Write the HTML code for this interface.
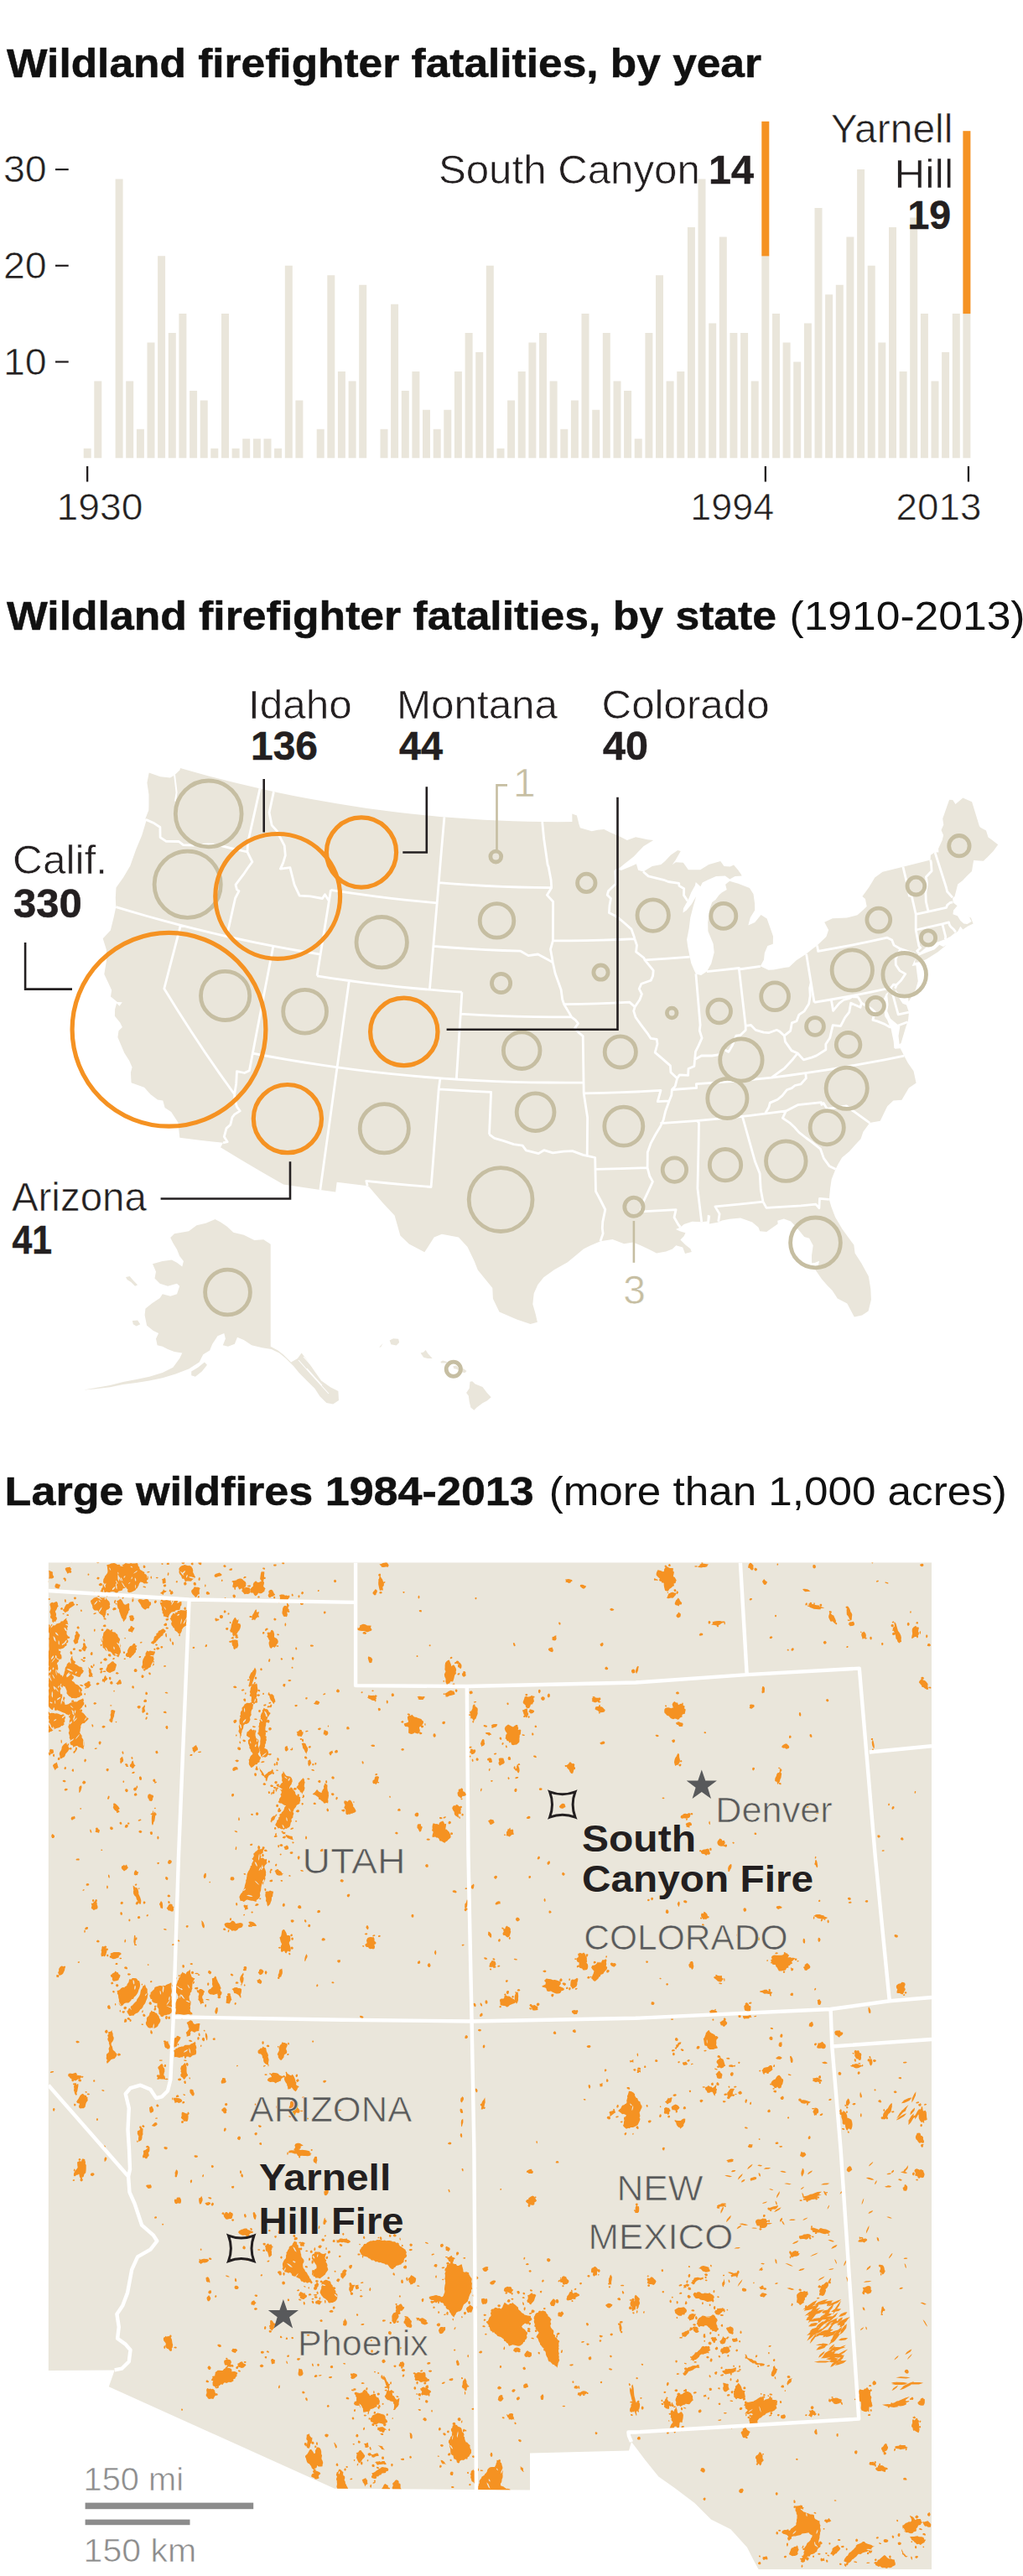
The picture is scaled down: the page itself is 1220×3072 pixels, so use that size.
<!DOCTYPE html>
<html><head><meta charset="utf-8"><title>Wildland firefighter fatalities</title>
<style>html,body{margin:0;padding:0;background:#fff}svg{display:block}text{font-family:"Liberation Sans",sans-serif}</style>
</head><body>
<svg width="1220" height="3072" viewBox="0 0 1220 3072">
<text x="8" y="91.5" font-size="48" font-weight="bold" stroke="#111" stroke-width="0.5" fill="#111" textLength="900" lengthAdjust="spacingAndGlyphs">Wildland firefighter fatalities, by year</text>
<path d="M99.7,546.2v-11.5h9v11.5zM112.3,546.2v-91.8h9v91.8zM137.6,546.2v-332.6h9v332.6zM150.2,546.2v-91.8h9v91.8zM162.9,546.2v-34.4h9v34.4zM175.5,546.2v-137.6h9v137.6zM188.1,546.2v-240.9h9v240.9zM200.8,546.2v-149.1h9v149.1zM213.4,546.2v-172.1h9v172.1zM226.1,546.2v-80.3h9v80.3zM238.7,546.2v-68.8h9v68.8zM251.3,546.2v-11.5h9v11.5zM264.0,546.2v-172.1h9v172.1zM276.6,546.2v-11.5h9v11.5zM289.2,546.2v-22.9h9v22.9zM301.9,546.2v-22.9h9v22.9zM314.5,546.2v-22.9h9v22.9zM327.1,546.2v-11.5h9v11.5zM339.8,546.2v-229.4h9v229.4zM352.4,546.2v-68.8h9v68.8zM377.7,546.2v-34.4h9v34.4zM390.3,546.2v-217.9h9v217.9zM402.9,546.2v-103.2h9v103.2zM415.6,546.2v-91.8h9v91.8zM428.2,546.2v-206.5h9v206.5zM453.5,546.2v-34.4h9v34.4zM466.1,546.2v-183.5h9v183.5zM478.8,546.2v-80.3h9v80.3zM491.4,546.2v-103.2h9v103.2zM504.0,546.2v-57.4h9v57.4zM516.7,546.2v-34.4h9v34.4zM529.3,546.2v-57.4h9v57.4zM541.9,546.2v-103.2h9v103.2zM554.6,546.2v-149.1h9v149.1zM567.2,546.2v-126.2h9v126.2zM579.8,546.2v-229.4h9v229.4zM592.5,546.2v-11.5h9v11.5zM605.1,546.2v-68.8h9v68.8zM617.7,546.2v-103.2h9v103.2zM630.4,546.2v-137.6h9v137.6zM643.0,546.2v-149.1h9v149.1zM655.6,546.2v-91.8h9v91.8zM668.3,546.2v-34.4h9v34.4zM680.9,546.2v-68.8h9v68.8zM693.5,546.2v-172.1h9v172.1zM706.2,546.2v-57.4h9v57.4zM718.8,546.2v-149.1h9v149.1zM731.5,546.2v-91.8h9v91.8zM744.1,546.2v-80.3h9v80.3zM756.7,546.2v-22.9h9v22.9zM769.4,546.2v-149.1h9v149.1zM782.0,546.2v-217.9h9v217.9zM794.6,546.2v-91.8h9v91.8zM807.3,546.2v-103.2h9v103.2zM819.9,546.2v-275.3h9v275.3zM832.5,546.2v-332.6h9v332.6zM845.2,546.2v-160.6h9v160.6zM857.8,546.2v-263.8h9v263.8zM870.4,546.2v-149.1h9v149.1zM883.1,546.2v-149.1h9v149.1zM895.7,546.2v-91.8h9v91.8zM908.3,546.2v-240.9h9v240.9zM921.0,546.2v-172.1h9v172.1zM933.6,546.2v-137.6h9v137.6zM946.2,546.2v-114.7h9v114.7zM958.9,546.2v-160.6h9v160.6zM971.5,546.2v-298.2h9v298.2zM984.1,546.2v-195.0h9v195.0zM996.8,546.2v-206.5h9v206.5zM1009.4,546.2v-263.8h9v263.8zM1022.1,546.2v-344.1h9v344.1zM1034.7,546.2v-229.4h9v229.4zM1047.3,546.2v-137.6h9v137.6zM1060.0,546.2v-275.3h9v275.3zM1072.6,546.2v-103.2h9v103.2zM1085.2,546.2v-286.8h9v286.8zM1097.9,546.2v-172.1h9v172.1zM1110.5,546.2v-91.8h9v91.8zM1123.1,546.2v-126.2h9v126.2zM1135.8,546.2v-172.1h9v172.1zM1148.4,546.2v-172.1h9v172.1z" fill="#eae6db"/>
<rect x="908.3" y="144.8" width="9" height="160.6" fill="#f59222"/>
<rect x="1148.4" y="156.2" width="9" height="217.9" fill="#f59222"/>
<text x="3.9" y="446.70000000000005" font-size="44" stroke="#fff" stroke-width="0.6" fill="#231f20" textLength="51.8" lengthAdjust="spacingAndGlyphs">10</text>
<rect x="66" y="430.4" width="15.7" height="2.2" fill="#231f20"/>
<text x="3.9" y="332.00000000000006" font-size="44" stroke="#fff" stroke-width="0.6" fill="#231f20" textLength="51.8" lengthAdjust="spacingAndGlyphs">20</text>
<rect x="66" y="315.7" width="15.7" height="2.2" fill="#231f20"/>
<text x="3.9" y="217.3" font-size="44" stroke="#fff" stroke-width="0.6" fill="#231f20" textLength="51.8" lengthAdjust="spacingAndGlyphs">30</text>
<rect x="66" y="201.0" width="15.7" height="2.2" fill="#231f20"/>
<rect x="103.0" y="556" width="2.3" height="18.5" fill="#231f20"/>
<rect x="911.7" y="556" width="2.3" height="18.5" fill="#231f20"/>
<rect x="1153.8" y="556" width="2.3" height="18.5" fill="#231f20"/>
<text x="67.5" y="620" font-size="44" stroke="#fff" stroke-width="0.6" fill="#231f20" textLength="103" lengthAdjust="spacingAndGlyphs">1930</text>
<text x="823.3" y="620" font-size="44" stroke="#fff" stroke-width="0.6" fill="#231f20" textLength="99.8" lengthAdjust="spacingAndGlyphs">1994</text>
<text x="1068.6" y="620" font-size="44" stroke="#fff" stroke-width="0.6" fill="#231f20" textLength="101.8" lengthAdjust="spacingAndGlyphs">2013</text>
<text x="522.9" y="218.5" font-size="48" stroke="#fff" stroke-width="0.6" fill="#231f20" textLength="311.9" lengthAdjust="spacingAndGlyphs">South Canyon</text>
<text x="899" y="218.5" font-size="48" font-weight="bold" stroke="#231f20" stroke-width="0.5" fill="#231f20" text-anchor="end" textLength="54" lengthAdjust="spacingAndGlyphs">14</text>
<text x="1136.4" y="169.5" font-size="48" stroke="#fff" stroke-width="0.6" fill="#231f20" text-anchor="end" textLength="145.7" lengthAdjust="spacingAndGlyphs">Yarnell</text>
<text x="1137.2" y="223.5" font-size="48" stroke="#fff" stroke-width="0.6" fill="#231f20" text-anchor="end" textLength="70.6" lengthAdjust="spacingAndGlyphs">Hill</text>
<text x="1134" y="273" font-size="48" font-weight="bold" stroke="#231f20" stroke-width="0.5" fill="#231f20" text-anchor="end" textLength="51.6" lengthAdjust="spacingAndGlyphs">19</text>
<text x="8" y="751" font-size="48" font-weight="bold" stroke="#111" stroke-width="0.5" fill="#111" textLength="918" lengthAdjust="spacingAndGlyphs">Wildland firefighter fatalities, by state</text>
<text x="941.5" y="751" font-size="48" fill="#111" textLength="281" lengthAdjust="spacingAndGlyphs">(1910-2013)</text>
<path d="M177.7,921.4 191.3,926.3 202.9,927.4 208.0,924.6 214.5,918.3 215.0,916.0 231.8,920.8 248.8,925.4 265.7,929.8 282.8,934.1 299.8,938.1 316.9,942.0 334.1,945.7 351.2,949.2 368.5,952.5 385.7,955.6 403.0,958.5 420.3,961.3 437.7,963.9 455.0,966.3 472.4,968.4 489.9,970.5 507.3,972.3 524.8,973.9 542.2,975.3 559.7,976.6 577.2,977.7 594.7,978.6 612.3,979.2 629.8,979.7 647.3,980.1 664.8,980.2 682.4,980.1 682.3,970.4 687.9,972.4 690.5,983.1 691.9,987.2 705.8,991.2 712.7,989.8 720.4,989.0 728.3,993.1 737.1,996.6 747.8,1002.0 758.1,998.2 772.2,1001.2 779.2,1002.0 767.4,1009.2 755.8,1021.4 745.6,1029.6 737.0,1036.4 740.7,1038.1 752.9,1033.1 758.9,1030.2 761.1,1037.8 767.1,1039.5 777.8,1033.0 788.3,1031.0 793.3,1026.7 799.8,1019.8 808.2,1013.9 811.8,1014.9 805.6,1025.7 801.6,1031.2 805.9,1028.3 814.8,1028.8 820.9,1037.3 835.2,1037.3 845.3,1031.1 859.2,1026.9 863.5,1032.9 870.7,1033.4 875.0,1031.6 880.2,1037.4 883.5,1042.2 884.7,1044.6 876.6,1044.9 870.3,1048.5 864.8,1044.4 854.0,1044.9 843.7,1049.4 837.7,1052.6 835.4,1057.2 829.8,1052.0 828.9,1056.0 824.3,1064.2 820.5,1073.6 815.0,1083.2 814.5,1088.4 818.8,1085.5 824.6,1078.5 830.2,1068.9 826.7,1080.9 823.3,1094.2 821.7,1107.3 819.1,1120.6 820.1,1128.3 822.7,1141.4 824.3,1148.8 828.0,1157.6 829.9,1161.4 836.1,1162.9 843.0,1158.6 848.2,1149.2 851.7,1135.8 850.6,1125.4 844.4,1110.4 844.2,1100.0 846.3,1084.2 849.2,1076.1 853.4,1073.0 857.4,1067.4 860.7,1064.4 866.7,1061.1 865.1,1054.8 870.1,1050.8 880.4,1053.7 893.9,1059.0 898.5,1066.2 900.1,1077.8 900.2,1085.6 894.8,1094.2 892.3,1103.6 900.2,1100.0 907.5,1091.1 914.6,1095.4 919.4,1109.1 922.0,1116.6 921.8,1125.8 915.4,1128.0 911.8,1136.4 911.0,1144.4 906.8,1152.3 916.5,1156.8 922.3,1156.5 935.5,1154.0 941.2,1153.2 949.7,1145.3 961.6,1137.6 968.7,1131.7 974.5,1127.5 985.4,1116.9 988.1,1109.0 983.2,1099.8 992.8,1095.2 1009.9,1094.6 1022.5,1091.2 1029.0,1085.4 1033.7,1081.0 1031.9,1072.1 1028.4,1068.9 1036.4,1057.9 1043.3,1046.6 1052.6,1039.7 1076.9,1033.7 1109.6,1025.5 1109.9,1019.7 1115.0,1016.3 1119.4,1016.4 1119.1,1011.9 1123.8,1001.8 1125.1,996.1 1122.5,990.1 1125.3,983.5 1124.2,976.3 1132.1,953.7 1136.2,954.1 1139.5,959.1 1148.3,951.6 1159.1,956.2 1167.9,985.0 1169.2,986.7 1176.0,990.6 1178.5,998.5 1182.1,1000.9 1190.2,1007.3 1184.6,1015.0 1177.3,1022.6 1172.8,1026.7 1161.1,1026.1 1159.0,1038.9 1153.0,1044.7 1147.8,1050.2 1142.2,1054.4 1140.4,1061.7 1138.5,1068.9 1136.1,1070.9 1136.6,1076.2 1141.6,1080.2 1137.1,1085.5 1136.4,1090.2 1141.9,1092.2 1145.4,1098.0 1149.4,1101.5 1153.5,1102.0 1158.6,1099.0 1156.1,1093.7 1152.9,1092.7 1157.9,1094.5 1160.6,1101.4 1154.2,1104.5 1148.3,1108.6 1145.3,1104.8 1142.0,1111.1 1138.5,1112.8 1133.6,1116.8 1127.3,1120.1 1117.5,1123.7 1108.3,1126.5 1100.1,1133.4 1095.9,1136.8 1093.1,1141.7 1090.6,1145.5 1087.6,1152.1 1092.4,1151.3 1093.6,1160.9 1094.8,1170.0 1092.0,1180.0 1087.0,1189.1 1083.6,1194.5 1082.8,1188.2 1076.3,1186.7 1069.3,1182.4 1067.5,1178.8 1068.6,1183.9 1073.5,1192.2 1076.5,1196.8 1081.0,1198.5 1084.0,1207.2 1083.0,1216.8 1080.5,1224.0 1077.5,1234.0 1074.5,1244.0 1072.6,1245.2 1071.5,1235.3 1073.3,1224.2 1069.5,1221.1 1062.0,1214.7 1058.2,1206.1 1059.5,1197.9 1058.3,1187.5 1059.4,1183.2 1056.8,1185.1 1053.3,1192.5 1051.6,1194.2 1053.9,1200.4 1055.3,1212.1 1058.3,1216.8 1060.7,1222.9 1048.5,1218.8 1055.5,1222.7 1062.5,1226.6 1064.1,1234.2 1065.7,1241.9 1066.3,1249.7 1067.6,1250.8 1073.7,1250.3 1078.3,1259.2 1082.7,1267.6 1089.5,1277.3 1092.6,1291.5 1083.8,1297.4 1075.4,1311.7 1065.4,1312.4 1058.2,1319.2 1049.7,1336.8 1037.2,1339.1 1029.4,1349.8 1026.5,1358.2 1019.2,1366.1 1012.8,1373.3 1004.1,1380.6 999.8,1387.8 996.5,1394.2 991.7,1406.2 990.1,1417.0 988.8,1430.3 991.3,1439.1 996.1,1451.4 1004.5,1465.7 1016.3,1482.1 1018.3,1484.4 1019.6,1494.6 1027.3,1506.4 1035.8,1521.9 1038.3,1537.1 1038.9,1549.9 1035.6,1563.4 1028.1,1568.6 1018.8,1570.6 1010.3,1554.6 998.8,1548.6 992.6,1539.1 987.1,1533.5 980.1,1525.4 972.7,1514.8 975.6,1510.5 977.0,1503.8 971.5,1505.9 968.1,1506.3 968.0,1497.3 969.7,1485.3 965.1,1476.8 959.2,1475.1 949.6,1463.3 943.1,1456.4 934.8,1453.5 927.2,1455.8 927.7,1459.6 914.2,1469.1 906.2,1468.2 904.5,1463.7 897.1,1457.5 883.1,1452.4 869.9,1453.7 861.1,1455.6 855.7,1457.7 845.8,1459.6 847.2,1449.8 843.8,1448.8 843.3,1456.6 836.7,1457.2 825.5,1456.8 815.7,1460.1 811.5,1463.5 806.0,1465.9 810.7,1468.2 817.5,1470.3 815.6,1474.3 811.4,1478.5 817.4,1484.5 823.4,1489.3 824.8,1493.1 817.0,1494.9 814.2,1487.4 806.2,1485.3 801.9,1489.5 794.2,1492.5 783.0,1494.4 773.7,1489.7 761.0,1483.9 755.3,1481.5 744.2,1483.3 730.5,1478.0 716.0,1480.2 703.8,1485.6 695.9,1489.6 688.1,1496.1 676.9,1505.2 661.0,1514.3 648.4,1523.2 641.4,1532.1 636.7,1542.4 635.3,1555.2 638.6,1566.7 640.9,1576.8 632.6,1578.9 616.3,1573.5 595.5,1564.5 587.9,1548.8 587.3,1536.0 569.8,1514.6 565.7,1504.1 557.5,1486.9 546.9,1475.5 526.9,1471.7 517.7,1475.5 506.3,1493.3 487.8,1483.5 477.4,1473.5 470.6,1449.5 456.5,1434.4 439.8,1415.1 438.2,1414.2 401.7,1409.8 400.2,1421.4 381.9,1418.9 359.9,1415.8 338.0,1412.4 312.7,1398.0 287.7,1383.3 263.0,1368.3 266.1,1362.8 240.2,1360.0 214.3,1356.8 213.4,1348.1 212.3,1338.5 204.2,1326.0 196.6,1321.0 194.3,1312.4 188.0,1311.4 179.7,1305.3 172.0,1296.7 156.6,1291.3 155.9,1279.0 157.6,1272.8 154.2,1265.1 148.2,1255.4 140.4,1237.0 141.5,1229.2 145.9,1225.0 143.2,1219.6 136.9,1211.7 137.1,1203.6 139.1,1196.6 142.5,1199.7 145.8,1195.2 140.0,1194.9 132.0,1188.5 133.2,1180.7 124.3,1161.8 126.9,1146.2 126.9,1132.6 122.7,1119.3 131.8,1109.6 135.5,1094.4 138.3,1081.7 137.8,1070.6 138.5,1058.6 147.2,1046.3 155.3,1032.5 162.2,1013.0 169.2,996.2 174.4,978.9 173.5,975.9 177.3,966.3 177.5,959.7 177.5,947.6 175.4,933.5ZM1091.0,1148.1 1096.5,1147.3 1104.7,1144.0 1118.5,1135.2 1128.9,1126.7 1124.9,1129.0 1120.3,1126.7 1114.7,1132.2 1104.7,1136.0 1095.6,1139.8 1091.9,1143.1Z" fill="#eae6db"/>
<path d="M203.2,1476.0 207.9,1471.3 225.1,1468.2 234.5,1461.3 245.4,1458.8 256.4,1454.1 262.7,1457.2 270.5,1462.5 278.3,1469.7 290.8,1472.8 303.3,1479.1 314.3,1478.2 322.7,1483.8 322.7,1605.8 331.5,1610.5 337.7,1615.2 347.1,1624.5 354.9,1619.9 359.6,1613.6 365.9,1621.4 375.3,1635.5 383.1,1646.4 394.0,1654.3 403.4,1659.0 404.0,1669.9 397.2,1674.6 389.3,1673.0 381.5,1665.2 375.3,1655.8 365.9,1646.4 356.5,1637.1 350.2,1629.2 340.9,1619.9 333.0,1613.6 323.6,1608.9 312.7,1607.3 300.2,1604.2 290.8,1598.0 283.0,1594.8 279.9,1602.7 272.0,1605.8 265.8,1604.2 268.9,1596.4 267.3,1590.1 259.5,1593.3 253.3,1602.7 250.1,1610.5 242.3,1615.2 237.6,1624.5 225.1,1632.4 209.5,1638.6 193.8,1643.3 178.2,1646.4 162.6,1648.9 146.9,1651.1 131.3,1654.3 112.5,1656.5 100.0,1657.4 131.3,1652.1 146.9,1648.0 162.6,1644.9 178.2,1641.8 193.8,1637.1 206.3,1630.8 214.2,1619.9 217.3,1613.6 207.9,1612.0 200.1,1608.9 193.8,1605.8 187.6,1604.2 186.0,1596.4 189.1,1590.1 182.9,1587.0 175.1,1580.8 172.6,1568.2 173.5,1560.4 181.3,1554.2 190.7,1547.9 193.8,1543.2 203.2,1545.7 211.0,1543.2 214.2,1533.8 211.0,1530.7 200.1,1533.8 190.7,1530.7 184.5,1524.5 186.0,1516.6 182.0,1507.3 193.8,1504.1 204.8,1502.6 211.0,1505.7 217.3,1510.4 218.9,1504.1 214.2,1497.9 211.0,1490.0 206.3,1482.2ZM150.0,1522.9 154.7,1522.0 159.4,1527.6 164.1,1532.3 161.0,1533.8 156.3,1529.1 151.6,1526.0ZM157.9,1575.1 164.1,1574.5 167.3,1579.2 162.6,1581.4 158.8,1579.2ZM228.2,1635.5 236.1,1630.8 243.9,1624.5 247.0,1627.7 240.8,1635.5 232.9,1641.8 228.2,1640.2ZM452.3,1606.4 456.7,1602.0 454.1,1606.4ZM464.6,1598.5 469.0,1596.2 475.2,1596.7 476.1,1601.1 472.6,1604.6 466.4,1603.2ZM501.6,1613.4 505.1,1612.6 507.7,1609.9 510.4,1614.3 515.7,1620.1 510.4,1620.1 505.1,1618.7ZM525.3,1624.0 528.0,1622.6 533.3,1624.0 532.4,1625.4 526.2,1625.4ZM540.3,1629.3 543.8,1628.4 546.5,1631.0 552.6,1631.9 556.5,1634.9 554.4,1637.2 549.1,1636.0 544.7,1632.8 541.2,1631.9ZM560.5,1647.7 563.2,1647.2 566.7,1650.4 575.5,1653.9 580.8,1660.9 585.7,1666.2 580.8,1670.6 575.5,1673.3 568.5,1678.5 565.3,1681.7 561.4,1678.5 559.7,1671.5 558.8,1664.5 556.1,1660.9 559.7,1655.7Z" fill="#eae6db"/>
<path d="M356,1622L372,1640L392,1662M362,1618L380,1638L398,1655M366,1632L384,1652" fill="none" stroke="#fff" stroke-width="1.1"/>
<path d="M173.9,977.4 183.9,981.8 190.9,986.5 191.1,998.6 198.2,1003.4 213.2,1003.5 218.6,1007.7 230.6,1008.2 247.7,1006.8 258.7,1007.4 276.8,1011.8 295.0,1016.0M310.0,940.4 302.8,972.6 295.5,1005.0 295.0,1016.0 300.9,1027.8 295.1,1035.8 290.4,1042.7 281.0,1055.2 282.5,1060.8 285.0,1062.7 280.6,1071.0 270.4,1116.6M138.3,1081.7 156.8,1087.2 175.3,1092.5 193.9,1097.7 212.5,1102.6 231.2,1107.4 249.9,1111.9 268.7,1116.3 287.5,1120.4 306.4,1124.4 325.3,1128.1 344.2,1131.6 363.2,1135.0 382.2,1138.1M215.4,1103.4 208.9,1128.6 202.3,1153.8 195.8,1179.0 211.6,1204.5 227.8,1229.8 244.5,1255.1 261.8,1280.1 279.6,1305.0 279.8,1310.4 282.6,1320.2 286.2,1324.9 279.8,1328.9 277.0,1332.4 274.8,1341.2 270.0,1345.6 267.3,1355.6 271.2,1361.7 266.1,1362.8M279.6,1305.0 281.7,1292.2 282.5,1277.7 291.6,1279.5 297.4,1276.7 303.1,1247.0 308.8,1217.3 314.5,1187.6 320.2,1157.9 325.9,1128.2M326.4,944.1 321.1,969.0 324.1,984.1 330.0,990.6 334.5,999.4 339.3,1008.7 340.3,1020.2 337.7,1028.9 334.4,1036.1 345.9,1034.7 351.1,1055.1 357.2,1068.1 370.1,1068.8 384.5,1071.5 387.5,1066.7 392.4,1074.6M394.5,1061.3 390.4,1086.9 386.3,1112.5 382.2,1138.1 378.1,1163.8M394.5,1061.3 412.5,1064.1 430.6,1066.7 448.7,1069.1 466.8,1071.3 484.9,1073.3 503.0,1075.1 521.2,1076.8M529.9,974.3 527.7,999.8 525.5,1025.4 523.4,1051.0 521.2,1076.8 519.0,1102.6 516.8,1128.4 514.6,1154.3 512.4,1180.2M378.1,1163.8 397.2,1166.8 416.4,1169.5 435.5,1172.1 454.7,1174.4 473.9,1176.6 493.2,1178.5 512.4,1180.2 531.7,1181.8 550.9,1183.1M416.4,1169.5 412.5,1197.2 408.7,1225.0 404.9,1252.7 401.0,1280.5 397.2,1308.2 393.4,1336.0 389.5,1363.6 385.7,1391.3 381.9,1418.9M301.4,1256.2 321.9,1260.0 342.5,1263.6 363.1,1267.0 383.7,1270.2 404.4,1273.1 425.1,1275.8 445.8,1278.3 466.6,1280.6 487.4,1282.7 508.2,1284.5 529.0,1286.1 549.9,1287.5 570.7,1288.6 591.6,1289.6 612.4,1290.3 633.3,1290.8 654.2,1291.0 675.1,1291.1 696.0,1290.9M550.9,1183.1 549.3,1209.1 547.6,1235.1 546.0,1261.1 544.3,1287.1M549.3,1209.1 571.3,1210.4 593.3,1211.4 615.4,1212.1 637.4,1212.6 659.5,1212.8 681.5,1212.8M516.8,1128.4 537.6,1130.0 558.4,1131.4 579.2,1132.6 600.0,1133.5 620.9,1134.2 630.1,1139.6 641.5,1138.0 654.6,1145.1 659.3,1147.8M523.2,1052.6 542.4,1054.1 561.6,1055.4 580.8,1056.5 600.0,1057.4 619.3,1058.0 638.5,1058.4 657.7,1058.7M646.7,980.1 648.7,1000.5 649.8,1008.2 653.1,1031.3 654.2,1033.9 657.1,1049.4 657.7,1058.7 652.4,1067.4 659.6,1075.2 659.4,1121.8 656.5,1132.2 658.4,1142.6 659.3,1147.8 662.1,1160.8 665.9,1171.2 669.1,1180.3 670.7,1192.0 672.7,1197.7 678.6,1207.6 681.5,1212.8 686.5,1216.7 689.5,1220.6 685.6,1225.8 689.6,1231.0 695.2,1235.6 695.7,1269.8 696.2,1303.9 700.6,1332.5 700.2,1378.3M659.4,1121.8 678.9,1121.8 698.4,1121.6 717.9,1121.1 737.4,1120.5 756.9,1119.6M672.7,1197.7 692.2,1197.4 711.7,1196.8 731.2,1196.1 750.8,1195.1 757.1,1200.8M696.2,1303.9 719.1,1303.4 742.1,1302.7 765.1,1301.7 788.0,1300.4 784.3,1313.7 798.1,1312.8M583.5,1352.9 589.6,1357.3 600.1,1360.3 612.7,1364.6 623.2,1366.1 627.4,1371.9 642.2,1375.6 648.7,1371.7 659.3,1374.9 672.1,1373.1 682.7,1372.6 695.5,1377.4 700.2,1378.3 709.7,1380.5 710.5,1420.8 712.6,1424.6 716.0,1431.0 721.8,1442.5 718.8,1456.9 718.3,1464.6 719.1,1471.1 716.0,1480.2M525.0,1285.8 523.2,1298.8 544.0,1300.2 564.8,1301.4 585.6,1302.4 583.5,1352.9M523.2,1298.8 520.9,1328.0 518.6,1357.2 516.4,1386.4 514.1,1415.5 488.3,1413.4 462.6,1411.0 436.8,1408.3 438.2,1414.2M710.0,1394.3 740.8,1393.7 771.7,1392.6M737.0,1036.4 733.8,1038.9 734.4,1054.0 725.5,1062.6 724.2,1067.3 728.5,1071.6 727.0,1079.4 726.4,1088.5 735.7,1093.3 743.3,1099.5 753.0,1108.1 756.2,1117.0 756.9,1119.6 759.5,1127.2 758.6,1135.1 767.9,1142.4 769.0,1144.9 774.1,1151.2 779.2,1157.4 778.6,1163.9 776.1,1169.3 764.8,1173.3 762.2,1179.2 765.4,1185.5 762.9,1192.2 757.1,1200.8 755.7,1205.6 758.1,1213.3 764.4,1222.1 772.9,1233.4 776.2,1238.4 783.2,1239.3 784.0,1245.0 781.2,1255.1 789.7,1262.4 799.4,1270.9 799.9,1278.7 807.6,1286.0 805.2,1295.4 801.3,1299.5 800.8,1306.1 798.1,1312.8 793.7,1324.9 791.2,1335.5 787.5,1343.5 781.7,1353.0 776.0,1363.7 772.3,1374.3 772.1,1392.6 774.8,1402.8 778.4,1409.1 773.5,1419.8 766.6,1434.4 764.2,1444.9 806.1,1442.6 804.0,1451.8 809.0,1460.5 811.5,1463.5M769.0,1144.9 795.9,1143.2 822.7,1141.1M767.1,1039.5 773.2,1044.9 791.4,1049.3 797.0,1051.5 809.7,1053.3 810.0,1056.4 815.7,1059.8 815.5,1067.6 819.6,1073.7 820.5,1073.6M829.9,1161.4 832.5,1191.8 835.1,1222.3 834.3,1229.0 837.1,1237.9 832.9,1247.4 829.5,1254.2 828.6,1263.5M967.2,1171.8 965.7,1178.3 966.2,1187.5 964.7,1197.0 959.2,1205.8 952.8,1210.2 950.0,1217.7 944.3,1219.9 942.6,1229.4 935.4,1235.2 929.6,1229.9 926.3,1228.3 916.7,1231.7 910.6,1231.1 901.2,1228.4 895.5,1222.5 889.2,1223.3 889.2,1228.5 882.9,1234.5 877.9,1235.1 873.2,1246.9 868.9,1254.4 862.5,1251.1 858.1,1257.6 849.1,1259.0 837.0,1258.8 828.6,1263.5 827.9,1271.4 821.0,1274.6 820.6,1282.4 810.4,1281.9 807.6,1286.0M881.4,1156.0 885.3,1189.6 889.2,1223.3M843.0,1158.6 862.2,1156.6 881.3,1154.5 881.4,1156.0 906.8,1152.3M801.3,1299.5 830.7,1297.3 830.3,1292.6 852.7,1291.1 875.2,1289.4 897.6,1287.4 920.1,1285.1 940.4,1282.5 960.8,1279.7 984.4,1276.1 1007.9,1272.3 1031.5,1268.2 1054.9,1263.8 1078.3,1259.2M960.8,1279.7 961.3,1285.9 955.1,1292.9 948.0,1294.5 944.2,1297.6 938.3,1299.8 932.9,1306.6 927.3,1311.3 918.3,1315.1 916.9,1320.5 912.2,1328.4M787.3,1339.6 808.8,1338.2 830.2,1336.6 851.7,1334.7 873.1,1332.6 894.6,1330.3 916.0,1327.7 937.3,1324.9M831.2,1336.5 833.5,1338.9 833.1,1365.1 832.5,1391.2 831.9,1417.3 836.7,1457.2M885.5,1331.8 893.0,1358.6 900.5,1385.3 906.1,1399.6 907.3,1419.1 910.0,1433.1 914.0,1440.4 955.2,1437.8 972.9,1436.1 976.9,1440.7 977.5,1429.4 983.1,1429.8 988.8,1430.3M856.7,1456.8 858.1,1447.6 852.9,1438.9 881.5,1436.2 910.0,1433.1M937.3,1324.9 933.4,1333.3 941.6,1338.8 947.7,1344.5 952.8,1350.3 961.3,1357.0 967.3,1361.4 978.4,1370.2 982.4,1381.4 989.3,1390.8 996.5,1394.2M937.3,1324.9 951.3,1317.7 979.4,1314.7 979.8,1317.3 982.1,1315.6 986.4,1322.3 1009.5,1319.0 1037.2,1339.1M920.1,1285.1 931.0,1277.1 935.7,1273.8 945.5,1263.2 951.2,1256.0 944.0,1252.9 936.4,1242.1 935.4,1235.2M951.2,1256.0 958.4,1263.9 967.9,1261.1 973.7,1258.9 984.9,1251.8 984.8,1245.2 989.7,1237.8 993.2,1222.6 1002.5,1223.6 1007.8,1213.4 1012.7,1207.2 1014.7,1196.2 1026.1,1201.2 1027.3,1195.9M991.3,1192.0 993.6,1205.3 1000.7,1196.6 1006.0,1192.5 1012.6,1190.7 1016.2,1188.5 1023.4,1189.2 1027.3,1195.9 1032.4,1199.4 1038.1,1202.3 1043.2,1206.6 1040.9,1216.3 1046.3,1217.9 1055.2,1221.4 1061.8,1225.4M971.1,1195.4 994.0,1191.5 1016.9,1187.3 1039.7,1182.8 1062.5,1178.0 1071.2,1209.8 1084.0,1207.2M961.6,1137.6 966.3,1166.5 971.1,1195.4M974.5,1127.5 975.7,1134.4 996.4,1130.7 1017.0,1126.8 1037.6,1122.6 1058.2,1118.2 1063.7,1121.0 1066.0,1127.1 1074.0,1131.7 1068.1,1143.5 1068.3,1150.6 1072.9,1157.6 1079.7,1161.4 1074.5,1169.3 1069.2,1174.4 1067.5,1178.8M1074.0,1131.7 1091.1,1137.4M1069.2,1174.4 1065.5,1174.2 1062.5,1178.0M1069.1,1223.8 1082.4,1218.8M1095.9,1136.8 1093.7,1134.1 1097.7,1130.2 1095.9,1128.2 1092.2,1109.0 1092.2,1090.3 1087.3,1068.8 1084.3,1068.2 1083.0,1059.1 1076.9,1033.7M1092.2,1109.0 1123.8,1101.9 1131.5,1099.9 1132.3,1102.9 1133.9,1105.2 1137.3,1108.3 1139.8,1111.7M1123.8,1101.9 1127.7,1117.0 1127.3,1120.1M1092.2,1090.3 1107.1,1087.1 1128.5,1082.4 1129.6,1079.4 1132.8,1076.7 1136.1,1075.8M1107.1,1087.1 1104.3,1075.3 1103.9,1064.6 1105.5,1053.5 1104.4,1045.8 1111.1,1038.7 1110.3,1028.2 1109.6,1025.5M1136.0,1070.4 1129.6,1063.3 1128.4,1058.2 1121.3,1036.0 1115.0,1016.3" fill="none" stroke="#fff" stroke-width="2.8" stroke-linejoin="round"/>
<path d="M208.1,924.2 209.2,933.0 210.6,945.1 209.0,955.6" fill="none" stroke="#fff" stroke-width="2"/>
<circle cx="248.7" cy="970.4" r="39.4" fill="none" stroke="#c6bea2" stroke-width="4.8"/>
<circle cx="223.7" cy="1054.8" r="39.6" fill="none" stroke="#c6bea2" stroke-width="4.8"/>
<circle cx="268.6" cy="1187.4" r="29.1" fill="none" stroke="#c6bea2" stroke-width="4.8"/>
<circle cx="363.6" cy="1206.2" r="25.9" fill="none" stroke="#c6bea2" stroke-width="4.8"/>
<circle cx="455.2" cy="1123.7" r="30.2" fill="none" stroke="#c6bea2" stroke-width="4.8"/>
<circle cx="591.3" cy="1021.6" r="6.4" fill="none" stroke="#c6bea2" stroke-width="4.8"/>
<circle cx="592.5" cy="1097.9" r="20.3" fill="none" stroke="#c6bea2" stroke-width="4.8"/>
<circle cx="597.6" cy="1172.5" r="11.1" fill="none" stroke="#c6bea2" stroke-width="4.8"/>
<circle cx="622.2" cy="1252.7" r="21.8" fill="none" stroke="#c6bea2" stroke-width="4.8"/>
<circle cx="699.3" cy="1052.9" r="10.7" fill="none" stroke="#c6bea2" stroke-width="4.8"/>
<circle cx="716.5" cy="1159.6" r="8.6" fill="none" stroke="#c6bea2" stroke-width="4.8"/>
<circle cx="739.8" cy="1254.4" r="18.6" fill="none" stroke="#c6bea2" stroke-width="4.8"/>
<circle cx="778.7" cy="1091.6" r="18.7" fill="none" stroke="#c6bea2" stroke-width="4.8"/>
<circle cx="862.8" cy="1092.4" r="15.0" fill="none" stroke="#c6bea2" stroke-width="4.8"/>
<circle cx="801.2" cy="1208" r="5.8" fill="none" stroke="#c6bea2" stroke-width="4.8"/>
<circle cx="857.7" cy="1206" r="13.8" fill="none" stroke="#c6bea2" stroke-width="4.8"/>
<circle cx="924.1" cy="1188.3" r="16.4" fill="none" stroke="#c6bea2" stroke-width="4.8"/>
<circle cx="972" cy="1224" r="10.4" fill="none" stroke="#c6bea2" stroke-width="4.8"/>
<circle cx="883.9" cy="1264" r="25.2" fill="none" stroke="#c6bea2" stroke-width="4.8"/>
<circle cx="1143.9" cy="1008.7" r="12.2" fill="none" stroke="#c6bea2" stroke-width="4.8"/>
<circle cx="1092.4" cy="1056.6" r="10.4" fill="none" stroke="#c6bea2" stroke-width="4.8"/>
<circle cx="1047.8" cy="1097.1" r="13.9" fill="none" stroke="#c6bea2" stroke-width="4.8"/>
<circle cx="1107" cy="1118.4" r="8.6" fill="none" stroke="#c6bea2" stroke-width="4.8"/>
<circle cx="1016.3" cy="1157" r="24.2" fill="none" stroke="#c6bea2" stroke-width="4.8"/>
<circle cx="1078.7" cy="1162.3" r="25.8" fill="none" stroke="#c6bea2" stroke-width="4.8"/>
<circle cx="1044.2" cy="1199.5" r="10.2" fill="none" stroke="#c6bea2" stroke-width="4.8"/>
<circle cx="1011.6" cy="1245.8" r="14.3" fill="none" stroke="#c6bea2" stroke-width="4.8"/>
<circle cx="867.4" cy="1309.9" r="23.6" fill="none" stroke="#c6bea2" stroke-width="4.8"/>
<circle cx="1009.7" cy="1297.8" r="24.6" fill="none" stroke="#c6bea2" stroke-width="4.8"/>
<circle cx="986.2" cy="1344.7" r="20.1" fill="none" stroke="#c6bea2" stroke-width="4.8"/>
<circle cx="937.3" cy="1384.6" r="23.8" fill="none" stroke="#c6bea2" stroke-width="4.8"/>
<circle cx="865" cy="1389.2" r="18.7" fill="none" stroke="#c6bea2" stroke-width="4.8"/>
<circle cx="804.4" cy="1395.1" r="14.2" fill="none" stroke="#c6bea2" stroke-width="4.8"/>
<circle cx="743.8" cy="1343.1" r="23.0" fill="none" stroke="#c6bea2" stroke-width="4.8"/>
<circle cx="755.9" cy="1439.3" r="11.1" fill="none" stroke="#c6bea2" stroke-width="4.8"/>
<circle cx="972.5" cy="1481.9" r="29.9" fill="none" stroke="#c6bea2" stroke-width="4.8"/>
<circle cx="458.3" cy="1345.8" r="29.1" fill="none" stroke="#c6bea2" stroke-width="4.8"/>
<circle cx="638.6" cy="1326.2" r="22.4" fill="none" stroke="#c6bea2" stroke-width="4.8"/>
<circle cx="597.1" cy="1430.6" r="37.9" fill="none" stroke="#c6bea2" stroke-width="4.8"/>
<circle cx="271.5" cy="1541" r="26.9" fill="none" stroke="#c6bea2" stroke-width="4.8"/>
<circle cx="540.8" cy="1632.8" r="8.6" fill="none" stroke="#c6bea2" stroke-width="4.8"/>
<circle cx="331.2" cy="1068.9" r="74.4" fill="none" stroke="#f59222" stroke-width="5.2"/>
<circle cx="201.5" cy="1227.8" r="115.4" fill="none" stroke="#f59222" stroke-width="5.2"/>
<circle cx="431" cy="1016.5" r="41.6" fill="none" stroke="#f59222" stroke-width="5.2"/>
<circle cx="481.8" cy="1230.4" r="40.2" fill="none" stroke="#f59222" stroke-width="5.2"/>
<circle cx="342.9" cy="1334.1" r="40.6" fill="none" stroke="#f59222" stroke-width="5.2"/>
<path d="M30.1,1124V1179.6H86" fill="none" stroke="#231f20" stroke-width="2.6"/>
<path d="M314.7,929V992.5" fill="none" stroke="#231f20" stroke-width="2.6"/>
<path d="M508.8,938.3V1016.5H480.3" fill="none" stroke="#231f20" stroke-width="2.6"/>
<path d="M736.5,950.8V1227.7H532.6" fill="none" stroke="#231f20" stroke-width="2.6"/>
<path d="M346,1385.3V1429.5H191.6" fill="none" stroke="#231f20" stroke-width="2.6"/>
<path d="M605,936.4H592.5V1013.4" fill="none" stroke="#c6bea2" stroke-width="2.6"/>
<path d="M755.9,1456V1505.8" fill="none" stroke="#c6bea2" stroke-width="2.6"/>
<text x="15.1" y="1041.5" font-size="48" stroke="#fff" stroke-width="0.6" fill="#231f20" textLength="112.9" lengthAdjust="spacingAndGlyphs">Calif.</text>
<text x="16" y="1093.5" font-size="48" font-weight="bold" stroke="#231f20" stroke-width="0.5" fill="#231f20" textLength="81.8" lengthAdjust="spacingAndGlyphs">330</text>
<text x="296" y="857" font-size="48" stroke="#fff" stroke-width="0.6" fill="#231f20" textLength="123.9" lengthAdjust="spacingAndGlyphs">Idaho</text>
<text x="299" y="906" font-size="48" font-weight="bold" stroke="#231f20" stroke-width="0.5" fill="#231f20" textLength="80" lengthAdjust="spacingAndGlyphs">136</text>
<text x="473" y="857" font-size="48" stroke="#fff" stroke-width="0.6" fill="#231f20" textLength="192" lengthAdjust="spacingAndGlyphs">Montana</text>
<text x="476" y="906" font-size="48" font-weight="bold" stroke="#231f20" stroke-width="0.5" fill="#231f20" textLength="52" lengthAdjust="spacingAndGlyphs">44</text>
<text x="717.6" y="857" font-size="48" stroke="#fff" stroke-width="0.6" fill="#231f20" textLength="200" lengthAdjust="spacingAndGlyphs">Colorado</text>
<text x="719" y="906" font-size="48" font-weight="bold" stroke="#231f20" stroke-width="0.5" fill="#231f20" textLength="54" lengthAdjust="spacingAndGlyphs">40</text>
<text x="13.9" y="1443.5" font-size="48" stroke="#fff" stroke-width="0.6" fill="#231f20" textLength="161" lengthAdjust="spacingAndGlyphs">Arizona</text>
<text x="14.5" y="1494.5" font-size="48" font-weight="bold" stroke="#231f20" stroke-width="0.5" fill="#231f20" textLength="47.5" lengthAdjust="spacingAndGlyphs">41</text>
<text x="612" y="949.5" font-size="48" stroke="#fff" stroke-width="0.6" fill="#c6bea2">1</text>
<text x="756.5" y="1555" font-size="48" stroke="#fff" stroke-width="0.6" fill="#c6bea2" text-anchor="middle">3</text>
<text x="5.6" y="1794.6" font-size="48" font-weight="bold" stroke="#111" stroke-width="0.5" fill="#111" textLength="631.2" lengthAdjust="spacingAndGlyphs">Large wildfires 1984-2013</text>
<text x="654.7" y="1794.6" font-size="48" fill="#111" textLength="546.1" lengthAdjust="spacingAndGlyphs">(more than 1,000 acres)</text>
<clipPath id="landclip"><path d="M57.8,1863.4 1111.0,1863.4 1111.0,3064.0 904.6,3064.0 898.8,3053.3 890.9,3037.7 871.4,3016.2 847.9,3004.4 828.4,2984.9 804.9,2967.3 785.4,2953.6 769.7,2934.0 758.0,2918.4 753.0,2912.0 750.0,2922.5 632.0,2925.5 632.0,2969.4 399.0,2967.8 129.8,2846.3 136.7,2826.4 57.8,2827.0Z"/></clipPath>
<path d="M57.8,1863.4 1111.0,1863.4 1111.0,3064.0 904.6,3064.0 898.8,3053.3 890.9,3037.7 871.4,3016.2 847.9,3004.4 828.4,2984.9 804.9,2967.3 785.4,2953.6 769.7,2934.0 758.0,2918.4 753.0,2912.0 750.0,2922.5 632.0,2925.5 632.0,2969.4 399.0,2967.8 129.8,2846.3 136.7,2826.4 57.8,2827.0Z" fill="#eae6db"/>
<g clip-path="url(#landclip)"><path d="M85.4,1871.1l-1.1,1.3-.9,1-1.6,1.1-1.9-.7-.6-1.3-.6-1.3 .8-1.3 1.8-.4 2-.9 .9,1.5zM63.9,2088.2l0,1.8-.9,1.2-1.2,.1-1.6,1-.8-2-.4-1.8 .3-1.7 1-1.1 1.3,.6 1.7-.1zM68.9,2106.3l-.4,1.9-1.4,.8-1.6,.6-.5-2-.9-1.1 0-2 1.1-1.6 1.5-.4 1,1.2 1.1,.8zM160.4,1930l-.9,1.4-.7,1.8-2,.1-1.7-.7-.3-1.8-.1-1.3-.8-2.2 1.8-.9 1.9-.2 1.7,.7 0,1.9zM286.5,1941.7l-1.2,2.5-1.5,1.8-1.1,2.1-1.2,1.6-1.2-.6-1.2,2.5-1-.5-.7-1.3-.1-1.9-.3-1.4-1.3,.4-.8-.9-.8-1.3 1.1-2.8 .5-2.1 .3-2.2 .8-2.2 .7-2.4 1.1-2 1.2-1.7 1.2-.2 .8,2 .7,.6 .5,.7 1.5-1.6-.2,2.6-.8,2.5 1,.2 1.9,.4 .8,2.3zM284.4,1952.5l-.9,.9-1.2,.4-1.3-.4-.7-.9 .6-.9 1.3-.3 1.3,.3zM275.7,1935.2l-.3,.7-1,.1-.6-.5-.3-.8 .6-.5 .8-.4 .6,.7zM278.4,1953.3l-.4,1.1-.7,.1-.6-.6-.1-1.1 .7-.8 .8-.3 .6,.5zM283.6,1949.7l-.2,1.4-1.2,.9-1.3-.6-.8-.8-.1-1.3 1.3-.6 1.1,.4zM284,1960.3l.3,1.9-.7,1.7-.8,1.7-1.5,0-1.4,1.6-1.5-1.1-.2-2.7-1.1-1-.4-1.7-.2-1.9-.4-2.8 2-.2 1.4-.3 1.2-.1 1.4,.3 1.5,.5 .1,2.4zM276.6,1957.9l-.6,.7-1.2,.5-1.3-.5-.5-1 .9-.7 1.1-.3 1.3,.3zM278.9,1953.8l-.4,.7-1.5-.2-1.2-.3-.5-.7 .9-.5 1.1-.2 1.1,.5zM329.8,1953.7l1.4,1.8 .6,2.1-.4,1.8-.9,1.2-.8,1-.1,1.9-1.3,.1-.8,1.3-1.3-.8-1.2,.2-1.7,1.6-1.6-1.5-.9-2.8-.3-2.7 1-2.4-1-1.2-.5-1.5-1.8-2.6 1.2-.9-.9-3.1 1.2-.7 1.6,.3 1.1-.2 .8-2.3 1.5-.5 1.6,1.6 .9,3.4-.2,3.3 .9,.8zM332.3,1962.9l-.4,.8-.6,.4-.7-.2-.4-.7 .1-.9 .7-.2 .7,.2zM318.5,1943.7l-.8,.9-.7,.4-.9-.2 0-1.4 .6-1.1 .8-.5 .7,.7zM332.9,1949.7l-.7,.5-.9,0-.9-.5-.1-.9 .6-.4 1,0 .9,.5zM319.6,1943.1l-.5,.7-.9-.1-.8-.5 0-.9 .7-.5 .8-.2 .7,.6zM314,1891.7l1.2,1.2 1.4,1.6-1,1.6-.2,1.7-1.6,1-1.1,1-1.5,.5-1.6,0-1.4-.7-1.5,2.3-2.2,1.4-1.5-1.5-.8-1.9-1.2-1.2-2-.9-.9-1.8 1.3-2 1.4-1.5 1.2-1-.2-1.7 .4-1.6 .9-1.5 1.9,.2 1.4-.5 1.5,.8 1.5-.4 2.1-1 2.5-.4 1.1,1.8-.5,2.6zM309.8,1904.2l-.1,1-.9,.3-.9,0-.9-.6 .5-1 .7-.6 .9,.1zM314.5,1884l-.3,1.1-.6,.8-.8-.6-.2-1.3 .2-1.3 .7-.5 .7,.5zM299,1891.1l-.2,.7-.6,.7-1-.1-.6-.6 .2-.8 .6-.7 1,.2zM293.3,1890.1l-.1,1.7-1.6,1.1-2.1,.2-1.3,.7-1.2,1.2-1.8,.5-1.1-2.4-.9-1-3,1.4-2.7-.6-.1-2.1 .7-1.8-.3-1.7 .6-1.6 1.5-1 1.9-.2 1-.9 1.4-.6 1.6-.5 1.7-.1 1.6,.8 1.1,1.2 1.4,1 1.4,1.3 .4,1.6zM281.1,1893.8l-.1,1.2-.3,1-1-.3-.4-1.4-.1-1.2 .3-1.2 1,.6zM293.7,1880.7l-.3,.8-1.4,.5-1.4,.4-.4-.8 .4-.7 .9-.8 1.5,0zM294.8,1893.6l-.1,.9-1,.4-1.1,0-.5-.8 .1-1 1.1-.3 1,.1zM298,1896.4l.4,1.3 0,1.6-1.3,1.3-1.8,.4-1.7-.3-2,.5-.9-1.3-1.1-1.1-1.4-1.4 .7-1.7 2.4-.5 1.1-.9 1.4-.9 1.8-.5 1.8,.6 1,1.3zM301.7,1898.3l-.4,1.4-1.5-.2-1.2-.5 0-1.2 .2-1.6 1.6,.1 1,.7zM297.4,1891.4l-.5,.5-.8,.3-.9-.2-.3-.6 .3-.5 .9-.3 .9,.2zM264.5,1877.6l-.3,1.5-2.5,.7-1.5,.3-2.2,1-1.9-.6-.6-1.4 .6-1.3 1.5-1.1 1.9-.5 2.3-.6 1.3,1zM326.9,1900.2l.2,2.4-1.6,1.1-1.2,.2-1,.4-1.3,1.1-1.7-.8-.7-2.4 1.2-2-.6-2.1 .8-1.4 1.3-.7 1.3-.3 1.4,.8 .9,1.8zM328.4,1905l-.4,1-.7,.4-.8-.2-.3-1 .1-1.1 .7-.3 .8,.2zM328,1901.9l-.5,.6-.7,.1-.2-.6-.3-.6 .5-.6 .7-.1 .4,.6zM344.1,1905.1l-.2,1.9-1.2,1.5-1.2,1.2-1.8-.2-1.4,.9-1.3-.9-1.8-.1-2.1-.9 .9-2.2-.1-1.6-.7-2.4 2.2-.7 1.9-.1 1.5,.2 1.1,1 1.6-.1 2.3,.5zM334,1909.7l-.4,1.2-.8,.7-.9-.6-.5-1.2 .5-1.2 .8-.5 .8,.4zM345.5,1904l-.3,1.1-.4,.8-.6-.5-.3-1.3 .2-1.1 .4-.8 .6,.5zM343.9,1921.8l-1.6,.9 .6,3-.9,2.5-1.6-.5-1.4,.3-1.1-.8-.7-1.6-.7-1.4 0-1.9 .4-1.7 .1-1.9 .6-2 1.2-1.4 1.3-.5 1.2,.5 1.2,.1 1.2,.8-.1,2.2 1.5,1.3zM343.5,1912.9l-.1,1.1-.6,0-.6,0-.3-.9 .2-1 .5-.4 .6,.3zM344.7,1914.4l-.2,1.3-.8,.5-1,0-.7-1.2 .4-1.2 .6-1.1 1,.5zM308.1,1927.6l-1.8,1.6-1.2,1.1-1.1,2.1-1-1.2-1.2,.6-1.6,.2 .3-2.5 0-2.1 1-2.1 1.1-1.6 .9-1.9 1.2-2.1 1.4-.3-.1,3.2 1.1-.1 2.1-.2-.9,2.8zM309,1927.6l-.3,.7-.3,.7-.7-.3-.4-.7 .1-.9 .5-.5 .7,.2zM300.5,1928.4l-.8,.5-1.1,0-1.2-.5 0-.9 .7-.5 1,.1 1.2,.4zM315.2,1880.6l-.5,2.3-.6,3.2-1.3,1.7-.9-1.6-.5-1.5-.5-.8-.8-.8 .3-2.3 .3-2.4 .5-2.9 1.2-1.8 1,1 .9-.6 .9,.3 .1,2.1-.4,2.2zM316.1,1870.9l-.4,.8-1.3-.2-1-.5-.3-.9 .7-.6 1.1,0 1.1,.6zM316.7,1881.5l.2,.9-1.3,.6-1.3,0-.7-.7 .2-.9 1.3-.5 1.3-.2zM303.3,2000.4l-.6,1.7-.5,1.7-.7,1.7-.9,2.8-1.2,2.8-.9-.4-1.3,1-.8-1.1 1.3-4.9 .5-2.4-.6-1-.7-2 1.1-2.4 .9-2.1 1-1.5 .9-.4 .8-2 .8-.2 1.6-3.2 .6,1.2 .7,1.2 .3,1.8-.3,2.8-.9,2.8zM306.5,2000.9l-.6,1.1-.6,.8-1-.2-.7-1.1 .3-1.1 .7-.8 1,.2zM303.8,2008l0,.7-.5,.3-.6-.1-.3-.7 .2-.6 .4-.6 .6,.2zM303.5,2008.9l-.6,.8-1.1,.6-1.3,0-.5-.6 .2-.8 1.2-.7 1.2,.2zM297.8,2003.2l-.2,.7-1.1,.4-1,0-.7-.5 .4-.7 1-.5 1,.1zM306.1,2019.3l.1,1.9-.1,2.4-.9,1.7-1.2,.7-.9,3.7-1.4,1.4-1.5,0-.6-2.7 .3-3.8-.2-1.4-1.2-.2-.9-1.1 1-2.3-.8-1.9 .7-2 .3-2.5 .8-2.2 1.3-1.3 1.3,.1 1.2-.9 1.2-.6 1.5-.8 .7,2 .1,2.5 .4,1.6 .1,2-.5,2zM310.3,2016.3l-.5,.9-1.3,.1-.9-.6-.2-.9 .4-.8 1.2-.2 .8,.7zM307.2,2029.5l-.5,1.1-1.3,.2-1.2-.1-.4-1.1 .2-1.2 1.4-.1 1,.3zM304.7,2006.9l-.3,.7-.6,.4-.8-.2 0-.8 .1-.8 .7-.3 .8,.2zM301.8,2032.8l-.5,.6-.9-.1-.6-.5-.4-.7 .7-.5 .8,.3 .8,.1zM327,2024.8l1.1,2.5 .3,2.5-1.1,.2-.3,1.4-.8,.5-1.2-1.8-.9-1.4-1.3-1.2-1-2.5-.6-2.7-.1-2.5 1.9,1.5 .4-1.1 .8-.3 1,1 1.3,1.2zM322.9,2020.7l-.5,.8-1.3,.4-1.3-.4-.2-.8 .1-.9 1.4-.2 1.1,.3zM321.2,2019.7l-.4,1.2-.7,.1-.4-.5 .1-1.2 .5-.9 .7-.4 .3,.7zM390.5,2065.9l.4,1.9-.8,1.5-1.4,.5-1.2-1.2-1.7-.2 0-2.1 .5-1.3 .4-2 1.6,.5 1.2,1zM381.3,2030.5l-.9,1.2-.9,1.3-1.9-.3-1.6-.3-2.1-.7 1.7-1.5 .4-1.1 1.3-1 1.8,.3 1.5,.8zM344.1,2202.9l0,1.6-1.2,1.1-1.7,.3-1.3-1.2-.3-1.6 .9-1.2 1.3-1.3 1.6,.9zM182.2,2144.3l-.1,1.9-1.2,1.9-1.7-.4-1.4-.5-.3-1.8-1-1-.4-1.7 .4-2.1 1.6-1.3 1.6,.5 1.1,.8 1.6,.2 .8,1.6zM184.9,2167.6l-.4,2.6-.5,2.3-.7,0-.5,2.7-.8,1.6-.6-.9-.5-1.8 0-2.8-.1-2.6 .2-2.7 .5-2.3 .4-2.7 .7-2.3 .6,2.5 .3,1.2 1.1-2.2 .6,1.2 .2,3zM186.6,2163.6l-.2,1.1-1.1,.3-.8-.5-.9-.9 .7-1 1-.6 1,.5zM182.4,2162.8l-.6,.7-.6,.6-1,.1-.8-.5 .6-.7 .6-.6 1-.1zM185.9,2156.2l-.2,.6-.6,.5-.7-.3-.6-.3 .2-.6 .7-.3 .8,0zM141.5,2154.8l1.3,2.3-1.7,1.2-.4,2-1.5,0-1.3-.7-1.2-1.1-1.1-1.3-.8-1.9 .6-1.8-.3-2.7 1.7-.2 1.5,1 1.1,.8 1,1zM142.3,2159.7l.2,1.2-.6,.4-.6-.2-.8-.7 0-1.2 .5-.5 .7,.2zM142.2,2160.2l-.7,1.1-.9,.4-1.2,.2-.5-.9 0-1.1 1.1-.4 1.1-.1zM118.9,2182.3l-.3,1.9-.6,1.8-1.6-.7-1.1-.1-1.8-.6 .8-2-.4-2 1.1-1.2 1.5,.3 .8,1.7zM65.1,2189.2l-.2,1.8-1.2,1-1.5-.1-.9-1.7 .1-1.8 1.1-1.3 1.4,1zM97,2133.6l-.6,1.9-.9,1.7-1.2,.7-.1-2.2 .1-1.8-.1-2.2 1-1.8 1.1-.5 1,0 .2,2zM283.7,2108.9l-.2,1.5-2.1,.2-1.1,.8-2.3,.6-.7-1.6 .2-1.3 .8-1.2 1.4-.6 1.7-.3 1.6,.6zM463.7,1866.7l-.4,.9-.4,1.1-2.8-.1-2.3,.4-2.8-.2-.4-1.3-1.2-.9-1-1.1 2.5-.5 1.2-.7 2-.7 3-.1 1.5,1.3 .6,1zM460.8,1863.5l0,.8-.8,.4-.6-.5-.5-.7 .4-.7 .6-.4 .8,.2zM462,1863.4l-1.1,.9-1.1,.3-.7-.9-.3-1.2 .7-1.1 1.2-.1 .6,.9zM457.8,1888.1l.1,2.5-.9,1.3-.7,.7 .6,3.6-.9,.6-1-.7-1,.9-1.2-.4-.7-2.8-.5-2.5-.4-2.1 0-2.1 .2-1.6-.1-2.1 .7-.7 .4-2.1 .8-1.8 1.1,2.2 1,1.4 .9,1.4 .7,2.1zM459.5,1886.8l-.3,.7-.9,.6-1.4,.3-.3-.7 .1-.7 1-.6 1.3-.3zM454.1,1878.6l-.5,1.1-1.3,0-1.1-.8 0-1.2 .8-.8 1.2-.4 .8,1zM455.8,1899.3l-.7,.9-1.2,.4-1.1-.3-.6-.9 .5-.9 1.1-.6 1.3,.4zM449.6,1899l-.9,1.2-.4,1.9-1.4,.4-1.3-1.1-1.3-1.4 .9-2 1.1-.8 .8-1.7 1.5,0 1.3,1.4zM442.4,1941.8l1.2,1.6-.9,1.4-2.4,.6-1.5,.8-2.1,.1-1.8-1.2-1.3-.2-1.9,.1-2.1-.3-3-.7-.5-1.7 2.5-1.4 .6-1.1 0-1.6 2-.6 1.7-.8 2.1,.2 1.7,.8 1.2,.8 2.2-.1 2.8,.3-.9,1.8zM426.6,1941.6l-.4,.9-.6,.5-.9-.2 0-1.2 .2-1.1 .7-.4 .7,.5zM436,1947.1l-.3,1-1.2,.4-1.4-.1-.7-1 .7-1 1.1-.6 1.5,.2zM437.3,1947.7l-.6,.6-.9,.6-1.2-.1-.5-.7 .4-.7 1-.4 1.1,.1zM444.3,1978.9l-.6,2-.3,1.9-1.3,.3-1.3,.2-.9-1.8-.5-1.8-.7-2.4 .7-2 1.6,.8 1.1,.1 1.1,1zM544,1995.8l-1.6,1.7-.5,1.8-.4,1.9-.6,2.1-.8,2.2-1.5-.2-1.3,0-1.2,2.3-1.4,.2-1.8,2-.8-2.5-.8-1.9 .3-3.2-.6-1.3-.6-1.2-.4-1.5-.1-1.7 .9-1.8 .7-1.4-1.1-2.3 .2-2 0-2.9 .5-3.2 1.4-1.6 1.6-1.2 1.6-.7 1.4,3.7 .8,2 .5,2.1 1.5-1.5 1.4-.2 .9,1.2 .7,1.3 .8,1.6 .5,1.9-.6,2.2zM544.6,1982.7l-.2,.7-.9,.6-1.2,.1-.3-.7 .2-.7 .8-.7 1,.2zM548.4,1995.8l-.3,.9-.9,.7-1.3,.1-.5-.7 .2-.8 .9-.6 1.3-.3zM539.5,1976.7l-.2,.9-.9,.4-1.1,.3-.7-.7 .4-1 .7-.6 1.2-.2zM542.5,2008.2l-.4,.7-.8,.6-1.3,0-.4-.7 .2-.8 1.1-.4 1.1,0zM530.1,2004.8l-.3,.7-.4,.5-.6-.2-.4-.7 .1-.7 .5-.4 .6,0zM550.4,1985.4l.1,1.6-.2,1.7-1.1,1.5-1.5-1.4-1.6-.7-.1-2 .5-1.3 0-2.2 1.7-.1 1.3,1.6zM555.2,1996.2l.6,1.8-1.2,.9-1.1,.8-1.4-.5-1-1.5-.1-1.9 1.1-.9 .5-1.9 1.5,0 1.3,1.2zM541.8,2017.9l.5,1.2 .1,1.6-2.9,.9-2,.3-1.6,.4-2.1,1.1-2.4,.1 .2-1.7-1-.9 0-1.3 2.3-1 1.2-1.1 1.7-1.1 2.1-.6 1.4,.8 1.9,.1zM545.5,2015.8l-.2,1.2-.7,1-1.2-.2-.5-1.1-.1-1.2 .8-.9 1.2,.1zM530.4,2020.5l-.5,.6-.6-.1-.6-.3 0-.7 .3-.6 .7-.1 .5,.5zM449,2025.6l-1,1.1-.6,1.6-2.4-.2-1.9-.7-1.2-.8-1.5-.7-2.1-1.1 .6-1.5 .3-1.7 3,.4 1.7,.1 2.1-.3 1.6,1.1 .9,1.3zM449.6,2022.9l-.4,.7-1.2,.3-1-.7-.2-.8 .3-.8 1.3,0 1.1,.5zM448.5,2027.6l-.1,1.2-.4,.6-.7-.2-.5-1.2 0-1.2 .5-.5 .7,0zM506.4,2024.5l-1.1,1.2-.8,1.3-2.2,0-2-.1-1.7-.6 .3-1.2-1.4-1.5 2.3-.8 2.1,.2 1.5,.2 3.1-.3zM504.8,2052.6l.2,1.7-.7,1.8-1.4,1.5-1.2,1.1-1.4,.9-.3,1.2 .9,2.7-.5,2.3-1.5,1.6-2.3-.1-2.1-1-1.8,1.3-2.1,.5-1.9-.5-1.6-1.1 .1-3.1 .1-1.9 0-1.4-1.1-.8-3-.4-1-1.5-.5-1.8 3.4-1.1 1.7-.8 .2-1.2-.8-2.3-.3-2.8 1.5-1.4 2.2-.1 1.8-1.1 2,2.1 1.5,.8 1.5,.1 1.3,.7 1.4,.4 1.5,.6 1.8,.5 .9,1.4zM489.4,2045.3l-.9,.4-1.2,0-1.1-.7-.6-.9 .9-.6 1.4,.1 1,.7zM503.4,2066.5l-.2,1.3-1.2,.5-1.4,0-.5-1-.1-1.3 1.3-.5 1.1,.4zM507.6,2056.5l-.1,.9-.4,.7-.6-.5-.2-1-.1-1 .6-.4 .6,.1zM481.5,2053.3l-.5,1-.9,.5-.9-.3-1.2-.8 .9-1 .9-.6 1.1,.3zM569.7,2043.4l-.7,2.2-.8,2-.8,2.2-1.2,.8-1.2,2.2-.9-1.7-.7-1.3-.7-.6-1.4,.2-.1-2.1-.1-2.1-.5-2.1 1.3-2.2 .7-1.7 .8-1.4 .4-3.9 1.3-1.4 1.2,.2 .6,2.7 .9-.1 .7,.9 1,.8 .3,1.9-.3,2.3zM565.4,2053.1l-.5,.7-.4,.9-.8-.4-.4-.8 .1-.9 .6-.7 .8,.5zM561.2,2045.6l-.6,.5-1.3,0-1.1-.6-.1-.8 .5-.6 1.3,.1 1.1,.6zM568.3,2029.3l-.6,.6-1.1,.6-1.2-.1-.7-.4 .4-.6 1.2-.5 1.4,0zM636.5,2027.2l.6,1.6-1.1,1.5-.8,1.2-1,.9-1.3,.4-.5,1.9-1.3,2.3-2.1,.3-1.8-1.3-.6-2.4-1.1-1-1.3-1.1-.6-1.6 .6-1.6 .6-1.5 .5-1.4 .4-2 1.8-.3 1.7,.4 1.4,.1 1.6-.7 2.6-1.2 .5,2.4 1.1,1.4zM637.6,2023.4l-.1,.9-1.1,.5-.9-.3-.8-.6 .3-.9 1-.5 1,.2zM629.4,2021.1l-.5,.8-1.1,.6-1.1-.6-.4-.8 .5-.8 1.1-.4 1,.4zM629.4,2042.2l.9,1.9-.7,1.5-.7,1.7-1.3,1.1-1.4-1.7-1.1-1.1-.6-1.7-.5-1.7-1.1-2.6 1.8-.6 1.1-.8 1.3-.4 1.8-.3 .1,3.1zM631.9,2047.3l-.4,1-.7,.4-.9,0-.4-1 .2-.9 .6-.5 .9,.1zM626.4,2047.2l-.5,.7-.9,.2-.8-.5-.3-.8 .7-.6 .8-.3 .9,.3zM636.9,2041.5l-.9,1-1.3,.8-1.9,.1-1.2-1.2-1.4-1.2 1.1-1.1 .4-1.6 2.1,.4 1.5,.5 1.8,.8zM619.5,2075l-.2,2.5-1.5,1.6-1.7,1.5-2.2,.2-1.9,.5-1.9-.8-1-3-1.9,1-.4-2.1-1.4-.2-1.2-.7-.4-1.4-1.3-.8 .6-1.8 0-1.3 .3-1.4 1.2-1.2-.3-1.2-1.7-2.2-.8-2.8 .8-2.1 1.7-1.5 1.8-1.3 2.7,1.6 1.8,.8 1.4,.7 1.5-1.4 2-1.3 1.7,.2 .4,2.4 .7,1.2-.6,2.3 2.8-.5 .9,1.2-.4,1.7 .1,1.5-.6,1.5-1,1.3 .3,1.5-.4,1.6zM600.6,2079.6l-.6,.9-.8,.5-.7-.6 0-1.3 .6-.9 .8-.3 .7,.5zM604.7,2082.7l.2,1.4-.7,.2-.7-.1-.6-1.2 .1-1.3 .5-.5 .7,.3zM626,2069.6l-.9,.3-1.1,.2-1.2-.5-.4-.8 .8-.5 1.2,.1 1.1,.4zM598.2,2072.9l0,1.3-.7,.9-1-.6-.9-.9 .1-1.4 .8-.6 1,.1zM716.5,2026.2l-1.1,1.5-.7,1.4-2.4,.2-1.5,.9-1.9,.1-1.4-.7-1.8-.7 .8-1.5-.8-1.6 1.9-1.2 2.2-.3 1.7,.4 1.7,0 2.7-.1zM716.7,2029.6l-.9,.6-1.2,.2-1.2-.2-.6-.6 .4-.7 1.4-.1 1.1,.2zM709.7,2023.8l-.7,.6-.8,.6-1.2-.2-.5-.5 .2-.7 1.1-.5 1.2,.2zM721.7,2039.8l-.5,.8-.5,1-1.9,.3-2.3,.4-2.5-.9-1-1.5-2.1-.7-1.7-1.1 .9-.9-.3-1.1 1.2-.8 2.1-.2 2.3,0 2.5,.5 1.5,1.2 1,1.1 1,.9zM715.9,2034.8l-.3,1.5-.7-.1-.6-.3-.3-1.4 .6-1.3 .7-.3 .6,.5zM715.8,2042.6l-.2,.7-.7,.5-.6-.5-.5-.6 .5-.6 .6-.4 .7,.2zM682.8,1885.2l-1.7,1-.7,1.2-2.1,.6-1.7-1-2.3-.3 .8-1.4-1.2-1.5 2.4-.6 2-.3 1.6,.7 2,.4zM698.4,1893.1l-1,.9-1.4,.7-1.7-.7-1.1-1-1.5-1.3 .4-1.6 1.9-.3 1.7,.2 1.2,.8 2.2,.8zM663.7,1954.3l-.9,1.7-1.4,.6-1.2-.3-1.5-.4-.2-1.9 .2-2.1 1.8-.2 1.1-.9 1.8-.5-.1,2.3zM659.6,1967.3l.3,1.3-1,1.6-2.2-.4-1.3-.9-1.2-.8-.4-1.4 1-1.2 1.7-.6 2.1-.4 .7,1.7zM719.5,1961.6l-.9,1.5-1.5,.4-1.1-1-.5-1.8 1.4-1 1.3-.9 1.3,.9zM732.5,1919.2l-1,1.3-1.8,.6-1.6-.5-.9-1 .5-1.2 1.8-.7 1.4,.7zM757.3,1992.7l.2,1.7-1.5,.9-1.7,.1-1.1-1.3-.3-1.6 .8-1.6 1.7-.4 1.5,.8zM684.8,2106.5l1.2,1.4 0,1.8-1.7,.7-.3,1.8-.8,2.5-2,.2-1.6-2-.8-1.8-.7-1.2-1.4-.9-.7-1.7-.5-2 1.6-1.1 1.1-.9 .9-1.8 1.7-.1 1.3,1.9 1.9-.4 1.4,1.3zM675.8,2106.2l-.2,.8-1.1,.2-.7-.8-.3-.7 .5-.7 1-.1 1,.6zM683.1,2114.4l-.3,.6-.7,.2-.6-.5-.2-.5 .3-.6 .7-.1 .8,.2zM721.2,2078.3l.1,1-1.9,.7-2.4,.4-1.2-1-.4-1.1 1.8-.7 1.9-1 2.1,.5zM601.8,2101.8l-.9,1.4-1.4,.6-1.4,.8-2.1,1.1-1.2-1.8-.4-1.8 1-1.4-.5-1.4-.1-2.3 1.9-.5 1.8,.1 1.9,.2 .5,2 .6,1.4zM586.6,2099.5l.5,1.7-1.8,.8-2.1-.3-.3-1.9-1.7-.6-.2-1.4 1.2-1.1 2-.5 1.8,.9 .5,1.3zM421.1,2154.2l1.2,1.3 1.3,1.9 1.1,2.7-1.6,1.3-1.7,.6-1.3,.7-1.5,.1-1.3,.9-1.5-.2-1.9,.7-1.5-1.2-.1-3-.1-1.8-1-1.2-.9-1.5 .7-1.5 .6-1.2-1.4-3 .4-2.3 2,0 2,1.2 1.1-1.7 1.7-.5 1.5,1.3 1,1.8 .7,1.7 .6,1.3zM409.2,2159.2l-.4,.7-.8-.1-.6-.3-.1-.8 .5-.6 .8-.1 .4,.6zM411.3,2158.7l0,1-1.1,.7-1.3,.2-.8-.9 0-1.2 1.3-.7 1.4,0zM422.9,2149.2l-.5,.4-.6,.2-.6-.4-.1-.5 .2-.5 .8-.2 .4,.5zM554.4,2137l.6,2.2-.2,2.2-1.9,.5-1.4-.2-.6,1.8-1.4,.9-1.4-1.4-1.7-1-.7-2.2-.2-2.1 1.3-1.3-.1-1.8 1-1.1 1.4,.1 1.4-1.4 1.5,1.3 .2,2.7zM556.2,2140l-.3,1-1.1,.5-1-.6-.6-1 .6-1 1.1-.2 1.3,.1zM551.6,2145.3l-.2,.6-.8,.3-.8-.2-.3-.6 .3-.6 .7-.4 .8,.3zM549.9,2157.5l-.7,2.5 .7,2.4-1,1.2-1.7-.6-.5,.6 .3,4.1-1.3-.6-1.3-1-1.4-.8-1.1-1.8-.2-2.7-1.4-1.8-1.1-2.7 .7-1.9 1-1 1-.5 1.2,.5 .6-1 1-.3 1.2,.4 1.2,1.3 1.8,1.1zM551.1,2155.2l-.8,.9-1,.3-1-.3-.3-1.1 .6-1 .9-.3 1.1,.3zM552.8,2163.7l-.2,1.3-.6,.6-.8-.2-1-.8 .4-1.2 .5-.7 .8,.1zM548.9,2167.2l-.1,1.3-.4,.4-.5-.1-.6-1.1 .1-1.1 .2-.8 .6,.4zM535.5,2184.4l1,2 1,2.4 .1,2.5-1.6,1.5-1.5,1.2-1.2,1.4-1.6,.8-1.2,1.6-1.9-.8-1.7-1.3-1.3-.3-1.3-.1-.7-2.4-.9-.8-1-.5-1.5,0-.9-1-3.6,.5-.2-2.2 .6-2.2 .6-1.9-1.7-2.1 .7-1.8-.2-2.3 .4-2.3 .8-2.1 3.1,1 1.6-.2 1.8,1.2 .7-2.3 1.2-1.2 1.4-.5 1.7-.8 1.2,1.8 .8,2 1.9-.5-.2,2.8-.4,2.3-.3,1.6 1.7,.4 .9,1.2zM540.1,2186.5l-.2,1-1,.6-1.3-.1-.3-1 .2-.9 .9-.7 1.2,.2zM527.6,2168.4l-.8,.7-1.3,.2-1.2-.5-.4-.9 .5-.8 1.3,0 1.4,.3zM539.3,2186.2l-.1,1.2-.4,.7-.7-.3-.8-.9 0-1.2 .5-.4 .7-.1zM538,2173.2l-.5,1.3-1.1,.8-1.5,0-.4-1.5 .5-1.2 .8-.9 1.4,.2zM531.9,2166.8l-.3,.8-1,.7-1.5,.1-.8-.5 .8-.8 .9-.7 1.4-.1zM503.9,2178.7l-.7,1.7-.5,1.4-.5,1.9-1.6,1-1.3-2.3-.6-1.3-1.2-1 0-1.6 .1-1.8 1-1.4 1.6-.1 1.7,.1 .3,2.4zM499.3,2163.8l-.4,1.6-1.2,1.2-1.7-.4-1.3-1-.1-1.7 1.1-1.2 1.4-.8 1.8,.6zM451,2123.7l-.5,1.7-1,1.4-1.3,1.5-1.1-1.4-1.7,.4-1.1-1.6 .3-2.4 2-1.3 .2-1.9 1-1.5 1.4-.4 1.5,.1 1.4,1-.8,2.7zM452.2,2125.8l-.3,.5-.7,.1-.6-.2-.4-.6 .6-.5 .6-.1 .6,.1zM450.4,2115.7l-.4,.7-.9,.7-1.3,.1-.5-.6 .2-.8 1-.7 1.2,.1zM612.1,2184.8l.4,1.3 .3,1.7-2.5,.1-1,1.2-1.7,1.4-1.8-.9-2-.4 .3-2.1-.1-1.3 .1-1.3 1-1.1 .5-2.1 2.1,0 1.7,.7 2.2-.4 .7,1.7zM608.8,2180.9l-.2,.8-.5,.5-.7-.3 0-1 .1-.9 .6-.3 .5,.4zM603.2,2188.3l-.6,.4-.7,.2-.8-.3-.1-.7 .4-.4 .7-.1 .9,.3zM589,2171.8l.7,1.8-1.7,1.2-1.3,.7-1.8,.7-1-1.6-.7-1.3-1.2-1.7 1.7-1.2 1.4-.9 1.5,.4 1.7,.4zM674,2153l.5,1.9-1.8,.9-1.2,1-1.6,0-1.7-.5-1.4-1.5 1-1.8 1.2-1 1-1 1.6-.2 1.7,.5zM632.5,2167.1l-.3,1.1-1.5,.9-1.8-.1-1.3-1 1.2-1.2 1.3-1 1.9,.1zM416.5,2060.6l.2,1.4-1.7,.4-1.6-.2-.1-1.3 0-1.2 1.4-.6 1.3,.5zM619.3,2109.1l.3,2.7-.5,1.8-.8,.9-.9-.8-.9-1.5-.1-2.7-.5-2.6 .6-1.3 .5-1.9 1,1.2 .7,2.1zM617.3,2109.9l0,1.1-1.3,.7-1.2-.3-.8-.8 .4-1.2 1-.7 1.5,.1zM620.4,2104.4l-.8,.7-.8,0-.8-.2-.4-.9 .6-.8 .9-.2 .7,.5zM616.4,2135.4l-.8,1.7-1.2,0-.9-.9-.2-1.7 1.1-1.6 1.3-.1 .8,.9zM593.3,2056.6l-.7,1.3-.8,1.3-2.4,.7-2.7,1.1-.5-1.4 .3-1-.8-1.2 2.3-1.2 2.2-.1 1.8-.1zM586.3,2068.4l-1.9,.6-1.2,1-1.5-1.4-1.7-.5-1.4-1.3 1.5-.9 1.9,0 1.8,.1 1.1,1.1zM578.3,2079.4l-1.2,2-1.4,.6-1.6,.9-.4-1.9-.7-1.2 .6-2 .7-1.9 1.3-1.8 1.5,.1 .6,1.7-.1,1.7zM566.7,2089.7l-.9,1.3-1.4,.7-1.8,.5-1-1.4-1.6-1.1 1.1-1.7 0-1.9 1.8-.5 1.4,1.2 2.1-.6 1,1.7zM649.8,2025.5l-.4,1.6-1.5,.9-1.6-.5-1.1-1.2 0-1.6 1-1.3 1.7-.2 1.4,.8zM656,2022.3l-.7,1.7-1.3,.4-1-.8-.3-1.7 .7-1.6 1.3-.9 1,1.1zM804.7,1881.1l1,1.6 1,1.9-.7,1.7-.5,1.7-2,.5 .5,2.7-1.7,.6-1.1,1.3-1.4,.8-1.5,1-1.4,2.7-2,0-1.8-.8-.9-3.6-.5-2.8 0-2.3-.8-.7-1.8,.2-.2-1.5-2.1-.5-.9-1.4 1-1.7-1.9-1.6-2.3-2.3 0-2.3 .7-2.1 1.1-1.9 3.3,.7 2.8,1.3 1.2-.2 .3-2.7 1-1.7 1.4-1.7 1.7,.4 1.5,1.2 1.6,.3 1.8,0 1.8,.4-.3,3.4 1.3,.9-.3,2.2-.5,1.8-.2,1.4zM799.9,1866.9l-.5,.9-1.2,.2-1-.5-.2-1.1 .6-.9 1.1-.5 .8,1zM784.5,1884.4l-.4,.5-1.4-.2-1.1-.7-.5-.7 .6-.5 1.4,.4 1.3,.5zM781.7,1883.5l.1,1.2-.7,.4-.7-.3-.5-1 .2-1 .5-.9 .8,.6zM795.3,1867.5l-.2,1-1.1,.3-1.1,0-.3-.8 0-.8 1-.6 .9,.4zM806.3,1896.5l0,1.4-1.1,.2-.8-.2-.8-.9 .1-1.4 1.1-.3 1,0zM806.2,1901l-.5,1.2-1,1.1-1,1.1-1.5,1.4-2.2-.2-2.5,.7-2.3-.3 .7-1.9 .5-1.2 .4-1 .3-1.2 1.6-.8 1.8-1 2.2-.2 1.3,.8 2.7,0zM809,1899.3l-.7,1-.8,.9-.7-.7-.1-1.4 .3-1.4 .9-.5 .7,.8zM797.1,1899.1l-.1,.6-.6,.1-.5,0-.3-.6 .3-.5 .5-.3 .5,.2zM813.3,1911.5l-.7,1.9-2.2,.1-.9,2-1.8-.9-1.7-.3-1.3-1.3 .2-1.8 .7-1.4 .5-1.4 1.1-.9 1.6-1.9 1.6,1.6 .5,1.8 1,1zM811.8,1926.4l-.5,1.8-1.3,.5-1.2,.7-1.2-.7-1.3-1.4 .8-2 1.1-.9 .9-1.8 1.3,.9 1.4,.9zM845,1865.6l-1.4,1.3-.3,1.3-2.7,.8-2.2,0-2.1,.5-1.8-.2-2.1-.3 .1-1.1 2.1-1.1 0-1.4 2.6-.6 2.3,0 1.5,.2 1.7,.2zM838.6,1864l-.5,.6-.9,.2-.9-.4-.2-.7 .4-.5 .9-.3 .8,.4zM832.1,1868l-.9,.5-1.2,.3-1.1-.3-.9-.5 .8-.6 1.2-.2 1.4,.2zM864.9,1934.4l-3.6,1.1-1.5,.7-.6,.9-1.9,.9-2.9,.6-2.3-.5-1.6-.4-2.3-.3 1.6-1.1 .5-.7-1-1 1.9-.9 2.6-.5 2.7-.3 2.4,.1 1.6,.4 3.6,0zM847.6,1934.8l-.8,1.2-1,.7-1-.6-.2-1.4 .3-1.4 1.1-.3 1,.5zM857.3,1939l-.4,.7-.7,.8-1-.4-.5-.8 .2-.9 1-.5 .8,.4zM864.9,1935.6l-.2,1.5-.6,.5-.5-.8-.2-1.2 .2-1.4 .5-.4 .5,.7zM838.4,1948.7l-.3,1.3-1.8,.5-1.8,.3-.8-1.1 .6-1.1 1.3-1.1 1.9,.2zM898.6,1867.1l-.3,1.6 .4,1.9-.8,1.6-1.6,.3-1.5-1.2-.8-1.3-2.1-.6 .6-1.9 .2-1.6 .9-1.1 1.2-1.2 1.6,.9 1.1,1.3zM915.1,1886.6l-.9,1.9-1,1.3-1.3,.1-1.1-.7-.8-1.2-1-1.9 1.1-1.5 1.1-1.5 1.3,1.7 .9,.7zM966.6,1897.6l-2.3,.3-1.6,.1-2.2,.2-1.7-1-.9-1-.8-1.2 2.2-.2 2.1,.3 2.2,.3 1.4,1zM981.9,1917.8l-2.5,.1-.8,.4 .2,1-2.5-.1-2.8-.2-2.9-.3-2.3-1-2.1-.7-.9-.8-2.2-.7-.7-.8 2.1-.2 .9-.3-1.6-1.3 1.3-.7 3.5,.5 3,1 2.4,.5 2.8,.4 .2,1 2.1,.6 4.1,1zM968.3,1911.7l-.5,.9-.7,.7-.9-.2-.5-.8 0-1 .9-.6 1,.3zM962.8,1913l-.3,1.3-.9,0-1.1,.1-.2-1.5 .7-1 .8-.6 .9,.4zM980.4,1913.9l-.5,1.2-.7,.8-1.1-.2-.7-1.2 .2-1.3 .9-.5 1,0zM971.8,1913l-.2,1.3-.6,.4-.5-.6-.2-1.2 .1-1.5 .7-.2 .6,.5zM995,1928.5l1,1.9 1,2.5-.2,1.9-.4,2-2.1-1.8-1.4-1.7-1,.5-1.6-.3-1-2.3-1.1-2.3 0-2 .6-1.3 .3-1.5 .8-1.2 1.7,2 1.1,1 1.5,.5zM991.9,1922.5l-.4,1.1-1.3,.1-1.1-.5-.3-.9 .1-1.2 1.4,.1 1.2,.3zM998.3,1936.2l-.3,.9-.7,.3-.6-.3-.4-.9 .5-.8 .6-.7 .6,.7zM1015.5,1923.6l.8,2-.2,1.6-.2,1.5-.1,2.2-.8,1.8-1.6-1.3-1.3-2.9-.9-1.4-1.3-1.4-.2-2 0-1.7-.1-1.9 .3-1.9 1.2-.4 1.3-.8 1.4,2.7 .6,2.6zM1012.1,1916.5l-.3,1-1.4,.4-1.4-.2-.4-.8 .1-.9 1.4-.4 1.2,.2zM1014,1932.5l-.5,.5-1.3,0-1.3-.3 0-.5-.2-.6 1.6-.1 1.2,.4zM1018.9,1936.1l.2,1.2-.9,1.3-2.2,.5-2.3,.1-.7-1.3-1.4-.8 .8-1.2 .5-1.5 2.4-.2 2.4-.5 .9,1.3zM1032.9,1950l-.2,2.5-.7,2-1.4-1.1-.8,.8-1.2,.6-.5-2.4-.8-2 .1-2.3 .9-1.3 1-.4 .9-.9 .9,1.1 1.1,1.2zM1034.3,1953.7l-.7,.5-.9,.4-1.2-.1-.5-.5 .6-.5 .9-.4 1.1,.2zM1027.6,1946.5l-.3,.5-.6,.1-.5-.3-.2-.6 .3-.5 .6-.2 .6,.4zM1073.1,1947.7l1.3,2.8 .5,2.8-.3,1.8 .5,3.1-1.1-.3-.6,.6-.4,1.3-.9-.8-.8-.2-.9-1.2-.9-2.6-1.1-.8-.3-3.1-.4-1.9-.9-2.1-1.8-3.4-.2-2.7 1-.5 .7-.4 .4-.9-.6-4.5 .9-.3 1.3,1.9 1.2,4.2 .8,2.7 .5,1.7 .9,1zM1067.8,1948.6l-.8,1.1-1.4,.3-1.5-.5 0-1.6 .9-1.1 1.3,.1 1.4,.2zM1066.5,1943.7l-.6,.6-.6,.4-.8,.1-.5-.5 .2-.7 .8-.3 .7,.1zM1066.2,1934.3l0,.7-1,.3-1,.1-.5-.7 .5-.8 .8-.5 1,.1zM1065.8,1938.6l-.2,1.4-1.5,.2-1.3-.5-.3-1.2 .5-1.2 1.3-.4 1.2,.6zM1096,1947.4l-.5,2.4-1.9,.7-1,1.6-1.2-.2-1,.4-1.5,1.2-1.8,.4 .4-3.1 .6-2.4-.1-1.5-.3-1.9 .2-2.4 1.2-1.8 1.4-1 1.3-.9 1.1,.5 .6,1.4 1.4-.5 1,1-.5,2.3-.4,1.8zM1095,1951.7l-.3,1.3-1,.6-.6-1-.3-1.2 .5-1.1 1-.5 .7,.7zM1098.1,1946.9l-.3,1.5-.6,.3-.5-.7-.1-1.2 .4-1.2 .6-.6 .4,.8zM1095,1935.5l-.3,.9-1.1,.2-1.1-.4-.1-1 .4-.7 1-.6 1.1,.6zM1105.3,2006.4l1.3,1.8-.2,1.8 .1,1.7 .8,2.8-1.6,.5-2-1.1-1.4-.9-1.2-.9-1.5-.1-.6-2-1.3-1.4-1.9-2.3 .8-1.7 1-1 .8-1.2 1.5,.3 1.5,1 1.3,.3 1.4,.9zM1101.8,2001l0,1.3-1.4,.4-1.4,.1-.6-1.2 .1-1.3 1.3-.6 1.4,.2zM1110.5,2012.9l-.4,.7-1.4,0-.9-.5-1-.7 1-.5 1.2-.3 1.1,.5zM1101.4,1866.1l-.1,1.1-1.5,1.1-1.7-.6-1-.9 .4-1.2 1.7-.8 1.6,.3zM816.8,2043.7l-2.8,.7-.6,1.2 .2,1.9-1.6,.5-1.3,.7-1,1.5-1.6,.5-1.8-.9-1.5-.3-1.8,.8-1.6-.6-1.6-.6-1.1-1.4-1-1.3-2.3-.7-1.3-1.5-1.7-1.7-.2-2 .2-2 1.3-1.7 3.3-.5 3.9,1 .7-.7 1.3,.1-1.3-4.2 1-2 1.7-1.6 2,1.6 1.8,.1 .9,2.7 2.6-1.5 2.2,.3 1,1.7 1.9,1-.7,2.4 1.7,1.3-.3,1.9-.4,1.7zM808.9,2055.5l-.6,.4-1.1-.1-1.1-.6-.2-.7 .7-.3 1.1,.1 1,.5zM795.2,2034.4l-.4,.8-.7,.2-.7-.3-.4-.7 .3-.8 .8-.2 .6,.3zM814.8,2031.9l-.3,1-.6,0-.6-.1-.1-1.1 .3-1 .6-.3 .5,.5zM809.5,2055.8l-.4,1-1.1,.1-1.1-.4-.6-1 .9-.8 1-.3 1.1,.4zM814.2,2057.4l0,1.4-2,.1-2.1,0-1.2-1.6-1.6-1 .5-1.1-.2-1.6 2.1-.3 2,1 2.4,.5 .6,1.5zM899.7,2034.4l-.4,1.4-1.3,.8-1.4,1.1-1.9-.1-1.1-1.2 .8-1.3-.5-1.5 1.5-1.2 2,.3 1.7,.4zM941.3,2083.2l-.5,1.6-1.7,.7-1.7,.2-1.3-1.2-1.8,.2-2.1-.9 .5-1.7 1.1-1.2 1.4-.6 1.3-.9 1.8,.1 1.1,1.3 1.2,1zM931.4,2120.2l-1,1.9-.5,2.6-1,1.2-.9,1.5-1,.3-.3-2.1-.4-1.1-1.1,.2-1.1-1.3 .3-3 1.4-2.5 .6-2.3 1-1.3 .9-.4 .7,.4 1.1-2.5 .8,.6 .4,1.5 .9,1-.4,2.7zM932.4,2110.6l-.2,1.3-.7,.9-1.3-.2-.5-1.3 .1-1.1 .7-1.1 1.1,.5zM931.6,2127.3l-.1,.9-1.3,0-1-.5-.4-.8 .5-.8 1.2-.2 1,.6zM930.7,2109l-.6,.3-1,0-1-.5 .1-.5 .3-.5 1,0 1,.6zM955.3,2044.3l-.1,2-1,.4-1-.6-.4-1.7 .2-1.8 .9-.6 .9,.6zM811,2099.2l-.3,2.4-1,1.4-.8,1.5-1.1,.3-1,.2-1.6,1.1-.7-2.4-.5-2.3 .4-2.5 .6-1.9 .8-1.4 .8-.8 .8-2.1 1.3-1.9 1.3,1.2 .1,3.4 .4,1.7zM812.3,2105.2l-.5,1-1.2,.2-1-.7-.3-1.1 .8-.7 1.1-.3 1.3,.4zM813.5,2100.4l-.6,.8-.9,.3-.7-.5-.4-.8 .6-.7 .7-.6 .8,.6zM804.9,2076.6l-.7,1.3-1.6,.4-1-1.3-.5-1.4 1.2-.8 1.3-.5 1.4,.7zM785.8,2070.3l-1,.7-1.3,.2-1.2-.6-.8-1 .8-.9 1.5,.1 1.3,.5zM823.4,2164.3l-.2,1.2-.5,1.4-1.4,1.2-2.2,.4-1.8-.1-1.4-.1-2.4,.5-1.6-.7-.3-1.3 .5-1.5 2.1-1 1.2-1.3 2.2-.2 1.5,.5 2.8-1.3 1.6,.9zM826.3,2163l-.2,.9-1,.5-1-.3-.5-.6 0-1 1.1-.5 1.2,.3zM819.8,2169.8l-.3,.8-.8,.4-.6-.8 0-.8 .3-.7 .8-.2 .8,.4zM824.9,2175.1l-.1,1.9-2.3,.2-.2,2.5-1.8-.7-1.8-.3-.3-1.9-.7-1.7 1.5-1.1 1.4-.5 1.5-.4 1.8,.3zM864.8,2197.6l-.6,1.4-.8,1.3-1.1,1.2-1.9,.2-1.8-.1-1.6-.8-1-1.2-.5-1.3-.1-1.4 .5-1.4 1.1-1.2 1.3-1.8 2.2,.7 .9,2 2.3-.4 .6,1.4zM864.7,2201.1l-.2,.6-.7,.4-.8-.3-.6-.5 .6-.6 .7-.4 .9,.1zM867,2201.4l-.7,1.2-1.3,.2-.8-1.1-.6-1.2 1.1-.8 1.2-.3 1.1,.7zM846.5,2208.7l.5,1.7-1.3,1.3-2.3-.2-1.3,1.5-1.4-1.5-1.2-.5-2.4-.2-1.1-1.6-.4-1.9 2.2-1 1.5-.8 1.6,.1 1.5-.6 2-.4 1.4,1.2 .1,1.6zM836,2207.4l-.6,.9-.7,0-.7-.3 .3-1.1 .4-.9 .7,0 .5,.4zM848.6,2205l-.1,1.2-.6,1-1.1-.4-.4-1.2-.3-1.4 .9-.4 1.1,0zM1042.4,2080.1l.4,2.7-.2,2.3-.8-.2-.7-1.6-.6-.9-.5-2-.3-2.8 .5-1.4 .5-1.7 .8,1.8 .5,2zM1041.2,2073.8l-.3,.9-.8,.4-1,0-.4-.9 .2-1 .9-.3 1,0zM1042,2086.3l-.2,.8-.6,.4-1,.1-.2-.9 0-.7 .7-.5 .9,0zM761.1,1991.7l-.8,2-1.2,2.4-.7-1.4-.4-1.1 0-1.7 .7-1.9 .9-2.2 1.2-1 1,.6-.6,2.6zM911.9,2015.6l-.2,2.8-1.4,.3-1.3,.8-.6-1.6 .4-2.1-.2-2.1 .8-2.7 1.4,.2 .8,1 .4,1.5zM973,1868l-.4,1.8-1.3,.7-1.5-.5-.6-1.8 .4-1.9 1.4-.3 1.3,.5zM985.8,1959.1l-.9,1.1-1.4,.5-1.2-.7-.6-1.5 1-1.2 1.4-.6 1.1,1zM1039.8,1953.5l-.3,1.4-.8,.6-1-.4-.4-1.3 .1-1.6 1-.4 1,.3zM1053.4,1960.9l-.7,1-1.1,.4-.3-1.2-.4-1.1 .9-.9 1-.1 .5,.8zM289.4,2297l-1.1,1.4-2.4,.8-1.6,.6-.7,1.1-1.2,1-1.7,.8-2.1-.4-2.1,.4-1.3-1.4-1.4-.7-1.4-.7-1.5-.8-1.9-1.1-.8-1.4-.8-1.6 1.1-1.5 2.5-.7 2.9,.1 1.4-.7 1.2-1.7 2.3,.6 1.5,1.5 .7,1.3 1.7-.2 3.9-.7 2.6,.8 .6,1.6zM273.3,2302.9l-.6,1.4-.6,0-.5-.4 .2-1.4 .6-1.3 .6-.1 .5,.5zM269.5,2301.4l-1.1,.7-1.3,0-.9-.8-.1-1.1 .8-.7 1.3-.3 .6,1.1zM276.1,2288.9l-.6,1.1-.8,.4-.7-.6-.1-1.3 .6-1 .7-.6 .7,.8zM305.5,2295.6l.4,1.5-2.7-.2-1.8,.1-2.3-.3-2-1.1 1-1.2-1.3-1-.3-1.3 1.7-.5 2.2,.1 2.1,.8 1.1,1.1 1.1,.9zM300.8,2297.2l-.3,.5-.6,.3-.7,0-.4-.5 .3-.6 .6-.3 .7,.1zM298.9,2296.8l-.3,1.1-1.3,0-1-.3-.5-1.1 .6-1.1 1.2-.2 .9,.5zM344.9,2316.3l-.1,1.5 .8,1.9 .9,2.7 .3,2.9-.6,2.2-1.7-.2-1.5-.8-.7,1.4-1,1.5-1.2-.7-.9-2.2-1.1,.2-1.8,1.3-1.4-1.1 .2-3.6-.3-2.2 1.3-2.7-.7-1.3-.8-1.8-.4-2.1-.8-2.8 1.4-.9 .6-1.6 .4-2.3 .5-3 1.2-1.4 1.5-.1 1.4,2.2 1.1,2 .7,2.4 1.1,.2 1.5,.2 1.4,1 .1,2.6 .1,2.4zM335.1,2322.9l-.6,.6-1.2,.2-1.1-.5-.4-.8 .7-.5 1.1-.1 1.1,.4zM346.6,2330.2l-.5,.9-.8,.3-.6-.5-.6-.8 .4-1 .9-.3 .7,.6zM350,2312l-.2,1.3-1,.5-1-.4-.6-1.1 .3-1.2 .9-.5 1.2,.1zM349.8,2323.5l-.6,1.1-1.3,.1-.9-.8-.3-1.1 .6-1.1 1.2-.1 1,.7zM348.9,2308.3l-.6,.8-1,.2-.9-.6-.1-1.1 .7-.8 1.1-.6 .7,1zM279.5,2240.2l-.5,1.7-1.5,.7-1.5-.2-1.4-.9 .1-1.8 .9-1.4 1.6-.1 1.5,.4zM245.9,2237.4l-.8,2.1-1.4,.8-.7-1.2-.3-1.6 .6-2.1 1.2-1.7 1.2,.2 .2,1.8zM243.4,2294.7l.6,2.1-.3,1.4-.5,1.2-1.2-.7-1-2-.5-2.1 .1-1.4-.4-2.9 1.4,1 1.1,1.4zM165.3,2258.7l.8,1.6 1.2,2.6 1,3.3-.1,2.3-.4,1.8-.8,1-1.6-2.4-1.1-2-.9-.9-.8-2.1-.5-2-1.4-.8-1.4-2.3-.4-2.7 .4-1.7-.4-2.6-.3-3.2 1.5,1 1.2,1.5 .7-.5 .9,.9 1,0 .9,2.7 .5,2.4zM163.4,2247.4l-.4,.7-.7,.7-1.2-.2-.5-.7 .5-.7 .8-.7 1.2,.1zM164.7,2269.7l-.1,1.1-1,.6-1.1-.1-.8-.7 .1-1.2 1.1-.4 1.1-.2zM166.5,2252.3l-.3,.5-.6,.1-.6-.3 0-.6 .3-.4 .5-.2 .7,.2zM165.7,2268.3l-.4,1.2-.8,1.1-1.3-.3-.9-.8 .1-1.2 1-.8 1.5-.2zM116.4,2272.9l.2,1.8-.6,1.7-1.6,.4-1.3,.7-1.5,.4-1.2-1.2-1.6-.9 .4-2.1 .3-1.5-.9-2.4 2.1-.1 1-1.1 1.5-1.5 1.7,.5 .8,2 0,1.9zM112.3,2266.5l-.3,1-.9,.5-.9-.4-.3-1.1 .3-1.1 .9-.5 1,.5zM115.9,2266.3l-.2,1.1-.8,.9-1.2-.4-.5-1.1 .4-1.1 .7-.8 1.1,.3zM206.9,2275.7l.2,1.8-.8,1.9-2.1,.1-1.6-.9-1.6-.1-1-1.3-1.3-1.5 1.2-1.6 .7-1.4 1-1.6 1.9-.5 1.9,.5 .4,2.1 1.6,.8zM194.1,2271.7l.1,2-.2,2.6-1.4-.8-1.1-.1-.5-2.4-1.1-2.3 1-1.6 .7-1.5 1.3-.2 .9,2.1zM204.7,2221.1l-1.1,1.1-1.4,.9-1.7-.6-.5-1.7 .6-1.4 1-1.3 1.8,.1 1.3,1.1zM152.9,2227.3l-1.5,1.6-.9,1.2-1.2,.3-1.3,1-1.1-1.2-1.2-.9-1-1.8 .5-2.1 1.7-.6 1-1.1 1.1,1.2 2-1.5 .7,2zM165.4,2232.7l-1.1,1.8-.2,1.7-1.4-.2-1.3,.5-1.6-1.1 .1-2.2 .6-1.4 .7-1.4 1.4,.1 .9,1.4zM76.2,2351.5l-1.1,2.2-1.6,1.4-1.5,.4-1.5,.5-.3-1.5-.7-.9-.3-1.4 1-2-.1-2.3 1.5-2.1 1.7-1.2 1.4,.1 .9,.5 1.5-.6 1.1,.7-.9,2.4-.2,1.8zM70.3,2356.5l-.1,1.3-.7,.4-.6-.7-.2-1 .1-1.1 .7-.5 .5,.7zM69.3,2356.3l-.3,1.2-.5,.6-.9,0-.3-1.4 0-1.1 .5-.7 .9,.2zM127.4,2327.3l-.7,2.1-.4,1.9-.8,1.1-.8,1.1-1.1-1.1-1,.6-1.7,.3-.5-2.9 .7-2.6-.5-2.1 .7-1.4 .2-2.5 1.1-1 1.2,.9 1,.4 1.3,.6 .8,2.2zM127.3,2321.4l-.4,1-1.1,.7-1.3-.2-.8-.8 .6-.9 1-.8 1.2,.4zM128.8,2325.2l-.6,.9-1.2,.1-1.1-.6-.4-1.2 .9-.9 1.3,0 1.3,.4zM142.6,2331.9l-1.1,.8 .6,1.4-1.4,.7-1.6,.5-1.9,.8-2.4,.2-1.9-1-2-.9-.2-1.6 1.8-1.3-1.2-1.2 1-1.1 1.8-.5 1.5-.7 1.9,.1 2,0 2.4,0 2.4,.8 .3,1.6zM129.5,2332l-.5,.9-.7,.7-.7-.7-.5-.9 .4-1.1 .8-.5 .8,.5zM145.2,2335.5l-.3,.6-1.2,.2-1-.3-.5-.6 .8-.4 .8-.5 1,.4zM161.7,2313.9l0,2.4-.3,2-.5,2.2-.6-1-.5-2.2-.4-1.9 .2-2.6 .2-1.8 .2-2.7 .7-.6 .7,.6 .3,3.2zM163.5,2312.4l-.8,.9-.7,.6-.5-.8 .1-1.2 .6-1.2 .8-.6 .4,.9zM163.1,2319.4l-.2,.6-1.2,.1-1.2-.4-.1-.5 .2-.5 1.2-.1 1.2,.3zM264.3,2378.1l-1.3,1.8-1.3,1.4-1.3-.2-.8-1.3-.2-1.5-.6-1.9 1-2.4 1.7-.3 1.3-.6 .5,1.7 1.3,.9zM313.8,2352.4l-.7,1.3-1.3,1-1.9,.6-1.1-1.6-1.1-1.4 1.3-1.5 0-1.6 1.5-1 1.7,.2 1.3,1.1 1.1,1.4zM312.2,2363.4l-.2,1.4-1.4,1.1-2.1-.8-1.6-.8 0-1.4-.6-1.5 1.7-.5 1.5-1.2 1.4,1.6 1.2,.9zM336.7,2353.7l-.8,1.8-.7,2.1-1.1,.1-1.3,.8-1-1.2-.1-2.3 1-2.1 .2-1.9 .7-2.5 1.3,0 1.4-.9 .4,2.2 .2,1.9zM333.1,2359l-.4,1.1-.9-.1-.6-.5-.2-1.1 .7-.9 .8-.2 .8,.5zM333.7,2359.1l-.5,.6-.7-.2-.5-.2-.2-.7 .4-.5 .7,0 .5,.4zM201.7,2438l.6,1.9 .4,2.4-1.4,1-1.3,.4-1.4-1.2-1.3-.3-1-1.6-.2-1.9-.5-2 .3-2 1-1.5 1.8,1.5 1.6-.8 .5,2.7zM205.6,2440.3l-.6,.8-1.1,.6-1.1-.7-.3-.9 .4-1 1.2-.5 1,.8zM197,2434.2l-.2,.8-.7,.3-.8-.1-.4-.7 .3-.8 .7-.3 .9,0zM342.3,2447.2l-.8,1.8-1.6,.7-1,.9-.5,2.8-1.4,1.8-1.6,1.7-1.6-.6-1.1-1.5-.9-1.4-.1-2.2-1.1-1.1 1-2.4 1-1.8 .4-1.3-.5-2 .6-1.9 .9-1.9 1.3-.9 1.3-2.6 1.5,.8 1.5-.1 1.2,.7 1.6,.3 .4,2.2-1.5,3.2-.1,1.5 .7,1.4zM332.9,2441.2l-.7,.4-.7,.1-.5-.4-.1-.7 .5-.5 .6,0 .5,.4zM345,2436.9l0,1.1-.4,.6-.7-.2-.8-.8 .2-1.1 .3-.9 .8,.3zM344.5,2449.9l-.2,.9-.9,.2-.9-.1-.3-.8 .3-.7 .7-.5 1,.2zM335.5,2479l-.4,1.2-.1,1.3-1.7,.6-1.3,.7-1.7,.4-1.6,1.4-1.8-1.7-1.9-.1-2.8,.3-2.3-1-1.2-1.6 1.3-1.9 1.7-1.2 2.4-.5-.6-1.2-.9-2.1 1.4-.9 1.7-.9 2.2,.1 2.1,.3 1.9,.7 1.1,1.5 1.4,.9 2.2,.8 .9,1.5zM340.5,2476.6l-.9,.6-1.1,.3-1.4-.4-.6-1 1.1-.6 1.1-.4 1.2,.6zM318.7,2474.2l-.5,.5-1.2,.3-1.1-.3-.6-.6 .6-.6 1.2-.2 1.1,.3zM323.1,2473.1l-.1,.8-.8,.1-.6-.2-.4-.5 .1-.8 .7-.3 .7,.3zM352.3,2482.1l1.3,1.7-.6,1.6 1.8,3 0,2.5-1,1.9-1.2,1.4-2.4-1.6-1.8-2.5-1-.8-1,1.6-1.3,.3-1.8,.3-.2-3-.8-1.4-.2-1.9-1.2-1.5-1.3-2.1-.7-2.5 .7-1.9 1.5-1 0-2.9 1.4-.9 2.1,1.5 1.4,.8 1.2,.6 1.5-1.6 1.2,1.6 1,1.7 .7,1.7 .6,1.6zM342.4,2471.7l0,.9-.5,.5-.7-.1-.4-.8-.2-.9 .5-.7 .7,.5zM356.6,2481.4l-.8,1-1.2,.2-1.4-.5 .1-1.4 .9-.8 1.1-.6 1,.8zM355.4,2481.3l-.1,1.1-.7,.8-.7-.7-.5-1 .1-1.2 .7-.5 .7,.5zM355,2475.8l-.8,1.1-1,.1-.6-.7-.1-1.4 .9-1.1 1-.3 .7,.9zM355.9,2514.4l1.6,2.2-.1,2.3-1.7,1-2.3-.6-.9,1-.9,3.2-1.7,.4-1.6-1.1-1.6-.4-1-1.8-.4-2 .2-1.9-.1-1.5-.7-1.5 .3-1.6 .9-1.3 0-2 .4-2.4 1.5-1 1.6-1.2 1.7,.6 1.6,.8 1.5,.5 1,1.7-.1,2.3 .3,1.5-.6,1.6zM347.4,2524.7l-.7,.4-1.1,0-1-.6-.6-.8 .9-.4 1.2,.1 1,.6zM361.6,2517.7l-.6,.4-1.2,.1-1.3-.3-.5-.6 .6-.6 1.4,.1 1.4,.2zM350.9,2503.9l-.1,1.3-1.1,.5-.9-.6-.5-1-.1-1.3 1.2-.3 1.1,.3zM97,2476.9l-.7,1.2-.9,1.2-2.6,.1-1.1,1-1.9,1.1-2.3-1-1.9-.7-1-1-1.5-.7 .1-1.1-1.9-1 0-1.3 .2-1.4 2-.7 2.7,.3 1.8-.3 2.3-.8 1.5,1.4-.1,1.6 2.4,.1 3,.7zM88.1,2481.7l-.8,.6-1,0-.7-.7-.5-.9 .8-.6 1.1,.1 .8,.6zM96.9,2480.5l.1,1.5-1.3,.5-1.3-.2-1.1-.9 .3-1.4 1.2-.7 1.3,.2zM99.3,2477.1l-.5,.5-.8,.3-.9-.3-.1-.9 .5-.6 .9-.3 1,.3zM102.6,2507.9l-.5,2-.6,2.9-1.8,1.5-2,0-1.8,.2-1.4-.7-.6-1.9 1.2-3.1-1-.3-1.9-.5-1.1-1.6 1.2-2 1.3-1.6 .9-1.8 1.1-2 1.6-1.6 1.8-.7 1.3,1.6 1.2,.5 1.4,.2 .3,1.6 1.4,.7-.2,1.8 .4,1.7-1.3,1.7zM103.7,2495.2l-.4,.5-.9,.1-.7-.5-.1-.7 .3-.5 1-.2 .7,.7zM90.5,2510.5l-.7,1-1-.1-.7-.7 0-1 .5-1.2 1.1,.4 .8,.5zM107,2497.7l-.9,.5-1,0-1.2-.2 0-.9 .6-.6 1-.1 1,.4zM92.8,2490.5l-.4,2.4-.7,2.6-1.1,.4-1.1,1.7-.6-1.9-.3-1.7-.7-.9 .5-2.3-.4-2.5 .9-2.4 1-1.9 1,.2 .4,2.3 1.1-1.5 1.1,.5-.2,2.6zM91.9,2497.2l-.3,1-.8,.5-.7-.5-.7-.8 .3-1.1 .8-.5 .9,.4zM90.3,2485.3l-.7,.9-1,.4-1-.3-.7-.8 .6-.9 .9-.4 1.1,.2zM217.2,2505.5l-.9,1.2-1.6,.7-1.6,.7-1.8-1-2.8,.9-.3-1.9-.6-1.2-.6-1.4 .2-1.7 2.7,0 2,.2 1.7,.3 1.7,.7 1.4,1zM220.3,2507l-.4,1-1.1,.4-1.3,0-.3-1.1 .4-.9 1-.5 1.2,.2zM206.5,2502.9l-.1,1.2-.5,.4-.5-.5-.3-1.1 .1-1.2 .6-.3 .5,.1zM224.6,2523.6l-.1,2-.2,1.9-.6,1.9-1.5,.5-1.4-.3-1.5,.4-.9-2.1-1.4-.9-1.2-1.8 .9-2-.2-2.2 .5-2.3 1.9,.4 1.4,.7 1.1,.5 1.4,.2 1.2,1.2zM225.8,2520.8l-.8,1-.8,.7-.7-.7-.2-1.4 .5-1.4 .9-.4 .6,.9zM218.8,2530.1l.1,1.1-.9,.9-1.3-.1-.6-1 .1-1.1 .8-.8 1.2,0zM170.5,2545.3l-.9,1.6-.1,2.5-.7,2.5-1.2,1.1-1.2,.5-1.4,.2 0-3.6 .4-2.6-.7-1.1-.9-2 .1-2.9 1.7-.9 1-.4 .8-2.9 1.2-.7 .8,1.6 1.2,.1-.2,2.9-.1,2.1zM172.5,2535.7l-.4,1-1.3,.2-1.1-.4-.4-.9 .4-.9 1.1-.6 1.1,.8zM168.5,2536.8l-.3,1.1-.8,.6-.8-.5-.4-1 .1-1.2 .9-.3 .9,.1zM164.7,2553.8l-.3,.9-.5,.4-.5-.6-.3-.7 .2-.9 .6-.5 .5,.5zM183.3,2515.9l-.5,2.4-1.4,.6-1.1,.9-1.3-.3-.6-1.9-.2-1.9-.1-2.4 1.5-.7 1.1-1.1 1.1,1 .6,1.6zM187.4,2532.6l.2,1.2-1.6,1.1-1.8,1-1.8-.3-1.6-.7 1.5-1.5 1-1 1.7-1.4 2,.4zM269.9,2517.5l.3,2-1.7,.9-1.8-.4-.6-1.7-1.5-.8-.4-1.8 1.4-1.3 1.4-1.1 1.8,.2 1,1.4 .9,1.3zM230.9,2494.6l.9,1.9-.3,1.9-1,1-1.4-.2-1.1-1.8-1.3-1.3-.4-2.1 .2-2 1.3-.4 1.3,.2 1.4,.6zM269.9,2482.1l-.7,1.5-1.5,.6-1.5,.4-2.1,.2-.5-2 .4-1.6 .8-1.1 .5-2 2-.2 1.6,.9 .1,1.9zM65.6,2515.8l-.7,1.1-.7,1.1-.9-1-.4-1.2 .3-1.4 1-.4 .9,.3zM259.7,2398.2l-.7,2.4-1.2,1.6-.7-1.2-.7-.8-.1-1.7 .6-2.3 1-1.9 1.1-.5 .7,.8 .1,1.7zM247.4,2428.3l0,2.2-.2,1.9-.7,1.2-.9-2.9-.6-2-.2-2.3 .3-1.8 .8,0 .9,1.4zM366.2,2334.8l-1,1.3-.9,2.3-1.1,.5 .1-2.5 .4-2.3 .8-2 1.1-2.1 .4,1.6 .7,.6zM387.8,2312.8l-.3,1.2-1.7,.6-2-.3-.2-1.3 .4-1.2 1.7-.7 1.6,.7zM361.9,2558.6l-3.6,1.1 .6,1.4-1.1,1.6-2.3,.3-2.4,0-1.5-1.2 .6-1.7-.9-1 .4-1.3 .9-1.4 2.1-.7 2.2,.1 1.7,.7 1.4,.9zM354.9,2564.2l-.4,.8-1.1-.1-.7-.7-.1-.8 .6-.5 1-.2 .9,.7zM353.7,2562.7l-.3,.9-1,.9-1.4-.2-.6-.7 .1-.9 1.2-.6 1.3,0zM131.5,2393.3l.4,2-1.6,.8-1.5-.5-.7-1.6 .1-1.7 1.2-1.1 1.5,.4zM151.4,2409.9l-.7,1.7-1.2,.2-1.5-.1 .2-2.1 .5-1.8 1.2-.4 1.1,.8zM448.6,2316.8l-.5,1.5-1.9,.8 .8,2-.2,2.3-1.6,1.1-2-.4-1.7,.2-1.5-.9-1-1.4-2-.1-1.4-1.3-.2-1.8 2.2-1.6-.1-1.3-.5-1.7 .5-1.7 1-1.6 1.7-.7 1.9-.1 1.8,.2 2,0 .7,2.2-.1,2 1,1zM434.3,2321.2l-.5,.5-.9,0-.6-.6-.1-.6 .3-.6 .9,.1 .7,.5zM447.3,2307.7l.2,.8-1.4,.6-1.4,.3-.3-.7 0-.6 1.1-.7 1.3-.2zM439.7,2298.4l-.3,1.8-1.1,1.1-1.1-1.2-.8-1.5 .5-1.7 1.1-1.1 1,1.2zM608.7,2302.3l.6,1.5-.5,1.4-.4,1.4-.4,1.7-1.1,1.5-1.7,.7-1.7-1.3-1.2-1.3-2.4-.1-.4-2.3 1.3-1.9-.6-1.7 .3-1.6 1.8,0 .5-2.1 1.4-1.8 1.8,1.4 1.7,.7 1.2,1.7zM608.8,2311.1l-.2,1.1-.6,.7-.8-.5-.5-1 .3-1 .5-.9 .8,.5zM600.9,2300.1l-.4,.6-1.2-.2-1-.6 .1-.6 .3-.7 1.2,.2 .8,.7zM699.8,2337.6l.4,1.6-.8,1.3 1.6,2.3 .3,2.3-.3,2.2-1,1.6-1.5,.4-1.5,.3-1.5-.1-1.4-2-1.3-.3-1.5-.5-1.1-1.5 .4-2.9 .1-1.7-2.2-1.1-.9-2-.3-2.1 1.7-1 .9-1-.8-3.4 1.4-.5 1.3-.7 1.5,.7 1.3-.1 1.6-.9 1.4,1.6 .8,2.4 1.2,1.2 .3,2zM687.3,2336.4l-.5,.5-.7,.1-.7-.3-.3-.7 .5-.6 .8-.2 .6,.5zM701.1,2331.8l-.4,1.2-.6,.8-.9-.6-.6-1 .2-1.3 .8-.5 .9,.2zM701.6,2331.2l-.6,.7-.9,.3-1-.3-.6-.6 .4-.8 1.1-.2 1.1,.2zM690.4,2345.3l-.8,.8-.9,.5-.8-.6-.1-1.2 .7-.8 .9-.5 .9,.5zM720.4,2352.1l-.9,1.7-1.6,.7-1.4,.2-.7,2.3-1.2,.4-1.3,2.4-1.5,1.3-1.9,1.7-1.5-.3-1.1-1.1-.9-1.2-1.3-.9 1.4-3.4 1.2-2.5 .5-1.6 .3-1.4-1.6-1.4-1.8-2.6 1.1-2.4 2.9-.6 1.5-1 1.2-1.2 1.2-1.6 1.4,1.2 1.2-1.3 .7,1.6 2.4-4 1.3,.4 2.4-1.2 1.1,1.2-.6,3 .4,1.8-.6,2.3 1.5,1.3-.4,2.3-2.1,2.2zM724.1,2333.6l-.5,.7-.7,.6-.5-.8-.1-.8 .3-.8 .8-.3 .5,.6zM703.6,2357.9l-.4,1.1-1.1,.7-1.2-.3-.8-.9 .5-1.1 1.1-.6 1.2,.2zM726.8,2350.6l-.7,1.2-1,.8-1.5-.1-.5-1.5 .5-1.4 1.2-.7 1.4,.3zM711,2340.4l-1.1,.8-.9,.6-1.1-.6-.2-1.2 .5-1.1 1.1-.1 1.1,.4zM705.6,2357.4l-.2,.6-.6,.3-.8,0-.2-.7 .1-.5 .6-.4 .6,.2zM688.4,2366.5l-.8,1.9-1.2,1.3-1.3,.8-1.3,1.1-1.4,.1-.6-1.7-1-.7-.6-1.4 .1-1.9 .2-2 .4-2.3 1.4-1.3 1.6,.3 1,0 1.1-.5 2-1.5 1.4,1-.3,2.6-.8,2.3zM680.6,2371.6l-.4,1.2-.8,.8-1.1-.5 0-1.5 .3-1.3 .8-.4 1,.4zM688.7,2371.4l-.5,.7-.9,.6-1.2,0-.3-.7 .2-.7 1-.4 1.2-.1zM672.4,2371.1l.5,1.6-1.2,1.1-2.2,.5-.6,1.4-1,1.4-2.4,.3-2.3,0-2.5-.8-2.1-1-1.6-1-2.4,.3-2.2-.5-.7-1.6-.2-1.4-1-.9-3.8-.9-.2-1.4 2.4-1 1.7-.7-.1-1 .7-.8-2.2-2.8 1.3-1.2 1.3-1.3 3,.6 2.4,.3 2.3,.9 2.2-.3 2.3,.5 2,.8 2.4,.7 .7,1.7-.3,1.6-1,1.4-.9,.9 2.3,1zM675,2365.8l-.3,1.2-1.1,.9-1.3-.5-.7-1.1 .2-1.3 1.3-.6 1.2,.5zM660.3,2379.8l-.6,1.2-1.3,.4-.9-.9-.4-1.4 .9-1 1.2-.3 1.2,.5zM670.5,2360.8l0,1.3-1,.9-1.2-.1-1.2-1 .5-1.4 .8-.9 1.4-.2zM677.4,2371l-.2,1.1-.9,0-1.1-.1-.2-1.1 .4-1 1-.3 .9,.4zM673.9,2365.9l-.6,1.1-1.3,.2-.9-.6-.6-1.1 .7-1.1 1.2,0 1.2,.1zM615.3,2387.5l-1.6,1.6-2.5,.7-1.6,.6-1.3,.5-1.1,.8-1.1,1.3-1.8,.5-1.6-1.2-1.7-.2-1.8-.4-2.5-.5-.2-1.9 0-1.6-.5-1.5 .2-1.6 1.6-1 2.5,0 .9-.8 .3-2.2 1.6-1.3 2,1.3 1.9-.1 1.6,.7 1.1,1.3 1.4,.8 1.9,.9 1.4,1.5zM597.9,2393.1l-.3,1-1,.1-1-.2-.1-1 .3-.8 .9-.3 .9,.3zM612.8,2380.9l-.1,.9-.7,.8-1.1-.2-.8-.8 .5-.9 .6-.9 1.1,.4zM603.6,2378.5l-.1,.8-.9,.3-.9,0-.7-.6 .5-.9 .7-.5 1.1,.1zM618,2382.8l0,2.7-.9,2.6-1.2,1.6-.8-1.8-.4-1.3-1.5,1.1 .6-3-.1-1.7 0-2.5 .8-2.3 1.1-2.1 1.1-.4 1-.3 .2,2.4 .2,1.5 .1,1.6zM616,2376.3l.2,1.4-.6,.3-.6-.2-.4-1.2-.2-1.3 .6-.4 .5,.3zM620.4,2373.4l-.5,.9-1.4,.1-1.5-.1-.3-1 .7-.8 1.2-.5 1.2,.5zM641.3,2395.6l.2,1.4-1.9,.3-1.7,.2-2.2-.1-1.3-1.5-.1-1.3-1.4-1-1-1.7 1.4-1 2.5,.6 1.9-.5 1.6,1.3 2.1,.8-.2,1.4zM634.1,2395.9l-.9,.6-1-.1-.7-.6-.6-.9 .9-.6 1,.1 1,.4zM634.3,2390.8l-.3,.9-.9,.7-1.2-.1-.5-.8 .3-.8 .8-.7 1.1,.1zM688.5,2400.4l-.4,1.5-1.7,.1-1.6,.3-1.2-1.1-1.5-1.2-.2-1.9 1.9-.8 1.5-.3 1.2,.4 2.4-.3 .5,1.9zM591.5,2342.2l-.8,2.1-.3,2.3-1.7,.3-1.2-1.3-1.2,.4-1.5-.4-1.1-1.9 .5-2.4 1.2-1.3 .7-1.4 1.1-.6 1.2,.5 1.3,.1 1.2,1.4zM585,2344.8l0,1-.7,.3-.5-.4-.4-.8 .1-1 .6-.3 .6,.3zM590.6,2336.7l-.8,.8-1.1-.1-.9-.5-.4-.9 .7-.7 1.1-.1 .7,.7zM734.6,2343.7l-1.1,1-1.2,1.1-1.9-.7-1.4-.8-.9-1.3-.3-1.6 1.6-.9 2,.7 1.9-.3 1.4,1.3zM513.6,2344l-.8,1.8-1.6,.3-1-1.1-.5-1.6 .9-1.6 1.5-.7 1,1.3zM501.2,2340.7l-.8,1.1-1.2,.2-1.3-.5 .1-1.7 1-1 1.3-.7 .8,1.2zM520.4,2328.6l-.5,2.1-.6,.9-.6-1.1-.8-1.8 .6-1.9 .6-1.1 .7,.4zM544.7,2256.6l-1.3,.8-1.7-.3-1.7-.7-.4-1.4 1.4-.7 1.6,0 1.6,.9zM557.6,2271.6l-.8,2.4-1.2,1.5-.9,.2-.5-.9 .1-2 .1-2.2 1.3-1.3 1.1-3.7 1.1,.1 .1,2-.2,2zM558,2276.4l-.7,1.1-1.1,.5-1.4,.1-.7-.9 .3-1.1 1.3-.5 1.3,0zM556.2,2277.4l.1,1-.7,.8-1.1-.2-.7-.8-.1-1.1 .8-.9 1.2,.2zM565.2,2250.2l-.6,2-1.1,.5-.9-.4-1-1.3 .6-2.6 1.2-.3 1.1-1.5 1,1.2zM596.5,2268.9l.5,1.3-2.4,.3-1.4,.8-2.2,.1-.4-1.3 .8-1.2 1.1-1 1.9-.6 2.1,.3zM619.9,2289.7l-1.3,1.1-1.5,.6-1.4-.8-.8-1.5 .5-1.6 1.4-1 1.6,.4 1,1.1zM586,2306.6l.2,1.9-.2,2.2-1.6-.4-1-1.5-1.3-1.1 0-2.1 .3-2.2 1.6,.7 1,1.2zM593.1,2238.6l-.9,1.1-1.1,1.3-1.4-.9-.7-1.4 .8-1.2 1.2-.7 1.4,.3zM655.9,2222l-1,1.2-1.2,.9-1.1-1 0-2 1.2-1.2 1.2-.8 .9,1.1zM643.9,2216.1l-.9,1-1.1,.5-1.2-.7 .3-1.5 .6-1.2 1.3-.7 .9,1.1zM510.8,2225l-.3,1.5-1.6,.5-1.1-.8-.8-1.2 .7-1.3 1.2-.8 1.4,.7zM558,2429.4l-.8,1.1-1.2,.7-1.6-.5 .1-1.6 .4-1.4 1.4-.6 1.3,.9zM578,2509.4l-.5,2.5-1,2.5-1,1-.9,.2-.9-.1 .6-3.3-.2-1.4 .1-2.4 1-2.4 1-1.3 .8-1 1.3-2.5 .2,2.3 0,1.8 .2,1.7zM574.9,2509.8l0,1.1-.7,.5-.8-.2-.6-.7 0-1 .6-.8 .9,.3zM578.8,2513.6l-.4,.8-.6,.5-.9,0-.4-1 .4-.8 .7-.4 .8,.1zM552.8,2504.2l-1.1,1.5-.8,1.9-.7-.7-.7-.5-.4-1.7 .4-2.6 1.2-.9 .9-1.1 .6,.8 .8,.8zM551.8,2517.2l.4,2.2-1,.6-1,.1-1.1-1.2-.6-2.2 .3-1.9 1.1,0 1.1,.4zM552.3,2531.4l-.7,1.8-.7,3-.9-.8-.1-2.4-.1-2 .4-2.5 .9-1.1 1-.6 .3,2.2zM551.2,2546.5l-.1,1.9-1,.9-.8-1.3-.6-1.4 .3-1.7 .8-.9 1.1,.7zM433.5,2405.8l-.6,.9-2,0-1.5-.9-.4-1 .6-1 1.9,.2 1.5,.8zM723.4,2469.3l-.8,.7-1,.7-.6-1-.2-1.1 .7-1 1-.2 .8,.6zM704.3,2488.2l-.4,1.6-.6,.9-1-.4-.6-1.7-.1-1.9 1-.6 1,.4zM704.6,2440.3l-.6,1.2-1.6,.7-1.7-.5-1.2-.9 1-1.2 1.6-.6 1.7,.3zM538.3,2556l-.3,.9-1.6,.7-1.7-.5-.8-.8 .7-.9 1.6-.8 1.8,.5zM569.6,2492.7l-.3,1.8-.8,1-1-1-.6-1.5-.1-1.9 1-.5 .9,.6zM575.6,2403.4l-1.2,1.2-1.1,.4-1.3-.6 .3-2 1.1-1.2 1.3-.7 .8,1.1zM567.5,2390.6l0,1.9-.9,.7-1-.4-.7-1.6-.3-1.9 .9-.6 1,.4zM596.8,2314.2l-.8,1.2-1,.4-.8-.7-.1-1.5 .9-1.1 .9-.5 .8,.8zM581.2,2336.2l-1.1,.6-1.5,0-.9-.9-.7-1.1 1.1-.6 1.3,.3 1.2,.6zM946.4,2337.2l-1.2,1.2-1.3,1.1 .9,1.1 0,1.1-2.1,.8-.6,1.2-1.8,.6 .1,2.1-2.3,.5-1.2,2.5-2.6,.6-2.7,.4-2.7,.1-1.3-2.3-.8-1.6-1-.9-.5-1-.3-.9-.3-.7-2-.1-1.6-.5-.4-.9-2.2-.7 1.4-1.2-.4-1.1-.3-1.3 1.7-1-1.1-2.1 1.1-1.6 2.2-1.1 3.3,.2 2.5,0 2.2,0 2.1-.1 2.6-2.2 2.6-.1 1.3,1.5 1.4,.9-1.6,2.9 3-.7 .8,.9 3,0 2.2,.7zM944.1,2347.3l-.3,.5-.6,0-.4-.3 0-.6 .4-.5 .5,0 .5,.3zM936.4,2351.7l-.6,.8-.9,.6-.8-.7-.3-1 .4-1 1-.2 .6,.7zM950.6,2336.3l-.5,1-.7,.8-1.1-.1-.5-.9 .1-1 .8-.7 1.1,.1zM937.1,2329.2l-.2,1.1-.6,.9-.9-.6-.5-.9-.1-1.3 .8-.5 .9,.4zM931,2349l-.5,.6-.9,.3-1-.2-.1-.6 .1-.6 1-.2 .9,.2zM952.6,2338.6l-.3,.6-.8,.2-.8-.1-.6-.6 .7-.5 .7-.3 .9,.1zM965.9,2347l-1.3,.9-1.2,.7-1.5,1.5-2.3-.5-.6-2.1-1.2-1.5 1.9-1.1-.1-1.6 1.2-1 1.9-1.2 1.7,1.4 1.3,1.4 .7,1.6zM863.1,2360.1l-1.4,.9-.5,1.1-1.2,1.5-2.6-.4-2-1-1.1-1.1-.9-.8-1.2-.9-1.3-1.4 1.5-1 1.6-.6 2-.3 2.1,.1 2.8-.1 0,1.9 .4,1zM864.5,2361l-.1,1.4-.6,.3-.5-.5-.1-1.3 .1-1.3 .6-.6 .4,.8zM855.6,2356.1l-.4,.6-1-.2-.9-.4-.2-.7 .6-.4 .9-.1 .9,.5zM826.8,2343l.5,1.3-.1,1.5-.5,1.6-1.4,1.5-1.4-2.2-1.6-.3-.7-1.7-.4-1.9 1.3-1 .3-1.8 1.4-1 1.8,0 .8,2.3zM843.8,2284.3l.6,2.2-1.2,1.6-1.2,.9-1.4-.6-1.2,.7-1.2-.7-.9-1.4-1.1-1.6-.2-2.2 .9-1.6 1.9,.5 .6-2.4 1.4,.5 1.2,1.1 1.2,1.2zM845.7,2286.3l-.3,.8-1,.4-1-.3-.2-1 .4-.8 1-.5 .9,.5zM837.3,2287.6l-.4,.8-.9,.1-.7-.3-.4-.8 .3-.9 1,.2 .8,.1zM987.1,2287l-1.3,.7-1.1,.8-2.3,.3-2.8-.5-2.5-.2-2.2-.7-1.1-.8-1.7-.8-1.7-1 1.6-.7 .8-.8 2.1-.4 2.7,.1 2.5,.9 2.4,.4 .1,1 2,.7zM981.1,2289.8l-.6,.9-.8,.7-.9-.5 .2-1.4 .4-1 .8-.6 .7,.7zM984.3,2289.2l-.5,.6-.7,0-.6-.3 .2-.9 .4-.6 .7-.1 .4,.5zM971.5,2287.1l-.5,1.3-.5,.3-.5-.4-.2-1.3 .4-1.3 .6-.5 .4,.7zM932.6,2274.3l-.4,1.3-2.1,.5-2,.8-1.4-1-1-1 .3-1.3 2-.6 1.9-.2 1.3,.6zM978.5,2313.5l-.7,1.7-1.4,.8-.8-1.4-.2-1.6 .5-2.2 1.5,.1 .8,1.1zM960.2,2314.7l-.3,2.8-1.2,0-.8-.7-.4-2.2 .4-2.7 1-.1 .8,.8zM921.3,2375.9l-.9,1-.7,1.1-3.1,0-2.6-.5-2.3,.3-1.3-.9-1-.6-3.3-.7 0-1.1 2.3-.5 1.8-.5 1.6-.7 2.7-.1 1.2,1.5 1.5,.3 1.4,.6zM919.1,2373.7l-.7,1-1.2,.1-.5-.9-.2-1.1 .6-1 1,.4 .8,.3zM919.6,2378.6l.3,1.3-.5,.7-.8-.1-.7-1.4 .1-1.1 .3-.9 .8,.2zM895.3,2395.2l-.1,2.1-1,2-2-.1-1.4-.8-1.2-.3-1.4-.6-.5-1.6-.2-1.6-.2-2 1.2-1.4 1.3-1.3 1.6-1.2 1.4,1.8 .5,1.6 1.7,.1 .5,1.6zM896.4,2388.4l-.2,.9-1.2,.5-1.4,0-.7-.7 .4-1 1.3-.4 1.4-.2zM891.2,2389.2l-.2,.7-.8,.8-1.2-.3-.5-.8 .5-.7 .8-.6 1.2,0zM854.1,2400.3l-.9,.5-.4,1.1-1.8,.4-2.3-.6-2.4-.8 .5-1.4-1.2-1.1 1.6-.5 .7-.9 1.9-.3 2.3,.5 2.1,.9 1.3,1.3zM850.3,2402.7l-.5,1-1.1,.4-1-.8 .1-1 .3-1 1.1-.2 1,.5zM853.7,2396.9l-.3,.6-.7,0-.3-.5-.2-.7 .6-.4 .6-.2 .4,.5zM979.4,2387l-.3,1.6-.5,1.6-1.2,.9-1.6-.4-.7-2 0-1.5-.4-1.9 1.3-.6 1.4-.7 .8,1.8zM1078.5,2374.4l-.7,1.9-1.3,2.2-2.1-.7-1.6-.7-1.8,0-1.6-.7 .3-2.3 .6-1.7-1-1.1-.5-1.6 .3-1.9 1.4-1.3 1.6-1 1.7-.1 1.7-1.6 1.9,.2 1.7,.8 .6,1.9-1,2.4-.2,1.2 1.1,1.2 0,1.7zM1079.3,2378.8l-.1,.7-.8,.5-1,0-.2-.6-.2-.7 1-.4 .9,0zM1081.4,2376.4l-.4,.9-1,.3-1-.4-.4-.9 .4-.9 1-.1 1.1,.2zM1070.8,2309.2l-.6,1.2-1.9,.1-1.4-1-.4-1.1 .5-1.3 2,.2 1.7,.7zM933.3,2485.3l-1.2,1.7-.5,2.5-1.8,.9-1.6-.1-1.2-1.7-1.3,1.3-1.3,.1-1.3-.4-.5-1.5-1.3-.9-1.7-1.4 .1-2.5 1.6-2.1 1.8-1.3 1.6-.5 .7-1.5 1.1-1.6 1.5-1.4 1.5-.2 1.1,1.2 .9,1.2 .6,1.3 1.5,.9 .6,1.8-.5,2.1zM920.1,2485.8l-.4,.7-.7,.1-.5-.4-.5-.7 .5-.7 .7,0 .6,.3zM926.1,2494.3l-.6,1.2-1.4,0-1.1-.5-.9-1.1 1.1-.9 1.2-.2 1.3,.3zM923.8,2490.7l-.1,.6-.9,.4-.9-.3-.5-.4 .2-.6 .9-.3 .8,.2zM921,2464.7l.3,.8-.4,1.2 .6,1.3-1.9,1.8-2.3,1.4-2.3,.5-1.7,.1-2.5,1.2-.5-1.1-.2-1-.8-.6-.9-.9 1.3-1.7 1.2-1.8 3-.7 1.8-.3 2.4-2 1.7,.1 .8,.7zM924.1,2464l-.6,1-.8,0-.8-.4 .4-1.2 .4-1 .9-.4 .4,.9zM917.1,2472.2l-.8,.6-1,.1-1-.5-.5-.9 1.1-.4 .9-.4 1.2,.5zM907.2,2469.5l-.1,.7-.7,.2-.7,0-.5-.7 .2-.8 .8-.1 .8-.1zM932.8,2454.1l-1.3,1.1-1.3,.9-1.9-.4-2-.2-1.2-1.2 1.7-1 1.2-1 2.1,0 1.3,.8zM945.4,2455.6l.2,2.2-.4,1.7-.8,.5-1.1-.3-.7-2.5-.1-1.9-.6-2.5 .8-1 1,.4 .9,1.6zM984.8,2440.2l-.3,1.6-1.2,1.3-2,.2-1.7-.7-1.5,.2-2.3,0-1.7-1.3 .6-1.9 .7-1.4 0-1.7 2.2,0 1.4-.7 1.9-1 1.2,1.6 1.3,1 1.1,1.2zM974.2,2437.7l-.8,1-.7,.7-1.2-.1-.6-1.3 .5-1 .9-.6 1.2,.2zM975.9,2441.8l-.5,.6-.6,.2-.3-.6-.3-.6 .5-.6 .6-.1 .5,.4zM970,2414.9l-1.1,1.5-1.3,1-1.2-.6-1.6-.3 0-2 .6-1.8 1.3-.7 1.2-1.1 1.2,.7 .4,1.5zM980.4,2482l-2,.8-2,.1-1.6-.3-1.7,.6-1.8-.7-2.3-1 .8-1.4-.8-1.5 2-.4 1.7-.2 1.7-.4 1.8,.7 1.3,1 2.4,1.1zM979.1,2476.9l-.2,1.4-1.1,.6-1-.6-1-1.1 .7-1.2 1-.9 1.2,.5zM979,2484l-.6,1-.8-.1-.7-.2-.3-1.1 .6-.9 .8-.1 .7,.3zM965.5,2507.5l-.1,.7-2,.1-1.9-.1-2,.6-3.1-.5-1.5-1.1-.5-.9-.6-.8 .7-.5 1-.6 2.2-.1 2.5,.3 2.4,.6 2,.7 2.5,.9zM955.8,2503.8l-.2,1.4-1.4,.2-1.4,.3-.5-1.2 0-1.3 1.3-.6 1.4,.2zM963.9,2509.4l-.6,1.2-.7,.1-.6-.5 .1-1.3 .6-1.3 .8-.3 .5,.7zM976.3,2517.9l-.6,2-1.4,.6-.4,1.9-1.3-.2-1.6,.7-.5-2.6-1.2-1.8 1-1.9 .8-1.2 .6-2 1.4,.4 1.4,.3 1.4,1.3zM971.4,2514.6l-.6,.6-1,.3-1.1-.2-.6-.6 .5-.7 1.2-.1 1,.1zM1005.2,2423.7l0,2.1-1.5,1.4-1.6,.7-1,1.8-1.8-.9-.9-1.3-1.9-.4-.8-1.6-.4-2.2 1.3-1.6 2.2-.1 1.5,0 1.6,0 .6,1.6zM1027.4,2450.3l-.5,1.9 .2,2.3-.7,2.3-1.8,.1-1.5-1.6-1.3,.2-1.1-1.2-.8-1.4-.8-1.7 .4-1.8-.9-2.9 1.3-1.7 2.1,1 1.3-.8 1.3,.9 .4,2.1 1.8,.4zM1018.8,2449.1l-.5,.5-.9,0-.7-.5-.3-.6 .6-.4 .8-.1 .7,.5zM1021,2456.9l-.2,1.3-.7,.7-.7-.7-.7-1 .1-1.5 .8-.7 .8,.6zM1028.8,2463.8l-2.5,.9-1.1,.9-1.8,.7-2.6,.2-2-.8-1.1-.8-1.4-.7-.2-.9-.1-1.2 2.6-.4 2.2-.7 2.3,.6 1.4,.8 2.4,.4zM1029.4,2463.2l-.2,.7-.4,.5-.6-.1-.2-1 .1-.9 .4-.6 .6,.4zM1026.4,2461l-.5,.6-1.1,0-1.3-.1-.1-.8 .4-.5 1.1-.1 1.2,.3zM1040.5,2459.2l-.4,2.3-.6,1.1-.6,.7-.8,.3-.8-1.6-.8-2.5 .5-2.4 .5-1.3 .7-.2 .8-.9 .9,1.8zM1038.3,2454l-.2,.7-.6,.4-.4-.5-.2-.7 .3-.7 .5-.1 .6,.2zM1038.3,2453.1l.3,1.4-.6,.6-.7-.4-.8-1 0-1.2 .5-.6 .7,.1zM1015.3,2527.8l.9,2.8 .4,2.8-.2,2.4-.5,1.9-.6,1.5-1,.5-1.6-1.3-.9,.1-.6,.8-.9,1.7-1.2-1.7-.9-2.9-.3-3-1.7,.3-1.5-1.5 0-2.5-.4-2.1-.9-2.6-.1-2.3-.4-2.8 .9-1.1 1.3,0 .5-1.9 1.4,1.2 1.1,.7 1.2,1.5 .9,2.6 .3,2.8 1.1,0 1.4,.7zM1012.8,2542.7l-.2,1-.9,0-.7-.4-.3-.8 .3-1 .9-.1 .6,.6zM1010.9,2518.9l-.4,.9-.9,.2-.6-.6 0-.9 .3-1 .9,0 .6,.5zM1007.3,2539.6l-.6,.5-1.3-.3-1.2-.5-.4-.9 .8-.4 1.3,.1 1.2,.7zM1003.7,2520.5l-.4,1.4-1.1,.2-.6-.9-.5-1.1 .7-1.2 1-.4 .8,.7zM1013.7,2507.7l-1.3,1.9-.9,1.3-.8,.1-1.1,.9-.5-1.7-.2-2.1 .4-2.6 1.1-1.5 .9-1.5 .9,.4 .6,1.1 .4,1.4zM1009,2510.6l0,.9-.4,.6-.7-.2-.5-.8 .1-.8 .3-.8 .7,.4zM1011.6,2513l-.4,.9-.7,.5-.9-.2-.5-.8 .2-.9 .8-.7 .8,.6zM1061,2520l-1.5,1.1-1,2.2-1.7,3-1.5,1-1.2,.1-.9-.4-.2-1.4 .1-1.7-.1-1.5 .6-2.1 1.5-2.3 1.5-1.7 1.2-1.2 1-.8 1.7-3.2 2.1-2.7 1.3-.1-.1,2.2 0,1.8-.5,1.9-.3,1.8-.4,2zM1058.9,2525.2l.1,1.2-.7,.9-1.1-.1-.5-1.3-.2-1.1 .6-1 1.1,.5zM1054.1,2525.1l-.1,1.3-1,.8-1.4,.1-.9-1.1 0-1.4 1.3-.5 1.4-.3zM1055.2,2516.5l-.2,1-.7,.4-.7-.4-.3-1 .4-.9 .6-.6 .7,.4zM1105,2521.8l.1,2.8 .6,3.1-1.5,.9-1.2,.1-.9,0 0,3-1-.1-.9-1.4-1.1,1.1-1.1-1.3-1.2-1.4-1-2.4-.2-2.8 0-2.5 .2-2.2-.2-2.6 1.2-.5 1-.1 .6-.8 .5-2.6 1.2,.5 .7,4.6 .8,.2 1.8-.7 1.3,2.1zM1098.6,2510.4l-.6,1.2-.9,.2-.4-.7-.3-1.2 .6-1.3 .9-.3 .6,.8zM1098.7,2510.5l-.9,1-1.2,.2-1.2-.6-.3-1.3 .9-.9 1.1-.1 1.2,.5zM1099.9,2534.9l-.6,1-1,.3-.8-.7-.1-1.1 .5-1.1 1.1-.3 .8,.8zM1096.8,2518.2l-.3,1.1-1,.4-1.4,.1-.4-1.2 .6-.9 .8-.8 1.4,.1zM1101,2548.8l-.1,2.1 1.2,2.7-.6,2.2-2.1-.4-1.3-.5-1,1.2-1.2-.9-1.1-1.1-.9-1.5-1.4-1.4-.7-2.3 .4-2 .9-1.3 .5-1.8 1.4-.1 1.3-.3 1.3,.9 .6,2.5 1.5,.4zM1101,2558.6l-.2,1.4-.9,1-1.1-.8-.8-1.1 .3-1.4 .9-.9 1.1,.7zM1101.6,2557.5l-.5,.5-1,.3-1.1-.1-.5-.5 .5-.5 1-.3 1.3,0zM890.8,2505.8l-.6,1.8-1.1,.3-.6-1 0-1.7 .7-1.6 1-.2 1,.5zM897.1,2559.1l.2,1-1.1,1.1-2.3,.1-1.6-.7-.5-1.1 1-1 .6-1.5 2.3,.3 2.2,.3zM775,2266l-.9,.7-.7,.5-1-.1-.4-1 .4-1 .9-.3 .9,.3zM797.3,2279.1l.1,1.7-.9,1.2-1.6-.1-1.1-1.5 .2-1.7 .8-1.4 1.6,.3zM810.8,2270.5l-.7,2.2-.9,1.6-.7-2-.8-1.9 .9-1.9 .8-1 1,.7zM872,2227.9l-1.1,1.5-1.1,2.6-1.4,.1-.2-2.4-.1-1.8 .7-2.1 1.1-1.6 1.3-1.1 1.3,.3 0,2.3zM974.8,2222.4l.5,3-.5,1.6-.7,.2-.7-1.1-.6-1.3-.8-2 0-2.6 .3-2 .7,0 .7,.1 .6,1.8zM972.9,2222.7l0,1-.4,.4-.6-.1-.5-.8 0-.9 .2-.9 .7,.6zM973.3,2215.4l-.4,1.1-.6-.1-.5-.2 0-1.2 .5-.9 .6-.3 .5,.5zM1014.7,2263.9l0,1.4-1.5,.6-1.4-.3-.7-.9-.1-1.4 1.6-.5 1.3,.3zM932.7,2438.8l-.9,2.1-1.4,.2-1.1-.5-.7-1.2 .1-2 1.1-1.8 1.3,0 1.3-.3 .1,1.8zM986.9,2460.2l-1,.8-2.2,.2-2-.5-1.7-1 1.7-.7 2.2-.6 2,1zM1038.3,2397.4l.1,2.4-.4,1.5-.8-.7-.9,.2-.7-2.8-.1-2.1 .1-1.8 .7-.6 1,1.7zM1027.7,2498.5l.2,2.6-1,.5-1-.4-.5-2.4 .1-2.1 .6-2.1 .9,2.4zM1003.9,2517.5l-.4,1.7-.9,.6-.8-.8-.8-1.6 .9-1.4 .8-.9 .8,.8zM102.6,2588.4l-.4,2.9-1.7,1.5-.9,3.1-1.6,.8-1.4,.2-1.2,0-.7-1.8-.2-1.9-.5-.6-1.3,1.2-.8-.2-2.9,2-1.1-1.2 .1-2.5 1.6-3.1 2-2.4 1.1-1.6-.4-2.4-.2-3.9 1.8-1.1 1.6-.3 1.2,.6 1.4-3.1 1.2-.2 1,.4 1,.4 .1,2 .7,.8-.4,2.1 .5,1 .6,1.2-.1,1.8 0,2zM98,2597.2l-.2,.7-.6,.7-1-.1-.4-.5 0-.7 .8-.5 .9-.1zM89.3,2600.1l-.6,.6-.9,.3-.9-.3-.3-.7 .5-.6 .9-.4 .9,.4zM96.3,2574.9l.1,1.1-1,.6-1.1,.1-.7-.8 .1-1 .7-1 1.2,.4zM98.9,2599.5l-.5,1.2-1.1,.7-1.4-.3-.4-1.3 .3-1.3 1.2-.5 1.3,.3zM89.5,2588.2l-.5,1.1-.7,.3-.5-.5 .1-1.2 .3-1.2 .7-.3 .6,.5zM112.7,2592.9l-1,1.3-1.5,1-1.8-.6-.6-1.3 .5-1.3 1.5-.7 2,.1zM177.5,2568.9l.2,2.2-1.4,1-1.1,2.1-1.6,0-1.2-1.1-2,.3-.4-2.2 1-2.3 .2-1.6-.4-2.3 1.6-.8 1.3-.4 1.3-1.3 2-1.2 1.5,1.3-.2,2.7-1.5,2.3zM178.4,2562.1l-.4,1.1-.9,.5-.8-.7 .1-1.3 .3-1.3 1-.4 .8,.7zM177.7,2560.4l-.8,.7-1.2,.4-1.4-.4-.3-1 .7-.8 1.3-.6 1.3,.6zM298.8,2663.6l-1.5,.9 .2,1.7-1.5,.9-2-.2-1.7-1.3-1.4,.1-1.9,.1-1.5-.9-2-1-1.4-1.7 .8-1.6 1.8-1 1.3-.8 1.6-.3 1.2-.8 1.7-.2 1.8,.1 1.1,1.4 1.8,.6 1.8,1 .8,1.6zM301.8,2662.2l-.8,.7-.9,.3-.9-.4-.2-1.1 .5-1.2 1.1,.3 1,.2zM300.8,2658.2l-.1,1.3-.9,.3-.8-.1-.5-1.2-.1-1.4 .9-.2 .8,.3zM277.2,2643l-.3,1.7-1.1,1.3-1.8,0-1.3,.2-1.6,.5-1.7-.3-1.2-1.3-1.1-1.5-.5-2 1.4-1.6 .7-1.8 2-.3 1.7,1.8 1.7-2.3 1.4,1.1 1.8,.8 .6,1.9zM267.5,2639.3l0,1.1-.9,.9-1-.6-1.2-.5 .3-1.2 1-.7 1.2,.1zM279.2,2647.3l-.5,1-.9,.8-1-.6-.6-.7 .1-1 1.1-.5 1.1,.1zM247.8,2694.6l1.4,.5-.5,1.2-1.7,1.4-2.9,.8-1.9-.2-2.9,1.7-.7-.9-.8-.5-.8-.5 .3-1 .3-1.3 2.2-1.3 2.7-.7 2-.1 1.2,.3 1.9-.2zM239,2694.9l.1,1.1-.5,.4-.6-.3-.5-.8 0-.9 .4-.6 .6,.3zM252.4,2693.9l-.5,1.1-1.4-.2-1.3-.2-.3-1.2 .6-.9 1.3-.1 1.1,.5zM205.3,2792.4l.2,1.9 .7,2-.3,1.5-.1,1.7-.9,.8 .1,2.7-1,1.1-1.6-.7-1.5-2.1-1.4-.2-1.4-1.3-.9-2.2 .7-2.5-.7-1.4-1.9-2.3-.5-2.4 .6-1.6 1.3-.5 .7-1.1 1.5,1 1-.8 1.2,.3 1.7-1.2 1.2,2.8 .9,2.2zM204.6,2785.7l-.1,1.1-.8,.5-.9-.4-.3-1-.1-1.1 .9-.2 .8,.1zM197.4,2799.3l-.5,1.2-.8,.7-.6-.9-.3-1.2 .4-1.1 .8-.9 .8,.8zM210.8,2799.8l-.6,.7-1.2,.1-1.3-.5-.5-.9 1-.4 1.1-.4 1.2,.6zM282.3,2832l.3,1.6-1.7,1.5-.3,1.5-2.5,1 .5,1.7-1.6,1-1.7,.8-2.8-.4-1.2,.7-1.4,.5-1.7-.6-1.2,.4-1.6,2.2-1.6-.6-2.8,2.3-2.6,.4-2.7,.1-1.9-1.1-.2-2-.1-1.8 .8-1.8-2.5-.8 .8-1.6 1.1-1.5-.7-1.4 3.4-.9-.2-1.3 .5-1.2 0-1.8 1.6-.9 1.3-1.2 2.2-.1 2.1,.2 1.7,.1 1.6-1.9 2.3-1.3 2.2-.1 2,.4 1.9,.6 .9,1.6-.2,2 3.4-.3 2.1,.8 1.6,1.2zM261,2846.6l-.4,1-.7,.5-.9-.2-.1-1.3 .2-1.1 .7-.4 .7,.5zM287.2,2828.1l-.9,.3-1.2,.1-1.1-.8 0-.7 .4-.5 1.3,.1 1.1,.8zM249.2,2840.4l-.9,.9-1.3,0-1.3-.5-.1-1.1 .4-1.1 1.5,0 1,.7zM259.8,2847.2l-.2,.7-1.1,.3-1,0-.4-.6 .2-.6 .9-.6 1.1,.3zM272.6,2822.2l-.6,.7-1,.6-1.4,.2-.9-.3 .9-.8 .9-.7 1.4-.1zM258,2856.2l-1.8,1.4-.9,1.6-1,1.7-2-.4-1.5,.2-1.6,.2-1.4-.8-.7-1.6-1.3-1.1-.1-1.7 .8-1.7 0-1.6-.4-2.4 1-2.1 2.5,1.1 1.4-.4 1.3,.7 1.6-.5 1.3,.9 1.1,1.2 0,1.8 1.1,1.5zM258.1,2846.7l-.5,.6-.5,.3-.6-.1-.3-.7 .4-.6 .5-.4 .7,.2zM259.8,2855.3l-.4,1.1-.9,.4-1-.3-.5-.9 .3-.9 .9-.6 .8,.5zM275.9,2817.5l-.8,1.6 .9,2.6-1.4,1.4-2.1-1.2-1.3,0-.7-1.5-1.9,.4-.9-1.6-.5-1.9 .1-2.2 1.8-.8 1.2-1 1.5,.3 1.3,.3 1.5,.3 1,1.5zM278.6,2821.2l-.3,1.3-1.3,.2-1.2-.1-.9-1.1 .7-1.3 1.2-.5 1.1,.5zM271.5,2812.5l-.3,.5-.9,.2-.9-.1-.5-.5 .5-.5 .9-.3 .9,.2zM292.7,2819.3l.8,1.5-1.6,1.3-1.4,1.5-2.4,.3-1.8-.7-1.6-.5-1.7-.7 .9-1.5-.9-1.5 2.1-.9 1.5-1.4 2.3-.4 1,1.8 1,.6zM284.4,2823.1l-.5,1.1-.7,.9-1.2-.2-.8-.9 .2-1.1 .9-1 1.2,.3zM293.6,2817l-.3,.7-1.3,.2-1-.4-.4-.6 .4-.6 1.1-.3 1.3,.3zM282.9,2803.6l-1.3,.9-.7,1.5-2-.6-1.8-.6-1-1.4 .6-1.4 1-1.2 1.9,.1 1.9,.1 1.4,1.2zM371.7,2568.3l-1.7,.7 1,1.1-1.7,.7-2.2,.4-3-.3-2,.2-2.3-.3-2.5,.8-2.3-.8-.6-1.4-.5-.8-2.5-.2-2.2-.6-2.6-.9-2.3-1.1 .5-1.1 2.8-.5 3.9,.2 .6-.8 1.6-.5 2.4,0 2.3,.8 2-.1 2,.3 2.4,.2 2.3,.4 2.4,.7 0,1 .2,.9zM372.9,2563.8l-.3,.6-.8,.5-.9-.2-.1-.7-.2-.7 1-.2 .8,.2zM347.2,2566.5l-.4,.6-1.1,.4-1.3-.2-.6-.4 .4-.6 1.3-.4 1.3,.2zM357.9,2571.8l.3,1.1-.6,.7-.9-.3-.6-.9 .1-.9 .4-.7 .9-.1zM343.9,2568.1l-.4,1.3-.7,.4-.5-.6 0-1.4 .4-1.3 .6-.2 .3,.7zM378.4,2576.2l-.6,1.7-.5,2.8-1.5-1.4-1-.3-.9-1.2-.4-2.1 1-1.6 .7-2.1 1.4-.3 1.4,.4 .1,2.4zM216,2625.6l-.4,1.9-2,.2-1.5-.4-1.4,.9-1.8-.5-.8-1.6-.3-1.7 .3-1.7 2.3,0 .5-2 1.6-.1 2,0 1.1,1.6 .5,1.7zM212,2592.2l-.6,1.5-.5,2.2-1.1,.6-1.2-.8 .2-2.8-.3-2 .8-1.5 .8-2.2 1.2,.8 .9,1.7zM180.8,2608.1l-.5,1.2-1.7,.4-1.8,.2-1.2-1.2-1.2-1.1-.1-1.6 1.8-.6 1.6,0 2.1-.2 .7,1.5zM241.6,2624.3l-.8,1.6-.8,2.1-1.5,.8-.9-1.8-.3-1.8-.2-1.7 .3-2.2 1.5-.2 1.3-2.3 .9,1.9 .5,1.6zM251.3,2628.3l-1.6,.7-.9,1.1-2.2-.1-1.1-1.2-1.2-1.1 1.4-.9 1.5-.4 2-.5 1.7,1.1zM249.8,2718l.5,2.3 0,2.3-1.7-1.3-.9,.4-1.6-.9-.5-2.6 0-2.1 1-.4 .9-.5 1.3,.7zM251.3,2740.2l-.2,1.7-.7,1.2-.9,1.2-1.6,0-1-1.9-.4-1.7 .4-1.5 1-.8 1.2-1.3 1.2,1.6zM284.7,2727.8l-.6,1.7-1.6,.5-1.6,0-1.2-1.2-.1-1.7 1.1-1.4 1.7,0 1.4,.7zM326.8,2773.9l.3,2.4-1.4,1.3-1.4,1.8-1.4-1.4-1.3-.5 0-2.2-.7-1.5 1.4-1.4-.2-2.4 1.1-2.4 1.7-.1 1,2 1,1 .1,1.8zM329.7,2772.1l-.2,1.4-.9,1.2-1.2-.8-.6-1.2 0-1.5 1-.8 1.1,.5zM324,2780.1l-.4,1.1-1.2,.5-1.1-.3-.6-.9 .1-1.2 1.3-.2 1.1,.2zM336.4,2786.9l-.1,1.1-1,.3-1-.2-.4-.8 .1-1.1 .9-.7 .9,.7zM343.1,2789.1l-.5,.8-1,.2-1-.5 .4-1.1 .3-.9 1-.2 .7,.8zM350,2788.2l-.2,.9-1,.1-1-.1-.4-1 .4-1 1-.2 .9,.3zM305.8,2642l-.4,2.1-.4,1.8-.9,1.4-1.2-1.8-.8-1.9-.2-2-.3-2.7 1.1-.9 1.2,.5 .8,1.9zM293.6,2642l.1,1.7-.7,.9-1.1,0-.7-1.9-.3-1.8 .9-.6 1,0zM327.7,2816.4l0,2.1-1.6,.2-1.4,.9-1-1.3-.1-1.6-.6-1.9 1-1.9 1.6,0 1,1.1 1.5,.5zM314.9,2805.1l-.5,1.2-1.4,.4-1.5-.1-.6-1.2 .4-1.3 1.5-.3 1.4,.2zM361.1,2828.6l.5,1.7-.5,1.6-1.2,1.1-1.4,.5-1.7-.1-1.2-1.7 0-1.9 .4-1.5 .1-1.5 .4-2.3 1.8,.8 1.6-.1 .9,1.7zM251.7,2823.7l-.7,1.7-1.4,.8-1.3-.9-.9-1.6 .8-1.8 1.4-.6 1.2,.9zM186.9,2644l.2,1-1.1,.6-1.2,.2-.7-.9 .1-1 1-.7 1.2,0zM195.2,2652.5l-.1,.8-.8,.1-.8,.1-.3-.7 .1-.8 .7-.3 .7,.2zM127.1,2575.4l-1.2,1.9-1.2,.8-.2-1.7-.2-1.9 1.3-2.2 .9,.4 .9,.3zM279.3,2607.8l-.3,1.2-1,.8-1.2-.3-.9-.9 .3-1.4 1.2-.2 1.2-.3zM263.9,2797.9l-.8,1.1-1.9,0-1.1-1.1-.9-1 .7-1.2 2,0 1.5,.9zM369.9,2907.6l-.8,1.9-1.3,1.8-1.3-.9-.9-.8-.3-1.6 .4-1.8 .1-2.7 1.7-.4 1.5-.8 .3,2.3 .7,1zM218.1,2873.8l-.4,.8-.7,.3-.6-.5-.3-.8 .3-1.1 .8-.1 .6,.5zM388.4,2649.5l-.2,2.8-1.2,.7-.8-.2-.8-.6 .1-2.2 .5-2 .7-2.6 1.1-.6 0,2.8 1.6-.8zM391.5,2615l-1,1.7-1.1,1.4-1.4,.1-1.1-.7-.4-1.8-.2-2.2 1.7-1.3 1-1.1 1,.5 1.9-1.1-.1,2.5zM397.6,2756.2l-.7,1.3-1.9,.3-1.7-.3-.9-1.1 1.1-1 1.5-.7 1.5,.6zM384.7,2768l-.6,.8-1.4,.1-1.1-.8-.4-.9 .8-.8 1.4-.3 1.1,.9zM380.9,2820.7l-.7,.9-1.1,.3-.6-.9-.4-1.2 .9-.9 1-.1 .6,.8zM536.5,2681.1l.2,2-1.2,1-.8,1.2-1.3-1.2-1.6-.2-.2-1.9-.3-1.9 1.1-1.3 1.5,.7 1.2,.5zM524.7,2742.6l-.9,.8-1.2,.5-.8,1.2-1.6,1.3-2.2-1.7-1-1.6-2.4-.2-2-1.2-1.1-1.6 1-1.3 1.9-.5 1.5-.3 1.3-.2 1.3-.6 1.9-.3 1.8,.9 3,.5 1.4,1.7-1.1,1.5zM516.9,2744.9l-.2,1.4-1.2,.6-1.3-.3-.7-1-.1-1.4 1.4-.5 1.3,.3zM524,2745.9l-.3,.9-.8,.6-.7-.8-.1-.9 .3-.8 .8-.5 .9,.5zM482.4,2751.5l-.9,2-1.4,1.2-.9,1.2-1.6-.4-.9,2.4-2,.6-1.8-.9-1.2-1.6 .8-2.2-.6-1.4 .1-1.7 1.1-1.3 1.8,0 1.3-1.1 1.9-1 1.3,1.5 .8,1.6zM473.6,2747.9l-.3,.8-.7,.3-.9-.2-.1-.8 .1-.9 .8-.1 .9,0zM477.7,2759l-.9,.8-1.1,.2-1.2-.5-.2-1.2 .9-.8 1.1-.6 1.1,.8zM475.1,2764.1l-1.2,1.4-.8,1.4-.7,2.5-1.5,1.7-1.6-.4-.9-1.6-1-1.1 .1-2.3-.1-1.7-.1-1.9 .8-1.8 1-1.7 1.3-.5 1.2-.5 1.5-1.5 1.6,.1 .6,2.1-.3,2.3 .7,1.5zM467,2770.3l-.4,.8-1.1,.1-.8-.5 0-.9 .4-.8 .9,0 .9,.4zM475.7,2768.7l-.6,1-.7,.4-.9-.2-.3-1.1 .4-.9 .7-.7 .7,.5zM490.6,2769.7l-.3,1.3 1.1,2.3-.5,2.3-1.9,.5-1.9-.8-1.4,0-1.1-1.2-.8-1.2-.5-1.3-1.7-1.2-.1-1.9 1.2-1.4 .1-2.3 1.6-.9 1.8,.5 1.6-.2 1.1,1.4 .8,1.3 1.3,1zM486.2,2763.4l-1,.5-1.2,.1-1.2-.4-.5-.8 .5-.7 1.5,.2 1.2,.3zM487.1,2763.9l-.5,.6-.8,.1-.5-.6-.2-.7 .4-.6 .8,.1 .5,.3zM510.6,2770.2l-.9,1-1.4,.7-1.7,.6-2.3-.8-2-.9-.1-1.6-.8-.9-3-1.4 1.3-1 1.1-.8 1.6-.3 1.9-.3 2.1,.9 1.5,1.1 1.2,1.1-.7,1.1zM499.1,2765.9l-.8,1.1-.8,.4-.3-1-.2-1.2 .8-1 .8-.2 .5,.6zM498,2764.5l0,.9-.6,.3-.6-.1-.3-.7-.2-.9 .7-.3 .5,.3zM531.1,2777.4l-.2,1.7-1.3,1-.6,1.2-1.2,1.1-1.9,.9-1.8-.9-.7-1.9-.5-1.6 .8-1.5 .8-1.3 1.1-1.1 1.6,0 1.4,.3 2.5-.2zM638.9,2625.7l-1.6,.8 .2,1.8-1.1,1.4-1.9,0-1.8-.5-2.1,.3-1-1.7-1.7-1.2-1-1.7 1.5-1.6 1.9-.6 .1-1.5 1.3-.6 1.4-1 2.1-1.1 1.9,1.1 1.3,1.6 .6,1.6 1.1,1.5zM632.6,2630l-.6,1.2-.9,.7-1.2-.3-.3-1.2 .1-1.2 1-.7 1.2,.4zM639.7,2620.2l-.3,.6-.7,.1-.8-.2 0-.6 .1-.5 .7-.2 .7,.3zM635.5,2589.1l.4,1.2-.9,1.6-2.5,0-2,.2-.7-1.2-2-.5 .3-1.4 1.7-1 1.9-.9 2.4-.3 .3,1.6zM712.1,2709l-.1,1.6 0,2.6-1.9,.3-1.8,1.2-1.4-1.7 .5-2.8-2.2,0-.2-1.7 .1-1.9 .7-1.9 1.7-.4 1.4-1.3 1.6,.3 1.2,1.3 1.1,1.1 .4,1.7zM714.7,2712.5l-.2,.6-.5,.5-.7,0-.3-.5 .1-.5 .4-.6 .7,.2zM715.7,2708l-.4,1.2-1.2,.7-1-1-.6-1 .5-1.3 1.3-.5 1.1,.8zM678.4,2721.3l-1.1,1.6-1.3,1.2-1.9-.1-1.6,.7-1.4-1-.3-1.8-2.3-.2-1.5-1.7 1-1.9 1.9-.9 .4-1.9 1.6-1.1 1.9,.6 1.5,.7 .5,1.7 1,1 1.5,1.2zM672.4,2725.8l.1,.7-.7,.7-.9-.3-.5-.3-.2-.8 .9-.5 .9-.1zM669.3,2716.8l-.2,.5-.6,.1-.4-.4 0-.6 .3-.4 .6-.2 .5,.4zM690.9,2735.9l.1,1.8-3,1.4-1.6,.8 .2,1.9-1.9,.3-1.7-.5-1.5,1.1-1.9,.2-2.8,.5-1.4-1.3 .7-2.1 .1-1.5 1.1-1.3 1-1.1 .5-1.6 1.2-1.8 2.3,.6 1.4,1.6 1.9-1 2,0 1.1,1.1zM683.6,2744.5l-.6,.5-.8,0-.7-.4 0-.8 .5-.6 .9-.1 .5,.6zM682.7,2731.8l0,1-.3,.8-.7-.1-.6-1.2-.1-1.1 .4-.6 .7,.3zM612.3,2730.7l-1.1,1.5-.9,1.4-1.1,1.8-2.4-1.3-1.4-.6-1.5-.1-1.9-.5-1.2-1.4 .4-1.7 .8-1.5 1.6-.8 1.6-.7 1.6,.5 1.8-.3 1.5,.9 .1,1.6zM605.3,2734.2l-.1,.9-1.1,.5-1,.1-.6-.6-.1-.9 1.1-.6 1.1,.1zM611.8,2735.2l-.4,.9-.5,.8-.7-.6-.5-.9 .2-1.1 .7-.3 .8,.2zM730.5,2748.5l-.7,1.4-1.1,1.2-1.9,1.5-2.2-.6-.9-1-.8-.8-.9-1.2 1.7-1.2 1.9-1 2.1,.2 1.4,.7zM729.6,2718.7l-.5,2.2 0,3.5-.9,0-.6-.5-.5-.3-.8-.7-.5-2.5 .3-3.4 .9-1.2 .3-2 .6-.2 .6-1 .6,1.4 .8,1.3zM727.8,2727.3l.2,.8-1.1,.3-.8-.5-.4-.7 .3-.8 1-.2 .9,.3zM727.3,2723.5l-.1,1.3-.9,0-.7-.5-.5-.9 .6-1 .7-.5 .7,.5zM581.6,2705.4l.9,.9-1.1,1.2-1.6,1.4-2.3-.2-1.2-.9-.3-1-1-1.1 1.6-1.2 1.8-1 2.5-.6 1.5,.9zM591.4,2721l-1.6,1.5-.5,1.2-1.4,.9-1.9,0-1.3-.9-.6-1.4 1.2-1.3 1.4-.8 1.6-.7 2.1,.1zM759,2749.2l-.9,2-.1,2.2-.8,1.3-1.1-.1-.9,1.5-1.3-.1-.6-2.6 .2-2.4-1.5-1.3-.6-2.6 .7-2.2 .8-1.8 1.4,.2 1-.2 1.1,1 .7,1.8 1.1,1zM753.4,2742.7l-.3,.6-.9,.5-1.1,0-.4-.6 .2-.6 1-.4 1,0zM756.5,2758l0,.9-.9,.5-.8-.4-.5-.6 0-.9 .9-.3 .8,.2zM452,2861.3l.9,2-.2,2-.5,2.1-3.7,.7-2,.8-1.6,.6-1.3,.8-1.6,.1-.1,2.4-.9,2.4-1.7,.6-1.9,.2-2,.5-2.1,.3-.5-3.7 .5-3.6-.1-1.5-1.3,.1-1.6-.1-4.2,.9-2.8-.7-1.5-1.7 1.9-2.1 1.5-1.7-.2-1.6 .3-1.7-1.4-2.5 1-1.8 .9-1.9 3.5,.8 1.6-.8 2,.2 1.6-.1 1.6,.2 1.5,.2 1,2 .8,1.1 1.2,.1 .9,.4 4-2.6 2.5,.2 .1,2 .8,1.5 2.5,1.1zM453.6,2869l0,1.3-.6,.9-.9-.5-.8-1.1 .1-1.4 .7-.5 .7,.3zM453,2855.3l-.9,1-1.2,.1-.9-.5-.4-1.2 .7-1 1.1-.1 1.2,.4zM424.1,2874.7l-.5,1-1,.3-.6-.7 0-1.1 .6-1 .9-.2 .5,.7zM446.7,2852.7l-.1,1.2-.6,.4-.7-.2-.1-1.3 0-1.2 .6-.4 .6,.4zM437.1,2880.9l-.7,.4-1.2,.1-1.5-.4 .3-.7 .3-.6 1.3-.1 1.2,.6zM461.1,2885.8l1,1.7-.4,1.6-2,.7-1.3,1.2-2.3-.2-2.2-1.3-1.4-.8-1.6,1.2-2.8,1.6-2.2-.7-.6-1.9 .8-2-.2-1.2-2.2-1 .1-1.3-.5-1.6 1-1.2 1.6-.8 1.5-.6 1.4-.9 1.7-.7 2,.5 1.7,.5 1.5,.9 2.2,0 1,1.3 .7,1.2 0,1.4 .2,1.1zM450.1,2892.8l-.3,.8-1,.1-.5-.6-.3-.7 .4-.7 .9-.1 .8,.4zM441.2,2884.4l-.3,.8-.5,.4-.7-.1-.1-1.1 .2-.8 .5-.7 .7,.5zM446.5,2891.6l-.5,1.3-1.3,0-1.1-.5-.2-1.2 .5-1.3 1.2,0 1.1,.4zM509.2,2835.7l1.2,1.9-.3,2.1-1.9,1.1-2.7-.5-1.6,.3-1.6,.4-1.5-.6-1.1-1.1-1.4-.3-2.5,0-1.3-1.3 .6-1.8-1-1.7 .2-1.7 .6-1.7 2-.7 1.5-1 1.9,.2 1.6,.3 1.4,.1 2.1-.9 1.7,.8 .4,1.9 .1,1.5-.2,1.3zM498.6,2842l-.5,1.4-1-.1-.6-.8-.1-1.2 .6-1.3 1.1-.1 .6,.9zM508.4,2842.3l-.7,.9-1.1,.2-1.1-.5-.2-1.1 .6-.9 1.1-.3 .9,.6zM504,2826.8l0,.7-1.1,.9-1.2-.1-.7-.4 .2-.7 1.1-.7 1.4-.3zM514.2,2852.6l-1.7,1.3-.2,1.8-1.8,.8-1.8,.3-1.8-.5-1.4-.4-2.5,.5-.9-1.6 1-1.8 0-1.2-1.8-1.8 .8-1.6 1.3-1.4 2.1-.6 2,1.6 1.5,.2 1.4,.6 .8,1.1 2.1,.9zM502,2856l-.2,1.5-1.6-.1-1.1-.5-.8-1.2 .7-1.4 1.5-.2 1.3,.5zM512.5,2856.2l-.3,1.2-.7,.4-.6-.5 .1-1.3 .4-1.1 .6-.7 .5,.7zM468.2,2857l.6,2.1 .3,2.8-1.5,1.1-1.5,.1-1.2,.1-1-1.9-1,.1-1.5,0-1.4-1.4-.7-2.4 .9-2.2 .6-1.9 .4-2.3 1.7,.5 1.2,.7 1.2-1.7 1.3,.7 1,1.6 .3,2.1zM469.5,2860.5l.1,.9-.7,.7-.8-.4-.6-.6-.1-1 .8-.5 .9,.1zM461.9,2850.5l-.3,.6-1.2,.3-1.3-.1-.6-.7 .7-.6 1.1-.6 1.2,.5zM475.7,2867.6l-1.2,2-1,1.1-.9,.9-1.2,1.9-.9-.4-.7-1.1 .3-2.4 0-2.2 .8-2.5 1.3-1.1 .8-1.5 .9-1 1.2-1 1.3-.4-.3,3-.5,2.4zM475.6,2858.4l-.7,.5-1,.1-1.1-.4-.5-.7 .5-.7 1.3,.1 .8,.5zM471,2873.3l-.2,.7-.8-.1-.8-.1-.3-.6 .5-.5 .6-.2 .9,.1zM462.8,2841.2l1.3,3.3 .4,2.5-.2,1.1-.4,.5 .1,1.6 0,1.7-1.4-2.9-1.1-2.5-1-1.5-.8-2.7-.8-2.3-1.4-3.4-.3-2.2 .3-.9 .3-.7 1.1,1.9 .7,.5 1.1,2.9 .7,1.6zM462.3,2846.8l-.3,.8-1.3,.4-1.3-.2-.8-.6 .3-.9 1.6-.2 1.3,0zM458.2,2836.4l-.4,1.3-.8,.2-.7-.3-.2-1.3 .3-1.4 .9-.3 .7,.5zM465.6,2852.8l-.2,.9-.6,.7-.8-.3-.5-1.1 .2-1.2 .8-.3 .9-.1zM557.8,2843.9l-.3,2.6-.7,1.5-.3,2.1-.7,1.2-1-.7-.9,0-.6-2.4-1.4,.1-1.1-2.2 .9-2.7 0-2.2 .4-1.9 .8-.7 .7-1.2 1-1.3 1,1.6 .8,1.7 .1,2.7zM552.2,2836.4l-.5,.7-.9,.2-.7-.5-.2-.9 .4-.8 .9,.1 .8,.3zM559.4,2845.6l-.2,.8-1,.2-.8-.4-.5-.5 .2-.8 1-.1 .8,.3zM555.3,2853.8l-.1,1.4-.5,.5-.6-.4-.2-1.4 .1-1.2 .4-1.1 .6,.9zM553.6,2903.3l-.6,2.1-1.3,1.6-1.4,1.2-1.4,.6-.4,2.5-1.5,.5-1.4,.1-1.5,1.4-.9-3.2-1.2,0-1.8,.6-2-.1-1.2-1.5-.1-2.4 2.6-2.8 .4-1.4 .1-1.3-2-2.3-.1-2.5 1.4-1.2 .5-2.8 1.8-.5 1.6-.2 1.6,1.2 1.2,1.2 1.1,.8 1.4-.3 1.3,.6 .7,1.3 .4,1.7 .2,1.7 1.6,1.3zM556.4,2898.7l-.2,.6-.8,.1-.8-.2-.1-.6 .2-.6 .8-.2 .6,.4zM554.4,2898.3l-.4,1.2-.7,.3-.6-.4-.3-1.2 .2-1.4 .8,0 .7,.3zM535.7,2900l-.4,1.2-1.1,0-1-.3-.1-1.2 .4-1 1-.2 1,.3zM556.3,2898.8l-.9,.4-1.2,0-1.3-.5-.7-.9 .9-.5 1.4,.3 1.3,.4zM425.4,2834.2l-1.4,.8-.8,.9-1.4,.9-2.3,.2-1.3-1.6 .7-1.8-.9-1.3 0-1.7 2.2,.2 1.4-.9 1.7,.7 2,.6 .8,1.6zM482.4,2819.1l-.5,1.6-.2,2.1-2.2-.6-1.4,0-2.2-.1-.3-2 1.2-1.5 .3-1.7 1.7-.1 1.7-.6 1.1,1.5zM547.3,2817.5l.6,1.8-.6,1.5-1.1,.5-1.4-.9-.4-2.1-.6-1.8 .7-1.4 1.1-.9 1.2,1.5zM540.5,2837l-.4,1.4-1.7,.8-1.6-.1-1.3-.7 .4-1.4 1.7-.6 1.9-.4zM599.9,2860.8l-1.3,1.5-.9,1.4-1.4,0-1.3-.5-1.3-1.5 .7-2.2 1.3-.9 1-1.7 1.2,1.3 1.3,.7zM611.7,2881.3l1.1,1.1 0,1.7-2,.7-1.8,.3-2.1,.4-.3-1.9-1.4-.8 .3-1.4 .7-1.4 1.1-1.5 2.1-.5 2,.3 .8,1.5zM689.2,2847.2l-.6,1.5-1.9-.1-1.8-.4-.4-1.5 .9-1.2 1.7-.8 1.6,1.1zM699.3,2853.9l-.7,1.2-1.5,.1-1.5-.2-.8-1.2 1.1-1.1 1.2-.4 1.4,.4zM693.6,2855.4l-.4,1-1.2,.4-1.1-.3-.5-.9 .3-1 1.2-.3 1.2,.2zM629.9,2845.3l-.1,1.4-1.7,.6-1.7,.6-2.1-.5 0-1.6-.2-1.3 1-.9 1.4-1 2.2,0 .6,1.6zM598.1,2847.2l-.7,1.5-1.6,.7-1.7-.2-1-1.1 .5-1.4 1.5-1.1 1.7,.6zM757.3,2860.3l.6,2.6 1.1,3.9-.2,2.1-.5,.7-.5,0 .7,4.1 .9,6.4-.4,1-.7-1-.9-2.7-.7-2.6-.4,1.9-.6-.7-.7-3.8-.3-5.9-.3-2.2-.5-1.2-.7-1.9-.6-2.7-1-3.8-.6-3.6 0-2.6 .5-.9 .5,0 1.1,2.8 0-1.4 .3-.2-.1-3.5 .4-.6 .4-.9 .7,.8 .8,3.6 .4,4.9 .3,3.4 .4,2zM760.5,2871.8l-.3,.6-.6,0-.6-.3 .1-.7 .4-.4 .5,0 .5,.2zM751.8,2843.4l0,1.2-.6,.5-.8-.2-.5-1-.1-1.2 .5-.8 .8,.7zM755.4,2870.3l-.4,1.5-1.3-.2-1-.5 0-1.3 .4-1.3 1.3-.4 .7,1.1zM756.2,2874.6l-.1,1.3-.6,.6-.7-.5-.5-1.1 .1-1.3 .6-.8 .7,1zM760.4,2871.2l-.4,.6-.8,.4-.8-.4-.3-.6 .2-.7 .9-.2 .8,.3zM755.4,2868l-.4,1.4-1,.5-1.2-.1-.4-1.5 .4-1.2 .9-.8 1.1,.3zM741.5,2775l0,2.5-.5,1.6-.7,1.2-1,.2-.6-3-.3-2.3 .1-2 0-2.9 1,.3 .8,.2 .5,2.3zM742.3,2781.4l-.5,.9-.9-.1-.8-.4 0-1 .5-1 1-.1 .7,.7zM738.6,2771.6l-.1,.9-.5,.5-.6-.5-.4-.7 0-1 .6-.4 .6,.4zM418.2,2673.3l-1.5,1.1-1.7,.8-2.2-.8-2.1-.1-.6-1.3-1-1.2 .3-1.3 2.1-.4 2,.4 1.7,.4 1.6,.9zM413.8,2770l-.3,2.1-.9,1.5-1.2-.1-1.2-.1-1.3-1 .5-2.4 0-2 1.1-.8 1-2.5 1,2.2 .9,1.2zM457.9,2896.8l-.9,.9-.8,1.1-2.1,.4-2-.6-2.2-.8 .6-1.4-.5-1.5 2.6-.2 1.7-.5 2.4,0 1.4,1.2zM648.1,2858.6l0,2.1-.7,1.3-1.2-.1-1-1.5-.8-2.4 1-1.1 .7-1.1 1.3,.3zM666.4,2578.4l-.3,1.1-1.5,.1-1.6-.2-.3-1.1 .5-.9 1.4-.3 1.4,.4zM552.6,2587.4l0,1.3-.5,.9-.8-.5-.5-1.3-.2-1.5 .7-.4 .8,.2zM536.4,2612.4l.3,1.4-.6,.8-.8-.3-.5-1.5-.4-1.5 .7-.5 .8,.4zM598.2,2610.7l-.3,.7-.5,.4-.7-.1-.6-.6 .3-.7 .6-.3 .8-.1zM633.7,2708.7l-.6,.8-1.2,.2-1.1-.6-.3-1 .8-.6 1-.5 1.1,.7zM717.4,2791.1l-.4,1-.7,.6-1.1,.1-.5-.9 0-1 .8-.6 1.1,.1zM711.7,2901.4l.2,1.3-.6,.6-.9-.1-.4-1.2-.2-1.1 .4-.9 .9,.4zM581.2,2745l-.9,1.9-1.5,.8-1.4-.2-1.5,.7-.9-1.3-.7-1.4-.2-1.7-.1-2.4 2-.3 1.3-.3 1,1 2.1-.8 .9,1.8zM662.3,2746.9l-.6,1.7-1,1.7-1.7-.2-1.5-.2-.9-1.4-.8-1.5 .8-1.8 1-1.3 1-1.1 1.4-1.6 1.4,1.1 1.1,1.1-.1,1.9zM672.4,2759.2l-1.2,1.5-.8,1.2-1.2,1.4-1.6-.8-2-.3-.2-2 0-1.8 1.3-1.2 1.7,.6 1.7-1.6 1.3,1.4zM634,2807.7l-.1,1.8-1.5,1.2-1.6,.5-1.4-.6-1.7,.5-1.6-.9-.9-1.7 .6-1.7 1.2-1.2 .7-1.6 1.6-.7 1.5,1.1 1.4,.5 1.7,.9zM620.3,2803.2l.3,1.8-2.1,.2-1.6-.7-1.8,1.1-1.4-1.1-1.7-1.2 .6-1.6 .8-1.3 1.5-.6 1.6-.3 1.6,.2 1.5,.8 1.2,1.3zM985.1,2731.7l-.8,2-1.1,2.7-1.8,1.7-1.4-.4-1.1-.5-1.5,.2-.5-1.3 .8-2.4-.6-1.1 .5-1.8 1.1-1.7 .4-2.2 1.2-2.1 1.6-.4 1.4-1.2 1.8-1.7 1.5,0 .7,1.2 .7,1.2-.2,2-1.5,2.5-1.8,1.6zM977.6,2740.5l-.7,.6-1.1,.3-1.4,.1-.2-.8 .3-.7 1.2-.3 1,.2zM990.8,2721.4l0,1.4-.8,.7-1-.4-1-.9 .3-1.4 .7-.8 1,.2zM979.4,2726.7l-.5,1.4-1.3,.5-1.4-.3-.9-1.1 .7-1.3 1.1-.8 1.2,.7zM914.3,2648l.6,1.1-.6,1.5 .9,1.4-.2,1.7-1,1.7-1.7,1.3-2.1,.4-1.8,0-1.7,.3-.8-1.6-.1-1.5-1.7,.1-1.6-.4-.3-1.3-.7-1.4-.6-1.8 .8-2 2.2-1.1 2.5,.4 1.5-.3 1.6-1.1 1.5,.3 1.6,.1 1.3,.8zM912.8,2641.9l-.3,1-.8,1-1.3,0-.4-1.1-.1-.9 .8-1 1.4,.1zM908.6,2658.8l-.8,.5-1.3,.4-.9-1-.5-.8 .6-.5 1.4-.2 1.2,.7zM918,2648.9l-.4,1.3-.7,.2-.5-.7-.3-1.1 .5-1.1 .7-.5 .5,.7zM978.1,2616.9l1.7,.2-2.8,1.1-2.7,.8 .9,.6 .6,1.1-2.2,1.1-2.7,1-2.9,.2-3.1,1.4-2.5,.1-1.1-.7-1.9,0-1.9,0 .9-1.1-.5-.4 2.4-1.2-2.6-.1 .1-.8 1.2-1 3.7-.7 1.8-.8 1.9-.9 2.4-.3 2.3-.9 3.8-1.6 2.9-.3 2.2,.1-3.3,2.4 0,.5zM977.1,2620.6l-.2,.9-.8,.1-.8-.2-.2-.8 .2-.9 .8-.4 .6,.5zM963.6,2624.2l-.1,1.2-.7,.5-.8-.2-.5-.9-.4-1.3 .9-.3 .7,.2zM975.2,2622.5l-.7,.5-.8,.4-.9-.2-.6-.6 .5-.7 .9-.1 1.2-.1zM987.1,2614.6l-.4,.6-.8,.3-.9-.1-.5-.5 .6-.5 .7-.3 .8,0zM956.5,2624.4l-.4,.6-1.1,.1-1.2-.3-.4-.7 .5-.6 1.2-.2 1.3,.3zM987.9,2662.9l1.4,1-2.6-.2-1.6,0-.8,.5-2.1-.2-2.5-.7-2.1-.7-2.7-.2-4.1-.6-1-1.2-2-1-1.1-1-.1-.8 .9-.5 1.1-.4 1.1-.4 4.6,1.5 2.4,.9 .3-.8 1.8-1.1 2.9,.9 3.4,.7 2.9,1.1 1.8,1.2 .6,1-1.6,.6zM971.2,2661.3l-.5,.6-1,.1-.8-.5-.3-.8 .8-.5 .8-.3 .7,.6zM989.2,2665.1l0,.7-.8,.2-.7,.1-.5-.5 .4-.7 .5-.4 .7,.1zM968.8,2655.9l-.4,1.2-.9,.2-.4-.8 0-1.1 .4-1.2 .8,.1 .6,.5zM974.4,2663l-.3,.8-1,.3-1-.2-.3-.8 .1-.8 1.1-.3 1,.2zM967.8,2666.8l-2.3,1.2-1.4,.8-.7,1.2-2.1,.7-2.1-.8-1.9,0-3,.3-1.1-1.2-.3-1.2 .1-1.2 2.9-.6 1.6-.5 1.1-1 2,0 2.7-.6 2.4,.5 1,1.2zM967.3,2668.7l.1,1-.9,.7-1.1-.2-.5-.8-.1-1.1 1-.5 1,.1zM970.5,2667.6l-.3,.6-1.1,0-1-.4-.1-.6 .5-.5 .9-.2 1,.4zM952,2686.9l2,.5-1,1.1-.7,1.3-2.4,.9-2.4,.1-2.8,1.1-1.6-.7-.3-1.2 0-.9-.8-.8 1.3-1 1.1-1 1.4-1.3 2.6-.9 2,.6 2.1,0-.4,1.4zM943.2,2691.6l.1,1-.4,.6-.7,0-.4-1-.1-.9 .3-.7 .8,.2zM944,2686.5l-.7,1.4-1.2,.1-.7-.9-.3-1.1 .5-1.4 1.2,0 .8,.7zM902.2,2597.6l-.4,1.2-1.9,.7-1.9,.6-2.9,.6-.3-1.4-.2-1 1.2-1 1.8-.6 2.2-.6 2.3,.3zM927.8,2631.1l-.3,1-1.4,1.3-1.8,1.3-2.4-.1-2,.7-2.3,.4-1.6-.3 .5-1.2 1.4-1.3 2.6-1 2.2-.7 1.8-.2 3.3-1zM920.7,2636.1l-.7,.6-.7,.3-1,0-.3-.8 .4-.7 .8-.2 1.1,.1zM918.2,2633.8l-.4,1-.9,.5-.9-.2-.7-.9 .3-1.2 .9-.5 1,.3zM1038.6,2861.2l.4,1.8 .2,2.1-.2,2.3-1.7,.6-1,1.4-1.3,.7-.9,2.3-1.3,2.5-1.8,.5-1.8-.2-1.7-.7-.9-2.6 .3-3.6-.1-2.1-.1-1.5-.6-1.1-1.2-1-.4-1.6 .5-1.7 .7-1.4-1.4-2.8-.4-3.1 1-2.1 2.1-.1 2,.9 1.4,.6 1.2-1.4 1.5-2.3 1.7,0 1,2-.2,3.8 1.5,0 .8,1.2 0,2 1,1.2 .5,1.6zM1039.9,2869.8l-.6,.8-.7,.1-.7-.2-.3-1.1 .7-.8 .7-.2 .7,.3zM1039.1,2844.8l.2,.9-1.3,.4-1.2,0-.7-.5 .2-.9 1.2-.7 1.1,.4zM1023.6,2866.4l0,.6-.9,.3-.8-.3-.5-.4 .4-.6 .8-.2 .9,.1zM1020.5,2861.6l-.4,.3-.6,.3-.5-.5-.1-.6 .3-.5 .7,.1 .6,.3zM1102.6,2593.1l-.4,1.7-.6,1.7-1.8,.7-1.9-.6-1.4,1.1-1.6-.1-.6-2-1.2-.6-2-.6 .5-1.7 .3-1.5-1.6-2.3 1-1.8 2-.8 2.1,.8 1.4,.6 1.5-.6 1.4,.6 1.5,.7 .2,1.7 .7,1.4zM1094.8,2599.4l0,.8-1.1,.3-1-.2-.5-.5 .2-.7 1-.4 1.1,.1zM1090.8,2592.6l-.6,1.1-.9,.8-1-.7-.4-1.4 .6-1.4 1.1-.4 1,.5zM1016.3,2587.6l-1.5,1.1-1,.8-1.6,1-1.5-1.1-1.1-1.3 .5-1.7 .6-1.4 1.2-.9 1.8-1 1.5,1.3 .5,1.6zM1034.2,2671.4l-.9,1-1.2,.9-1.3,1.2-2.2-.9-1.9,.1-3-.1-.3-1.4 1.6-1.1 1.9-.6 1.2-.8 2,0 2.4-.3 1.3,.9zM1029.4,2669.3l-.8,.5-1.2-.2-1.3-.5-.3-.9 1.1-.2 1-.2 1.3,.7zM1026.2,2668.8l.2,1.3-.5,.2-.6,.1-.6-1.1 0-1.1 .2-1 .7,.4zM1039.6,2731.5l-.4,1.2-.6,1.5-1.7,.8-2.1,.7-1.9-1.4-1.8-.6-1.8-1 .2-1.6 .1-1.2-.9-1.8 2.4-.3 1.4-.6 1.6-1 2.4-.3 1.9,1.2 .3,1.8-.3,1.4zM1030,2734l.1,1.2-.4,.6-.6-.7-.4-1 0-1.2 .5-.7 .5,.7zM1031,2734.1l.2,1.4-1,.9-1.1-.6-.9-1 .3-1.4 .8-1.1 1.3,.5zM1082.2,2609.5l-.6,2.1-1.1,1.4-1.2-.6-1.4,.4-.8-1.7-.6-2.2 1.9-1.1 .3-2.3 1.3-.6 1,1.3 1.1,1zM1063.3,2607.3l-1.8,1.1-2.4,.1-2.3,0-1.8-.9 2.4-.7 1.6-.7 2,.4zM781.4,2718.8l1.2,1.7-.7,1.8-1.1,1.6-1.4,1.1-1.9-.7-1.4-.2-1.4-.2-1.7-.4-1.3-1.3 .9-1.9-1.1-1.9 .7-2 2.8,.8 1-1.7 1.8,0 1.3,1.1 1,1.1zM775.1,2725.1l-.2,1.2-.9,.7-1.1-.2-.7-.8 .2-1 .8-.7 1,.2zM773.7,2714.1l0,.6-.7,.5-.7-.1-.7-.4 .2-.7 .7-.4 .8-.1zM762.3,2744l.8,2.2-.4,1.9-.8,1.2-.4,2.8-1.4,.6-1.2-2.9-.9-1.5-.9-1.5-.5-2 .7-1.8-.6-2.5 .2-2.5 1.1-1.3 1.4,1 1.1,1.2 1.1,1 1.3,1.4zM760.8,2752.3l-.3,1.1-.7,.5-.6-.6-.1-1.2 .5-1.1 .7-.4 .6,.5zM756.8,2742.6l-.5,1.3-1.3,.2-1.5-.1-.3-1.5 .5-1.3 1.4-.5 1.3,.7zM762.2,2635.1l-.2,2.5-1.2,1.3-1.1,.1-.9,0-1.4,.1 0-2.5 .3-2 0-2.2 .8-1.9 1.2-1.3 .8,2.1 1.3-.3 .4,2zM760.8,2628.8l-.4,.9-1,.6-1-.5-.8-.8 .7-.9 .9-.6 1.1,.3zM757.5,2636.1l.1,.9-.4,.6-.5-.4-.5-.7-.1-.8 .4-.6 .6,.3zM1001.3,2864l.5,1.1-.7,1-1.7,.4-1.9,.6-2.4-.4-1.5-1.3-.8-1.2 .3-1-.9-1.3 .3-1.2 2.3-.1 1.7-.3 2.2-.6 1.9,1.1 2.6,.7-.2,1.6zM993.7,2859l-.3,.6-1,.1-.9-.4-.2-.6 .6-.5 .8-.3 .7,.5zM1004.8,2866.1l0,1.3-.5,.6-.7-.5-.6-1-.1-1.3 .6-.3 .7-.1zM890.9,2904.2l-.4,1.8-1.5,.6-1.3,.7-1.4-.3-.9-1.2-.4-1.5-.9-2 1-1.9 1.9-.4 1.3,.6 1.1-.1 2.2-.3 0,2.2zM974.3,2899.9l-.1,2-.8,1.3-1.1-.5-1-1.4-.1-2.3 1-.8 .7-1.7 1.2,1zM1053.5,2754.9l-.8,2.3-1,2.3-.8,0-.2-1.4 0-1.7 .5-2.1 .4-3.1 1.1-.8 .6,.2 .3,.8 .5,1zM1055.6,2755.1l-.9,1-1.1-.2-.9-.4-.1-1.3 .9-.9 1-.2 .8,.8zM1053.1,2760.1l-.2,.7-1.2,.2-.9-.3-.6-.4 .3-.6 1-.4 1,.3zM1054.8,2706.5l.9,2.1-.9,1.6-1,1.6-1.5,.6-1.2-1.9-1.5-.3-.6-2.2 1-1.8 0-1.6-.2-2.8 1.5-.7 1.6,.4 1.1,1.6 .6,1.7zM1051.2,2702.7l-.5,1.3-1.6-.4-1.1-.8-.2-1.1 .8-1 1.5,0 .9,.9zM1051.5,2712.4l-.2,.8-.5,.5-.6-.4-.3-.8 .1-.9 .6-.5 .6,.4zM961.4,2569.4l-1.2,1.5-1.3,1.1-1.6,.7-1.6-.9-1.7-.9 .6-1.9 .4-1.5 .7-1.8 1.9,1.2 1.5-.3 1.2,1.1zM874.2,2576.5l.3,1-1.8,.8-2.2,.3-2.7,.1-.1-1.3-1.5-1.1 2.5-.7 1.5-.7 2.5-.3 2.2,.6zM958.7,2591.5l-.9,1.9-1.2,2.4-.7-1.4-.4-1.1-.2-1.6 .5-2.4 1.1-2.2 1,.7 .9-.1 .1,1.8zM866.1,2628.4l-2,1.2 .2,1.2-2.6,.7-2-.1-2.4,.5-2-.3-.4-1.1 2-1.2 2.1-.6 1.8-1.1 2.1-.1 2.2,0zM865.7,2631.1l-.4,.9-.8,.1-.4-.7-.2-.8 .6-.7 .7-.3 .6,.6zM858.5,2633.3l-1.2,.5-1.3,0-1.2-.7 .1-1 .7-.7 1.3-.3 1,1.1zM880.3,2711.7l0,.9-.2,1.3-3,.7-2,0-3,.9-.2-1.1-.5-.8 1.6-1 .5-1.3 2.6-.5 2.6-.6 .7,1zM881.7,2709.7l-.4,1.1-.9,1.1-1.2-.8-.5-1.2 .5-1.2 .9-1.1 1.2,.7zM879.7,2714.9l-.4,1.1-.6,.3-.4-.7-.4-.8 .3-1.1 .8-.3 .5,.6zM890.2,2731.1l-.4,1.1-1.7,.6-2.1-.3-1.2-1.2 .2-1-.1-1.1 1.6-.8 2.1,.5 1.5,1zM1102.9,2864.8l-.4,1.8-1,1.9-1.8,.3-1.6-.5 .2-2.6-1.6-.6 1-1.7-.2-2.1 1.4-1.2 1.6-.7 1.2,1.4 1.3,.7-.2,1.8zM1083.8,2829l-1.1,1.6-1.8-.1-1.3-.9-1-1.4 .8-1.6 1.5-.9 1.6,.4 .9,1.3zM1044.9,2841.2l0,1.7-1.3,1-1.7,.5-1.3-1.1-.2-1.7 .7-1.4 1.3-1.2 1.6,.9zM1094.8,2892.5l-.2,2.2-1.2,1.4-1.2,1.9-1.5,.5-1.6,.2-.5-2.2-.3-1.5-1.2-.9 .1-2 .6-1.9 .7-2 1.8,0 .7-2.1 1.6-2.3 1.5,.1 .6,2.1 1.4,.7-.5,2.4-1.1,1.9zM1098.2,2894.1l-.3,.8-.7,.5-.8-.4-.5-.8 .4-.9 .8-.4 .7,.4zM1098.2,2887.9l-.3,.8-.7,.4-.7-.5-.2-.9 .4-.8 .8-.3 .9,.3zM383.6,2930.6l-.1,1.9 1.1,2.1 .7,2.4-.6,1.9-.2,2.3-1.8,.4-1.7-.1-1.2,.1-1.6-1.5-.4,2.2-.9,1.1-1.2,.1-1.4,1.9-1.3-.8-1.2-1.4-.8-2.1-1-1.4-1.1-1.4-2.1-1-1-2.1-.7-2.4-.6-2.5 .3-2.4 1.7-1.5 .9-1.5 .9-1.4 .7-1.5 1-1 1.5,.3 1.9,2.6 1.2,2 .6,.3 .7-1.3 1.7-6.3 1.7-.1 1.8,.6 1.4,1.8 .7,2.7 0,2.8 .9,1.9zM379,2914l-.2,1.3-.6,1-.8-.7-.5-1.4 .3-1.3 .6-.8 .8,.6zM375.8,2947.4l-.3,1.2-.8,.8-.9-.6-.7-.9 .1-1.4 .9-.4 .9,.2zM377.4,2918l-.7,.8-.8,.6-.6-.6-.1-1.2 .5-1 .7-.2 .7,.4zM374.5,2913.1l-.1,1.4-1.2,.2-1.1,.1-.8-1.2 .5-1.3 1-.7 1.1,.4zM366.1,2929.5l-.1,1.2-.6,.6-.8-.1-.6-1.2 0-1.3 .7-.4 .8-.1zM371.3,2913.3l-1.2,1.1-.3,3-1.3,2.5-1.1-.4-1.1-.3-.6-1.4 .3-2.2 .3-1.9 .3-1.9 .5-2.2 1.2-1 1-2.3 1.2-.5 .7,1.1 1.2-.1-.1,2.3-.3,2.2zM365.9,2914.3l-.2,1.2-.8,1-1.4-.2-.7-1.2 .2-1.3 .9-.9 1.2,.3zM366,2915.8l-.3,1.1-.8,.5-.6-.6-.2-1 .2-1.2 .8-.2 .6,.4zM382.4,2949.9l-2.1,1.9-.5,1.1 .9,2.3-1.6,.9-1.7,.3-1.7,.1-1-1.6-1.6-.4-1.9-1.1 .3-1.9 1.1-1.6 1.7-.5 .7-1.2 1.1-1.4 1.8-.1 1.5,.8 1.8,.7zM376.7,2945.9l-.2,1-.9,.7-1.1-.3-.3-1.1 0-1.2 1-.4 1.2,.1zM600.6,2860.2l-1.2,1.7-1.1,1.4-1.4-.4-1.2-.5-1-1.2-.5-1.9 .9-1.7 1.3-1 1.4-.5 1.5,.5 .1,2zM528.9,2916.6l-.7,1-1.4,.4-1.1-.7-.7-.9 .4-1.2 1.6-.1 1.3,.4zM531.7,2903.4l-.6,1.1-1.6-.3-.9-.9-.4-1.2 .9-.9 1.4,.3 1,.8zM700.3,2852.8l-1.6,1.1 .2,1.1-2.5,.7-2.3-.2-2,.6-2.7,.3-.7-1 .4-1-.1-1 3.2-.4 1.2-.9 2.3-.9 2.1,.3 1.4,.5zM701.7,2854.2l-.4,.8-1,.1-.8-.5-.2-.8 .2-1 1.2,.2 .8,.4zM697.8,2855.9l-.4,.6-1,.4-.9-.1-.6-.4 .2-.6 1.1-.3 1,0zM757.5,2870.2l-1.2,1.6-.5,2.3-1,1.5-1.1,1.3-.8-.7-1.1,.3-.7-1.2 0-2.5 1.4-2.9 .4-1.9 .7-1.8 .7-3.6 1.2-.4 1.1-.4 1,.1-.1,2.8 .6,1 .8,1.7zM754.5,2864.8l-.2,.7-1.4,.1-1.2-.2-.5-.8 .6-.6 1.2-.4 1.2,.4zM759.5,2869.9l0,.7-1.4,.2-1.1-.5-.6-.6 .7-.5 1.1-.4 1.4,.3zM754.7,2880.5l-.5,.6-1.2,0-.7-.7-.4-.9 .7-.5 1.2,0 .8,.7zM712.4,2902l-.6,1-1.2,0-.9-.7 0-1.1 .7-1 1.1,.2 .9,.6zM648.4,2859.1l-1.2,1.9-1,.5-.9,.3-.5-1.3 .1-2.3 1.1-2 1-.8 .8,.1 .4,1.4zM491.6,2904.3l.1,2-.2,1.5-.8,.6-1.3-.6-.6-2.7 .1-1.7-.3-2.4 1.1,.6 1.1,.3zM401.4,2916.1l.6,2.6-.7,.4-.5,1-1.1-2.2-.7-2.2-.7-2.7 .8-.3 1.1,2zM587.4,2927.2l-.2,1.9-.9,.9-1.1-.4-.7-2 .4-1.6 .7-1.2 1.2,.2zM540.4,2950.2l-.5,1.8-1.9,0-1.3-1.2 .1-1.6 .8-1.5 1.7-.2 1.3,1.1zM621.7,2911.2l-.7,1-1.5-.3-.9-.8-.7-1.2 1-.9 1.5,.2 1.2,.8zM926,2864.4l.4,1.1 .4,1.2-.2,1.3-3.1,1.4-2.5,1.2-2.2,.9-.7,1.1-.4,1.4-.3,1.8-2,1.3-3,.2-2.7-.3-2.1,.1-1.9-.4-1.9,.6-.6-1.8-1.4,.1-3.2,1.9-1.9,0-4.4,1.7-1.6-.7-2.5-.1 1.5-2 1.9-1.9-.3-.9 1.6-1.3-1.3-.6-3.5-.7 1-1.3-2.1-1.5 1.6-1.5 1.7-1.5 3.8-.6 2.7-.7 2.6-.5 2.3-.3 2.3,.2 1.8-.1 1.5,.1 1,1.5 1.7-1.2 2.8-2 2.3-.5 3.9-1.6 2.3,.1-.6,1.9 1.9,.4 2.9,0-.6,1.5zM917,2856.9l.1,.9-.6,.2-.6,0-.4-.7 .1-.7 .4-.6 .6,.4zM919.5,2859.5l-.6,1-1,.3-.7-.8 .1-1.1 .6-1 1-.3 .6,.8zM921.2,2877.7l-.3,1.1-1,.6-1.1-.2-.3-1.3 .3-1.1 .9-.5 1,.4zM921.3,2856l-1,.5-1.3,0-1.2-.5-.4-.9 .6-.6 1.4,.1 1.3,.4zM890.7,2880l-.4,.8-.4,.6-.5-.5-.4-.9 .3-.8 .5-.3 .5,.2zM912.2,2858.8l-.3,.6-1.3,.2-1.3-.4-.3-.8 .6-.6 1.3-.1 1.4,.3zM903.6,2880.5l-.1,.9-.3,1-.9-.5-.4-1 0-1 .4-.5 .8,0zM903.9,2885.7l-.7,1.4 .4,1.8-.5,2-1.5,1.3-2.1-.8-1.5-1-1.6,.2-2.1-.1-.2-2-.6-1.5-.1-1.6 .5-1.5 1.3-.9 .3-2 1.5-1.2 1.9-.3 2.2-.4 .6,2.8 .1,1.7 1.6,.7zM902.5,2891.7l.3,1.2-.8,.4-.7-.3-.5-1 .1-1 .6-.7 .8,.3zM896,2881l-.3,1-1.1,0-.8-.5-.4-.8 .5-.9 1.1-.4 .7,.8zM886.7,2854.6l.7,1.2 1.7,2.2-1.4,1.4-1.8,.7-1.9,.8-2,.2-1.4-1.8-.8-1.3-1.7-.2-1.2-.9-1.2-1.2-.3-1.6 1.6-1.2 .7-1.3 .4-1.8 1.5-1.3 2.1-.1 1.8,.9 1.6,.6 1.3,.9 2.3,.4-.8,2zM878.9,2859.8l0,1-.8,.4-.8-.5-.3-.8 .1-1 .9-.4 .9,.3zM889.1,2861.1l-.5,1-1.1,.2-1.4,.1-.1-1.2 .4-.8 1-.6 1.2,.3zM894.7,2899.9l-1.1,1.8-.5,1.6-.8,1.5-1.7,.7-1.7-.7-1.5,.2-1.2-.9-1.3-1-1.3-1.4 .3-1.8 1.8-1 0-2.1 1.5-1.1 1.8-.1 1.5,1.2 .9,1.2 1.2,.8zM891.7,2907.2l-.3,.7-1.2,.2-1.2-.5-.3-.8 .6-.6 1.2-.4 1,.7zM814.7,2882.4l-.3,2.4-.6,2.1-.2,2.1-2.5-.5-.6,1-.2,2.2-.3,2.7-1.1,1.5-1.4-1-1.2-1.5-1.3,.4-.9-2-1.1-.8-.4-2.1-.9-1.4-1.2-1.4 .4-2.2-1-2.1 .1-2.2-.4-2.6 .5-2.3 1.7-.4 2.1,1.8 .3-2.6 1-.4 1-3.1 1.2,3.4 .6,3.6 .6,.7 .9,.3 2.8-1.9 1.5,1.4 1.1,2.2zM806.4,2869.7l-.8,.7-.8,.6-1.3,.2-.4-.6 .1-.8 1.2-.4 1.1,0zM813.5,2897.9l.1,1-.7,.3-.7-.3-.3-.9 .3-.8 .5-.5 .7,.3zM798.4,2886.7l.1,.7-.6,.2-.6,0-.3-.4 0-.6 .4-.4 .6,.2zM814.3,2872.7l-.5,1.2-.9,.5-.7-.7-.4-1.1 .3-1.3 .9-.5 .7,.8zM823.5,2860.3l-.6,1.1 1.8,2.3-1.1,1.3-1.7,.7-2.4-.7-1.2,.6-1.3,2-1.9,.4-1.6-1.2-1.1-1.4-1.8-.4-1.9-.8-.8-1.7-.8-1.6 .3-1.8-.5-1.9 2.5-.9 2-.5 1.2-.6 1.3-.3 1-1.2 1.4-.6 1.9-1.2 1.9,.2 1.9,.6 1.6,1.1 1.2,1.5 .3,1.8 .1,1.7zM818.2,2850.5l-.3,.9-.9,.7-1.3,0-.8-.7 .4-.9 1-.6 1.6-.5zM808.9,2861l-.1,1-1.4,.2-1.4-.4-.3-.9 .4-.9 1.4-.5 1.1,.8zM819.2,2850.9l-.5,1.2-1.2,.5-.9-.8-.4-1.3 .7-1.1 1.1-.6 1,.9zM799.9,2866.3l-.9,2.1-1.6,.8-.7,.9-.8,1.5-1.3,.6-1.2-1-1.4-.6 .2-2.5-.6-1.6-1-2.5 2.1-.5 .4-2 1.2-1.4 1.4,.9 .9,1.4 .6,1.3 2.1,.3zM796.6,2859.7l-.4,.6-.9,.4-.7-.6-.2-.8 .4-.7 .8-.2 .7,.5zM800.6,2868.2l-.3,1-.8,.7-1-.6-.3-1 .5-.7 .6-1.1 .9,.8zM1037.4,2860.1l1.5,1.3-.6,1.5 1.4,2 .2,1.9 .7,2.5-1.6,.5-1.1,.7-1.4-.1 0,2.4-.1,3.7-1.9-1.3-1.3,1-1.5-.1-1.6-.4-1.6-1-1.5-1.4 .3-4.3 1-3.4-.8-.8-1-.9-3.2-.8-1.4-2-.1-2.2 .7-1.8 2.2-.5-.7-2.4 .8-1.1 .6-1.5 .1-2.6 2.1,1.6 1-.7 1.3,.3 1.1-1.8 1.4,.6 1.9-2 1.3,2.6 1.8,.6 .7,2.8-.7,3.5 .4,1.8zM1039.8,2850.2l-.1,1.1-.7,.5-1,.2-.7-1.1 .4-.9 .5-.9 .9,.3zM1039.7,2874.1l0,1.1-.6,.6-.8-.1-.6-.9 0-1.1 .6-.5 .8,0zM1022.4,2856.2l-.2,.9-.7,.2-.7-.3-.3-.9 .3-.9 .8-.2 .7,.4zM1023,2845.8l-.2,.7-.5,.5-.7-.3-.5-.5 .3-.7 .5-.5 .7,.2zM1038.2,2879.9l-.3,.9-1.2,.1-1.3,.2-.4-.9 .4-.9 1.2-.5 1.1,.3zM1084.3,2863.3l-.2,.7-3.1,1.2-.9,.6 1,.8-.9,1.2-3.2,1.1-3.5,.5-2.2-.4-2.9,1.1-1.2-.3-2.8,.6-.9-.3 .4-.8-.4-.4-.2-.5-2.6-.1 .9-1 2-1.1 2.9-1 3.1-.6 2.5-.6 2.3-.5 2.9-1 2.4-.2 .7,.5 .2,.6 3.1-.5zM1061,2869.8l-.3,1.5-.9,.3-.8-.5-.4-1.3 .2-1.4 .9-.6 .6,1zM1064.4,2866.6l-.5,.9-.7,.5-.7-.6-.4-.9 .5-.9 .7-.3 .8,.2zM1087,2861.4l-.5,.5-.8,.1-.8-.5 0-.7 .4-.5 .9-.1 .8,.5zM1062.2,2868.1l-.3,.7-1,.2-1-.1-.2-.9 .4-.6 .8-.3 1.1,.1zM1089.4,2860.5l-.7,1.4-1.1,.1-1-.5-.6-1.4 1.1-1 1-.6 .8,.7zM1096.1,2891.7l-.2,2.1 .4,2 .2,2.1-.4,1.7-.6,1.7-1.6-.7-1.3-.9-1.3-.7-.9-2.3-.4-2.1-1.7-1.5-.2-2.1 0-1.9-.1-2.3 .6-1.8 1.7,1 1.3,1.4 1,1.2 1.3-.5 1.6,1zM1093.5,2885.9l-.2,1.1-.5,.5-.6-.5-.3-1.1 .3-.9 .5-.6 .6,.4zM1091.2,2882.2l-.2,.5-.5,.3-.7-.1-.1-.6 .2-.6 .5-.3 .5,.3zM1092.2,2882.7l-.5,1-1.2,.6-1.1-.4-.8-.5 0-1.1 1.5-.2 1,.1zM1080.9,2917.8l1.8,1.1-2.4,.9-1.9,.8-2.5,.1-2,.5-1.5-.6-1.6-.3-2.2-.3-1-.9-.6-1.1 1.7-1.1 3.2-.1 1.3-1.3 2.3,.4 2,0 2.5,0-.5,1.3zM1068,2921.6l-.6,1.1-.9,.5-.4-.9 0-1.3 .7-1.1 .8-.1 .6,.4zM1081.5,2921.1l-.5,1.1-.7,0-.6-.5 .2-1.1 .5-1 .7,0 .5,.5zM1056.3,2945.4l-.3,1 0,1.5-2.4-.3-2-1-1.8,.4-2.8-.1-2.2-1.3-.8-1.7 1.2-1.3 1.9-.4-.4-1.5 1.2-.6 2,.2 1.9-.3 2,.9 1.2,1.3 3.1,.8 .9,1.6zM1044.8,2940l-.1,1-.3,1.1-.8-.6-.7-1 .1-1.3 .6-.4 .8-.1zM1050.1,2938.8l-.3,.9-.5,.6-.8-.4-.3-1 .2-1 .7-.2 .7,0zM1044.5,2937.9l-.9,1.3-1.4,1.2-2.3-.7-2,0-1.5-1 .4-1.3 .4-1.5 2.6,0 2.1-.1 .7,1.3zM909.6,2932l1.3,2.1-1.4,1.3-1.1,1-.4,2.4-1.4,1.7-1.6-2.3-1.5,0-1-1.4-.4-2 0-1.8-1.3-1.7 .5-2 1.1-1.2 1.4-.5 .8-1.3 1.3-2.2 1.6,1 1,1.9 1.1,1.2-.2,2.2zM904.1,2938.4l-.3,.8-.6,.7-.8-.4-.8-.6 .5-1 .6-.4 .9-.1zM911.1,2926.4l-.1,.7-.7,.5-.8-.1-.4-.5-.2-.6 .9-.4 .8,0zM840.7,2945.1l.1,1.7-.9,1.6-1.9,.2-1.2-1.1-1.6-.9 .5-1.8 .7-1.6 1.9-.1 1.5,.7zM886.8,2969.4l-.6,1.7-.7,1.4-1.5,.7-1.7-.4-1.1-1.4 .1-1.7 1.1-1.2 1.4-.8 1.9,.1zM841.7,2979.8l-.4,1.3-.7,1-1.2-.3-1-1.2 .5-1.3 .8-.5 1.2-.4zM927.7,2973.5l-.3,1.4-.8,.9-1.2-.3-.6-1.2 .1-1.3 .8-.8 1.2,.1zM1022.4,2924.7l-.7,1.7-1.6,.2-.9-1.2-.3-1.6 1.1-1.3 1.3-.2 1.1,.8zM1081.4,2956.5l-.2,1.2-1.9-.2-1.6-.1-.6-1.2 .6-1.1 1.8-.3 1.4,.7zM973.9,2878.7l-.9,1.1-1.3,1-2.4-1.2-1.8,0-2-.8 .3-1.4 0-1-1.3-1.9 2.7,.3 1.6-1.2 1.9,1.7 1.6,.8 0,1.3zM967.1,2880.5l-.4,.7-.5,.5-.7-.4-.3-.9 .4-.8 .6-.5 .8,.3zM1003.2,2863.8l.7,1.2-1.6,.6-3.4-1.2-1.3-.2-1.8,.5-2.9-.2-1.4-1.2-1.7-1.2 1-1 1.4-.5 .6-.9 2.3,.4 1.7-.5 2.2,.4 2,.8 2.6,.8 .2,1.3zM991.3,2862.7l-.4,1.4-1,.7-1.1-.6-.8-1 .2-1.4 1.2-.4 1,.4zM990,2862.1l.1,1.4-.5,.7-.6-.5-.4-1.4-.2-1.5 .6-.4 .6,.4zM936.9,2881.5l-.1,1.1-.8,1.4-2.2,.6-1.8-.6-1.1-.8 .4-1.1-.4-1.4 2.1-.7 2.4-.8 1.1,1.3zM974.5,2900.6l.1,2.4-1.2,.4-1-.8-1.1-1.5 .4-2.1 1-.9 .9,1.1zM1100.1,2866l1.3,1.8-1.7,.9-2.1-.3-1.8-.7-1.1-1.3-.3-1.5 1.3-1 1-1.2 2.1-.3 1.7,1.2 1.6,1.2zM1058.8,2920.1l-.8,1.4-.9,1.3-1.3,.1-1.3,1.7-1.7-.1-.6-2-1-1.5-.1-1.9 1.6-1.2 .9-.9 .8-1.4 1.5-1.6 1.6,.6 .6,2.1 1,1.5zM1057,2926.1l-.6,.9-1.3,.4-1.4-.4 0-1.3 .3-1.2 1.5-.4 1.3,.8zM762.9,2870.4l-.7,2.9-1.4,1.3-1.1,.9-1,.4-.7-.4-.7-.6 .2-1.9-1.3-.5-.1-2.5 1.4-2.5 1.4-1.2 .8-2.9 1.1-.5 1-.3 .6,1-.1,1.9 .7,.7 .2,1.8zM762,2875.1l-.1,.9-.5,.7-.8-.3-.3-1 .1-1 .5-.6 .7,.4zM759.1,2865.7l-.2,1.2-.5,.9-1-.3-.7-1.1 0-1.4 .7-.7 1,0zM765.5,2859.5l0,.7-.8,.6-.9,0-.4-.6-.1-.7 .8-.5 .9,0zM763.7,2907.6l-.2,1.7-1.4,.1-1.3,.2-1.1-1.5 .9-1.5 1.1-.8 1.5,.1zM1109.6,2999l-.8,1.5-1.4,.2-1.2-.9-.2-1.7 1.1-1.3 1.5-.7 .7,1.5zM1002.1,2783.9l.9-5.3 3.8-4.8 3.1-2.5-.7,4.9-4,5.3zM973.8,2778.9l4.1-6.1 6.7-6.1 4.4-3.2-3.6,5.6-7.1,6.6zM962,2785.3l4.8-4.7 7.4-3.6 4.8-1.5-4.3,4.4-7.9,3.9zM971.8,2787.2l3.5-3.9 5.6-3.2 3.7-1.3-3.1,3.7-6,3.4zM970.9,2748.9l5-3.7 7.1-2.4 4.5-.9-4.4,3.4-7.7,2.7zM967.8,2758.6l1.8-5.4 4.3-5.2 3.3-2.7-1.5,4.9-4.7,5.7zM981,2786.8l3-4.1 5-3.6 3.5-1.7-2.6,3.9-5.5,3.9zM975.4,2748.6l5.7-3.3 7.9-1.6 4.9-.2-5.2,3.1-8.4,1.7zM988,2796.7l4.1-5.9 6.5-5.9 4.3-3.2-3.6,5.3-7,6.5zM985.5,2782.9l2.6-6 4.7-6.4 3.3-3.5-2.3,5.4-5,6.9zM959.6,2761.8l5.6-4.8 8.1-3.5 5.3-1.5-4.9,4.4-8.8,3.9zM961.1,2767l2-2.8 3.6-.9 2.4,.1-1.7,2.6-3.9,1.1zM978.5,2780.1l3.4-4.4 5.4-4.2 3.6-2.1-3,4.1-5.8,4.5zM958.6,2756.3l4-6 7.1-5.1 4.9-2.3-3.4,5.6-7.7,5.5zM962.8,2761.9l6.1-4.4 8.7-2.6 5.5-.6-5.4,4.2-9.4,2.7zM979.1,2762.6l3.5-2.4 4.9-1.1 3.2-.1-3.1,2.3-5.3,1.2zM964.5,2763.4l.7-5.1 3.8-4.6 3-2.3-.5,4.8-4,5zM982.1,2763.2l3-2.6 4.6-1.4 2.9-.4-2.6,2.5-4.9,1.6zM990.5,2794l.3-3.4 2.7-2.3 2.4-.8-.1,3.2-2.9,2.5zM998.7,2769.3l1-3.1 2.9-2 2.3-.7-.8,2.9-3.1,2.2zM963.8,2770.4l2.5-6.9 5.6-7 4.1-3.7-2.2,6.3-6,7.6zM989.3,2772.2l4.2-3 5.9-1.7 3.8-.4-3.7,2.8-6.4,1.9zM992.4,2794.1l1.3-5 3.9-4.6 3-2.3-1.1,4.5-4.1,5.1zM987.5,2750.6l4.6-4.1 6.8-3.1 4.4-1.3-4,3.8-7.4,3.4zM972.5,2783.1l2.2-3.5 4.2-2.2 3-.8-1.9,3.3-4.6,2.5zM961.9,2764.7l3-2.6 4.6-1.3 2.9-.2-2.7,2.4-4.9,1.4zM977.2,2766l6.2-2.9 8.3-.9 5.1,.3-5.5,2.8-9,1zM987.2,2769.6l3.2-5 5.3-4.7 3.7-2.4-2.7,4.6-5.8,5.1zM962.2,2791.7l3.7-6.4 6.5-6.2 4.5-3.2-3.2,5.9-7,6.8zM964,2774.3l3.3-3.2 5-1 3.3,.4-2.8,3-5.4,1.1zM983.1,2771.4l.9-3.4 2.9-2.7 2.3-1.1-.6,3.2-3.2,2.9zM998.8,2773.5l3.2-4.5 5.7-3.1 4-1-2.8,4.2-6.2,3.3zM992.3,2772.9l.4-3.5 2.9-2.4 2.4-.9-.2,3.3-3.1,2.7zM983.8,2773.1l4.8-4.2 6.9-3.5 4.4-1.6-4.2,3.8-7.4,3.8zM977.6,2782.6l4.9-3.4 7-1.3 4.4,0-4.4,3.2-7.5,1.5zM980.8,2787.6l5.9-4.4 8.4-3.5 5.3-1.4-5.3,4.1-9,3.7zM997.5,2772.5l4.7-4.5 7-3.5 4.6-1.5-4.1,4.2-7.6,3.8zM976.1,2769.8l3.4-5 5.5-4.9 3.7-2.6-3,4.6-5.9,5.3zM984,2760.2l2.3-5.1 4.7-4.9 3.4-2.5-1.9,4.8-5.1,5.2zM960.5,2755.4l4.6-3.9 6.8-2.1 4.4-.6-4.1,3.6-7.3,2.4zM972.5,2777.3l2.4-4.2 4.4-3.6 3.2-1.7-2.1,3.8-4.8,3.9zM965.7,2794.9l1.7-4.8 3.9-4.9 2.7-2.6-1.5,4.4-4.1,5.3zM999.8,2790.8l3.5-2.3 4.9-.6 3.1,.4-3.1,2.3-5.3,.6zM984.5,2787.2l3.4-3.5 5.4-2.1 3.6-.5-3,3.3-5.8,2.2zM972.8,2784.4l4.8-2.6 6.6-1.2 4-.2-4.3,2.4-7,1.4zM977.2,2784.7l4.4-2.9 6.2-1 3.9,.2-3.9,2.8-6.7,1.1zM965,2784.4l2.6-2.1 3.8-.3 2.4,.4-2.3,2-4.1,.4zM980,2758.1l2.2-2.7 3.7-.6 2.5,.6-1.9,2.7-4,.6zM982.5,2764.8l.9-5.1 3.7-4.7 3-2.4-.6,4.7-4,5.2zM964.3,2768.5l6.6-3.5 8.8-1.3 5.6,.1-5.9,3.2-9.6,1.5zM991.2,2791.4l2.9-6.9 6.1-6.7 4.4-3.4-2.5,6.3-6.6,7.3zM992.9,2760.4l2.3-6.3 4.6-6.8 3.2-3.8-2,5.7-4.9,7.4zM957.2,2754.6l4.6-3.8 6.6-3.4 4.2-1.5-4.1,3.5-7.1,3.6zM991.1,2756.9l3.6-2.8 5.2-.9 3.4,.2-3.2,2.7-5.6,1zM1001.2,2775.6l1-3.3 3.1-2.2 2.4-.7-.8,3.1-3.3,2.3zM1000,2762.8l2.7-3.4 4.7-1.8 3.1-.3-2.3,3.2-5,2zM982.1,2787l2.3-4.5 4.3-4.5 3-2.4-2,4.2-4.6,4.9zM986,2750.3l.6-3.5 3-2.4 2.4-.9-.4,3.3-3.2,2.7zM975.8,2770.3l.2-4.1 3-3.4 2.5-1.5 0,3.8-3.1,3.7zM965.5,2780.4l3.1-3.2 4.9-1.4 3.2-.2-2.7,3-5.2,1.7zM990.2,2823.1l2-4 4.2-3.2 2.9-1.4-1.6,3.7-4.5,3.5zM992.2,2805.1l5-3.9 7.1-3.3 4.6-1.4-4.5,3.7-7.7,3.5zM973.2,2802.4l3.5-3.9 5.7-2 3.9-.3-3.1,3.7-6.2,2.2zM975.9,2811.8l1.8-3.5 3.6-3.1 2.5-1.4-1.5,3.3-3.8,3.3zM990.4,2808.6l3.6-2 4.8,.2 3,.9-3.3,2-5.2-.2zM994.4,2811l3.7-1.9 4.8-.6 3.1,.2-3.2,1.9-5.3,.6zM977.7,2796.2l3.4-1.6 4.3,.5 2.6,1-3.1,1.6-4.6-.5zM990.7,2802l3.6-2.4 4.8,.2 3,1-3.2,2.3-5.2-.1zM996.9,2811.3l2.3-2.6 3.7-.7 2.5,.4-2,2.5-4,.8zM972.8,2796.6l5-1.3 6.4,0 3.9,.4-4.6,1.3-6.9,.1zM981.4,2810l2.6-3.9 4.5-2.8 3.2-1.2-2.2,3.6-4.9,3.1zM985.5,2809.7l2.3-5.1 4.8-4.7 3.5-2.3-1.9,4.7-5.2,5.1zM985,2813.2l5.2-1.6 6.4,.5 3.9,1-4.6,1.7-7-.6zM991.6,2816.9l4.6-1.8 5.9-.4 3.7,.2-4.1,1.6-6.4,.6zM988.1,2802.6l1.6-3.2 3.2-2.6 2.3-1.2-1.3,2.9-3.5,2.9zM990,2810.8l4.6-1.7 5.9-.5 3.6,.2-4.1,1.6-6.4,.6zM993.8,2812.4l5.2-4.7 7.5-4.2 4.7-2.1-4.5,4.3-8.1,4.7zM970.7,2816.8l6.7-1.3 8.4,.1 5.1,.5-6.1,1.3-9.1,0zM978.7,2812.2l5-2.9 7-1.1 4.3,.2-4.5,2.8-7.5,1.1zM995.5,2820.7l4.2-3.4 6.1-2 3.9-.5-3.7,3.2-6.5,2.2zM989.4,2814l.8-3.4 3.1-1.7 2.5-.3-.6,3.2-3.3,1.9zM988.8,2816.3l3.2-2.4 4.4-.1 2.8,.9-2.8,2.4-4.8,.1zM984.2,2810.3l3.3-3.8 5.4-1.9 3.7-.4-2.8,3.6-5.9,2.1zM980.2,2810.7l3.1-2.8 4.6-2 3-.7-2.7,2.6-5,2.1zM996.8,2819.2l2.3-4.7 4.6-4.2 3.3-2-1.9,4.3-5,4.6zM990.8,2800.4l5.8-1.5 7.4-.1 4.5,.5-5.2,1.5-8.1,.1zM1083.4,2842.6l5.8-1.7 7.4,.1 4.5,.8-5.2,1.7-8-.1zM1068.4,2835.2l5.9-.9 7.2,.5 4.3,.8-5.2,1-7.8-.5zM1072.9,2850.2l4.8-4.9 7.5-3.7 4.9-1.6-4.3,4.6-8,4.1zM1063.1,2842.9l6.5-2.2 8.2,.2 5,1-5.8,2.2-8.9-.2zM1062.5,2841.3l6.4-.5 7.6,1.4 4.6,1.3-5.7,.5-8.3-1.4zM1063.5,2850.9l1.9-2.9 3.4-2.3 2.3-1.1-1.6,2.7-3.6,2.6zM1066.1,2867.2l5.7-4.2 8.1-3.5 5.1-1.5-5.1,3.9-8.7,3.8zM1067.3,2864.8l2.7-1.5 3.5,.4 2.1,.9-2.5,1.5-3.7-.4zM1052,2867.8l6.8-.7 8.3,1.5 5,1.5-6.2,.8-9-1.5zM1091,2527.6l.4-4.9 2.8-5.1 2.3-2.8-.2,4.4-3,5.6zM1073.9,2520.1l1.4-3.2 3.3-1.9 2.4-.5-1.1,2.9-3.5,2.2zM1082.5,2529.5l4.4-4.3 6.4-3.9 4.1-1.9-3.8,4-6.9,4.2zM1085.3,2522.3l.7-3.7 2.8-3.4 2.3-1.7-.6,3.4-3,3.7zM1069.2,2526.4l3.8-6.3 6.3-6.5 4.2-3.5-3.3,5.7-6.7,7.1zM1074.9,2508.3l3.3-3.9 5.5-2.4 3.7-.6-2.8,3.7-6,2.6zM1068.6,2528.6l3.5-3.8 5.5-3.2 3.6-1.4-3,3.6-5.9,3.4zM1083.4,2534.2l.2-5.5 3.2-5.4 2.8-2.9 0,5-3.4,5.9zM1087.2,2507.5l.5-4.9 2.5-5.4 2.2-3-.4,4.5-2.7,5.8zM896.1,2657l2.4-.6 2.9,.3 1.8,.5-2.2,.6-3.1-.3zM879.6,2727l1.3-3.4 2.7-3.5 1.9-2-1.2,3.1-2.9,3.8zM904.5,2652.7l2.1-2.6 3.5-1.7 2.4-.5-1.8,2.5-3.8,1.8zM956.5,2614.6l1.6,2.2 .7,3.2 0,2.1-1.4-2.1-.8-3.4zM907.1,2699.5l1.6-.8 2,.3 1.2,.7-1.5,.8-2.1-.4zM986.7,2634.7l.2-2 1.2-2.1 1-1.2-.2,1.9-1.2,2.3zM883.8,2602.5l1-2.1 2.1-1.1 1.6-.3-.8,1.9-2.3,1.3zM923.1,2638l2.3-2.7 3.8-2.1 2.5-.9-2,2.6-4.1,2.3zM940.8,2647.5l2.7-1 3.4,.1 2.1,.4-2.4,.9-3.7,0zM881.5,2651.9l3.7-.5 4.5,1 2.5,1.2-3.4,.5-4.7-1.1zM966,2690.9l3-2 4.1-1.6 2.7-.7-2.7,1.9-4.5,1.8zM975.4,2719.7l2.3-2.5 3.6-1.8 2.4-.8-2.1,2.2-3.9,2.1zM908.9,2651.3l2.2-2.2 3.4-1.1 2.3-.2-1.9,2.1-3.7,1.2zM904.8,2591l1.6,1.2 .6,2.1-.2,1.5-1.5-1.1-.7-2.2zM864.1,2594.2l3.1-.3 3.7,.9 2.2,1-2.9,.4-3.9-1zM879.8,2599.4l1.2-3.1 2.8-2.9 2-1.4-1,2.8-3,3.2zM987.4,2671.2l2.8-.2 3.1,1.1 1.8,1.1-2.6,.3-3.3-1.2zM956.8,2585.7l1.4,.9 .4,1.8-.1,1.2-1.3-.8-.5-1.9zM891,2587.1l1.6-2.8 3-2.5 2.1-1.1-1.4,2.6-3.2,2.6zM936.2,2698.9l3.5,.6 4,1.8 2.2,1.4-3.1-.5-4.3-1.9zM930.2,2589.4l2.6-.7 3.2,.8 1.8,1-2.4,.6-3.4-.8zM875.4,2681.4l2.4-1.2 3.2-.2 2,.3-2.2,1.1-3.4,.2zM935.1,2603.9l3-.4 3.6,.6 2.2,.7-2.7,.4-4-.6zM991.1,2681.8l1.9-2.5 3.3-1.7 2.3-.6-1.6,2.4-3.6,1.8zM932.1,2648.2l1.9,1.2 1.2,2.4 .4,1.6-1.8-1.1-1.3-2.5zM1001.4,2616.7l1.3-2.6 2.5-2.2 1.9-1.1-1.1,2.4-2.8,2.4zM925.9,2621.4l.5-3.2 1.9-3.3 1.6-1.8-.3,3-2.1,3.5zM938.5,2728.7l3.2-.4 3.6,1 2.1,1-2.8,.6-4-1.1zM917.1,2610.6l1.9-.3 2.2,.7 1.2,.8-1.7,.2-2.3-.7zM924,2723.6l1.1-1.2 1.7-.1 1.1,.3-.9,1.2-1.8,.1zM910.3,2652.4l3.5-1.3 4.6-.1 2.8,.3-3.2,1.3-4.9,.1zM957.2,2647.8l1.8-1.7 2.7-1.2 1.8-.5-1.6,1.6-2.9,1.4zM878.6,2658.2l1.3-2.4 2.6-1.6 1.9-.6-1.1,2.2-2.8,1.8zM962.8,2593.2l1.5-2.4 2.8-1.7 2-.7-1.4,2.2-3,1.9zM865.9,2650.3l1-3.5 2.9-3.3 2.1-1.7-.8,3.2-3.1,3.6zM930.2,2649.8l-.2-2.2 1.5-2 1.3-.9 .3,2.1-1.6,2.1zM859.4,2639.8l.2-3.3 1.7-3.5 1.6-2-.1,3-1.9,3.9zM995.2,2693.9l1.6,1.7 1,2.6 .3,1.7-1.4-1.5-1.2-2.8zM1009.1,2714.8l2.3,2.6 1.4,3.9 .4,2.5-2.2-2.2-1.5-4.3zM952.2,2708l2.1-1.9 3.3-.8 2.1,0-1.9,1.8-3.5,.9zM944.8,2676.1l2.1-2.2 3.4-1.4 2.2-.4-1.8,2.1-3.6,1.5zM954.7,2611.3l1-1.7 1.9-1.3 1.4-.6-.9,1.6-2,1.4zM924.7,2624.6l1.5,1.4 .6,2.3-.1,1.5-1.4-1.2-.6-2.5zM978.9,2605.2l3.4-1.5 4.4-.3 2.7,.3-3,1.5-4.8,.3zM1006.3,2702.6l.2-2.7 1.4-2.8 1.2-1.6-.1,2.4-1.5,3.1zM987.9,2707l2.1-1.2 2.8-.5 1.8,0-1.8,1.1-3.1,.6zM867.8,2709.8l3-.4 3.4,1.2 1.9,1.3-2.8,.5-3.6-1.3zM871.9,2589.9l1.5-1.6 2.5-.4 1.6,.3-1.4,1.6-2.6,.4zM903.3,2582.2l2-.7 2.4,.6 1.4,.7-1.9,.7-2.5-.5zM924.6,2693.6l1.6,1.9 .3,2.7-.2,1.7-1.5-1.6-.5-2.9zM908.8,2627.9l1.8-1.5 2.7-.7 1.8-.2-1.7,1.4-2.9,.8zM910.6,2586.5l2.8-1.4 3.6-.2 2.3,.4-2.5,1.3-3.9,.2zM982.2,2612.7l2.3,1.3 1.2,2.7 .3,1.8-2.1-1.1-1.4-2.8zM905.3,2708l.6-2.1 1.9-1.5 1.5-.6-.5,1.9-2.1,1.7zM987.3,2724l.3-2.9 1.9-3 1.6-1.5-.2,2.7-2,3.2zM1035.3,2639.7l1.5-2 2.7-1.2 1.8-.3-1.3,1.9-2.9,1.3zM1073.9,2590.2l3-.7 3.4,.8 2,1-2.6,.7-3.8-.9zM1057.3,2643.7l2.4-.1 2.7,.9 1.5,.9-2.1,.2-2.9-1zM1079.3,2808l2.1-3.1 3.6-2.3 2.5-1.1-1.7,2.9-4,2.6zM1063.2,2591.4l.1-1.8 1.4-1.3 1.2-.5 .1,1.7-1.5,1.5zM1025.9,2779.2l.8-1.9 1.9-1.4 1.4-.6-.7,1.8-2,1.5zM1059.8,2693.6l.9-2.7 2.2-2.8 1.6-1.4-.8,2.5-2.3,3zM1077.9,2591.7l1-3.7 2.5-3.8 1.8-2.1-.8,3.3-2.7,4.2zM1100.6,2766.1l2.5,2.5 2.1,3.8 1,2.5-2.3-2.3-2.3-4.1zM1033.3,2707.4l.9-2.7 2.4-2 1.9-.9-.7,2.5-2.6,2.2zM1032.8,2663.8l.4-3.5 1.8-4 1.5-2.2-.3,3.2-2,4.3zM1043.3,2605.3l0-2 1.2-2.1 1-1.1 .1,1.9-1.2,2.2zM1032.5,2774.5l1.1,1 .3,1.8-.1,1.1-1.2-.9-.3-1.9zM1081.8,2813.9l1.5-2.7 2.7-2.7 1.8-1.4-1.3,2.5-2.9,2.9zM1057.3,2593.1l1.7-1.4 2.5-.3 1.6,.2-1.5,1.3-2.7,.4zM1077.1,2590.4l1.2-2.8 2.8-2.4 2-1-1.1,2.5-2.9,2.6zM1066.3,2814.6l1.3-2.3 2.4-2.2 1.7-1.1-1.1,2.2-2.7,2.4zM1035.8,2583.4l1.4-2.4 2.5-2.1 1.8-1.1-1.2,2.2-2.7,2.4zM1097.5,2746l2.7-.2 3,1.1 1.7,1.2-2.5,.3-3.2-1.3zM1078.7,2698.9l1.4,1.8 .7,2.7 0,1.8-1.3-1.7-.7-2.9zM1071,2598.9l1.9-.7 1.9,.8 1.1,.9-1.7,.8-2.1-.8zM1045.8,2667.7l1.9,1.3 .6,2.4-.1,1.6-1.8-1.1-.7-2.5zM1077.4,2693.5l1.6-1 2.2,.1 1.3,.5-1.5,1-2.3-.2zM1032.8,2597.1l3.5-.3 4,1.3 2.3,1.3-3.2,.4-4.3-1.4zM1072.3,2729.8l1.2-1.5 2-.5 1.4,.2-1,1.4-2.2,.6zM1029.6,2721.6l3.2-1.3 4.2-.3 2.6,.2-2.9,1.1-4.5,.4zM1028.8,2751.3l1.8,.8 .8,1.9-.1,1.4-1.8-.6-.8-2zM1027.6,2629.2l.3-2.7 1.2-3.2 1.1-1.8-.2,2.5-1.3,3.4zM160.6,1876.4l-.5,1.3-1.4,0-.9-.8-.5-1.1 .8-1 1.2-.2 .9,.7zM118.3,1863.4l-.6,.7-1.3,.1-1.2-.7-.3-.9 .7-.7 1.3,.1 1.6,.5zM99.4,2010.7l-.9,.4-1.6-.3-1.4-.7-.6-.8 1.1-.2 1.4-.1 1.3,.8zM62.9,1993.1l-.2,.8-.7,.3-.7-.1-.3-.8 .3-.7 .6-.4 .8,.2zM115.3,2031.2l-.8,.9-1.1,.7-1.3-.3-.7-.8 .4-1 1.2-.6 1.3,.3zM124.1,2003.9l-.5,1.1-1,.4-.9-.5 .2-1.3 .2-1.3 1-.2 .7,.6zM72.9,1961.7l-.5,.6-.9,.5-1-.5-.1-.9 .5-.6 .8-.5 .8,.7zM174.2,1893.1l-.9,.3-1.2-.1-1.3-.5-.5-.9 1-.3 1.3,.1 1.2,.5zM71.9,1961.6l-.5,1.3-.9,.6-.3-1.1-.1-1.3 .7-1 .7-.5 .6,.6zM203.9,1955.5l.3,1.7-.7,.6-.7-.6-.4-1.5 .1-1.4 .4-1.1 .8,.8zM101.7,1980.8l-.7,.7-1.1,.5-1-.6-.8-.7 1-.6 .9-.3 1.3,.2zM110.6,1987.4l.5,1.4-1.1,.4-1-.3-.8-.7-.2-1.4 .9-.7 1.1,.3zM136,1958.6l.5,1.4-.5,.9-.9-.5-.7-1.2-.4-1.6 .6-.6 .9,.2zM136.8,2016.8l-.2,.6-.7,.2-.6-.3 0-.7 .3-.5 .6-.3 .5,.3zM150.7,1917.1l-.4,1.5-1.1,0-1.2,0-.2-1.5 .4-1.2 .9-.6 .8,.8zM162,1878.3l-.8,1.2-1.3,0-1.3-.2-.3-1.5 .9-1.1 1.2-.4 1,.7zM206.6,1899.9l-1,1.2-1.5,.7-1.3-1 .2-1.7 .7-1.4 1.6-.6 1,1.3zM123.1,1990l-.9,1.1-1.2,.8-1.6-.1-.9-1 .4-1.3 1.6-.5 1.6,0zM133.8,1867.5l-.1,1.2-.5,.4-.6-.3-.6-.8 0-1.1 .4-.5 .7,.1zM99.1,1979.8l-.7,.4-1-.1-.9-.5-.2-.8 .6-.4 1.1,.1 .7,.6zM194.3,1964.4l-.6,.8-1.1,.5-.9-.8-.4-.9 .6-.8 1.1-.3 1.1,.6zM176,2019l0,1.4-.9,.5-1.1,.3-.8-1.3 .3-1.3 .5-1.1 1.2,.4zM113.6,1944.2l-.3,1.2-.8,.6-.4-1-.3-1 .4-1 .7-.6 .7,.5zM113.5,1898.8l-.4,.6-.8,.2-.6-.4-.5-.5 .4-.6 .8,0 .7,.1zM110.6,1972.1l-.3,1.5-.9,.5-1.1-.3-.7-1.4 .6-1.5 .8-.9 1.2,.3zM106.5,1877.4l-.3,.8-.5,.5-.9,0-.2-.9 0-.9 .7-.5 .7,.3zM200.6,2019.1l-.7,.5-1.5,0-1.4-.5-.4-.7 .6-.5 1.5-.1 1.2,.7zM172.5,1875.7l-1,.9-1.4,.7-1.5-.7-.7-1 .6-1.2 1.7-.5 1.6,.7zM198.1,1986.7l-.2,.7-1.2,.4-1-.1-.7-.4 .3-.7 1.1-.5 1.1,.2zM127.7,1978.4l-.1,1.6-1.5,.8-1.4-.4-1.5-.8 .6-1.6 1.4-.8 1.5,.2zM199,1950.1l0,1.3-.4,1.1-.8-.3-.6-1.6 0-1.4 .4-.8 .8,.2zM201.8,1864.3l.2,1.1-1.2,.7-1.3,0-.9-.7 .3-1.2 1.1-.7 1.2-.1zM159.9,2012l-.2,1.4-1.2,0-.9-.4-.4-1.2 .6-1.2 1-.4 .8,.7zM215,1945.5l-.8,1.1-.9,.8-.7-1-.5-1.5 1-1.3 1-.4 .9,.6zM185.7,1967l-.7,.7-.8,.3-.7-.5-.2-.9 .4-.9 .8-.1 .6,.6zM97.8,1920.7l-.1,1.1-.7,.2-.6-.3-.5-.9 .2-1 .7-.3 .7,.2zM109.1,1998.5l-.6,1.2-1.4,.4-1.3-.8 0-1.3 .4-1.2 1.4-.4 1,1zM132.3,1894.9l-.6,.9-1.4-.1-1-.7-.2-1.1 1-.5 1.2-.4 1,.9zM121.7,1962.2l-.5,.6-.7,.4-.6-.6-.4-.8 .6-.7 .8-.3 .9,.4zM163.5,1991.5l0,1.6-1.1,1-1.6,0-1.2-1.3 .4-1.7 1-1 1.5,.1zM137.9,1910.3l-.6,1.6-.8,.1-.5-.7 .1-1.5 .8-1.5 .9-.2 .5,.7zM220,1863l-.4,1-1.3,.3-1.2-.3-.8-.9 .7-1 1.3-.4 1.2,.4zM194.7,1865.3l-.7,.4-.7,.2-.7-.4-.3-.7 .5-.6 .9,.1 .8,.3zM207.2,1959.6l-.1,1.4-.5,1-1-.4-.6-1.6 .2-1.4 .5-1.2 .9,.8zM121.5,1983.1l-.5,.9-.8,.1-.6-.5-.1-1 .6-.8 .8-.3 .8,.5zM329.7,1866.5l-.4,1-1.4,.3-1.4-.3-.5-1 .7-.9 1.2-.2 1.5,.1zM341.3,1937.5l-.4,1.2-.6,.8-.6-.6-.2-1.5 .2-1.4 .6-.7 .7,.6zM250.1,1900.7l-.5,.8-1.1,.1-1.2-.2-.3-1.1 .8-.8 1-.4 1.3,.5zM232.3,1907.1l-.7,1.1-1.1,.6-1.2-.4-.7-.8 .4-1.1 1.1-.6 1.1,.5zM269.9,1907l0,1.4-.7,.8-.9-.7-.5-1.2-.1-1.5 .9-.7 .8,.7zM345.4,1921.7l-.2,.7-.6,.5-.8,0-.5-.7 .2-.8 .6-.5 .9,.1zM337.3,1978.5l-.5,.8-.9,.4-.9-.4-.3-.8 .2-.9 1-.5 .7,.7zM232.3,1964.6l-.2,.8-.9,.5-1.2,.1-.3-.8-.1-.8 1.1-.7 1.2,.2zM306.2,1887.2l-.1,1.4-1,.5-1.2-.2-.4-1.5 .4-1.2 .9-.8 1.2,.4zM362.2,1899.6l-.6,.9-.8,1-1.2-.5-.5-1.1 .4-1.2 1-.7 1.2,.5zM349.6,1901.9l.3,1.1-.8,.4-.8,0-.6-1 .1-1.1 .6-.7 .8,.3zM258.9,1931.3l0,1.6-1,.5-.9-.5-.6-1.2 .1-1.6 .9-.7 1,.5zM240.3,1864.5l-.3,1.7-1.9-.2-1.2-.9-.7-1.4 1.1-1.2 1.7-.8 1.2,1.4zM302.4,1908.3l0,.7-.4,.6-.7-.1-.4-.7 0-.8 .5-.6 .7,.1zM265.7,1885l-.5,.8-.6,.2-.7-.3 0-1 .3-1 .8-.1 .4,.5zM249,1899.3l.2,1.4-1.2,1-1.5-.3-.7-1.1 0-1.4 1.1-1 1.5,.2zM354.2,1965.7l0,1.2-.6,.6-.8-.1-.5-1.2-.1-1.2 .7-.5 .8-.1zM272.2,1942.8l-.6,.9-1.2,.3-1-.7-.5-1.2 1-.9 1.2-.3 1.1,.7zM374.1,1963l-1,.6-1.4,.1-1.7-.5-.1-1 .6-.7 1.6-.1 1.5,.7zM261.5,1931.4l-.6,.8-1.3,.6-1.5-.3-.6-.7 .6-.8 1.3-.4 1.4,.2zM269.6,1867.6l-.3,1.1-1.3,.5-1.1-.6-.8-.9 .6-1 1.2-.6 1.1,.6zM277.1,1871.1l-.3,1.1-1.2,.7-1.3-.1-1.3-.5 .7-1.1 1.2-.8 1.5-.1zM273.5,1925l-.6,.6-.9,.2-.5-.7 0-.9 .6-.6 .8-.3 .6,.7zM350.6,1977.7l-.4,1.4-.8,.8-.9-.6-.6-1.3 .2-1.5 .9-.3 1,0zM266,1927.7l-.2,1.6-1.6,.9-1.7-.4-.6-1.6 .2-1.6 1.6-.6 1.6,.3zM247,1962.9l-.6,.9-.8,.4-1-.2 .1-1.4 .5-1.1 .9-.5 .9,.6zM322.2,1980.3l-.5,1.4-1,.2-.7-.8 .3-1.3 .4-1.3 1-.4 .6,.9zM339.3,1864.3l-.6,.9-1.2,.1-1-.4-.4-.9 .5-.9 1.1-.1 1.2,.3zM315.4,1947l0,.9-.7,.7-1.2,.1-.5-.9 .1-1 .7-.8 1.2,0zM361.9,1912.5l-.4,1.1-1.6,.5-1.4-.6-.6-.9 .3-1.1 1.6-.2 1.5,.2zM292.2,1894.9l-.9,1.2-1.4-.2-1.3-.6-.3-1.5 1.1-.9 1.4-.6 .9,1.3zM329.4,1930.6l-.1,1.3-1,.7-1.2-.2-.7-1 .1-1.2 .9-.8 1,.5zM388.7,1922.9l-.6,1-.8,.6-1.2-.3-.2-1.2 .1-1.1 1.1-.3 1.1,.2zM401.2,1886l-.8,1.1-1.1,.1-1-.6-.3-1.3 .8-1.2 1.2-.3 .8,.9zM357.6,1903.8l-.5,1.1-.7,.6-.6-.6-.4-1.1 .4-1.2 .6-.3 .8,.2zM380.8,1896.7l-.3,.7-.5,.6-.9,0-.3-.8 .2-.7 .5-.6 .8,.2zM279.6,1885.4l.1,.8-1.4,.3-1.1,.2-1-.4 .6-.8 1.1-.6 1.1,0zM269.7,1922.1l-.6,1-1,.4-1.2-.3-.1-1.2 .2-1.2 1.2-.5 1,.6zM281,1903.4l-.4,1.4-1.1,.9-1.1-.8-.9-1.2 .2-1.7 1.4-.5 1.2,.6zM237.8,1905.1l-.7,1.1-.8,.6-.7-.6 .1-1.5 .4-1.3 .9-.7 .7,.8zM316.6,2060.4l-.2,1.6-1.4,.4-1.3,.2-.8-1.2-.1-1.6 1.4-.6 1.4,0zM323.9,2091.6l-.4,.9-1,.8-1.3,0-.7-.6 .1-.9 1.2-.8 1.1,.2zM300.5,2081.2l-.5,1.3-1,.8-1.3-.4-.8-1.3 .6-1.3 1.1-.7 1.2,.4zM333.1,2201.8l-.3,1.3-.7,.4-.5-.5-.4-1.2 .2-1.4 .7-.5 .6,.6zM282.5,2012.2l-.8,.7-1.6,.4-1.6-.8-.4-1 .9-.7 1.5-.4 1.2,.9zM366.2,2191.7l-.5,1.6-.8,.2-.7-.4-.1-1.6 .3-1.7 .8-.4 .6,.9zM323.9,2061.4l-.4,1.3-1.1,.9-1.6-.1-.5-1.4 0-1.4 1.4-.8 1.4,.3zM385.9,2205.9l-.3,1.3-1.3,.7-1.5,.3-1.1-.9 .6-1.2 1.1-1 1.7-.3zM319.4,2064.8l-.5,.7-1.5,.3-1.3-.2-1.2-.4 1-.7 1.4-.4 1.4,.2zM291.5,2015.3l-.6,.8-1.1,.5-1.4-.1-.7-.7 .6-.8 1.1-.5 1.5,0zM285,2099.8l-.9,.9-1.4,.7-1.4-.8-1.1-.8 .9-.9 1.6-.4 1.4,.5zM392.1,2158.3l-.2,1.5-.9,.6-.8-.5-.8-1.2 .3-1.5 .8-1 .9,1zM304.9,2059.5l-.5,.5-.9,.2-.8-.3-.3-.7 .5-.6 .9-.1 .7,.3zM331.4,2103l-.2,1.4-.8,1-1-.6-.1-1.7 0-1.7 1-.7 .9,.8zM374.5,2104.1l-.2,1-.8,.4-.8-.2-.5-.8 .1-1.1 .8-.3 .9,.1zM306.9,2026.9l0,1.6-.8,.8-.9-.7-.5-1.4 .1-1.6 .8-.6 .9,.4zM335.5,2158.8l-.8,1.5-1.2,.6-1.5,.3-.9-1.3 .4-1.5 1.1-1.1 1.5,.5zM285.9,2169.3l-.3,1.6-.7,.4-.6-.6-.2-1.5 .3-1.7 .7-.3 .5,.8zM340.2,2010l-.4,1.6-1.3,0-1-.8-.2-1.5 .9-1.2 1.1-.1 1.2,.4zM392.1,2058.8l-.4,.6-.5,0-.5-.3 .1-.7 .2-.7 .7-.1 .4,.5zM349.4,1988.8l0,.8-1,.1-.7-.5-.2-.6 .3-.6 .8-.2 .8,.3zM301.2,2199.7l-.2,.8-1.3,.5-1.4-.3-.4-.8 .5-.7 1.2-.4 1.6,0zM283.4,2184.9l-.9,.3-1.4-.3-1.1-.6-.7-.8 1.1-.3 1.3,.1 1,.8zM279.1,2141.2l-1,1.1-1.2,.4-.7-1-.2-1.5 1-1.1 1.1-.1 .9,.6zM347.4,2003.9l-.7,.8-1.4,.5-1.4-.3-.3-.7 0-.8 1.6-.3 1.4,.1zM293.6,2019.5l-.3,.7-.4,.6-.7-.4-.1-.8 0-.9 .6-.3 .7,.2zM354.8,2033.4l-.2,1.1-1.2,.7-1.3,.1-.5-.7-.2-1 1.2-.7 1.2,0zM312.7,1990.7l-.1,1.1-.9,.5-.9-.3-.6-.9 .2-1.1 .8-.7 1,.3zM330.8,2189.5l-.4,1-1.5,.5-1.5,.1-.8-.8 .5-.9 1.3-.7 1.5,.2zM292.9,2076.5l-.6,.8-1.6-.1-.9-1-.5-1 .8-.8 1.5,.4 1.2,.7zM282.2,2204.4l-.4,1.5-.7,.4-.5-.8 .1-1.4 .4-1.4 .8-.9 .4,1.2zM311,2067.4l-.9,.9-1.2,.3-1.3-.4-.3-1.2 .5-1.2 1.5-.2 1,.7zM340.5,2185.6l-.4,1.1-1.3,.5-1.2-.2-1-.8 .4-1.1 1.5-.2 1.3-.1zM324.2,2034.6l-.5,1.2-.8,.7-.7-.8-.3-1.4 .6-1.2 .8-.7 .9,.6zM388.3,2019.8l-.2,.7-1.1,.6-1.5,.5-.1-.8-.1-.6 1.2-.6 1.3-.3zM308.4,2162.9l-.7,1.5-1.1,.5-1.2-.4-.4-1.4 .3-1.4 1.1-.5 1.1,.4zM332.8,2097.7l-.2,1.4-.6,.8-1.1-.1-.5-1.4 0-1.3 .5-1 1,.4zM282.6,2069.7l-.5,.7-.5,.1-.6-.2 .1-1 .3-.8 .7-.1 .4,.4zM301.8,2164l-.4,.9-1,.1-.8-.4-.7-.9 .7-.8 1.1-.1 1,.4zM315.1,2019.7l-.2,.9-.6,.5-.7-.2-.5-.7 .2-.9 .5-.5 .8,.1zM402.9,2144.6l-.7,.9-.8,1-.9-.6-.1-1.5 .4-1.2 .9-.4 .8,.5zM349.3,2085.3l-.4,.7-.6,.3-.5-.4-.1-.8 .3-.7 .6-.1 .6,.2zM382.5,2124.3l-.2,1.1-1.2,.8-1.3-.6-.8-1.1 .7-1 1.1-.8 1.3,.5zM320.6,2042.4l-.3,1.3-.8,.4-.7-.7-.2-1.2 .4-1.2 .8-.6 .6,.9zM405,2016.4l-.5,1.5-1.4,.7-1.5-.5-.6-1.3 .4-1.3 1.3-1.3 1.5,.9zM319,2207.5l-1.3,.4-1.2,.2-1.3-.7-.5-1.1 1.2-.6 1.3-.1 1.1,.8zM323.3,2030.3l-.3,.8-.9,.7-1.2,0-.6-.5 .2-.7 .9-.7 1.4-.2zM310.2,2021.6l-.8,.9-1.3,.5-1.2-.6-1-.8 .9-.9 1.3-.5 1.4,.5zM366.7,2025l-.3,1-.7,.5-1-.1-.5-.9 .1-1.1 .9-.2 1-.1zM376.8,2150.9l-.3,1-1.3,.1-1.3-.2-.3-1 .4-.8 1.2-.6 1.2,.6zM322,2137.5l-.2,1.3-.7,.3-.9,0-.4-1.3 .1-1.3 .7-.3 .8,.1zM375,2111.4l-.6,.5-1.4-.1-1.3-.6-.4-.7 .5-.6 1.6,.1 1.1,.7zM287.2,2085.2l-.3,1.6-1.7,.4-1.3-.8-.8-1.2 .5-1.6 1.6,0 1.3,.4zM398.7,2119.7l0,1.3-1.4,.7-1.3-.5-.7-.9 .2-1.2 1.2-.9 1.4,.6zM337.7,2164.1l-.6,1.5-1.4,.8-1.4-.5-1.3-1 .7-1.4 1.4-.8 1.4,.5zM163.2,2133.6l-.7,1.4-1.3,.7-1.5-.5-.7-1.6 .8-1.4 1.3-.7 1.8,.2zM169.4,2184l-.3,1.3-1.4,.7-1.5-.4-.8-.9 .2-1.3 1.5-.7 1.3,.5zM80.8,2133.6l-.5,1.1-1.3,.9-1.4-.1-.9-.6 .2-1.1 1.3-1 1.6,.1zM103,2099.5l-.7,1-.7,1.1-1-.7-.3-1.4 .4-1.3 .9-.6 1,.4zM120.4,2078.8l-.4,1.5-1.6,.2-.7-1.2-.2-1.4 .8-1.2 1.3-.2 1.1,.9zM89.6,2167.4l-.1,1.3-.9,.8-.9-.9-.7-.9 .3-1.3 .9-.7 1,.5zM91,2087.6l-.6,1.1-.7,.6-.5-.8 0-1.2 .5-1.4 .7,.2 .6,.2zM115.9,2084.8l-.4,.6-1,.7-1.4,0-.3-.5-.1-.6 1.3-.6 1.3,0zM189.6,2191.6l-.4,1.3-.8,.5-.9-.4-.1-1.4 .1-1.3 .8-.7 .9,.6zM198.6,2042.3l-.3,1-1.8-.2-1.5-.6-.3-1 .9-.6 1.5-.4 1.2,.9zM154.5,2174.1l-.2,1.1-.8,.5-.9-.1-.6-.6-.1-1 .8-.6 .9,.1zM152.6,2178.3l-1,1.2-1.3,.2-1.5-.4 .2-1.9 1-1.3 1.3-.3 1.5,.6zM108.9,2183.5l.6,1.7-.7,.4-.8-.1-.6-1.5-.2-1.6 .3-1 .9,.7zM175.5,2049.4l-.6,1.2-.9,.2-.6-.6 .2-1.4 .6-1.1 .9-.5 .6,.8zM88,2111l-.1,1.2-.6,.9-.8-.6-1-1 .5-1.3 .6-.8 1,.1zM152.7,2135.4l-.7,1.5-1.4,.4-1-1-.6-1.3 .6-1.5 1.5-.3 1.2,.8zM59.2,2043.6l.1,1.3-.6,.4-.7-.4-.3-1.2 .2-1.1 .5-.8 .7,.5zM168.4,2170.1l-.1,.7-1.5,.8-1.5,.1-.7-.5 .3-.8 1.4-.7 1.6-.2zM169,2120.6l0,1.7-1.2,.7-1.3-.5-.5-1.6 0-1.7 1.2-.9 1.3,.8zM129.8,2110.3l-.4,1.2-.9,1-1.2-.6-.8-1 .3-1.3 1.1-.7 1.3,.1zM185.3,2123.8l-.6,1.2-1.4,.1-.9-1-.1-1.3 .7-1 1.4-.2 .8,1zM93.1,2047.2l-.5,1.3-1.1,0-.7-.7-.4-1.2 .7-1.2 1.1-.2 1,.6zM188.6,2090.2l-.9,1-1.4,.1-.7-1.1-.3-1.2 .7-1.1 1.5-.1 .7,1.2zM145.1,2173.8l.4,1.5-1,.5-1-.1-.9-1 0-1.4 .9-.5 .9-.1zM97.2,2156.8l-.3,.6-.7,.3-.7-.1-.3-.5 .2-.6 .6-.6 .7,.4zM181.9,2186.7l-.6,1.2-1.5,.1-.6-1.2-.5-1.3 1-1.2 1.5,0 .8,1.1zM88.3,2168.3l-.7,1.5-1.1,.8-1.5-.4-.4-1.6 .5-1.4 1.1-1 1.2,.8zM164.2,2131.1l-.1,1.3-.8,.2-.6-.5-.2-1.1 .3-1.3 .7-.1 .6,.4zM148.2,2124.8l-.4,1-.7,.1-.5-.5-.2-1 .5-.9 .8-.1 .4,.6zM163.5,2140.7l-1.1,.8-1.3,.2-1.3-.8 .2-1.5 1-.9 1.3-.2 .9,1zM111.2,2057.6l.1,1.5-.6,.3-.7,.1-.5-1.5-.1-1.3 .4-.8 .7,.6zM59.8,2091.4l.2,1.3-.4,.9-.9-.4-.6-1.3-.3-1.3 .4-1 .9,.6zM125.8,2058.9l-.8,1.2-1.2,.7-1.4-.2-1-.9 .6-1.2 1.2-.8 1.4,.4zM102.4,2125.2l-.6,1.5-1.1,.9-1.5-.1-1.2-1.4 .8-1.5 1.1-1.1 1.4,.5zM134.9,2180.4l-.7,1.5-1.4,.4-1.2-.7-.6-1.4 .6-1.6 1.5-.2 1.1,.6zM122.3,2205.9l-.2,.8-.6,.4-.7,0-.4-.5-.2-.7 .8-.4 .6,.1zM78.5,2124.4l-.7,.8-1.4,0-1.3-.5-.5-1 .7-.7 1.5-.3 1.4,.7zM187.2,2125.1l-.6,.7-1,.6-1.4,.1-.6-.5 .6-.6 .9-.8 1.3,.1zM200.4,2059.8l-.3,1.7-1,.8-1-.9-.8-1.4 .5-1.6 1-.5 1.1,.4zM130.4,2143.9l-.6,1.6-1.1,.3-.8-.8 .6-1.6 .4-1.4 1-.6 .7,.9zM570.8,2098.2l-.6,1.3-1.2,.5-1.1-.7-.4-1.2 .5-1.3 1.1-.6 1.1,.7zM646.6,2133.6l-.5,1.1-1.5,.2-1.4-.2-.4-1.1 .5-1 1.3-.4 1.5,.3zM609,2097.4l-.3,1.2-.8,.4-.7-.5-.7-.9 .3-1.3 .9-.1 .9,.1zM635.6,2031.3l-.4,.9-.8,.2-.7-.3-.5-.8 .6-.7 .6-.3 .8,.2zM592.2,2091l-.2,.8-1.1,.7-1.3,.1-.5-.5-.2-.8 1.3-.6 1.4-.2zM614.7,2108.4l-.4,1.3-.9,.4-.5-.9-.5-1.2 .7-1.3 .9-.6 .6,1.1zM587.7,2124l-.5,.6-.9,.3-.9-.4-.4-.7 .6-.5 .9-.4 1.1,.4zM635.5,2030.7l-.5,.9-1.2,.3-1-.6-.4-.9 .6-.6 1-.6 .8,.8zM563.8,2019.2l-1.4,.9-1.3,.4-1-1.1-.5-1.7 1.4-1.2 1.5,.1 1,.9zM611.2,2067.6l-.6,1.4-.7,.7-.7-.4 0-1.8 .3-1.6 .7-.6 .6,.7zM609.1,2096.7l0,1.9-1.4,.4-1.4-.2-.7-1.6 .4-1.7 1.1-.8 1.3,.6zM574.6,2134.8l-.7,1.2-.7,.4-.2-.9 0-1.2 .7-1.5 .7-.2 .3,.8zM581.2,2058.7l-.9,1-1.8-.1-1.3-.6-.8-1 .9-1 1.6,.2 1.4,.5zM644.8,2017.1l-.6,1.2-.9,1.3-1.1-1.2-.3-1.3 .2-1.5 1.1-.8 1.3,.6zM584.5,2110.5l-.4,1-.7,.7-.5-.8-.1-1.3 .6-.9 .7-.5 .4,.6zM562.7,2083.2l-.3,.7-1.4,.8-1.4,0-1-.3 .5-.8 1.4-.8 1.5,0zM561.5,2094.5l-.1,.7-.7,.4-.8-.2-.5-.6 .3-.7 .7-.4 .9,0zM564.5,2099.1l0,1.2-.5,.6-.8-.1-.5-1.2 0-1.1 .4-.9 .9,.3zM640.3,2059.4l-.8,.6-1,.2-.8-.7-.1-.9 .5-.8 1.1-.2 .7,.9zM606.6,2031.4l0,1-.6,.8-1-.2-.5-.9-.1-1 .7-.5 1-.2zM563.2,2041.9l-.2,1.4-1.2,.3-1.1-.3-.6-1 .3-1.2 1-.7 1.2,.4zM639.9,2095.4l-.6,.8-1.7-.4-1.4-.7-.1-1 .7-.7 1.6,.1 1.1,1zM636.4,2067.8l0,1.3-.8,.4-1-.1-.5-1.2 .2-1.1 .6-.9 .9,.6zM618.4,2119.6l-.8,.9-1.3,.6-1.6,.1-.3-.8 .1-.7 1.4-.7 1.8-.1zM607.6,2120.6l-.3,1.1-.7,.5-.7-.6-.4-1 .3-1.1 .7-.4 .5,.7zM453.9,2038l-.2,1.5-.8,.5-1.1,.5-.9-1.4-.1-1.6 .9-.8 1.2,.2zM465.8,2142.8l-.1,1-.7,.1-.5-.4-.3-.7 .2-1.1 .7,.1 .5,.2zM470,2021.1l-.3,1.6-1.1,.4-1.3,.2-.6-1.7 .2-1.6 1.2-.7 1.2,.5zM519.7,2069l0,1.6-1,1.1-1.5-.1-.7-1.7 .1-1.5 .9-1.2 1.5,.2zM432.6,2018.5l-.5,.6-.7,.2-.8-.4 0-.9 .5-.6 .7-.1 .7,.3zM474.6,2186.6l-.9,.9-1.2-.2-1.2-.6 0-1.2 .8-.8 1.2,.1 1.1,.6zM462.9,2029.6l-.3,1.4-.8,.8-.8-.9-.3-1.3 .2-1.5 .8-.5 .8,.6zM481.8,2086.8l-.6,.7-1.4,.3-1.4-.7 .1-1.1 .5-.8 1.4-.1 1.5,.6zM505.1,2059.4l-.9,.8-1.2,.4-1-.9 0-1.3 .8-1 1.3,0 .9,.8zM433.6,2101.5l.1,1.4-.5,.7-.9-.1-.7-1.4 0-1.4 .5-.8 .8,.5zM445.7,2016.5l-.3,.6-.9,.1-.8-.3-.4-.6 .4-.5 .8-.3 .9,.3zM512.9,2193.9l-.8,.6-1.5,.2-1.8-.5-.1-.9 .6-.6 1.6-.1 1.5,.5zM477.9,2158.9l-1,.8-1.4,0-1.6-.5 .6-1.4 .6-.9 1.4-.1 .9,.9zM447,2082.1l-.5,1-1.9-.2-1.6-.3-.8-1.1 1.2-.7 1.5-.2 1.8,.3zM530.9,2054.6l-.5,1.1-1.3,.6-1.5-.5-.3-1.3 .5-1.2 1.4-.6 1.6,.4zM547.4,1982.6l-.7,1.2-1.5,.6-1.1-1.1-.5-1.3 .8-1.2 1.4-.3 1.4,.7zM725.3,1989.6l-.5,1.4-1.5,.3-1.4-.4-.6-1.3 .6-1.3 1.4-.7 1.1,1zM482.7,1898.7l-.4,.8-.7,.4-.8-.2-.3-.7 0-.9 .8-.1 .7,.1zM568.5,1906.1l-.4,.8-.6,.5-.7-.3-.4-.9 .2-.9 .8-.2 .8,0zM513.6,1962.5l-.4,.8-.7-.1-.6-.2-.4-.9 .6-.7 .7-.2 .7,.3zM498.6,1975.3l-.6,.6-.8,.2-.6-.5-.1-.7 .4-.6 .8-.2 .6,.5zM614.3,1960.9l.4,1.6-.8,.7-1-.1-.6-1.6-.5-1.7 .8-.8 1.1,.4zM500.5,1904.7l-.4,1.4-.8,.4-.6-.6-.2-1.3 .4-1.5 .8-.4 .6,.7zM668.5,1935.6l0,1.3-.6,.8-1-.2-.6-1.2-.2-1.3 .7-.6 .9,.3zM502.9,1921.4l-.4,1.1-1.3-.3-1.1-.3-.4-1.1 .8-.8 1.1-.1 1.1,.4zM1059.4,1888l-.3,.7-1.9-.4-1.3-.6-.6-.7 .7-.4 1.6,.3 1.5,.4zM1110,1962.3l-1.1,.9-1.4,0-1.8-.5 .4-1.5 .7-1.1 1.6-.1 1.2,.9zM1086.8,1922.5l-.4,.8-.4,.6-.5-.5-.4-.9 .3-.9 .6-.4 .6,.3zM1011.6,1963.6l-.2,.8-.6,.5-.9,0-.7-.5 .4-.8 .6-.6 .9-.1zM921.4,1952.5l-.7,1.1-1.1,.7-1.5-.3-.5-1 .7-1 .9-.8 1.3,.4zM897.1,1907l-.7,.8-1,.6-1.5-.2-.2-.9 .4-.8 1.1-.5 1.3,.1zM940.7,1968.1l-.4,.7-.8-.2-.8-.3 0-.8 .4-.7 .9-.1 .7,.5zM928.2,1865.7l-.3,.8-.6,.2-.7-.1-.1-1 .3-.8 .5-.4 .7,.3zM926.2,1926.9l-.5,.8-.5,.7-.8-.3-.5-.9 .3-.9 .6-.5 .9,.1zM903.1,1871.1l-.4,1.4-1.1,.9-1.4-.4-.8-1.2 .3-1.4 1.1-.8 1.2,.6zM1047.9,1885.4l-.3,.7-1,.5-1.4,.1-.4-.6 .3-.7 1.1-.6 1.4-.1zM1041.4,1863l-.3,.9-.5,.6-.8-.2-.4-1 .2-.8 .5-.7 .8,.2zM1106.4,1951.5l-.6,1.2-.9,.7-.6-1-.2-1.3 .5-1.5 1-.2 .6,.8zM946.7,1967.2l-.7,1-1,.6-1.3-.4-.2-1.5 .7-1.2 1.2-.5 1.2,.6zM1084.8,1937.1l-.6,1.2-1.1,.6-1-.6-.4-1.3 .4-1.4 1.2-.8 1.1,.9zM846.9,2173.8l0,1.9-.7,.2-.5-.8-.6-1.2 .5-1.4 .4-.9 .6,.7zM875.7,2198.1l-.4,.5-.9,.1-.7-.6-.4-.7 .6-.6 1,0 .8,.5zM943.6,2071l-.1,1.2-1,.6-1.3,.1-.2-1.5 .1-1.1 .9-.9 1.2,.6zM988.4,2027.9l-.5,1.1-1.2,.5-1-.7-.8-1.1 .7-1.1 1.2-.7 1.1,.9zM968.6,2171l-.6,.7-.9,.2-1-.3-.3-.8 .4-.7 1-.1 .8,.4zM842.1,2066.3l-.1,.8-1.3,.1-.9-.5-.5-.6 .6-.6 1-.4 .9,.6zM902.3,2187l-.5,1.1-1.2-.2-1-.4-.1-1.1 .5-.8 1.1-.2 .8,.6zM968.2,2069.6l.3,1.6-1,.8-1.1-.4-.8-1.3-.1-1.5 .9-.8 1.1,.3zM809.7,2018.5l.1,1.4-1.6,.7-1.6-.3-.4-1-.1-1.1 1.4-.8 1.5,.2zM900.1,2109.5l-.7,1.1-.8,.8-1.1-.5-.4-1.3 .3-1.4 1.1-.4 1.1,.3zM839.1,2123.1l-.4,.9-.8,.1-.8-.3-.5-.8 .6-.8 .8-.3 .7,.5zM791.8,2204.1l0,1.5-1.1,.1-1-.1-.8-1.1 .4-1.4 1-.4 1,.2zM976.7,2162.5l-1,.5-1.3,.3-1.3-.7-.4-1.1 1.1-.4 1.2-.3 1.4,.6zM792.5,2144.4l-.5,.6-.9,.2-1-.2-.5-.6 .3-.6 1.1-.3 1.1,.2zM964.7,2154.7l-.9,.7-1.5,.4-1.7-.5-.7-.8 1.1-.6 1.4-.3 1.5,.4zM1061.1,2152.3l-.6,.7-.8,.3-.7-.7 .3-.8 .2-1 .9-.2 .5,.8zM1066.4,2156.3l-1,1-1.2,.7-.7-1 .2-1.7 .9-1.1 1-.1 .9,.6zM1054.7,2206.7l-.3,.7-1.1,.3-1.1,.1-.6-.5 .4-.7 1.1-.4 1.1,0zM1092.2,2137.5l-.5,.9-.7,.5-.4-.9 .1-.9 .3-1 .7,0 .6,.5zM1077.6,2193.2l-.6,1.2-1.5,.1-1.1-.6-.5-1.1 .7-1.1 1.3-.7 1,1.1zM1049.8,2189.8l-.6,1.4-1.1,.3-1-.1-.7-1.2 .1-1.6 1.3-.1 1,.1zM190.1,2221.8l-.5,.8-.8,.7-1-.4-.4-.8 .2-1 1-.2 .9,.1zM130.7,2237.5l.1,1.9-.8,0-.6-.4-.4-1.4 0-1.7 .7-.4 .6,.6zM146.8,2269.8l-.7,1-1.4,.3-1.1-.8 .1-1.3 .7-1 1.2-.3 1.2,.8zM200.5,2239.8l-.4,1.7-1,.8-1-.8-.9-1.1 0-1.8 1.1-.5 1.1,.4zM155.5,2289.9l-.5,1.2-.7,.5-.7-.5-.3-1.2 .3-1.2 .8-.3 .7,.4zM150.2,2314.7l-.4,1.2-.6,.7-.7-.2-.2-1.7 .4-1.3 .5-.8 .7,.6zM198.9,2301.3l-.9,.5-1.2,0-1.3-.5-.6-.8 1-.5 1.2,.1 1.1,.5zM95,2340.1l-.5,.6-.7,.4-.8-.3-.4-.7 .4-.7 .8-.1 1,0zM167.3,2287.1l-1.1,.8-1.2,.3-1-.9 0-1.2 .9-.8 1.1-.2 1.1,.7zM152.1,2346.9l-.2,1.4-1.8-.1-1.3-.4-.8-1.1 .8-1.2 1.5-.3 1.2,.7zM177.5,2343.1l0,.7-.8,.1-.7-.3-.3-.6 .3-.6 .7-.1 .7,.1zM176.8,2284.6l-.7,.7-.8,.1-.7-.5 .1-1.1 .7-.4 .8-.6 .6,.7zM202.7,2268.4l-.2,1.3-.9,.4-1-.3-.3-1.2 .1-1.3 .9-.2 .9,.3zM208.6,2319l-.5,.7-1.4,.3-1.5-.3-.5-.8 .9-.5 1.2-.4 1.5,.3zM101.9,2303.2l-.4,1.2-.6,.5-.5-.7-.2-1.1 .4-1.3 .6-.3 .4,.6zM105.1,2299.3l-.5,1.1-1.2,.7-1.6,.1-.7-1.2 .7-1 1.1-1 1.7,.1zM106.4,2247l-.4,1.2-1.4,.6-1.4-.1-.6-.8 .2-1.1 1.2-.7 1.5,.1zM100.7,2253.7l-.3,.6-.6,.5-.9,0-.6-.5 .5-.6 .6-.5 .8-.1zM94.8,2217.7l-.5,.7-.8,.3-.5-.6-.2-.8 .4-.7 .8-.3 .6,.6zM128.9,2250.6l-.3,1.4-.6,.5-.7-.4-.2-1.5 .1-1.5 .7-.6 .7,.6zM173.6,2268.7l-.4,1.1-.8,.7-1.2-.1-.5-1.3 .2-1.2 1-.7 1.1,.5zM203.3,2261.2l-.7,.9-1.5,.4-1.3-.7-.2-1.1 .5-1 1.5-.3 1.1,.9zM94.2,2217l-.7,.9-1,.6-1.1,.1-.9-.6 .3-.9 1.2-.6 1.2,0zM146,2281.9l-.2,1.5-1,.4-1-.4-.5-1.4 .3-1.4 1-.7 .9,.9zM118.5,2314.7l0,1.2-1.4,.5-1.2-.2-1-.8 .5-1.1 1.2-.7 1.2,.4zM249.8,2384.9l-.4,.7-1.9-.3-1.2-.3-1.3-.7 1.1-.4 1.6,0 1.4,.3zM350.7,2290.5l-.5,1.4-1.4,.8-1.5-.4-.5-1.1-.1-1.4 1.6-.5 1.5,.1zM382.1,2279.7l-.7,1-1.4,.6-1.7-.4 .1-1.5 .4-1.2 1.5-.4 1.5,.6zM315,2246.1l-.9,.4-1.4,.3-1.6-.4-.3-.6 .5-.5 1.5-.2 1.4,.4zM357.7,2215.3l-.6,1.3-1,1.3-1-1.2-.4-1.4 .4-1.3 1-.7 1.2,.5zM294,2349.3l-.6,.8-1.5,.1-1.7-.3-.5-1 1-.8 1.4-.2 1.7,.4zM278.4,2355.4l-.6,.9-1.4,.1-1-.7-.6-.8 .4-1.2 1.5,0 1,.8zM214.5,2315l-.8,.4-1.2-.1-.9-.5-.7-.9 1.1-.4 1.1-.1 1,.7zM362.1,2231.5l-.9,.3-1.5,0-1.2-.8-.3-.7 .6-.4 1.4,.2 1.4,.6zM224.5,2297.6l-.5,.8-1.2,.3-1-.8-.1-1 .6-.7 1.2-.1 1.2,.5zM261.7,2377.4l0,.7-.8,.3-.8-.4-.2-.5 .1-.7 .8-.3 .9,.2zM339.9,2272l-.7,1.4-1.2,.3-1.1-.4-.1-1.6 .5-1.3 1.1-.8 1.2,.9zM236.8,2353.5l-.4,.6-1.9,.1-1.6-.1-.7-.5 .8-.5 1.5-.4 1.7,.2zM308.7,2271l-.6,1.1-1.4,.7-1.7,.3-1-.9 .8-1.1 1.2-1.1 1.6,.3zM251.2,2244.5l-.5,.5-.5,.4-.7-.3-.2-.6 .4-.5 .5-.3 .6,.3zM379.4,2368.1l-.7,.9-.8,.4-.6-.7 0-1.2 .6-1.1 .8-.1 .6,.6zM281.7,2389.7l-.5,.7-.8,.7-.7-.9-.1-1 .5-.9 .9-.2 .8,.6zM370.1,2297l-.7,1.2-1.2-.1-.9-.7 0-1.3 .8-1.3 1.2,.1 .9,.7zM213.7,2245.5l0,1.1-1,.4-1-.1-.7-.8 .4-1 .8-.6 1.1,.1zM406,2338.7l-.5,1.3-1.5,.7-1.2-.8-.7-1.1 .5-1.3 1.4-.3 1.7,0zM409.7,2242.3l-.1,1.4-1.3,1.1-1.6-.5-1-.9 .1-1.5 1.4-1 1.5,.5zM365.3,2290.6l.1,1.3-.9,.8-.9-.7-.7-.9 .1-1.4 .9-.7 .9,.7zM318.6,2352.3l-.6,1.2-.7,1.3-1.1-.8-.5-1.6 .4-1.6 1-.6 .9,.6zM359.2,2273.7l.1,1.7-1.7,.8-1.7-.4-.9-1.3 .5-1.5 1.3-1.1 1.6,.7zM398.6,2364.5l-.7,.7-1.1,.1-1-.4-.4-.7 .4-.8 1.2-.1 1,.4zM368.1,2526.3l-.3,.8-.8,.4-.8-.2-.6-.6 .2-.8 .9-.4 .7,.3zM306.8,2544.6l-.6,1.3-1.1,.5-1.1-.5-.7-1.4 .9-1.1 1-.5 1.2,.3zM363.5,2501.5l-.3,.8-1.4,.1-1.2-.3-.3-.9 .4-.8 1.3-.1 1.1,.5zM284,2463.6l-.5,.5-.6,.4-.8-.3 0-.7 .2-.5 .7-.2 .7,.2zM356.7,2488.6l-.8,.9-1.4,.3-1.6-.3-.5-1 .5-1.1 1.7-.2 1.2,.6zM389.3,2481.8l-.8,1-1.1,.9-1.7-.2-.5-1 .2-1.1 1.5-.6 1.6,.1zM407.5,2516.5l-.8,.6-1.6,.2-1.5-.4-.3-.5 .1-.6 1.7-.1 1.3,.3zM213.4,2499.7l-.2,1.1-1.4,.3-1.5,.2-.5-1.2 .5-1 1.2-.8 1.4,.4zM374.2,2434.9l-.6,.5-.8,.3-.5-.7-.2-.8 .6-.7 .8,.1 .6,.5zM256.7,2431.7l-.1,1.1-1.3,.3-1.1-.4-.7-1 .7-.9 1-.5 1.3,.2zM350.6,2520.9l-.8,1.2-1,.9-1.2-.4-1.1-.8 .3-1.3 1.3-.7 1.2,.5zM271.3,2510.1l-.8,1-1.3,.2-1-.8-.2-1.4 .9-.9 1.3-.2 .9,.8zM244.1,2431.8l-.1,1.5-1,1.2-1.3-.9-1-1.3 .4-1.6 1.1-1 1.4,.5zM311.5,2536.1l-.4,.9-1.6-.1-1.1-.9-.5-1.1 .8-.7 1.6,.2 1.5,.8zM312.1,2556.6l-.2,1.3-1.3-.1-.9-.3-.6-1 .5-1.1 1.2-.4 1.1,.4zM305.6,2509.5l-.4,.8-.6,.4-.7-.3-.2-.8 .2-.8 .6-.4 .6,.4zM269.6,2539.9l-.7,1.3-1.2,.7-.9-.9 .2-1.6 .5-1.5 1.1-.5 1.1,.8zM221.2,2498.7l-.8,.2-.9,0-.9-.6-.3-.7 .7-.3 1,.1 .8,.6zM287,2549.6l-.4,1.4-1.2,1.2-1.6-.7-1-1.5 .9-1.4 1.2-1.1 1.7,.4zM332.6,2512.7l-.2,1.6-1.5,.5-1.3-.6-.4-1.3 .1-1.5 1.4-.5 1.3,.6zM94.7,2435.8l-1.3,.5-1.4,.3-1.2-.9-.4-1.2 1-.7 1.5,0 1.5,.7zM125.8,2559.9l-.2,.8-1,.2-.6-.7-.3-.7 .3-.9 1,.1 .7,.4zM113.3,2481.6l-.1,.9-.9,.3-1-.2-.2-1 .2-.8 .9-.5 .9,.3zM117,2527.6l-.4,1.2-.7,.3-.7-.3-.4-1.2 .5-1.2 .7-.7 .6,.8zM188.2,2525.9l-.4,.7-1.2,.2-1.1,0-.4-.5 .3-.6 1-.3 1,.2zM64.3,2470.5l-.6,.8-1.6,.5-1.8,.2-.6-.6 .8-.8 1.3-.5 1.6-.1zM181.7,2423.1l.2,1.7-.8,.9-1.2-.4-.7-1.6 .2-1.3 .4-1.6 1.2,.9zM199.7,2562.2l-.9,1.1-1.6-.1-1.3-.7-.6-1.4 1.1-1.2 1.6,.4 1.6,.4zM124.3,2493.4l-.3,.6-1.4-.2-1-.5-.3-.6 .4-.6 1.3,.2 1.3,.5zM189.2,2510.6l.2,1.3-1,.7-1.1-.1-1.1-.9 .3-1.4 .7-1 1.1,.6zM633.2,2238.4l-.6,1.1-.8,.6-1.1-.2-.2-1.4 .1-1.2 1-.4 1,.2zM617.1,2336.7l-.6,.7-1.7,0-1.5-.4-.5-.7 .5-.6 1.6,0 1.2,.5zM586.1,2348.9l-.4,.6-.9-.2-.9-.4 .2-.8 .4-.5 .9,0 .7,.6zM673.6,2234.3l-.2,1.5-.9,1-1.4-.3-.9-1.1 0-1.5 1-1.2 1.4,.7zM574.8,2390.2l.4,1.6-.6,.9-1-.7-.8-1.1-.2-1.6 .4-1.1 1,.7zM657.8,2280.3l-1,1-1,.4-1.1-.5-.3-1.3 .5-1.3 1.2,0 .9,.6zM605.8,2362.6l-.7,.8-.9,.5-1.1-.3-.2-1.2 .4-1 1-.1 1.2,0zM606.8,2376.5l-.8,1.7-1.2-.3-.8-.9-.2-1.6 1.1-1.4 1.2,.1 1,.7zM643.6,2390.1l-.7,1.4-1.1,.8-1.4-.3-.7-1.5 .6-1.4 1.2-.7 1.2,.4zM581.5,2387.5l-.2,1.7-1.2,.5-1.3-.5-.3-1.7 .2-1.8 1.4-.4 1,.8zM650.7,2266.1l-.3,1.5-.8,.5-.6-.8-.5-1.3 .4-1.5 .8-.7 .6,.9zM596.3,2344.1l-.1,.8-1.2,.8-1.3-.1-.7-.3 .4-.8 1-.7 1.3-.1zM591.5,2345.5l-.2,.7-.9,.6-1.1-.3-.4-.5 .1-.6 1-.5 1.1,.1zM651.5,2350.7l-.5,1.1-1.3,.5-1.3-.5-1.3-.8 1-1.1 1.4-.5 1.3,.4zM680.1,2360.9l-.4,.8-.8,.4-.6-.5 0-.9 .2-1 .8-.4 .7,.6zM453.9,2308.6l-.4,1-1,.3-1.1,.2-.5-.8 .2-.9 1-.6 .9,.3zM557.3,2252.1l-.6,.6-.8,.4-1-.1-.3-.6 .1-.7 1-.4 1,.2zM553.6,2319.3l-.3,.7-1.1,.5-1.2-.1-.3-.6 .2-.7 1.1-.3 1.2-.1zM438.3,2306.5l-.5,.6-1.2,.5-1.1-.6-.9-.7 .9-.6 1.3-.4 1.4,.4zM417.4,2260.1l-.6,1.1-.9,1.3-1.7-.4-.5-1.4 .3-1.3 1.3-.7 1.6,0zM493.4,2284.7l-.2,1.5-1.2,.5-1.1-.5-.5-1.5 .5-1.4 1-.6 1.3,.5zM663.3,2424.2l-.3,1.5-1.4,.4-1.2-.5-.8-1.1 .6-1.2 1.1-1 1.3,.7zM573.8,2421l-.1,.9-1.6,.6-1.5-.6-.7-.7 .5-.9 1.5-.5 1.6,.4zM641,2554.5l-.2,1.1-.5,.8-.5-.7-.4-1.1 .1-1.3 .6-.1 .6,.2zM686.7,2421.7l.1,1.7-1.3,.8-1.3-.5-1.4-.9 .3-1.7 1.3-.5 1.4-.4zM698.6,2504l-.3,.6-1.2,.1-.8-.4-.6-.6 .5-.6 1.1,0 .9,.2zM578.4,2440.6l-.5,1.4-1,.6-1-.7-.2-1.6 .5-1.3 1-.5 1,.4zM921.5,2431l-.4,1.7-1.7,.4-1.5-.8-.6-1.5 .6-1.6 1.7-.6 1.6,.8zM991.7,2503.8l-.6,.8-1.1,.5-1.5-.1-.4-.9 .8-.7 .9-.7 1.4,.3zM885,2496.3l-1.2,1.3-1.6,.1-1.3-.8-.7-1.6 1.3-1.1 1.6-.8 1.3,1.3zM824.1,2493.6l-.2,1-.7,.6-1-.2-.3-.9-.2-1 .9-.3 1-.1zM848.2,2440.1l-.6,1-.5,.9-1-.4-.5-1.1 .3-1.1 .7-.5 1,.1zM943.6,2474.9l-.7,.4-1.5-.3-1.4-.6-.3-.7 .6-.5 1.5,.3 1.5,.7zM933.3,2560.2l-1.2,.4-1.1,.5-1.2-.6-.8-.7 1-.6 1.2-.1 1.6,.2zM776.8,2529.2l-.4,1.1-1.1,1.1-1.7,.1-.6-1-.3-1.1 1.5-1 1.6,.2zM874.6,2473.7l-.4,1.4-1.5,.8-1.6-.8-.3-1.7 .6-1.5 1.6-.9 1.7,.9zM918.9,2518l-.9,1.1-1.4,.1-1.3-.6 .1-1.5 .9-1.1 1.3-.4 .9,1zM928.3,2555.3l-.1,1.1-1.3,.7-1.5,0-.8-.8 .2-1.2 1.4-.7 1.5,.1zM859.5,2453.4l-1.3,.7-1.3-.2-1.4-.6 0-1.4 1-.8 1.4,.2 1,.8zM792.5,2562.9l-.3,1.4-1.3,.2-.8-.9-.4-1.2 .7-1.4 1.2-.2 1.3,.5zM892,2538.3l-1.2,.3-1.4-.1-1.3-.8-.1-.9 .8-.4 1.3,.2 1.2,.7zM838.7,2505l-1,1.3-1,.9-1.4-.2-.8-1.2 .2-1.4 1.4-.6 1.3,.2zM933.3,2428.2l-.6,1.6-1.4,0-1.1-.9 .2-1.6 .7-1.5 1.5-.2 .8,1.2zM966.6,2549.4l-.6,1.4-1.2,.4-1-.8-.1-1.5 .8-1.1 1-.8 1,.9zM878.6,2488.4l-.7,.9-1.1,.3-1.1,.1-.5-.8 .2-.9 1.2-.2 1.1-.1zM934.6,2502.7l-1,1.2-1.6,.2-1.2-1.1-.2-1.6 1.2-.9 1.6-.9 1.4,1.4zM981.5,2521.1l-.6,1-1.1,.9-1.6,0-.7-.7 .5-.9 1.2-.6 1.6-.5zM770.4,2464.4l-.1,1-.7,.7-1,0-.7-1 .4-.9 .5-.9 1,.2zM764.2,2466.8l-.5,1.1-1.5,.4-1.4-.2-.6-1 .2-1.2 1.6-.5 1.4,.5zM911.2,2471.4l.4,1.6-.3,1.2-.9-1-.8-1.2-.2-1.6 .4-.8 .8,.3zM784.4,2457.3l-.2,1.3-1.2,.4-1.2-.1-.7-1.1 .3-1.3 1.1-.6 1.1,.5zM803.1,2408.2l-.6,.5-1,.2-1.1-.2-.4-.6 .5-.6 1-.1 1.2,.2zM906.6,2551.2l-.5,.7-.6,.1-.6-.4-.2-.7 .3-.7 .7,.1 .7,.2zM941.1,2525.2l0,1-.7,.4-.8,0-.6-.7 .1-.9 .6-.5 .9-.2zM922.1,2419.2l-.3,.8-1.6-.1-1.2-.3-.4-.8 .5-.7 1.3,0 1.3,.4zM876.2,2498.2l-.5,1-.8,.8-1.2-.2-.9-.6 .3-1.1 1-.6 1.2,0zM896.1,2508.5l-.4,1.2-.7,.1-.8-.1-.1-1.5 .6-1.1 .7-.5 .6,.6zM945.9,2378.7l-.5,1.6-1.4-.3-1.2-.3-.4-1.5 .9-1.2 1.2-.6 1.4,.7zM779.1,2264.1l-.3,1.2-.9,.9-1.2-.5-.6-1.2 .3-1.3 1-.4 1.2,.1zM788.7,2359.7l-.5,.5-.8,.1-.8-.3-.1-.7 .4-.5 .8-.1 .7,.3zM927.8,2329.2l-.4,.9-1.3,.2-1.3,0-.6-.7 .6-.8 1.1-.6 1.4,.2zM915.9,2338l-.2,.7-.4,.4-.6-.1-.4-.7 .1-.8 .5-.3 .7-.2zM988.7,2291.3l-.1,1.3-.8,1-.9-.8-.4-1.3 .2-1.2 .7-1 .9,.8zM978.4,2266.9l-.5,.8-.8,.2-1-.1-.1-1.1 .6-.8 .7-.3 .8,.3zM797.1,2366.2l-.4,.9-1,.6-1-.4-.5-.9 .4-.8 .9-.7 1.1,.5zM905.9,2311.8l-.1,1.4-.5,1-1.1-.2-.5-1.7 0-1.5 .6-.9 1,.3zM839.7,2296.1l-.3,1.2-1.2,.4-.8-.9-.4-.9 .3-1.3 1.2-.3 1.1,.6zM819.4,2268.5l-1,1-1.6-.2-1.4-.8-.4-1.4 1.2-.8 1.6-.1 1.5,1zM973.1,2372.5l-.6,.8-.8,.3-.8-.4 .5-1.2 .4-1.1 .8-.1 .6,.6zM780.4,2389.5l-.7,1.2-1.6,.4-1.6-.8 .1-1.5 .4-1.6 1.9,0 1.4,.9zM861.3,2365.8l-.9,.5-1.4,0-1-.6-1.1-.6 .9-.5 1.4,.1 1.5,.4zM879.9,2307.7l-.1,1-.5,.3-.6-.2-.3-1.1 .2-1 .6-.1 .6,.1zM890.1,2276.9l-.1,1.7-1.2,1.1-1.6-.2-.7-1.5 0-1.5 1.1-1.2 1.6,.3zM1035.3,2267.1l-.3,1.1-1.2,.5-1.3-.2-1-.9 .8-1 1.1-.7 1.3,.4zM946.1,2349.1l-.7,1-1.2,.5-.9-.9-.1-1.2 .5-1.1 1.3-.3 1.2,.7zM1015.5,2268.6l-.2,.9-1.4,.3-1.3-.1-1-.7 .9-.9 1.2-.4 1.3,.1zM773,2339.7l-.5,.8-.9,.6-1.1-.6-.3-.9 .2-1 1.2-.2 1.1,.4zM1027.6,2522.5l-.1,1.5-.7,.7-.7-.6-.3-1.6 .3-1.3 .7-1.1 .7,.8zM1051.3,2506.4l-.8,1.2-1.6-.3-1.3-.7-.4-1.4 1-.8 1.6-.4 .8,1.3zM1066.4,2518.1l-.1,.7-1.3,.6-1.3-.1-.6-.5 .1-.8 1.4-.4 1.3,0zM1069.6,2494.9l-.6,.9-1.5,.4-1.3-.8-.5-1 .8-.7 1.3-.5 1.2,.9zM1020.6,2508.9l-.7,.9-1.4,.6-1.5-.3-.7-.9 .9-.7 1.1-.6 1.6,.2zM1038.1,2457.5l-1.1,.9-1.4,.1-1-.9 0-1.3 .9-1 1.3-.1 .9,.9zM1096.2,2506.9l-.3,.8-1.3,.6-1.4,.2-.9-.5 .3-.9 1.5-.6 1.5-.3zM1045,2457.5l-.7,1.1-1.4,.7-1.4-.8-.5-.9 .3-1.2 1.6-.4 1.3,.6zM1018.3,2463.9l-.3,.7-1.7,.1-1.4-.4-.7-.6 .4-.8 1.8-.1 1.7,.3zM1081.7,2459.4l-1.1,.8-1.4,.4-1.5-.1-.9-.7 .7-.8 1.6-.3 1.6,0zM1003.4,2472.8l-.6,1.6-1.5,.3-1.4-.5-.3-1.5 .4-1.4 1.4-.6 1.3,.7zM1025.8,2472.2l-.8,1.1-.9,.7-1.1-.6-.4-1.2 .4-1.3 1.1-.6 1.1,.5zM1044.7,2492.5l-.5,.8-.8,.1-.8-.3-.1-.8 .3-.9 .8-.1 .7,.4zM1105.3,2509.2l-.5,.7-1,.6-1.2,.2-.7-.4 .3-.7 1-.8 1.2,.1zM1075.1,2478.5l-.6,.7-1.3,.1-1.1-.5-.8-.9 1-.7 1.3-.2 1.4,.5zM240.5,2682.6l-.1,.9-.6,.6-.6-.6-.5-.8 .3-.9 .6-.4 .7,.4zM252.3,2621.9l-.7,.6-1.7-.2-1.1-.9-1-.9 1.3-.3 1.5,0 1.5,.8zM229,2601.7l-.6,1.3-1,.6-.4-1.2-.3-1.3 .7-1.4 1.1-.4 .6,.9zM252.2,2733l-.4,1.4-1.1,1.1-1.5-.2-1-1.3 .5-1.4 1-1.1 1.8-.2zM242.9,2594.9l-.5,1.3-.8,0-.4-.6 .1-1.2 .6-1 .8-.5 .4,.8zM297.3,2694.6l-.6,.8-1.2,.5-1.5,0-.6-.8 .2-1 1.6-.2 1.6-.2zM236,2572l-1,.8-1.6,.1-1.5-.7-.5-1.1 .9-.9 1.6,.1 1.7,.5zM255,2628.8l-.8,1.2-1.1,.7-1.1-.8-.1-1.5 .7-1.1 1-.7 1,.7zM288.2,2590.2l-.4,1.3-.8,1-.8-1-.3-1.3 .2-1.5 .9-.4 .7,.7zM282.1,2718.8l.1,1.5-.7,1-1-.6-.7-1.4 .3-1.4 .5-1.4 1.1,.9zM274,2715.3l-1.5,.1-1.5-.2-1.5-.7-.7-.8 1-.2 1.6,.3 1.4,.6zM292.8,2680l-.1,1.4-1.1,1.1-1.5-.5-.9-1.1 .4-1.4 .9-1.3 1.5,.6zM254.9,2583.5l-.4,1.1-1,.6-1.2-.4-.4-1 0-1.3 1.3-.4 1.1,.4zM258.4,2738.7l-.6,.9-.8,.3-.7-.5-.1-1.1 .5-.9 .8-.4 .7,.7zM289.9,2594.1l0,1.6-.8,1-1.1-.7-.8-1.3 .3-1.4 .5-1.3 1.1,.8zM344.9,2809.6l-.3,.9-.9,.6-1.2-.4-.3-1 .5-1 1-.3 1.1,.2zM333.4,2661.9l-.5,1-.8,.9-.4-1-.1-1.2 .7-.9 .6-.7 .6,.6zM334.5,2646.4l-.1,.7-.8,.2-.8,.2-.3-.6-.1-.6 .9-.3 .8,0zM378.6,2833l-.5,1.2-1.2,.7-1.6,.1-.7-1.1 .7-1 .9-.9 1.4,.2zM396.7,2727.7l-.6,1.1-1.2-.1-.8-.5-.3-1.1 .5-1.1 1.2,0 .9,.6zM335.9,2711.9l-.7,1.4-1.6,.1-.9-1.1-.7-1.3 1.2-1.1 1.4-.5 1,1.2zM321.1,2805.1l-.6,.6-1.4-.1-1.1-.7-.2-.8 .6-.6 1.4,0 .7,.8zM313,2713.5l-.6,.7-.7,.2-.8-.2-.3-1 .8-.7 .6-.4 .8,.4zM397.1,2822.3l0,1.1-1.3,.8-1.5-.4-.6-.9 .3-1.1 1.3-.9 1.5,.3zM329.8,2667.3l-.3,1-.8,.6-.9-.3-.6-1 .1-1.2 1-.2 1.1-.1zM340,2722.4l-.4,1.5-1.3,.7-1.5-.4-.5-1.5 .2-1.5 1.4-.8 1.5,.5zM358.3,2812.6l-.7,1.2-1.1,.9-1.5,.1-.9-.8 .2-1.2 1.3-.8 1.3,.2zM405.6,2718.8l-1,1.3-.9,.9-1.5,0-1.1-1.3 .7-1.5 1.1-.9 1.6,.1zM379.9,2726.1l-.5,.7-1.3,.4-1.4,.2-.3-.5 .2-.7 1.2-.4 1.4-.1zM317.4,2776.1l-.5,1.4-.9,.6-.9-.7-.1-1.5 .5-1.3 .9-.6 .8,.7zM381.3,2656.4l-.5,1-.7,.8-.5-.8 .2-1.3 .3-1.3 .8-.5 .5,.8zM406.6,2691.1l-.6,.6-1,.2-1.1-.5 .2-.9 .4-.7 1.1-.1 .9,.6zM369.2,2784.3l-.1,.9-1.3,.5-1.2-.1-.9-.5 .4-.9 1.2-.7 1.2,.2zM378.8,2740.1l-1.4,.6-1.2,0-1.1-.6-.4-1.2 1-.7 1.3,0 1.1,.6zM314.5,2821.4l-.9,1.2-1.4,.7-1.6-.6-.9-1.2 .9-1.3 1.5-.7 1.3,.8zM322.6,2660.2l-.3,.7-1,.3-1-.4-.6-.7 .7-.7 1-.3 .9,.3zM345.2,2743l-.5,1-.9,.2-.8-.3-.2-1.2 .4-1.1 .9-.4 .6,.9zM325.5,2679.6l-.3,.8-1.5,.2-1.3-.5-.6-.9 1-.6 1.2-.3 1.3,.4zM342.8,2816.9l.5,1.5-.5,.4-.7-.1-.6-1.3-.3-1.4 .4-.5 .6,.3zM373.7,2820l.2,1.2-.5,1-.8-.7-.6-1 0-1.2 .4-.9 .8,.4zM324.6,2768.8l-.4,1.5-1,0-1-.2-.1-1.5 .3-1.4 1-.5 .7,.8zM387.2,2671.1l-.6,1.4-1.3,.6-1.3-.5-.6-1.1 .2-1.5 1.4-.6 1.2,.7zM360.3,2681.9l-.3,1-.9,.6-.6-.8-.6-.9 .5-1 .8-.5 .9,.5zM318.3,2810.8l-.4,1.1-.6,.9-.9-.5-.8-.7 .1-1.1 .9-.6 .9,.2zM316,2683.7l-.3,1.2-.9,.2-.9-.2-.7-1 .5-1 .9-.5 .8,.4zM333.8,2846.5l-.4,1.5-.7,.3-.7-.3 0-1.7 .6-1.3 .6-.8 .6,.8zM405.8,2673.1l-.6,.9-1.4,.6-1.6-.1-1.1-.6 1-1 1.3-.6 1.8-.1zM383.7,2832.5l-.8,.7-1.2,.3-1.3,.1-.7-.5 .6-.6 1.2-.3 1.2-.2zM363.7,2852.9l-.5,1-1.2,.7-1.3-.4-.4-1 .1-1.2 1.4-.4 1,.6zM389.7,2649.8l-.9,.8-1.2-.2-1-.7 .1-1 .5-.9 1.3,.1 1,.7zM389.1,2665.9l-.1,.7-.8,.5-.9,.1-.6-.5 .2-.7 .7-.4 .9-.1zM396.1,2834.6l-.4,.9-1.4,.7-1.6-.2-.8-.6 .3-1 1.7-.4 1.5,0zM349.8,2697.2l-.8,.9-1.4,.4-1.6-.1-.5-.9 .5-.9 1.5-.6 1.7,.4zM371.4,2736.4l-.7,.8-1.1,.4-1.3-.2-.5-.9 .6-.9 1.2-.3 1.3,.2zM335.7,2709.4l-.6,1.1-1.7,.3-1.7,.1-.8-1 .7-1.1 1.5-.6 1.6,.4zM434.4,2771.8l-.5,.8-1.6,.4-1.6-.2-.5-.7 .7-.6 1.3-.6 1.8,.1zM510.9,2675.5l-.7,.4-1.7-.4-1.5-.7 .1-.6 .3-.5 1.6,.4 1.3,.7zM492.1,2676.9l-.7,1.3-1,.7-1.3-.3-.7-1.2 .3-1.5 1.3-.3 1.1,.3zM551.7,2762.9l.1,.9-.6,.4-.7,0-.3-.9 0-.7 .3-.7 .7,.3zM541.4,2902.7l-.7,.9-.7,.4-1-.1-.1-1.4 .4-1.2 .9-.1 .9,.2zM443.6,2861.7l-.8,.9-1.1,.6-1.3,0-.7-.7 .4-1 1.2-.7 1.2,.4zM468.7,2851.8l-.2,1.3-1.4,.7-1.5-.1-.9-1.2 .6-1.2 1.2-1.2 1.5,.6zM435.1,2896.5l-.5,1-.7,.7-.7-.5-.2-1.4 .6-1.1 .7-.6 .7,.5zM515,2827.8l-.6,.7-1.5,.4-1.5-.7-.4-.9 .8-.6 1.4-.3 1.8,.5zM448,2828.4l-.1,.6-.7,.6-.7-.4-.5-.4 .2-.6 .6-.5 .8,.2zM472.6,2665.5l0,1.3-1.4,.7-1.5-.3-1-.9 .5-1.2 1.2-1.1 1.3,.7zM466.8,2782.8l-.7,1.8-1.9-.6-1.1-1.1-.2-1.5 1-1.3 1.7,.1 1.1,1.1zM477.9,2738.2l-.2,.9-.5,.7-.8-.3-.6-.8 .3-.9 .5-.6 .9,.2zM466.9,2841.8l-.1,.9-.6,.8-.8-.4-.4-1.1 .3-1.1 .6-.6 .9,.1zM559,2809.7l-.2,1.1-.6,.7-.6-.7-.3-1.1 .3-1.2 .6-.6 .6,.7zM524.3,2757.4l-.4,.8-.5,.9-1-.3-.1-1.2 0-1 .7-.4 .9,.2zM432.7,2738.6l-1,.6-1.1,.2-1.6-.3 .2-1 .5-.6 1.2-.3 1.2,.5zM555.1,2692.7l-.1,.8-1.1,.3-1.1-.2-.7-.7 .7-.7 1-.3 1.1,0zM462.9,2880l-.8,.8-.8,0-.7-.4 .1-1.1 .6-1 .9-.1 .5,.7zM508.8,2884.9l-.2,1.7-1.6,.9-1.4-1.1-1.4-1 .7-1.6 1.6-.9 1.4,.8zM532.7,2737.1l-.3,1-.6,.4-.7-.5-.1-1 .3-1 .7-.6 .5,.8zM518.7,2751.3l-.1,1.1-.8,.4-1,.1-.4-.9 .1-.9 .6-.5 .9,.1zM452.2,2829.7l0,.7-.7,.5-1,.1-.2-.7 0-.7 .7-.6 .8,.2zM518,2688l-.3,.8-1.4,.5-1.4,.5-.3-.7-.1-.7 1.3-.6 1.4-.2zM478.9,2799.9l-.2,.7-1,.6-1.2-.1-.1-.8-.1-.8 1.1-.5 1.1,.2zM547.2,2687.9l-1.2,1.1-1.2,.9-.6-1.4-.3-1.6 1-1.5 1.2,0 1,.8zM533,2711.9l-.5,1.4-.6,.8-.7-.6-.4-1.5 .2-1.4 .6-1 .8,.9zM529,2677.2l-.4,1.6-1,1-1.7,.3-.9-1.6 .2-1.7 1.1-.9 1.6-.1zM525.1,2772.3l-.6,1.5-1.4,.7-1.4-.4-1.1-1.3 .7-1.6 1.4-.7 1.7,.1zM500.2,2764.8l0,.9-1.2,.3-1.1,.1-.4-.8 .2-.9 1-.4 1,.1zM421.9,2851l-.6,.5-1.2-.2-1-.5-.2-.8 .6-.5 1.2,.1 1.1,.6zM521.5,2701.1l-.2,1.4-1.1,1.4-1.6-.6-1.3-.8 .6-1.4 1-1.1 1.6,0zM515.8,2875.1l0,1.1-.6,.3-.7-.2-.4-1 .3-.9 .4-.6 .7,.3zM472.5,2821.6l-.3,1-1,.7-1.2-.5-.5-.8 0-1.1 1.4-.4 1.2,.3zM520.8,2715.1l-.1,1.2-.7,.4-.6-.5-.3-1.1 .3-1.2 .6-.5 .8,.4zM480.4,2823.2l-.2,1-.7,.5-1-.1-.4-1.1 .2-1 .8-.4 1,0zM540.3,2698l-.3,1.3-1.1,.6-1.4-.1-.7-1.2 .4-1.3 1.1-.6 1.2,.1zM426.5,2854.4l-.5,1.2-1.4,.5-1.4-.4-.6-1.3 .5-1.4 1.5-.3 1.5,.2zM482.1,2833.4l-.7,1-.9,.4-.8-.7 .1-1.4 .8-1 .9-.2 .9,.4zM474.4,2749.6l-.1,.7-.7,.4-.9,.1-.5-.6 .2-.7 .7-.4 .9,0zM440,2877.5l-.4,1.3-.7,.9-.3-1.1 .1-1.3 .3-1.7 .7-.1 .6,.3zM473.2,2687.6l-.5,.6-1.4,.1-1.3-.5-.3-.7 .5-.6 1.4,0 1.4,.4zM455.3,2668.8l.1,1.6-.6,1.1-1-.7-1-1.2 .2-1.5 .6-.9 .9,.3zM421.2,2735.1l-.3,1.2-1.3,.6-1.5-.4-.3-1.1 .1-1.2 1.3-.7 1.4,.5zM427.4,2904.3l-.1,1.3-1,.8-1.4-.1-.7-1.2 .3-1.2 .8-1.2 1.5,.4zM502,2874.1l-.3,.6-1.4,.3-1.1-.8-.7-.6 .5-.6 1.5,0 1.3,.5zM424.6,2849.5l-.3,.8-1.3,.5-1.5-.4-.2-.8 .1-1 1.5-.4 1.4,.4zM419.8,2703.6l-.8,1.3-1.4,.8-1.2-1.1-.3-1.5 .6-1.7 1.5,0 1.3,.5zM559.6,2715.3l-.5,1.5-.7,.4-.5-.5 .2-1.7 .3-1.7 .7-.4 .3,1zM422.3,2883.9l-.1,1.1-1,.6-1.1-.3-.3-1.1-.1-1.1 1.1-.6 1.1,.3zM412.2,2819.2l-.7,.3-1.1,0-1-.6-.2-.7 .7-.3 1.1,0 .9,.6zM505.3,2743.3l-.7,1.7-1.2,.2-.4-1.3-.5-1.3 1-1.4 1.1-.4 .8,.9zM513.4,2817.8l-.3,1.2-1.5,.6-1.6,.1-.8-.9 .3-1.1 1.4-.8 1.5,.2zM443.9,2857.8l-.7,.9-.9,.6-.9-.7 .1-1.4 .6-.9 1-.8 .6,1.1zM496.3,2831.1l-1,.2-1.3,.2-1.2-.8-.1-.9 .8-.4 1.3-.1 1.1,.9zM416.5,2860.5l-1,1-1.3-.2-1.3-.3-.3-1.3 .7-1 1.3,.1 1.1,.5zM452.5,2871.1l0,1.5-.8,.4-.8-.4-.6-1.1 .2-1.4 .7-.2 .8-.1zM459.9,2816.2l-1.2,1.2-1.5,.8-1.4-1-.5-1.8 1.1-1.4 1.6-.6 1.2,1.3zM530.9,2841l-.5,.8-1.2,.9-1.6,.2-.9-.5 .7-.8 1.2-.8 1.6-.3zM459.9,2766.8l-.3,1.1-1.3,.7-1.5,.1-.7-.7-.2-1.1 1.6-.7 1.4,.2zM505.6,2766.1l-.6,1.3-1.3,.5-1-.8-.5-1.3 .4-1.5 1.4,.1 1.2,.4zM456.7,2834.8l-.6,1.4-1,.8-.6-1.2-.3-1.3 .5-1.7 1.1-.5 .6,1.1zM543.4,2802.6l-.4,.6-.8,.4-1-.3-.3-.7 .3-.6 1-.4 .9,.4zM526,2897.1l-1,1.1-1.2,.6-.8-1-.1-1.4 .7-1.2 1.2-.4 .8,.9zM532.1,2706.7l-.4,1.7-.6,0-.6-.2 0-1.7 .5-1.6 .6-.3 .6,.2zM512.1,2838.4l-.5,1-1.2,.4-.8-.8-.9-.9 1-.9 1-.4 1.1,.4zM549.5,2885.8l-.7,1.3-1.7,.2-1.2-1-.3-1.5 .8-1.3 1.7-.4 1.3,1.2zM501.5,2800.4l-.4,.6-.8,.2-.9-.3-.2-.7 .4-.5 .8-.3 1,.4zM543.2,2776.9l-.6,.9-.7,.7-.4-.8 .2-1.3 .7-.9 .7-.5 .4,.6zM427.3,2760.6l-.4,.8-.8,.6-.7-.6-.5-.8 .2-1.1 1-.3 .8,.5zM444,2791.4l-.6,.6-.7,.3-.7-.4-.5-.8 .5-.8 .9,0 .7,.3zM442.3,2730.5l-.6,1.7-.8-.1-.5-.7-.1-1.4 .7-1.6 .9-.5 .3,1.3zM444.8,2804.2l-.3,1.3-1.1,.6-.9-.8-.2-1.3 .2-1.4 1.2-.3 1.1,.5zM483.1,2826.4l-.5,1.1-1.4,.8-1.7-.5-.6-1 .5-1.1 1.5-.7 1.6,.4zM480.8,2720.6l.1,1.5-.7,1-1.3-.1-.8-1.8 .2-1.6 .7-1 1.3,.2zM614.8,2850.2l-.8,1.3-.9,1.2-1.7,0-1.1-1 .3-1.3 1.3-1.1 1.8,0zM718.7,2786.6l-.9,.7-1.5,.1-1.3-.8-.3-1 .6-.8 1.6,.2 1.8,.5zM619.8,2733.3l-.2,1.6-1,.9-1.2-.5-.8-1.2-.2-1.7 1.2-.4 1.2,.1zM753.4,2752.4l-.6,1.5-1.4,.3-1.1-.7-.5-1.3 .7-1.3 1.2-.6 1.1,.8zM693.3,2856.4l-.7,.9-1,.4-.8-.9-.1-1.1 .7-.9 1-.2 .9,.6zM667.2,2720.5l-.5,.7-.6,.3-.5-.4 0-.9 .4-.7 .6-.5 .5,.6zM619.9,2860.5l-1.1,1.3-1.2,.8-1.3-.7-.5-1.7 .9-1.3 1.2-.7 1.7,.4zM630.6,2699.8l0,.9-1.6,.5-1.5-.1-.6-.6 .5-.7 1.2-.8 1.3,.3zM598.2,2822.7l-.7,1-.8,.4-.8-.6 0-1.2 .4-1.2 .9,0 .8,.3zM718.2,2840.7l-.3,1-.7,.6-.9-.3-.5-.7 .1-1 .8-.4 .9-.1zM598.2,2755.1l-.1,1.4-.9,1.4-1.6-.4-.9-1.3-.2-1.6 1.2-1.2 1.6,.5zM606.4,2769.3l-.5,1.4-1.2,.3-1.1-.6 .1-1.6 .4-1.4 1.2-.2 1,.7zM730.9,2784.1l-.6,.9-1.2,.5-1.1-.6-.6-1 .7-.9 1.1-.6 1.4,.5zM684.4,2840.7l-.2,1.1-.8,.3-.7-.5-.4-.9 .3-.9 .8-.6 .8,.6zM583,2769.6l-.6,.9-1.1,.3-.8-.6-.6-.9 .4-1 1.2-.2 1,.5zM730.3,2826l-1,.5-1.5,0-1.4-.8-.5-1 1.2-.4 1.3,.1 1.2,.7zM705.3,2813l-.9,1.2-1.6,.2-.9-1.2-.3-1.4 1.1-1.1 1.6-.6 .9,1.4zM701.9,2771.4l0,1.3-.9,.9-1.1-.2-.6-1.1-.5-1.4 1-.8 1.2,.2zM608.8,2730.9l-.2,.8-1,.5-.9-.6-.2-.9 .2-.9 1.1-.2 1.1,.3zM742.6,2769.3l-.4,1-1.4,.3-1.5-.4-.6-1 .8-.9 1.4-.3 1.6,.2zM656.6,2695.1l-.8,1.6-1.5,.7-1.5-.6-.8-1.5 .5-1.7 1.7-.6 1.4,.8zM666.3,2744.6l-.3,1.6-1.8,.5-1.4-1-.2-1.5 .3-1.6 1.8-.8 1.3,1.3zM626.1,2693.7l-.6,.9-.7,.1-.4-.5 0-1.1 .6-1 .8-.3 .5,.7zM740.2,2742.2l-.6,1.1-1.6,0-1.2-.8-.7-1.2 .9-.9 1.6-.3 1.2,1zM596.4,2761l-.2,1.5-.8,.7-1-.6-.4-1.5 .5-1.3 .6-1.5 .8,1.4zM702.7,2796l-1,.5-1.1,.4-1.1-.8-.1-.8 .4-.7 1.3,0 1.4,.5zM683.9,2820.1l-.9,.8-1.5,.5-1.7-.1-.6-.8 .5-.8 1.6-.2 1.8-.2zM627.1,2824.7l-.9,1.2-1.3,.3-1.1-.9-.5-1.3 .9-1 1.3-.5 .9,.9zM626,2784.7l-.9,.8-1,.9-1.6,.1-.8-.4 .4-.9 1.4-.8 1.8-.3zM667.7,2782.8l-.7,1-1.1,.8-1.8,.1-.5-1.1 .8-.9 .9-1 1.7,.2zM648.7,2720.5l-.9,.8-.9,.4-.8-.7 .2-1.3 .8-1 .9-.1 .6,.7zM703.6,2714.3l-.5,1-1.1,.5-.9-.5-.9-.8 .5-1.1 1.2-.3 1.1,.1zM729.8,2810.1l-.4,.8-1.1,.6-.7-.8-.5-.7 .2-.9 1.1-.4 1,.6zM694,2723.1l-.6,.8-.9,.7-1.1-.6-.2-.8 .2-.9 1.1-.4 1.2,.3zM691.2,2846.8l.1,1.3-.4,1-.8-.6-.8-1.1 .1-1.2 .2-1.1 .9,.2zM625.9,2740.6l-.9,.4-1,.1-1.1-.5-.3-.8 .9-.5 1-.2 .9,.7zM697.1,2792.5l-.9,.7-1,.6-1.3-.1-1-.4 .6-.8 1.3-.4 1.4-.1zM611.9,2758.7l-.3,1-.5,.7-.7-.5-.3-1 .1-1.1 .6-.7 .7,.6zM597,2750l-.9,.9-1.3,.4-1.1-.7-.4-1.1 .6-1 1.4-.2 1.3,.5zM625,2747l-.1,1.7-.6,.5-.7-.6-.5-1.3 .1-1.4 .4-1.2 .7,1.2zM575.2,2804.8l-.7,1.3-1.3,.4-1.2-.3-1.1-.9 1-1.1 1-.8 1.4,.2zM687.4,2729.9l-.4,.7-.8,.4-1.1-.2-.5-.8 .7-.6 .7-.7 1.1,.4zM744.3,2725.5l-.3,.8-1.8-.1-1.5,0-.8-.6 .8-.6 1.5-.2 1.5,.1zM674,2869.5l-.1,.6-1.5,.2-1.3-.2-.6-.6 .6-.5 1.3-.3 1.4,.2zM744,2733.5l.3,1.5-.7,.6-.9,0-.7-1.4-.2-1.5 .5-1 1,.7zM864.6,2755.2l-.1,1.6-.7,.7-.8-.5-.3-1.7 0-1.7 .7-.5 .7,.7zM859.3,2867.1l-.5,1-1.1-.1-.7-.5-.5-1 .8-.8 1-.1 .9,.4zM800.2,2879.1l-.6,.7-1.1,0-.6-.6-.5-.7 .7-.6 .9-.1 .8,.5zM899.6,2722.6l-.3,.7-.6,0-.5-.3 0-.7 .3-.6 .6-.1 .6,.3zM808.8,2745.7l-.4,1.2-.7,.6-.9-.4-.1-1.3-.1-1.4 1-.3 .8,.4zM836.6,2875.8l-1.1,1.3-1.4,.4-1.3-.9 0-1.8 1.2-1 1.3-.6 1,1zM873.5,2894.7l-.4,1.3-.7,.4-.7-.5 0-1.4 .5-1.1 .6-.3 .8,0zM878.3,2852.7l-.5,1.1-1.4,.2-1.2-.4-.5-1.2 .5-1.1 1.4-.6 .9,1.1zM794.5,2852.7l-.7,.8-.8,.6-1.1-.1-.4-1 .3-1 1-.3 .9,.2zM884.5,2780.8l.1,1.3-.5,.6-.7-.1-.7-1.2-.1-1.5 .5-.4 .7,.3zM800.9,2744.6l-.4,1.3-1,.3-.7-.8-.4-1.1 .5-1.3 1-.5 .6,.9zM919.9,2797.3l-.7,.9-.9,.7-1.1-.2-.9-.5 .6-.8 .9-.5 1.1,0zM819.6,2746.7l-1,1.4-.9,.1-.9-.3 .2-1.7 .5-1.6 1.1-.3 .5,1zM760.5,2756.9l-.4,1.4-.6,.3-.6-.2 0-1.7 .4-1.3 .6-.5 .5,.6zM880.9,2839.7l-.4,1-1.1,.6-1.3-.2-.5-.9 0-1.2 1.3-.6 1.3,.4zM815.2,2755.2l-.1,1.2-.9,.8-1.3-.3-.9-1.2 .8-1.1 .8-.6 1.3-.2zM807.9,2815.8l-.4,1.1-.6,.7-1-.2-.5-1.1 0-1.3 .9-.3 .9,.1zM847.5,2833.5l.1,1.3-.4,.7-.8-.5-.8-.9 0-1.2 .4-.8 .8,.4zM767.7,2871.4l-.4,1.3-.7,.9-1.2,0-.7-1.6 .2-1.5 .8-1.1 1.3,.4zM823.1,2703.6l-.7,.4-.8,.1-.9-.5 .3-.7 .2-.8 1,.2 .8,.5zM767.2,2819.6l-.3,.8-.7,.5-.8-.3-.7-.5 .1-1 .9-.4 .8,.4zM849.5,2815.1l-.7,1.5-1.2,0-1.1-.5 .3-1.7 .5-1.7 1.4-.2 .8,1zM791.1,2707.5l-.3,1.2-.8,.6-.8-.4-.6-1.1 .2-1.3 .9-.2 .9,0zM791.9,2732.8l-.1,.9-.6,.8-.9-.3-.8-.6 .2-1 .8-.5 1-.2zM883.6,2825.9l-.3,.8-1,.1-.8-.4-.4-.8 .6-.6 .8-.1 .9,.2zM797.7,2843.3l-.8,1.2-1,1-.9-1.1-.1-1.5 .6-1.3 1.1-.9 .9,.9zM909.9,2706l-.5,1.1-1,1-1.3-.5-.5-1 0-1.3 1.2-.7 1.1,.6zM768.6,2757.6l-.3,1.1-.7,.1-.4-.6-.2-.9 .5-.8 .6-.4 .6,.4zM860.3,2885.9l-.6,.7-1.5,.3-1.1-.2-1.2-.4 .8-.6 1.4-.3 1.6-.1zM866.7,2877.6l-.5,.6-1.4,.2-1.4-.2-.4-.6 .6-.5 1.2-.2 1.4,.1zM831.1,2897.2l-.8,.6-.8,.3-.9-.4-.2-.8 .4-.7 .9-.1 .8,.4zM880.8,2838.1l.1,1.1-.4,.5-.7,0-.7-1 0-1.1 .3-.7 .8,.3zM851.5,2743.6l-.5,1.4-.8,.4-.8-.4-.2-1.5 .3-1.3 .8-.8 .7,.9zM914.2,2729.5l-.7,.9-1.4,.6-1.2-.6-.4-.8 .1-1.1 1.5-.3 1.3,.4zM929.8,2879.9l-.5,.8-.9,.7-1.1-.4-.5-.7 .2-.9 1.1-.4 1.1,.1zM791.4,2867.2l-.5,.9-1.1,0-.9-.5-.6-.8 .8-.7 1-.3 .9,.5zM917.8,2806l-.4,.9-.4,.6-.6-.4-.4-.9 .2-1 .5-.3 .6,.2zM760.9,2836.1l-.3,.8-.9,.4-.8-.2-.5-.7 .1-1 .9-.3 .9,.2zM802.7,2739.7l-.3,.7-.7,0-.7-.2-.2-.7 .5-.6 .7-.2 .6,.4zM806.9,2879.5l-.8,.6-1.2,0-1.3-.1-.6-.6 .8-.5 1.1-.5 1.4,.4zM541.5,2966.4l-.7,.7-1.2,0-1.3-.4-.3-1 .8-.7 1.3-.1 1.2,.5zM501,2860.5l0,1-.4,.5-.6-.1-.5-.9-.1-1 .5-.4 .6-.1zM472.9,2868.8l-.1,.7-1,.1-.6-.5-.4-.6 .4-.6 .9-.2 .8,.5zM482.1,2933.2l-.8,.7-1.4,0-1.5-.4-.7-1.2 1.5-.4 1.2-.5 1.5,.7zM384.8,2965.1l-.6,.6-1.1,.3-.8-.6-.2-.8 .4-.6 1-.2 .9,.5zM366.7,2860.9l0,1.3-.4,1.4-1.2-1-.7-1-.3-1.5 .8-.9 1.1,.2zM422.7,2914.7l0,.8-1,0-.7-.1-.5-.6 .5-.5 .7-.3 .9,.1zM491,2930.5l-.7,1-.9,.2-.9-.4-.2-1.2 .5-1.1 1-.3 .7,.8zM377.5,2922.9l-.4,1-.8,.4-.5-.8 .2-1 .3-1.2 .8-.1 .5,.6zM391.8,2903.6l-.3,1.5-1.2,1.3-1.8-.2-1.1-1.1-.1-1.7 1.6-.9 1.6,.2zM565.8,2872.8l-.9,.7-.9,.5-1.1-.5-.6-.7 .8-.7 .9-.4 1.2,.3zM392.8,2869.3l-.5,1-1,.5-1.1-.4-.4-1.1 .5-.9 1-.6 .9,.7zM414.9,2941.9l-.3,.8-.9,.4-.9-.5-.4-.7 .4-.8 .9-.2 .9,.3zM556.5,2916.6l-.6,.6-1.3,.2-1.4-.1-.2-.7 .3-.6 1.3-.1 1.5,.1zM448,2958.8l-.3,.8-.9,.3-.6-.6-.4-.8 .5-.7 .8-.4 .6,.7zM1022.2,3055.7l-.7,.5-1.5-.2-1.3-.4-.9-.7 1-.5 1.4,.2 1.5,.3zM951.8,2933.1l-.8,.6-.8,.3-.7-.5-.6-.9 .7-.7 1-.1 .7,.5zM1095.1,3049.1l-.8,1-1.1,.8-1.4-.4-.6-.9 .4-1.1 1.2-.6 1.3,.2zM958.2,3037.5l-.6,1-.7,.6-.6-.6 .5-1.5 .5-1.1 .8-.4 .3,.8zM999.7,2903.8l-.1,1.5-.9,.8-.9-.8-.4-1.4 .3-1.5 .9-.5 1,.3zM1071.1,3005.8l0,1-.7,.5-.8-.3-.4-.9 0-1 .8-.4 .7,.3zM966.4,3047.3l-.6,1.1-1.6,.4-1.2-.7-.7-1 .5-1 1.6-.5 1.3,.8zM1044.9,2936.1l-.3,1-.5,.6-.8-.2-.5-1 .1-1 .6-.4 .8,.1zM997.5,2981.9l-.3,.6-1.1,.3-.9-.2-.6-.5 .4-.6 1-.3 .9,.2zM1040,3042.8l-.7,1.4-1.6,.5-1.7-.9 .1-1.8 .9-1.5 1.7-.2 1.6,.8zM429.2,2682.8l1.1-.7 .4-1.7 2.2-2 .4-1 .9-1.3 2.6-.3 .9-1.2 2.4-1.3 2-1.1 1.4,.3 1.5-.8 2.2,.5 2.7-1.2 1.2,.3 1.5-.2 1.8,.3 2,.7 2.6-.5 1.1,.6 3.2-.2 1.4-.1 2.5,.5 .6,.9 3.3,0 1.3,1.5 1.9-.2 1.5,.9-.1,1.3 1.4,1.9 1.1,.4 2,1.5 2,1.3 1.2,.9 .9,2.5 .7,.2-.8,2.6 1.1,1.6-.8,2-2.3,1.8-.5,1.7-.3,2.6-2.6,1.8-.4,1-1.8,.2-.9,.4-3.2,.7-.9,1.5-2.1,1.4-.1,.9-1.9,.4-1.4-.8-1.6-1.5-.8-1.4-1.7-1.8-2,.1-1.6-1.1-2.3-.5-2.3-1.2-1.7,.3-2.4-1.2-1.7,.6-1-1.1-1.2-1-2.8-.1-1.5-1.6-2-.9-1.1-1.1-2.4-.7-2.1-.5-1.3-.7-2.1-1.6-.2-1.1-1.4-2.2zM429.8,2676.7l-.3,.5-.7,.1-.4-.5-.3-.5 .3-.6 .7,.2 .7,.2zM435.2,2668.1l.2,1.2-.8,.6-1.1-.1-.6-1.2 .3-1.1 .6-.9 .9,.5zM452.4,2668.4l-.1,.6-.7,.3-.8,.1-.4-.6 .2-.6 .6-.4 .8,0zM466.6,2666.4l-.4,1.2-1,.5-1-.6-.3-1.1 .1-1.3 1.1-.2 1,.4zM477.7,2670l.2,1.1-.4,.6-.6-.5-.4-.9-.1-1.1 .5-.8 .6,.5zM480.6,2677.7l.1,1-.7,.3-.8-.1-.4-.8 .3-.8 .5-.6 .8,.2zM491.7,2682.8l-.4,.9-1.5,.5-1.4-.2-.7-.7 .3-.9 1.5-.4 1.7-.1zM485,2695.9l-.3,.9-.5,.6-1,.1-.3-.9-.2-1 .8-.5 .9,0zM485.1,2704l-.7,1.4-1.7,.1-1.6-.7 .1-1.8 1.1-.9 1.4-.5 1.4,.9zM470.7,2711.8l.3,1.3-.7,.7-1-.5-.8-.8 0-1.3 .6-1 1.1,.6zM433.4,2691l-.2,.8-.2,.8-.8-.2-.4-1 .1-.9 .4-.5 .7,.1zM429.7,2688.3l-.5,.9-1.2,.3-1.2,0-.3-.8 0-.9 1.3-.3 1,.1zM533.2,2700.6l1.3,.1 1.7-1.4 1.8,0 2,0 2.5,.8 1.3,0 1.3,1.9 1.8,0 2.8-1.4 1.3,0 .1,1.7 .6,2 .8,3.3-.2,1.2 1.3,.9 2.8-.4 1,.4 1.8,.5 0,1.9 1.1,1.8 .7,1.4 1.5,1.6 .2,1.5-.5,2.4 .8,2.7-.3,1.2 0,2.8 .6,1.9-1.3,1.3 .1,2.8-1,1.5-.8,1.6-.3,1-1,2.3 .2,.5-1,2.4-.4,1.6-1.9,1.7-.7,.7-2.1,1.4-.8,1.7-.9,2.6-.6,1.4-1.2,1.5-1.7,1.2-1.3-.1-2.5,1.6-.5,1.3-1.4,2-.8,2.2-1.4-1.3-1.4-1.4-1.4-2.6-.9-.7-.4-2.2-1.6-1.3-.5,.2-2-1.7-.2-2.3-2.2-1.1-.3-2-1.3-1-2.2-.3-.6-1.5-1.9,.8-1.3-.7-2.3-.1-1.4-1.1-1.5-.9-1.2-2.1 .6-.7 2.4-.5 1.1-1 1.4,.4 2.5-.1 2.8,.9 1.5-.3 1.2-1.6 .6-1.9 .8-1.6 .1-1.8-.4-1.9 .1-1.7 .4-3.3 .7-2.4-.2-1.6 0-2.2-.7-1 .5-2.5 .1-2.8-.5-1.1 .6-1.9 .9-1.4-.1-2.2 .4-2.2 .6-1.2zM535.9,2699.5l-1,.7-1.1,.4-1.3-.6-.2-1.1 .6-.9 1.3-.3 1.5,.5zM570.5,2716.8l-1.2,1.2-1.5,.6-1.2-1.1-.7-1.4 1-1.2 1.5-.3 1.4,.7zM568.8,2728.4l-.4,.8-1.1,.6-1.3-.2-.5-.7 .2-.9 1.2-.5 1,.4zM565.2,2737.3l0,.9-.5,.7-.7-.5-.5-.7 .2-.9 .5-.5 .6,.2zM541.1,2765.9l-.2,.9-.5,.6-.6-.5-.3-.9 .1-.9 .6-.4 .5,.5zM534.6,2758.7l-.1,1.7-1.1,.3-.8-.5-.4-1.6 .6-1.3 .8-.5 .9,.4zM531.6,2760.2l-.1,.6-.9,.2-1,0-.6-.5 .6-.6 .8-.3 1.1-.1zM519,2744.5l-.6,.8-.8,.8-1.3,.1-.4-.7-.1-.8 1.1-.8 1.3,.1zM519,2740.2l-.6,.4-1.5-.4-1.2-.6-.2-.6 .3-.5 1.5,.4 .9,.6zM529.3,2718.4l-.2,.4-.7,.5-.9-.2-.4-.6 .3-.5 .8-.3 1,.1zM530.3,2704.1l-.3,.7-1.4,.5-1.3-.1-.5-.5-.1-.7 1.6-.4 1.4-.1zM533.2,2693.8l.6-1.8 2-.3 .7-.6 2.1-1.4 .9,2 2.6,.7 .6,1.4-1.5,.8-.3,1.9-.9,1.4-2.1-1-.2,.7-2.3-.5-.8-2.4zM534.2,2691.7l-.6,.6-1.1,.1-1-.3-.7-.5 .5-.5 1.2-.2 1,.3zM556.4,2752.6l.8-1.4 1.5-.7 1.8-2 1.9,1.6 1.3,.7 .9,1.8-.9,1.1-1,2.7-.8,1.7-1.1-.8-2.3,.6-1.2-.6-.4-1.5-1-2.3zM560.9,2745.9l-.3,1.7-1.1,.4-.8-.6-.5-1.5 .4-1.4 1-.5 .8,.6zM568.9,2752.1l-.5,1.1-.8,1-.3-1 .2-1.4 .5-1 .7-.9 .3,.9zM556,2759l-.8,1.1-1,.4-.9-.7-.3-1.3 .6-1.4 1.1-.1 1.1,.4zM585.2,2755.4l1.1-1.6 2.3-.3 2-1.7 1.2,.3 2.1,.7 1.3-.5 2.3,1.2 1.7-2 .9-2.6 .5-.9 1-2.2 2.4,1.4 .8,1 2.3,.3 .7-1.6 2.5,.2 .9-1.3 1.1,1.1 .9,.8 1.8,1.3 .9,1 2.1,1.8 .2,2.3 1.1,1 1.8,1.4 1,1.6 2.4,1.1 1,1.2 2.1,.5 1.8,.5 2.5,.4 1.2-.1-.2,1.9 1.1,.9 .4,1.8-.9,.9-2.3,1.4-.2,1.8-2,1.4-2.2-.7-.6-.7-1.4,1.4-1.4,.9-1.3,1.8 1.4,1.9 1.7,1.1 1,1.1 1.5,2.2 1.3,.6-.2,2.4-.9,1.2 .7,2.3-1,2.3-1.4,.8-.2,2-1.8,.9-.7,1.8-1.5,1.1-1.9,1.2-2.1,.4-2.3-.5-1.8-.6-1.4-.3-1.3-.1-1.7,.6-2.4,.9-.7-1.3-.6-1.8-1.6-.8-1.2-1.6-1.8-.6-.5-2.1-1.8-1.4-1.6-1.2-1.9-.6-2.2-.7-1.2-1.6-2-1.3-.5-1.2-2.3,0-.7-1.6-1.6-.6-.7-2.2-.2-1.8-1.6-.9 .5-1.8-1.4-1 .4-2.9 0-1.1 1.2-2.4 .2-1.2 1.9-1.9 .5-1.4-.8-1.9 .9-2.4zM608.6,2743.5l-.5,1.4-1,.8-1.3-.1-1.2-1.2 .7-1.5 1-.9 1.4,.2zM612.5,2741.7l-.6,.8-1.1,.2-.9-.4-.6-.7 .5-.7 1.1-.2 .9,.4zM626.6,2753.4l-.4,1.5-.9,.7-.6-.9-.1-1.6 .5-1.5 .8,0 .8,.1zM634.7,2758.7l-.8,.6-1.1,.5-1.7,0-.1-.6 .1-.6 1.4-.5 1.6,0zM633,2771.5l-.8,1.1-1,.1-.7-.7-.1-1.4 .9-1.1 .9,.2 .8,.5zM632.7,2777.6l-.9,.9-1.3,.4-1.1-.6-.4-1 .3-1 1.4-.3 1.1,.6zM632.6,2780.5l-1.1,.7-1.3-.2-1.4-.5-.1-1.3 1-.6 1.3-.1 1.2,.7zM602.2,2800.6l-.5,1.3-.6,.4-.6-.4 0-1.6 .5-1.3 .7-.7 .4,.9zM580.6,2783.9l-.6,.5-.8,.2-1-.3-.1-.8 .5-.5 .8-.2 1,.3zM578.8,2774.6l-.7,.7-1.2-.1-1.3-.4-.4-.9 .9-.6 1.2-.1 1.1,.5zM579.5,2766.2l-.4,.8-.8,.8-1.2,0-.5-.7 .2-.7 .8-.8 1.1,.1zM580.1,2760.9l-.9,.7-1.1,.3-1.3-.4-.2-.9 .5-.8 1.1-.1 1.2,.3zM638.5,2759.5l1.4-1.2 1.7-.4 .8-1.6 1.6-.9 1,.9 2.6-.9 1.5,.5 1.8,.8 .7,2 1.8,1.8 .2,1.7 1.5,.8 1.8,2.3 .8,1-1,1.3-.2,1.6 .8,2-1,2 .6,2.4 1.5,1.8 1.2,1.2 .8,1.4-.4,3.4 2.1,1.5-.3,2 2,1.1 1.4,2.4 1,.3 1.1,1.6-.9,1.5-.1,2.7 .4,1.6-.7,.9 .6,1.8-.7,2.5 .4,2.1 .5,1-.6,2.5 .6,1-.3,3 .8,1.3-1.1,2.7-.6,1.1-.2,1.8-.5,2.1-.4,1.9-.9-1.5-2.2-1.3-.3-.9-2-.4-.6-.6-2.3-2.6-1.7-.3-.9-2-.5-2.2-1.3-2.1-.9-2.3 0-1.6-.8-2.3-2-.7 .4-2.5-1.7-1.3-.8-1.1-2-2.4 0-1.1-1.4-2.3-.6-2-.8-1.7-1.8-1.7 1-1.8 1.8-2.4 .4-1.3-1.2-1.1-1.2-2-1.7-1 .4-1.8-1.7-1.3 .7-2.8-.7-1-.5-2.3 .6-1.9-.7-1.2 .3-2.3 1.1-1.6zM637.6,2756.9l-1.3,1.1-1.4,.3-1.4-.8 0-1.6 .9-1.3 1.5-.1 1.4,.7zM650.8,2752.8l-.4,1-.9,.5-.9-.4-.7-.5 .2-1 1-.3 .8,.2zM665,2786.2l-.3,1.1-.6,.4-.7-.3-.2-1.2 .3-1 .6-.5 .6,.4zM670.8,2804.5l-.6,1.4-.8,.1-.6-.5 .3-1.6 .6-1.3 .8-.3 .5,.7zM644,2805.8l-.3,1.1-.4,.9-.9-.5-.7-.7-.2-1.2 .7-.6 .9,.2zM637,2788.8l-.5,.6-1.5-.1-1.1-.4-.6-.6 .6-.5 1.3,0 1.2,.4zM640.6,2779.2l-.1,1.1-.9,.7-1.1,0-.7-1 .3-1 .7-.6 1.1-.3zM633.1,2764.6l-.5,1.2-1.1,.3-.7-.8 .1-1.3 .4-1.4 1.1,0 .7,.8zM486.6,2718.4l.9-2 1.4-.7 .5-1.3 1.3-1.4 .9,.9 1.3,.6 1.6,1.3 1.7,1.3-.3,2.3-.1,.9-1,2.2-1.2-.1-1.9,1.6-2.3,.4-.4-1.4-1.5-2.1 .1-1.4zM486.4,2717.8l.1,1.6-.8,1-.9-1.1-.6-1.2 .1-1.6 .9-.9 .9,.9zM500.5,2726.2l-.3,.5-1.5,.1-1.2-.2-.5-.5 .4-.5 1.3-.3 1.3,.4zM629,2737.6l2.4-1 .7-.9 2.3-1.4 1,1.4 2,0 2,1.3-.9,2.1-1,2.7-.3,1.3-.7,1.1-.9,1.1-1.8,1.9-.7,1.3-1.9-1.3-.2-.9-2-.5-.7-2.4 1.3-1.7 .1-2.7zM626.3,2735.1l-.5,1.1-1,.4-.7-.6-.7-.8 .3-1.1 1-.4 .9,.5zM635,2732l-.6,.6-1.3-.1-1.1-.7 0-.8 .4-.7 1.3,.3 1.1,.5zM646.4,2732.6l-.3,1-.6,.8-1-.2-.6-.8 0-1.1 .8-.3 1-.3zM336.5,2705.7l.9-1.8-.3-1.8-.2-2 .3-1.3 1.1-2.6 1.1-1.8 1.2-1 .5-1.7-.1-1.6 .8-2.5-.5-1.1 1.6-1.9 .2-1.2 1.5-1.9 .1-1.8 1.3-1.3 1.3-.2 1.5-1.2 0-.9 1.4-2.2 .7-1.1 2.4,.7 1,.7-.2,2.1 1.8,1.7-.2,1.7 .5,1.6 1.8,2 .4,1.9 .2,1.8 .6,1.4 0,1.6 .6,2 1.4,1.4 1.2,1.6 .1,2.5-1.2,2-.2,.8 .1,2 .3,2 1.2,1.6 .8,.8 .4,1.7 1.8,1.7 .4,.4 .6,1.6 1.3,1.8 .9,1.4 .4,1.6 1.1,.8 1,2.4-1.9,1.2-1.5,.8-1.8,.7-1.4-1.3-2.3,.6-1.5-1.3-1.9-.3-.7-1.8-.6-1-2.3-1.3-1.2-.4-1.9-1.3-2.2-.1-2-1-.7-2.4-1.6-1.2-2,.8-1.9-1-2.1-.3-1.3-1.1-1.1-1.9zM336.7,2692l-.3,1-.8,.8-1-.7-.4-.9 .3-1 .9-.7 .9,.5zM352.3,2666.7l-.3,1.3-1.3,0-1-.4-.4-1.2 .6-1.1 1.1-.6 1,.8zM354.9,2669.3l-.5,1.4-1.4,.6-1.8,.2-.7-1.5 .7-1.4 1.3-.7 1.6,.2zM360.1,2674.9l-.4,.9-1.6-.2-1.4-.4-.5-.9 .9-.6 1.3-.1 1.2,.5zM367,2703.8l-.7,.8-1.2-.4-1-.3-.4-1 .7-.8 1.2,.2 1.1,.5zM372.7,2722l-.7,1-.9,.5-.8-.7-.1-1.2 .3-1.1 1.1-.4 .6,.9zM364.6,2727.3l-.5,.4-.9-.1-.7-.5-.5-.7 .8-.3 .9,.1 .7,.5zM339.7,2711.8l-.3,1.3-.8,.9-.8-.9-.5-1.2 .3-1.4 .9-.7 1,.6zM357.7,2677l.8-1.4 2-2.1 1.4,.4 2,1-1.2,1.7-.2,2.4-2.3-.5-1.1,.5-.5-.5zM367.3,2684.1l-.4,.7-1,.4-1.1-.1-.6-.4 .3-.7 1.1-.4 .9,.1zM358.8,2682.6l-.6,1.2-1.6,.3-1.1-1.1-.3-1.2 .8-1.1 1.3-.1 1.3,.7zM372.1,2689.3l.9-1.1 2-1 .5-2 2.4,.3 1.8,0 2,.3 .8,1.3 1.9,.7 1.4,.1 2.4-.6 1-.1-.4,1-.8,2.2-.5,1.8 .3,1.9 1.5,1.3-.8,2.4 1.3,1.2 .8,2.6-.5,1.4 1,2.5 .2,1.6-1.1,1.4-1.8,2.5-.6,1.5-1.4,1-1.5,1.2-1.8,1.3-2.5,.9-1.2-.3-1.8,0-1.1,.1-1-1.6-2-.5-.1-1.7 1.6-3.1-.2-1.4 .3-1.8 2.1-1.4 .4-.9-.2-2.5-.5-.9-1.4-2.1-.4-.6-1.8-2.6-.5-.9-1-1.1 .3-2.1zM372.7,2685.4l-.5,1.3-1.1,0-1.2-.1-.1-1.5 .6-1 .9-.6 1,.6zM376.3,2682.3l-.3,1.5-.8,.2-.8-.2 0-1.6 .3-1.3 .7-.9 .7,.8zM383.8,2678.6l-.6,1.5-1.3,1.1-1.5-.4-1.2-1 .6-1.4 1.2-.8 1.6-.2zM389.8,2681.6l-.3,1.3-.6,.1-.5-.4-.1-1.1 .3-1.3 .5,0 .6,.1zM394,2686.3l-1.1,1-1.1,.4-.8-.9-.2-1.5 1-1.1 1.2-.1 .9,.7zM391,2692.7l-.6,1.2-1.2,.2-.6-1.1-.1-1.1 .8-1 1.1-.2 .8,.8zM393.1,2716.3l-.1,1.2-1,.1-.9,.4-.8-1 .4-1 .7-.7 1,.2zM379.9,2720.3l-.8,1-1.1,.8-1.3-.5-.6-1 .3-1.1 1.4-.4 1.2,.3zM372.4,2721.5l-1,.5-1.2,.1-1.2-.7-.1-.8 .7-.6 1.2-.1 .9,.7zM373.7,2711.5l-.4,1.4-.6,.7-.5-.8-.2-1.4 .4-1.3 .6-.5 .4,.7zM375.4,2709l-.5,1.2-1,1.2-1.5-.8-.3-1.5 .1-1.6 1.4-.4 1.4,.4zM373.9,2697.7l-.4,1.4-1.1,.6-.9-.8 .1-1.5 .1-1.6 1.2-.3 .8,.8zM370.1,2694.3l-.5,1.3-.8,.6-.7-.9-.1-1.2 .4-1.3 .8-.4 .7,.6zM384.4,2720.7l.9,0 1.4-1.1 1.8-.9 1.2,.4 1.7,.6 2.6,1 .4,1.4 .6,1.8 1.6,1.4 .2,1.6 1.3,2.1 .8,1.3 1.4,1.8 .2,2.7 1.7,1 .2,1.2-.1,2.6-.1,1.3-.7,1.7-1.4,1.6-1.4,.8-2,1.1-1.2-.2-3,.5-1.2-1-.4-1.5-1.7-1.3-1.4-1.3-2-1-1.4-1.8-1.5-1.8 0-.5-1.2-1.8 0-1.5 .9-2.4 .7-1.6-.2-1.3 1-2.3-.7-1 .2-2.5zM400.5,2728.8l-.6,1-1.6,.3-1.4-.5-.4-1 .2-1.2 1.8-.1 1.3,.6zM399.7,2752.2l-.8,1-.9,.6-.9-.6-.5-1.3 .8-1.2 .9-.3 .9,.4zM388.6,2744.8l-.1,1.2-.5,1.1-.7-.9-.3-1.4 .1-1.5 .6-.6 .7,.7zM382.2,2741.4l-.6,1.3-.8,0-.3-.8 0-1.1 .7-1.2 .7,0 .4,.5zM378.4,2736.8l-.8,.7-1.5,.2-1.5-.2-.9-.7 1-.6 1.4-.3 1.5,.2zM356.4,2735.8l1.2-1.7 .8-1 1.2,.3 2.4,1.3 1.9-.3-.1,1.5 2.2,1.5 0,1.1-.8,1.6-1.2,.4-1.5,1.5-1.2,0-1.8-.6-1.8-.8 .2-2.3-1.5-.3zM357.1,2731.1l-.2,.7-1.1,.5-1.3,0-.6-.7 .7-.7 .9-.7 1.2,.3zM369.1,2728.5l-.5,.9-.5,0-.4-.3-.4-.9 .6-.7 .5-.3 .5,.4zM374.6,2741.4l-.5,.7-.9,.4-1.1,0-.5-.5 .1-.7 1.1-.5 1.2,.1zM363.9,2746.7l-.3,1.5-.7,.5-.7-.5-.5-1.3 .2-1.6 .7-.5 .7,.6zM359.5,2743.2l-.9,.3-1.3-.1-1.1-.7-.2-.8 .6-.5 1.3,.3 1.1,.6zM374.8,2724.8l1.5-.8 1-1.6 1.7-.3 .6,1.1 .7,1.6-1.4,1.7-.6,2.1-.7,1.7-1.5,.7-1.9-.7-.1-2 1.2-1.9zM383.1,2715.6l-.8,1.3-1.2,.3-.6-1.1-.3-1.4 1-1 1-.5 .8,.9zM384.5,2721.1l-.6,.7-1,.5-1-.6-.2-1 .5-.9 1.2-.2 .9,.5zM379.6,2734l.1,1.3-.6,.8-1-.4-.6-1.1 .1-1.2 .5-.9 1,.4zM316,2678.3l2.1-1.3 0-.9 2-.5 1.1,1.4 2-.7 1,1.3-.2,2.8 .5,1.3-1,2.1 .6,1.8-.2,1.4 .3,2.3-1.7,1.7-1.7,1-.3-1.3-.7-2.5-.4-1.7-1-1.7-1.3-.4-.4-2-.1-2zM316.9,2676.3l-.4,.9-1.4,.5-1.3-.8-.3-1 .3-1 1.5-.1 1.3,.5zM321.4,2696.3l-.3,.7-1,.6-1.3,0-.3-.7 .2-.7 1.1-.4 1.3-.2zM310.3,2683.3l-.6,.5-1,0-1.3-.3-.2-.7 .6-.5 1.1-.1 1.2,.4zM406.3,2711.2l2-.9 0-1.8 2.1-2.1 1.4,.1 2.1,1.2-1.5,2.3 .5,2.2-1.1,1.7-.6,.8-2,2.2-.1,1.1-2-2.1-.8-.6 .1-2.7zM400.6,2708.6l-.1,.8-.7,.3-.8-.1-.4-.7 .1-.9 .8-.2 .7,.1zM420.1,2702l-.3,1.1-1.3,.4-1.6,.3-.4-1.1 .5-.9 1-.8 1.5,0zM404.5,2719.6l-.1,1-.5,.9-.8-.3-.5-1.2 .2-1 .4-1 .9,.4zM400.9,2671.5l2.1-.1 1.1-.3 1.3-1.7 2.3,0 1.9,.7 2.5-.3 1.8-.4 .4,1.8-1.1,1-2.2,1-1.9,.9-1.4,.1-1.4-.5-1.8,.3-2.3-.5-.8-1.2zM410.5,2664.4l-.5,.9-.8,.6-.7-.8-.4-.9 .5-1 .9-.4 .7,.7zM408.4,2677.9l-.8,1-1.5-.1-.9-.8-.5-1.1 .6-1.1 1.5,.4 1.2,.5zM399.6,2672.8l-.4,1.2-1.3-.1-1.1-.5-.1-1.2 .6-1 1.2-.2 1.1,.7zM376.2,2744.7l1.1-.7 1.9-.9 1.8,.2 1.5,1 1.9,.4-1.4,1.1-1.3,2.3-1,.3-2.2-.8-1.6-.2-.9-1.3zM374.3,2745l0,1.5-.7,.7-.8-.5-.9-.9-.2-1.6 .8-.5 .9,.2zM416.6,2727.6l.9-2 1.8-1.4 1.4,.9 2.7-.3-.9,1.6-.3,.6-.8,2-.7,2.6-1.6,.8-.5,2-.8-.7-1.2-2-.5-1.6zM423.4,2725.5l2-.6 2.1-.1-.1,1.8 .8,2.4-2.2,1.1-1.2,.2-1.1-2 0-1.4zM419.5,2723.9l-.3,1.4-1.1,1-1.4-.3-.1-1.7-.2-1.4 1.1-.8 1.3,.5zM433.3,2721.8l.1,.6-1.5,.7-1.5,0-.4-.5 .2-.6 1.3-.6 1.4-.1zM431.4,2731.7l-.5,.4-.7,0-.6-.4-.2-.6 .7-.3 .6-.2 .5,.5zM299.6,2745.4l1.2-1.2 2.2-.9 1.6,2.1 1.1,.7-1.9,1.8-.8,1.6-1.2-1-1.5,.3-.9-1zM307.1,2738l-.5,.8-1.4,.2-1-.8-.8-.9 .9-.7 1.4-.1 1.3,.6zM307,2753.6l-.9,.8-1.3,.5-1.3-.5-.6-1.1 .8-.8 1.3-.5 1.3,.6zM139.6,2374l2.1-.5 1.2-.8 1.5-1.6 1.9-1.2 2,.3 .7-1 2.3-1.1 .3-1.9 1.9-2.4 .1-.9 .6-2.6 2.3,.2 1.3-1.5 2.3-.1 2.2,.4 1,.6 1.3,2.1 1.3,.3 .6,1.2 .5,2.6 .1,1.6-.2,1.4-.6,2.2-.7,1.1-.9,3.2-.7,1.3-1.3,2.1-1.3,1.6-1.4,.9-.9,2.3-2.2,.5-.7,1.5-2,1.9-1,.9-2.9-.1-1,.2-1.4,.7-1.3,1.9-2.2,1.3-1.4-1-1.1-2.2-.4-.7-.2-1.9 .8-1.3-.8-3.1-.2-1.6-.1-1.6-1.2-1.9 .2-.8zM136.7,2375.2l-.2,1-1.1,.2-.8-.3-.5-.9 .3-1 1-.2 .9,.3zM141.4,2367.8l-.4,1-1.3,.7-1.3-.8-.4-1.1 .5-1.1 1.3-.5 1.2,.8zM156.1,2354.6l-1,.6-1.3,.5-1.4-.5-.4-.8 .4-.8 1.5-.4 1.4,.6zM170.1,2366.8l-.3,.5-.6,.1-.5-.4 0-.7 .4-.6 .6,.1 .4,.3zM144,2398.2l-.2,.9-.4,.7-.5-.5-.3-.9 .1-.9 .4-.7 .6,.4zM138.3,2390.1l0,.9-.5,.4-.6,.2-.3-1.1 .1-.9 .3-.5 .6,.2zM151.3,2398.4l1.3-.9 .8-1.9 1.6-1 1.2-2 1.9-1.4 .9-1.1 1-1.1 1.1-1.3 1.6-1.3 .8-2.5 .7-.7 1.7-2.4 .6-1.4 .7-1.7 .2-1.8 .6-2.7 .9-1.2 .7-1.1 .8-2.5 2-.8 .4-1.4 .9,2.5 .3,1.4 1.7,1.9 0,2 .1,2.5 .7,1.3-.5,2.7-.3,2.3-1.1,2.5-.5,1-.5,1.6-.8,1.7-1.6,1.8-.5,.9-.1,1-1.7,2.2-1.7,1-.9,1.6-.7,1-1.6,1.3-1.8,.7-2,1.4-1.1,1.4-.9-.3-2.9,.3-1.1,0-.8-1.4-1.4-2zM148.7,2399.6l-.5,1-1.2,.1-1-.4-.6-1.1 .9-.9 1-.1 1.5,0zM151.3,2394.5l-.8,1.1-1.1,1-1.4-.5-.7-1.3 .6-1.3 1.2-.7 1.4,.5zM180.6,2379.8l0,1.3-.5,1.1-1.1-.3-.6-1.4 .1-1.2 .5-.9 1,0zM180.9,2389.2l-.4,1.2-1.5,.3-1.1-.8-.4-1 .5-1.2 1.3-.6 1.1,1zM170.6,2398.9l-.4,1.1-.7,.2-.4-.5 .2-1.1 .5-1.1 .6-.2 .5,.4zM156.7,2409.1l-.2,1.1-.7,.8-1-.3-.3-1.2-.2-1.2 .9-.5 .8,.4zM155.3,2407.9l-1.1,.8-1.2,0-1.1-.5-.5-1.1 .9-.8 1.3-.3 1,.7zM179.6,2375.9l1.2-.7 1.6-1.7 1.5-1.3 .6-2.1 1-.5 1.8-.5 3-1.2 1.1,.2 2.3,.3 .4-.7 3,.3 1.1-.9 2.4-1 1.5-.7 2-1.2 .5,1.8-.4,2.8 0,1.3 .5,2.5 .2,2.4-.5,2.1-.6,2 .8,2.3-.1,2.4 .2,1.5 .1,2.2-.2,2.3 .2,1.6-.6,3 .6,2 .4,1.4-.7,2.6-1,.7-1.5,1.2-2.1,.1-1.7,.9-2.4,0-.5,.9-2,1.1-1.8-.7-.5-2-1.6-.3 0-1.1-.2-3.4 .1-1.8-.9-1.5-1.1-1.3 .2-3.4-.1-1.1-1,.2-2.6-.3-1.2-.9-1.4-1.2 .1-2.2-1.7-.5-.7-1.3 .6-2 .1-2zM181.6,2362.9l-.5,.8-.6,.5-.9,0-.7-.8 .5-.9 .7-.5 .8,.2zM203.1,2406.8l-1,1.1-1-.1-.7-.6-.2-1.5 1.1-1 1-.1 .4,.9zM190.6,2409.5l-.3,1.5-.9,.7-1-.7-.6-1.3 .2-1.7 1.1-.5 .9,.6zM186.6,2392.2l-.3,.7-.8,.9-1.2-.1-.4-.5 0-.7 1-.7 1.1,0zM173.8,2412.1l.9-1.5 .3-1.6-.2-1.7 .9-2 1.6-1 .8-1.9 .6-2.3 1-.5 .9-2.2 1.5,1.5 1.7,0 1.7,1.5 1.8,.6 .3,1.2 1.8,2.1 .8,2.7 1.2,1.2-.1,2.2-.8,1.8-1.8,2.6-.3,1.2-1.3,1.2-2.2,1.4-2.3,.4-1.7-.9-1.8,.7-2.4-.8-1.5-2-1-1.4zM171.1,2414.4l-.6,.4-.8,.2-1-.3 0-.6 .1-.5 1.1-.1 .9,.3zM173.5,2403.2l-.3,1.4-1.3,.3-1.1-.5-.6-.9 .3-1.2 1.1-.8 1,.8zM186.3,2396.2l-.8,1-1.1,.5-.9-.8 .2-1.5 .6-1.2 1.2-.4 .6,1.1zM199.7,2406l-.2,1.4-1.1,.9-1.1-.9-.3-1.5 .5-1.3 1.1-.7 1.2,.6zM209.5,2368.1l.7-1.1 1.2-2.7 .5-2 1.1-1.5 .3-2 1.5-1.4 .4-2.7 .9-.7 1.7-2.5 .6,1 2.7,1.3 .6,.6 .6-2.2 1.4-1.1 1.7-.9 1.1-1.6 .5,1.8-.1,2 .4,1.7 .9,2.1 .3,1.2 2,1.4 1.9,.5-.6,1.1-1.5,2.5-.7,1.5-.1,1.8-.2,2.3-.1,1.9 .2,1.2-.9,1.8 0,1.6-1.7,1.8 .1,1.8-1.3,2.2 0,1.3 .5,3.3 1.5,1.7-.1,1.6-.1,1.9-.7,1.8 .4,2.6-.6,1.5 .6,2.4 2.1,1.5 .3,1.9-2.8,.1-1.2-.5-1.7,.2-2,.3-2.7,.4-1.6-.2-2.6-.5-1-.1-1.8-.2-2.6,.5-.5-1.5 .8-2.8 .1-2.1-.9-1.7 .3-2.2-.9-1.2 .6-2.1 1.1-1.7 1-2.9 1.2-.5 .6-2.8-1-1.4-.3-1.2-1.7-2.3-.7-2.3 1-2-1.1-.9zM208.6,2368.9l-.8,.8-1.5,0-.9-.9-.1-1.1 .6-.9 1.5-.1 .8,1.1zM210.9,2359.4l-.9,.9-1.1,.2-1.1-.4-.4-1.3 .8-1.1 1.2,0 1.1,.4zM214.8,2355.9l-.3,.8-.5,.5-.8,0-.5-.7 .1-.9 .6-.6 .7,.3zM220.1,2344.7l-.4,1.5-.9,.5-1-.3-.5-1.4 .2-1.5 .9-.4 .9,.2zM229.7,2342.4l-.5,.8-1.2-.1-1.1-.4-.3-1.1 1.1-.3 .8-.3 1.3,.4zM231.2,2351.9l-.3,1.2-.7,1.1-1.4-.1-.9-1.1 .1-1.3 1-.9 1.3,.2zM238.3,2355.4l-.4,.4-1.1,.1-.9-.6-.3-.6 .6-.4 1-.1 1.2,.5zM231.8,2364.6l-.7,.8-.7,.6-.6-.6 .3-1.3 .6-1 .7-.3 .6,.4zM236.5,2374.6l.3,1.3-.4,.7-.8-.4-.6-1.1-.4-1.5 .6-.5 .8,.3zM206.5,2392.9l-.7,.5-.9-.1-.9-.4 0-.8 .5-.6 1-.1 .9,.6zM131.7,2355.4l1.6-1 .7-.8 2.5-1.3 1.1-1.8 2.1,1.7 1.2,.1 .4,1.8 2.2,1.3-.5,2.5-1.1,1.5-.4,1.9-2.5,.9-.4,.1-2.9,.5-1-.5-.9-1.8 .2-1.9-1.6-1zM140.5,2342.1l-.5,.8-1.1,.2-1.3-.1 0-1 .3-.7 1.1-.6 1.2,.5zM135.4,2365.5l-1,.6-1.1,.5-1-.8 0-1.2 .7-.8 1.2-.2 .7,.9zM235.3,2374l2.4-.9 .2-1 2.3-.1 1.3,.7 1.8,1.6 .8,.7-1.2,1.9 0,1.3-1.7,2.6 .1,2.2 1.2,1.7-.2,1.6 .9,2.4-2.5,.2-1.4,1.7-.4-1.5-1-2.6-1.6-1.8 .4-1.4-.1-3 .7-1.4-.2-2.1-.9-.9zM236.4,2371l-.5,1.2-1.4,.4-1.3-.3-1.3-.8 .7-1.2 1.5-.3 1.7-.2zM246.2,2391.9l-.5,1.4-.8,.4-.5-.8-.3-1.2 .6-1.3 .6-.3 .5,.5zM248.1,2374l1.6-1.8 1.4-.3 1.1-1.5 1.7-1.3-.8-2.2-.1-1.4 .2-1.6-.2-2.4-.1-2.2 1.8-.4 1.6-1.8 .6-.7 1.1,1.5 .4,2.3 .6,.7 .8,2.3 1.3,2.4 1,1.5 .4,1.4 1.2,2.6-1.5,2.2 0,1.8-1.5,1 .1,1.8-2-.1-1.2,.2-2.7,.9-2.1-.3-1.5-.2-1.3-.5-1.7-1.7zM249.5,2366.1l-.6,1.1-.7,1-.8-.8-.3-1.2 .2-1.2 .8-.7 .9,.5zM252.2,2351.7l-.3,1.6-1.4,1.1-1.4-1-1-1 .1-1.7 1.5-1 1.3,1zM263.4,2381.7l-.9,1.4-1.3,.1-1.2-.3-.6-1.5 .9-1.3 1.2-.6 1.1,.8zM269.6,2380.8l1.2-.5 1.4-.7 2.2-.7 1.1,2.4 .1,1.5 .8,1.9-1.2,1.4-1,2.7-.7,.8-1.4-.3-2.5-.6 .1-1.7 .2-1.9 .3-2.5zM276.4,2372l2.2-1 .9-.8 2.8-.1 1.9,1 2,0 1.9,.9-.1,2.3-.3,2-.7,2.2 .5,2.7-.3,1.6-.8-.5-.9-1.7-1.3-1.7-.8-.5-2.3-1.2-1.8-.3-.8-2.3-.6-1.4zM284.5,2364.7l-.6,.8-1.4,.3-1.7-.4 0-1 .5-.8 1.4-.4 1.3,.6zM274.9,2379l-.6,1.4-1.6,.5-1.1-1.1-.7-1.3 .8-1.3 1.4-.1 1.6,.3zM286.2,2359.3l.3-1.5 1.3-2.4 .6-.6 1.7-2.3 .6,2.2-1.1,2.2 1,1.9-.1,2.1-.4,2.3-.7,1.2-1.3,3.1 0,1.6-.9-2.6 .9-1-1.2-2.1-.8-2.5zM294.2,2346.2l.1,1.4-1.4,.8-1.6,.4-.6-1.4-.2-1.3 1.1-1.2 1.7,.1zM292.5,2367.2l.1,.9-.6,.3-.7,0-.5-.7 .2-.8 .4-.6 .7,.3zM207,2445.3l2.2-1 .5-1.5 1.6,0 1.6-1.4 1.1-.2 2.8-.8 1.9,.2 1-1.1 1-.7 2.4-.1 2.2,.1 1.2-.3 1.5-1.3 1.2-.1 2.5-1.7 .7-.8 1.1,2.2-.5,.9 1.1,2.7 .3,2-.9,1.4 .6,2.1 0,2.3-.7,2-2.2,.5-2,.8-1.7,1.7-1.6,.2-1.4-1-2.3,.4-1.5-.6-2.2,0-1,1.3-1.3-.2-2.4,.8-1.4-.6-2.6-.5-1.8,.2-.2-1.8 .2-2.8-.1-1.4zM211.5,2438.5l-.6,1.5-1.1,.9-1.4-.5-.7-1.2-.1-1.7 1.5-.6 1.4,.2zM237.8,2430.9l-.6,1.4-.9,.5-.9-.5-.1-1.5 .3-1.4 .9-.5 .9,.5zM240.4,2440.1l-.4,.8-.6-.2-.5-.1 .1-1 .4-.8 .7-.2 .4,.6zM222.2,2453.1l-.4,1.4-.9,.6-.8-.8-.3-1.3 .5-1.3 .9-.8 1,.5zM206,2433.6l1.5-1.4 1.2-2.2 1.5-.2 .7-2 2.3,.4 .9,.9 1.7,.6-.9,1.6-.3,1-2.2,2.9-.5,1.3-.9,1.8-.3,1.8-2.1,.7-.6,1.6-.4-1-1-1.7 .5-3-.3-1.7zM213.2,2438.1l-.1,.8-.6,.4-.6-.5-.2-.7 .3-.7 .5-.3 .7,.1zM222.6,2412.1l1.5-.8 2.6-1.7 .8-.4 1.8,1.1 .8,1.2 .5,1.4 1.8,1.2 1.4-.5 2.4-.5 2.1,0 .1,1-.6,2.7 0,1.2-.5,2.8 0,1.1-1.8,.3-1.6,.2-1.5,1.4-1.3-.4-2.6-1.5-1.4,1.4 .2,2.1-.8,2.4-1.1,.3-2.8,.6 .1-2-.3-1.3-.7-1.6 1.2-.8 2-2.6 .7-1.4-.9-1.3-.3-2.3-1.2-2.1zM218.2,2406.8l-.4,.6-.5,.5-.8-.1-.6-.5 .3-.7 .8-.3 .8-.1zM229.9,2405.3l-.6,1.3-1.4,.1-1.1-.5-.4-1.2 .5-1.2 1.3-.1 1.1,.5zM244.9,2422l-.6,.4-.8,.1-.5-.6-.4-.6 .6-.6 .8,.2 .5,.5zM238.6,2426.2l0,1.6-.8,.5-.8-.5-.4-1.4 .1-1.5 .7-.6 .8,.7zM229.4,2434.4l-1.2,.5-1.4-.2-1.4-.5-.4-1 1-.5 1.3,0 1.2,.7zM215.8,2464.9l.6-1.3 1.4-.5 2.2-2.5 .7-.6 1.1,2.1 .3,1.8 .4,1.2 .1,1.8-.1,1.9 .1,2.2 .4,1.8 1.1,1.4-.5,1.5-1.6,1-1,1.7-1.3,1.6-1.3-1.2-1.2-1.6-1.4-.6-.6-2.3 1.2-2-1.1-2.3 .7-.4-.7-2.5zM222.9,2457.4l-.8,.5-1.4,0-1.2-.3-.7-.6 .7-.4 1.4-.1 1.2,.3zM224.6,2461.5l-.1,1.4-.7,1-1.1-.5-.7-1.2-.1-1.5 .8-.9 1.2,.5zM227,2478.2l0,.9-.5,.4-.6-.2-.4-.8 0-.7 .4-.8 .6,.5zM221.8,2482.8l0,1.4-.6,.9-1-.1-.8-1.4-.1-1.6 .8-.6 1-.2zM216.2,2479.4l-.3,1.3-1.4,.6-1.5-.1-.9-1 .3-1.3 1.5-.4 1.3,0zM188.4,2464.9l2.3-1.9 .7-1 1.9-1 1.4,2.4-.2,1.3 1.7,2.2 .1,1.2 0,2.7-.6,1.3-.4,2.6 1.1,1.1 .5,1.7 .3,2.5-1.8-.6-2.6,.1-2.2-.2-1.9,.5-1.3,.2 .3-2.2 1.7-1.4 .8-1.5 .2-1.2-.2-1.7-.4-2.3 0-1-1.4-2.2zM193.8,2457.1l-.6,.6-1.3,.1-1.5,0-.7-.7 .8-.5 1.4-.2 1.4,.1zM198.1,2463.6l-.4,1.2-1,.2-1-.3 0-1.4 .4-1.1 .9-.2 .9,.2zM200.7,2479.7l-1,.4-1.1,.1-1.2-.2-.6-.7 .9-.4 1.1-.4 1.2,.5zM190.3,2476.1l-.7,.9-1.3,.2-1.2-.7-.3-1.1 .7-.9 1.4-.2 1.4,.6zM128.8,2423.8l1.5-.9 1.6-.2 1.8-1.8-.2,1.5 1.1,2.7 .1,3 1,1.6-.1,2-.7,1.9-.6,.8-1.6,2.1 0,2.3 1.1,1.8 .5,2.1 .4,1.7 1,1 1.9,1.7 .2,.8 1.8,1.4-.5,2.2-.8,1.3-1.7,2.3-2.4,.5-1.6,.4-.9,1.1-1.3,1.5-1.6,1.4-1,1-.8-2.3 .9-2.1-1.1-1.2 0-2.2 .4-1.8 .8-2.5 1.8-1.6 .2-2.2-.5-1.5 .6-1.9 .7-1.2-.4-2.2-.5-1 0-2.1-1.1-1.6-.6-2 .8-1.8-.8-2.8 1.4-1.3zM128.6,2423l-.6,1.5-1.4,.3-1.3-.7-.3-1.6 .8-1.3 1.3-.7 1.2,.9zM135,2433.5l-1.1,.4-1.1,.2-1.4-.7-.3-1 1.1-.4 1.3-.3 1.2,.9zM143.8,2449.7l0,1.3-1.3,.6-1.6,.2-.8-1 .2-1.3 1.3-1 1.4,.5zM128.8,2450.8l-.5,1-.9,.6-.6-.8 .2-1.3 .6-1.2 .8-.3 .8,.5zM307.7,2445.3l2.1-1.5 .4-1 2.3-.4 1-1.9 1.7,1.2 1.6,.4 .7,1.3 .1,1.6 .6,2.1 1.2,2.1 .6,2-.5,1.5 .7,2 .4,1.9-.5,2.8-.1,2.4 .7,.4-.7,2.7-.6-2.3-2.5-1-1.3-1.4-1.1-1.2-.5-2.6 .3-.6-1.3-2-.4-2.6-1.5-1.6-2.4-.3-1.2-1.6zM314.7,2436.1l-.1,1.2-.9,.7-1.1-.5-.2-1.3 0-1.4 1.1-.6 1.2,.5zM321.3,2439.9l-.4,1-1.3,.3-1.2-.4-.7-.9 .6-1 1.3-.4 1.1,.5zM317,2463.5l-.7,.6-.9,.4-1.2,.2-.4-.6 .6-.6 .7-.5 1.1,.1zM119.6,1898.2l1-2 .7-2.1 1.2-1.2 0-2.5 .3-1.2 .2-1.8 .2-2.7 .2-1.4 1.1-1.7 .7-2 .8-.9 1.8-2.4 .6-1.6 0-2.5-.3-.9-.1-2.4-.3-.8-.3-2.2 1,0 2.2-.3 1.8-1 1.7-.4 2.1-.2 2,.8 1.9,1.2 2.2-.3 1.7,1.2 1.3-.3 2.4-1 2.2-1.6 1.8,.6 2.4,.1 2.2-.8 .8,.5 3.1,.2 2.2-.3 1.2-.3 .7,1 .7,3 1.1,.6 .4,2.2 .7,1.3 2.4,1.2 2,1.6 .8,1.8 1.7,.9 .7,1 2,1.3 .5,1.7-.3,1.4-2,1.8 0,1.5-1.7,2.1-1.4,0-2-1.4-2.4-.5-1.6,2.3-.4,1.8-1,1.7-.8,1.8-1,.5-1.4,2-1.6,.6-2.5,1.4-.7,.2-2.7,.4-1.8-1.2 .5-2.8-1.3-.6-1.3-2.3-.6,1.5-2.8,.7-.5,1.7-1.4,.9-3,.5-1.5,1.6-1.9,.4-1.5-1-2.2-.7-2.2,.3-1.9,.8-2.8-.5-1.1,.1-2,1.2-1.5-1.1-1.7-.1zM122.1,1889.5l-.6,1.3-1.4,.5-1.6-.3-.9-1.3 1.1-1.2 1.3-.7 1.4,.5zM118.4,1882.6l-.6,.9-1.3,.1-1.2-.8 .3-1.1 .5-1 1.4,0 1.2,.7zM173.5,1868.1l-.2,1.3-.9,.7-1.2,0-.5-1.3 0-1.3 .8-.9 1.2,.4zM178.9,1874.3l-.9,.6-.9,.7-1.3,0-.6-.4 .3-.7 1.2-.6 1.4,0zM181.1,1881.1l-.2,1.1-.6,.7-.5-.7-.4-1 .3-1.1 .5-.7 .6,.6zM176.6,1887.4l-.6,.8-1.3,.4-1.2-.5-1.1-.8 1-.8 1.3-.3 1.4,.3zM154.1,1894.9l-.2,.8-1.2,.3-.6-.8-.7-.6 .5-.8 1.1-.1 .9,.4zM147.9,1905l-.7,1.1-1.1,.9-.4-1.2 .3-1.5 .7-1.3 .9-.2 .8,.5zM118.8,1903.6l-.4,.5-.9,.4-.8-.4-.7-.6 .8-.5 .8-.5 1,.3zM214.4,1868.9l1.7-1.5 2.9-.9 1.3-.6 1.6,.7 2.4,.6 1.5-.3 2.3,1 .7,1.3 .9,1.3 .6,2.7-.3,1.5 1.2,2.4 .8,1.9 1,1.6-.7,1.5-1.7,1-1.4,1.2-1.1,1.2-.9,.2-2.7-.1-1.9-.1-1.4,1-.8-1.7-1.1-2-2,0-.9-2.2-.2-1.2-2.1-2.4-.7-2.3 .3-1.5-.4-2.4zM220.3,1863.3l-.2,1.2-1.3,.7-1.5-.1-.8-1 .4-1.2 1.2-.8 1.5,.1zM230.4,1864.8l.2,1.3-1.4,.3-1.1-.6-.4-.9 .2-1 1.2-.6 1.4,.3zM238.7,1883.1l-.3,1.5-1,.5-.7-.7-.2-1.5 .6-1.2 .8-1 .7,1zM233.9,1888.6l0,1.6-1.3,.5-1.2-.3-.9-1.3 .3-1.6 1.2-.7 1.3,.4zM222.6,1888.2l-.3,1.6-1.1,.6-1.3,.2-.8-1.5 .2-1.5 1-1 1.4,.2zM211.8,1886.4l-.3,.8-.8,.2-.7-.4-.4-.8 .6-.7 .7-.4 .9,.4zM228.1,1898.2l.4-2 1.7-1.1 .9-1.5 .9-1.3 1.6,.5 2.4-.1 1.5,.6 1.3,1-.9,1.2-.3,2.6 .2,.7 .1,2.3-2,.7-1.3,2.4-1.6,.8-1.1-1.7-1.2-1-1.4-1.6zM245.6,1891l-.3,.9-.5,.8-.6-.6-.1-1.1 .1-1.2 .6-.3 .6,.3zM233.4,1908.2l-.3,.9-1.2,.6-1.3,.1-.8-.4 .2-.9 1.3-.7 1.3,0zM107.9,1908.9l1.3-.8 2.1-1.9 .2-.5 2.2-.7 2-.6 1.7,1.1 3.3-.6 1,.6 2.9-.3 1.8-.2 1.2,2.4 1.1,1.1 1.6,1.4 .7,2.3 .3,.9-.6,1.6 .6,2.1-.5,.7-1.3,1.4-2.5,1-.6,1.8 .1,1.1-.7,3.1-.8,1.6 .4,2-2.3-.7-.7-2-1.8-1.2-2.1-1.5-.9-1.8-.9-1.6-1-.1-2.8,0-1.1-.9-1.4-2.3-.1-1.6-.5-2-.8-1.1-.6-1.8zM128.4,1902.9l-.1,1.2-.6,.5-.6-.5-.1-1.1 0-1.3 .6-.5 .6,.6zM138.8,1918.3l-.6,1.4-1.4,.3-1.5,.4-1.2-1.1 .8-1.5 1.3-.8 1.5,.2zM129.8,1925.4l-.5,1.1-1,0-.5-.7-.4-.9 .6-.8 .9-.1 .7,.5zM127,1930.8l-.7,.6-1.3,.1-1.2-.4-.5-.7 .5-.6 1.4-.2 1,.6zM115,1923.7l-.6,.7-1,.6-1.5,.2-.6-.5 .4-.7 1.2-.5 1.3-.2zM139.1,1908.9l1.6-.2 2.5-1.7 .8,0 1.6,1.8 .7,1.1 .8,2.1 1.8,1.8 1.3-.2 2.2-1.3 1.4-.4 .5,1.4-.2,2.8 .2,1.8 .5,1.8-1.5,1.5-.2,1.9-1.3,2.4-.9,2-.3,2.4-.6,.9-2,2.5-.1,1.1-1.3-2-.1-1.5-1.5-1.4-.4-1.3-1-2.4-.6-2-.9-2.1-.1-2.6-1.3-.9-.6-2.4-.6-2.4 .3-1.5 .2-.5zM142.7,1903.8l-.7,1.2-.8,.1-.4-.7-.1-1.2 .7-1.1 .9-.5 .2,1zM159.5,1908.6l-.5,1.2-.7,.8-.9-.4 0-1.7 .2-1.5 .9-.5 .8,.7zM139.3,1912.8l-.4,.4-.6,.3-.6-.4-.2-.6 .4-.5 .6-.2 .7,.3zM164.5,1908l2-1 3,.4 1.3,.5 3.1-.9 1.4,0 1.7,.7 1.1,2.5 1.5,.1 .6,1.6-.3,2-1.7,1.6 0,1.3-.9,1.5-2-.3-2,1.7-1.8-.9-1.3-1.1-1.7-1.9-.3-1.2-1.2-2.1-2-2.4zM160.1,1905.7l-.6,.5-1.4-.2-1.3-.7-.1-.8 .8-.4 1.3,0 1.1,.8zM187,1910l-.7,1.1-.6,1-1.2-.2-.7-1.5 .5-1.3 .8-.7 1.2,.1zM190.9,1908.9l1.8,.2 2.2-.6 1.4,0 2.5-.5 1.5,.3 2.4,.4 1.4-.8 1.7,1 3,0 2.2-.4 1.8,1.4 1,.3 2.6-.3 .1,2.6-.1,1.7-1.1,1.3-.6,2.8-.3,1.4-1.7,.2-2.9,.4-1.3,1.4-1.1,.2-2.7,.6-1,1.1-1.4,1.5-1.1,2.3-.5,2.1-2.1-1-2.2-.8-1.5-.2 0-2.4-1.5-1.9 .5-1.2-1-2.3 .1-2.7-.7-2-.9-1.8-.7-2.1zM221.9,1918.4l-.5,1.3-1,.3-.7-.8-.6-1.2 .9-1 .8-.7 .8,.8zM206.7,1930l-.2,1.1-1.5,.4-1.4-.1-1-.8 .5-1.2 1.5-.2 1.5-.2zM201.3,1930.9l-.6,1-1.2,.8-1.5-.1-.4-1 .1-1.1 1.4-.5 1.4,0zM203.7,1929.5l.2-1.9 1.9-2.7 .8-1.3 2.1-.8 2.5,.1 .8-2 2.4-.2 1-.8 1.9,.3 2.8,.4 .7,0 2.4-.9-.5,1.9 .8,2.4-.4,.9 .7,2.7-.3,1.1-.1,3 .5,1.7-.5,2.2 .8,1.7-1.4,1-1.3,.4-2.5,1.9-.7,.6-1.7,2.7 .5,.5-1.5,3.1-1.2,1.5-2.3-1.5-.4-1.1-2.2-1.3-.9-.7-.7-3-1,0-1.3-2.2-1.1-1.3-.4-2.7 1.1-1-1.3-2.2zM226.2,1938l0,.7-.6,.4-.8-.1-.4-.4 .1-.7 .6-.3 .7-.1zM214.9,1950.1l-.3,1.1-.6,.1-.5-.4-.3-.9 .3-1.1 .6,0 .7,0zM201.1,1941.8l-.8,.8-1.2,.2-1.3-.5-.3-1 .6-.9 1.3,0 1.2,.5zM180.2,1959.8l.3-1.9 2-1.2 .8-1.5 .6-3.2 1.2-1 1.4-.7-.2-2.2 2-.9 .7-2.1 2.6-1 1.8-1.4 1.5-.5 1.9,1.8 1,1.1-1.2,1.8-1.8,1-.5,2.3-1.4,.8-1.4,1.1-.3,.6-2.3,1.7-.9,1.5-1.7,1.5-.2,1.3-1,0-2,2.1-.7-.2zM199.2,1937.4l-.5,1.3-1.5,.4-1.5-.4-.6-1.3 1.1-.9 1.1-.9 1.6,.5zM199,1948.4l-.4,.5-.4,.5-.7-.2-.2-.5 0-.6 .6-.4 .6,.2zM188.1,1961.6l-.6,.7-1,.4-1-.5-.3-.8 .4-.8 1-.2 .9,.5zM120.6,1954.9l.7-2.4 1.5-1.3 .4-2.7 .3-1.4 2-2.2 .4-.4 1.5-2.3 2.7,.7 1.6,2 1.6,.2 1.3,1.2 2.7,.3 1.4,1.6 1.4,.8 .7,2.7 1.1,1.6 1.2,1.1-.1,2.4-.6,1.3 .9,2 1,2.7-.7,1.2-.3,2.5 .7,2.1 0,1.9-1.4,2.4-.3,1.3-1.2,2.2-.9-.8-1.6-.5-2.4-.7-1.9-1.4-.8-1.6-.8-.8-1.4-1.1-1.2,0-2.1-.5-1.6-.4-1.2-1.3-.3-1.1-2.2-1.3-.2-2.2-.3-1.7-.1-2.7-1-.7zM123.5,1944.3l-.8,.6-1,.1-1-.5 0-1.2 .8-.7 1.1-.1 .8,.7zM126.4,1938.5l0,1.2-1.3,.6-1.3-.2-1.2-.8 .7-1.2 1.2-.7 1.5,0zM134.4,1943.8l-.4,.7-.8,.8-1-.2-.8-.3 .4-.7 .7-.7 1.2-.1zM149.9,1953.5l0,.6-.6,.3-.6-.1-.5-.4 .2-.6 .6-.3 .6,0zM149,1970.3l0,.9-.6,.8-.9-.2-.7-.8 .3-.9 .5-.8 .9,.3zM132.4,1973.9l0,1.5-1.7,.2-1.3-.5-.7-1.3 .6-1.3 1.5-.2 1.2,.4zM126.4,1992l.2-2.1 .6-1 .9-2.3 .3-1.4 1.5-.7 1.9-1.5 1.5-1.5 1.9-.2 1,1.5 2.1,1.4 .8,1-.4,1.3-.5,2.1-.5,1.2-.5,2.2-1.7,1-2.6,1-1.6,1-1.8-.4-2-1.4zM121.8,1994.2l-.6,1.1-.9,.2-.8-.5 0-1.4 .9-1 .9-.4 .8,.5zM136.9,1977.7l-.3,.8-.8,.6-1.1,.2-.4-.7 .2-.8 .6-.8 1.1,0zM141.8,1995.6l-1.1,.8-1.2,.2-1.1-.4-.6-.9 .8-.8 1.2-.5 1,.8zM132.5,2001.6l-.4,1.3-.9,.5-.9-.7-.5-1.2 .3-1.6 1.2-.2 .9,.5zM149.9,1974.4l.3-2.3 1.9-1.3 0-2.5 .5-1.3 1.2-2.3 1.4-1.7 2.3-.4 .9-1.5 1.3-1.3 1.5,.5 .3,1.8 2.1,.6-1.4,1.9 .9,2.3-1.3,1.5 .2,1.5-1.4,1.6-1.7,2.2-1.1,.7-1.5,2.2-1.5,.8-1.2-1.5-2.1,.2zM149.9,1978.3l-.5,.6-.7,.2-.9-.1-.1-.8 .3-.6 .8-.2 .8,.2zM169.4,1958.3l.1,.6-1.1,.5-1.2,.2-.5-.5 .4-.7 .8-.5 1.2-.2zM168.2,1975.8l-.3,.8-.9,.3-1,.1-.5-.9 .5-.8 .7-.4 1,.1zM168.5,1988.1l.8-1.2 .9-2.4-.3-1.2 .1-2.1 .7-2.7 .7-1.1 1.2-2.4 1-.6-.1-2.6 1.2-2.1 .6-1.1 2,.9 1.6-.9 2.1,.4 1.5,.3 2.6,.2-.6,2.5-1.1,1.4 0,1.9-.3,1.1 .6,2.2-.7,1.8 .9,1.2-.7,2 .9,1.6-1,.7-2.2,.8-1.9,1.9-1.7,.5-1,1.1-3.1,1.6-.8,1.2-2.1-2.1-.9-1.8zM190.5,1966l-1.1,1.1-1.4,.3-1.4-.4-.4-1.2 .7-1 1.3-.6 1.3,.6zM179.7,1995.4l.1,1.3-.8,.7-.9-.4-.7-.8-.3-1.4 1-.2 .9-.2zM171.7,1998.7l-.3,1.3-.9,1.1-1.4-.2-.7-1.3 .2-1.2 .8-1.2 1.4,.5zM58,1937.3l1.8,.8 2-1.1 2.1,1.5 1.9-.2 1.6-1.7 1.7-.5 2.6-.8 1-1.8 2.7-.3 .6-1 2-1.8 1.5-.9-.3,2.6 1.1,.8 .5,2.5 .7,1.9-.4,1.7-1.1,3 .6,1.3-.9,1.4-.2,2.4 .1,2 1.4,1.8-1,1.5 .5,3.3 1,1.1-.5,2.2-1.6,.5-1.2,1.6-.2,2-1.4,1.6-1.5,1.1-1.9,.4-1.7,.6-1.8-.2 .6,2.2 1.5,2.1 .3,1.5 1.1,1.3 .4,2.7-.4,2.2-2.6,.1-.7,2.9-1.5,1.1-.6,1.5 1,1.3 .3,2.6 .3,1.8-.4,1.6 .7,2.5 1,1 1.7,2.7 1.5,0 .7,2.2 1.3-2.7 .5-1.1 .5-2.7 .5-.9 .2-2.4 .4-1.5 1.4-1.8 .4-2 1-1.3 2-1.4 .6-1.8 .9-1.8 .9-2.8 1.1-1.3 0,2.1 .7,2.6 1,1.4 .9,1.8 .4,1.9 2.6,1.4 .9,.6 1.8,1.3 2.5,.6 1.6,1.5-.3,.7 1.6,1.7-.7,2.1-1.2,1.6-.9,.4-1.2,2.5-.9,1.3-1.8-.2-2.2-.6-1.8-1.2-1.3,2-.4,1.6-.7,1-1.5,1.3 1.1,1.2 1.7,.7 1.7,2.5 1.3,.5 2.2,1 1.5,1.9 .2,.2 2,1.7 1,2.5-1.3,1.5 1.1,2.2 .2,1.7-2.1,1-1.3,1.5-2.5,.7-1,.7-2.1,0-2.4-.3-1.3,.3-.9-1.2-2.2-1.4-1.5-1.7-1.3-1.6 .2-2.7-.5-1.4-1-2.3-.6-1.4-2.4-1-1.5-1.7-1-1.2-.9,1.6-.1,3 1.1,1.4-1.1,2.4 0,1.3 .4,2.8 2.1,.4 .4,2.4 1,2.3 1.2,1.2-.5,2.1 1.1,3.2 .2,1.3 2.1-.4 1.9-.5 1.8-1.1 1.3-.8 1.7,0 2.7-1 1.4,.1 1.7-.2 1.3-1.2 1.4-.7 2.7-1 1.5-1 .9,2.7-.7,1.3 1.1,1.5-.4,2.3-1.4,1.4-1.1,1.9-1.4,1.3-1,1.3 2,1.1 .3,1.9 1.8,.8 1.8,2 1.3,1.8 1.1,1.1 .7,1 .8,2-1,1.1-1.9,1.6-1.3,1.6-2.4,.2-1.2,1.3-.8,1.7 0,2.2-.5,1.5-.1,1.9-.6,2.5 1.3,2 1.3,1.7-.2,2 1.1,1.4 1.4,2.7 .5,2.5 0,1.8-.2,1.9-.7,1.9 .4,1.7-2.1-.8-1.8-1.1-2.2-.5-1.7-1.5-1-.1-2.5,1.2-1.4,.8-.3-2.2-2-.7-1.1-.7-.5-2.2 .2-2.3 .2-1.4-1.1-1.8 .3-2.2-.6-2.1-.7-1.6 1-2.8-.5-2.3-.8-1.7 .1-1.4 .7-1.5 .7-2.5-.2-2.6 .9-1.6-.2-1.6-2.2-1.6 0-2-2.5-.8-1.1-1.4-1.9-.3-2.5-1-.8-.5-2.7-1.2-1.4-.6-1.7,.7-2-.7-2.7-.3-1.8-1.5-.6-.4-1.5-2.1-.5-1.9 .3-2.5-.2-1.7 .5-2.8-.8-2.3 .9-2.2 .1-1.6-.3-3-.3-.8 1.1-3.1-1.2-2.6-.2-.9 .8-2.7-.2-1.9 .3-3.3 .2-1.1-1.3-3.1 .6-1.7 1-2.2-.8-1.5-.7-2.7 1.3-2.2-1-1.7 .2-3.2 .3-2 0-1.4-.5-2.6-.1-2.4 .3-1.2-.3-2.9 .9-1.5 .2-2.2-.2-2.9 0-1.8 .1-2.5 0-2.8-.6-2.2 .7-1 .1-2.3 .1-2.6-1.1-2.2 .2-2.3 0-1.1 .4-2.4zM67.1,1933.2l-1,.3-.7,.6-1-.6-.1-.8 .5-.6 1-.3 1.1,.5zM82.1,1926.4l-.7,.5-.9,.1-1.2-.3 .1-.8 .4-.6 1.1-.2 .9,.5zM83.3,1952.4l-.3,1.3-1.5,.4-1.3,0-1.1-.9 .6-1.2 1.2-.7 1.3,.3zM79.5,1960.6l.1,1.4-1,1-1.2-.5-.8-1.1-.2-1.6 1.2-.5 1.2-.1zM72.5,1970l-.6,1.2-1.1,.4-1-.4-.7-1.2 .7-1.1 1-.1 1.2-.1zM86.2,1970.8l.3,1.5-1,.6-1.2,0-.6-1.4-.2-1.3 .8-1.1 1.3,.4zM90.3,1982.3l-1,.8-1.6-.1-1.3-.7-.3-1 .7-.8 1.5-.1 1.2,.8zM103.1,2013.3l-.5,.4-.7,.2-.6-.5 .1-.7 .4-.6 .7-.1 .6,.5zM95.7,2032.2l-.5,1-1.3,0-1.2-.6-.1-1.1 .4-1 1.4,.1 1.1,.6zM88.1,2028.6l.1,1.2-1.2,.5-1-.4-1-.7 .4-1.1 1-.7 1.2,.2zM77.6,2025l-.6,1.3-1.3,.5-1.3-.4-.3-1.4 .2-1.4 1.4-.3 1.2,.5zM74.8,2010.2l.1,1.2-.5,1-1-.4-.5-1.2-.4-1.3 .7-.8 1,.7zM68.9,2004l-.2,1-.7,.5-.9-.1-.5-.8 .1-.8 .6-.8 .9,.3zM77.2,2036l-.7,1.7-.9-.4-.8-.4 .2-1.6 .9-1.1 1-.6 .4,.9zM96,2032.2l-.3,1.3-1.2,.9-1.8,.3-.5-1.3 .3-1.2 .9-1.2 1.7,.2zM102.8,2034.3l.1,1.5-.8,.4-.7-.4-.4-1.3 .1-1.4 .6-.5 .7,.3zM98.2,2040.1l-.5,1.2-.8,.7-.8-.7-.4-1.2 .2-1.5 1,0 .9,.1zM105.6,2049.7l-.4,.7-1.1,0-.8-.6-.5-.7 .6-.6 1.1,.1 .9,.4zM92.1,2085.3l-.4,1.2-.5,1.1-.8-.7-.6-1.3 .2-1.5 .7-.7 .9,.4zM89.7,2089.6l-.7,.8-1,.6-.6-.9 .1-1.2 .8-.8 .9-.4 .7,.7zM82.2,2080.5l-.2,1-.7,.3-.5-.6-.3-.9 .5-.7 .6-.4 .7,.2zM76.8,2045.5l-.2,1.2-1.1,1.1-1.6,0-.9-1.1 .1-1.4 1.3-.8 1.6-.1zM58.4,2042.2l-.2,1.2-.6,.3-.6,0-.5-1.3 .3-1.1 .4-.6 .7,.3zM60,1911.9l2.2-1.1 1.5,.7 2.6-1.3 1.5-.3 1.1,2 0,1.5 .8,2.4-1.5,1.2-.4,1.6-.5,.9-1.5,2.2 1.1,2.6 .2,2-.6,1.3 1.4,1.6-.1,2.2-1.8,.8-1.6,1.3-.5,1.8-1.8-1.5 .1-2.8-2-1.6-.2-1.9 .6-1.3-.8-2.4-.6-1.6 .9-2.4 .4-1.6-.6-3.2-.6-.9zM60.3,1906.8l-.9,.9-1.3,.4-1.6,.1-.6-.8 .7-.8 1.2-.7 1.3,.4zM75,1918.2l-.3,1.1-.8,.5-1.1-.1-.8-.9 .5-1 .8-.9 1.1,.4zM74.6,1919.7l1.7-1 .7-2 1.4-2.5 1.1-1.3 1.8,0 1.7-2.2 2.9-.6 1.4-.2 .6,1.9 1.4,2-1.6,1.3-2.3,1.3-1.6,1.1-1.4,1.2-.6,2-1.4,1-1.7,.8-1.1,1.1-.4-1.2-1.1-.9zM78.9,1909l-.2,1.4-.6,.8-.7-.7-.5-1.3 0-1.8 .8-.2 .8,.3zM90.9,1906.3l-.6,.8-1.1,.5-.8-.9-.6-.9 .7-1 1.2-.2 1.1,.5zM93.1,1913.3l-.2,.8-.8,.5-.9,0-.4-.5-.1-.7 .8-.7 .8,.4zM76.6,1924.5l-.1,.6-.9,.1-.8-.2-.3-.5 .3-.5 .8-.3 .7,.4zM58,2042.9l1.6,.3 1.9-.5 3,.4 .7,.3 2.3-.2 2.2,.6 2.8,1.2 1.3,0 2,.3 1.8,1.5 .4,1.8-.9,1.8 .3,2.8-1.3,1.2 .5,2.1-2.1,1.7-1.2-.1-1.3,1.3-2.3,1.1-1.5,.3-2.7,.9-1.5,1.4-2.1,1.3-2.2,.8-1.7,1.1-.6-1.7 1-3.2-.7-1.1 .6-3.2-.5-1.8 .4-2.1 .5-2.2-1.4-2.4-.1-1.7 1.3-1.2zM55.1,2039.2l-.6,.9-1.5,.3-1.3-.7-1-.9 .8-.9 1.7,0 1.3,.4zM72.8,2064.4l-.5,.4-1.1,0-1.2-.4-.3-.7 .7-.4 1.1,0 1.3,.4zM70.7,2091.7l.6-2.3 1.6-2.1 .6-1.7 .2-2.1 .9-1.5 1.3-1.6 1.8-1.4 1.8-.9 .1,2 1.3,1.2 1.4,3.3 .1,1.3-.5,1-.8,1.7-1.4,1.5-1.5,1.6-.6,2-.9,1.6-1.7,.8-2.3,1.5-1.4-1.9 .2-1.4zM65.1,2093.3l-.2,1.3-.7,.7-.8-.8-.5-1.1 .4-1.2 .7-.7 .9,.4zM74,2076.7l-.2,1.2-.3,1.1-.7-.6-.2-1.5 0-1.4 .4-1 .6,.8zM85.5,2085.5l-.2,1-1.4,.1-1.3-.4-.4-1 .7-.8 1.2-.3 1.5,.3zM87.3,1956.8l1-1.2 .8-2.1 0-3 1.4-1.8-.5-2 1.2-1.6 2,1.4 .5,1.8 1.4,.7 .2,1.8-.9,1.9-.3,1.5-1,2.4 .1,2.2-1.4,1.3-2.5,.7-1-2.1zM94.8,1941.2l-.7,1.2-1.3,.2-.9-.7-.4-1.2 .8-.9 1-.6 .8,.8zM90,1966.9l-.8,.9-1.1,.1-1.1-.5-.2-1.2 .9-.6 1-.4 1,.6zM97.1,1966.6l1.1-1.3 1.1-2.5-.5-1.9 1.2-2.1 1.7,1.5 .1,.7 .6,1.7 1.5,2-1.2,1.4-.6,1.9-1.1,1.5-1.6-1-1.1-1.2zM97.8,1968.8l-1,.7-1.4,.2-1.4-.8-.2-1.1 .8-.7 1.4,0 1.5,.6zM101.2,1955.9l.2,1.4-.6,.3-.7-.1-.5-1.1-.1-1.3 .4-.8 .8,.7zM102.3,1977.1l-.6,.9-1.1,.4-1.4-.1-.3-1 .3-.9 1.2-.4 1.2,.2zM152.8,1945.1l.4-2.3 1.8-1.1 .8-2.5 1.2-.1 2.1,1.9 1.5,.2-1.2,2.7-.7,.8-1,2.4-1.4-1-2.2-.4zM62.9,2105.4l1.2-1.7 1.6-.7 2.1-1.5 .5,2 .4,2.3 1,1.6-.5,.7-2.4,1.3-1,1.9-1-1.8-.9-1.5zM71.7,2096.8l-.3,1.2-.7,.9-1.2,0-.9-1 .5-1.1 .5-1.1 1.2,.2zM79,2108.7l-.5,1.1-.9,.5-.8-.6-.4-1.2 .7-1 .8-.7 .9,.6zM58,1872.8l2.2,.7 1.6,.8 1.1,.4-.1,2.3 .2,1.3 1.3,1.9-.4,1.4-1.7,.8-2.5,.1-1.7,.1 .5-1.5 .1-1.8-.1-2.7-.1-2.2zM57.9,1886.6l-.6,.7-.8,.3-.5-.7-.5-.9 .7-.8 .9-.1 .7,.5zM77.6,1870.8l1.2-1.3 2.4-.4 2.2-.2 .3,2.5 .5,.7 1.2,2.6-1.3,1.3-1.4-.4-2.2,1.1-1.1-2.3-1.3-2.2zM87.4,1860.9l-.8,1.4-1.1,1-1.5-.5-.9-1.3 .4-1.6 1.4-.8 1.6,.4zM78.6,1882.6l-.4,1-1.1,.2-1.1-.1-.6-.9 .3-1.1 1.2-.3 1.1,.3zM66.8,1888.4l2.2,.3 .8,.8 1.9-.1 .1,2.2-1.1,1.1 0,1.6-1.4,.3-1.8-.7-1.7-.6-.4-1.3 .3-1.7zM78.9,1884.2l-.4,1.1-.6,.8-.8-.6-.2-1.4 .4-1.1 .6-.6 .6,.6zM74,1897.8l-.3,.6-1.2,.1-1-.2-.6-.4 .4-.5 1.1-.3 1.1,.2zM62,1896l0,.9-.9,.1-.8-.3-.1-.7 .1-.7 .8-.4 .7,.5zM190.9,1900.1l1.9-1.5 1.4-1.4 .7-1.9 1.4,1.5 2.5,.4-1,1.4-2.4,1.2-.5,2.3-2.6-1.6zM198.2,1890.4l-.1,1.1-1.1,.9-1.5-.1-.7-.9 .2-1.1 1.2-.7 1.6-.2zM203.7,1896.7l.2,1-.8,.5-1,0-.4-.9 .2-.9 .5-.8 1,.2zM194.5,1908.9l-.3,1.2-1.1,.5-1.1-.5-.2-1.2 .2-1.3 1.1-.3 1,.4zM192.9,1883.5l2.7-1.2 1.2-.7 .8,2.4-.1,.9 .3,2.5-2.3,1.1-1.6-.1-.1-1.2-.1-2.5zM188.9,1881.4l-.6,.5-1,.5-1-.3-.6-.5 .5-.6 1-.2 1,.2zM201.5,1877.2l-.6,1.3-.6,.8-.6-.8 0-1.6 .5-1.2 .6-.7 .5,.8zM130.3,2050.7l1.3-1.3 .4-2.1-.5-2.4 .8-2 0-2.8 1-1.1 1.7,.3 2.2,.6 .1,1-.9,3-.2,.8-.1,1.7-.9,2.3-.8,2.3 0,1.4-1.1,2.2-1.6-1-1.1-1.1zM133.5,2034l-.5,.5-.8,0-.8-.1-.1-.5 .2-.6 .8,0 .8,.1zM139.3,2053.8l-.5,.4-.5,.1-.6-.2 0-.7 .3-.6 .6,.1 .6,.2zM154.8,2105.4l.3-.9 1.6-1.7 .2-1.9 1.8-1.3 .6,2.3 .6,2.1 1.7,1.4-1.8,1.5 0,1.1-2.1,1.3-.8-1.5-1.7-.7zM153.2,2106.4l-.7,.5-.9,.2-1.1-.2-.2-.7 .3-.7 1.1-.2 1,.4zM158.5,2096.4l-.2,1.2-.8,.4-.6-.5-.5-.9 .1-1.2 .8-.3 .7,.3zM160.8,2113.3l-.4,1-1.1,.8-1.3,0-1-.5 .6-.9 .9-.7 1.4-.3zM143,2097.6l1.3-1.6 1.7-1.3 .8,2.7 .4,1-.2,2.1-1.7,1.6-1.3,1.4-.9-2.5 .4-1.8zM147.4,2089.9l.1,1.2-.5,.8-.8-.2-.6-1.2-.2-1.3 .5-.6 .9,0zM152.4,2104.9l-.4,.9-1.5-.1-1.2-.7-.2-.8 .4-.9 1.6,0 1.2,.7zM169.4,2037l.9-1.3 1-.9 1.1-1.7 .7,2.2-.8,1.5 .6,2.7 .4,1.4-.9,.7-2,1.3-1.1-1.2 .3-2.7zM167.7,2035.8l-.6,1.3-1.5,.7-1.2-.9-1-1.1 .8-1.2 1.4-.6 1.7,.2zM175.1,2028.2l-.2,1.4-1.4,.5-1.6,0-.8-1.4 .7-1.2 1.2-.9 1.5,.3zM176.9,2044l-.8,.9-.9,.1-1-.3-.1-1.3 .7-.9 1-.3 .6,.7zM229.1,2083.9l1.8-.3 .7-1.1 2.4-1.5 .9,2.2 1,1.3 0,2.4-1.2,.5-1.7,1.4-2,2 .2-1.6-1.3-1.2-.4-3zM240.2,2089.2l-.8,.6-1.3,.4-1.5-.1-.8-.5 .7-.6 1.4-.3 1.7-.1zM229.6,2092.6l-.3,.8-1.1,.6-1.2-.1-.8-.6 .6-.8 .9-.6 1.2,.1zM122.5,2003.8l1.4-1.8 .1-1.5 1.4-2.6 1.1,1.1 .3,1.5 1.6,1.3-1.1,1.7-1.9,1.3-.9,1.9-1.6-2.2zM118.5,2007.3l-.3,1.1-1.1,.9-1.4,.1-1-.7 .2-1.2 1.2-.9 1.3,.1zM126.3,1993.4l-.4,.6-1.4,.1-1.6-.2-.3-.8 .8-.4 1.2-.3 1.3,.3zM138.2,2007.7l1.9-1.8 .9-1.1 .3-.5 1.7-1.5 .8,.8 .8,1.9 .4,2.2-1.3,.7-1.9,.2-1.7,1-.6-1.4zM134.5,2006.7l.1,1.4-1.5,.6-1.4-.4-.7-1.3 .5-1.3 1.3-.9 1.3,.7zM100,2008.7l2-1.7 1.6-.4 1.1-1.4 1.2-.5 1.6,1.1-.1,2.5 1.4,1.3-1.1,1-1.8,1.9-2,1-.9-1.6-1.4-1.2zM102.1,2020.4l-.3,.8-.7,.2-.6-.3-.2-.9 .3-.8 .7-.1 .7,.3zM104.9,1988.1l1.8,1.3 1.3,1.2 .8,1.4-.1,2 1.9,2.7-.6,.9 .8,2.3-1.6-.3-2.3-1.7-.4-1.6-.5-1.5-.3-2.3 .3-2.1zM112.7,1986l-.5,1-.6,.4-.5-.5-.1-1.1 .4-1 .6-.8 .5,.9zM284.4,2064.2l.9-2.3-.3-1.3-.3-1.9 1.2-2.7-.2-.9-.3-2.8 .3-1.8 1.1-2.6-1-1.3 1.2-1.4-.3-2.1 .7-2.3 1.3-1.4-.2-2.6 1.1-1.2 1.6-1.8 .1-1 2-1.4 1.2-.7 3.2,.3 .6-.4 2.5-.6-.1,1.4 1.3,2.2-.5,1.9-.1,2.5-1.1,.8-.8,2.3-.1,2.6 .4,1.3-1.6,2.5-.1,1.4 .4,1.8-1.1,2.6-1.1,1.5-2.4,1.2-1.6,0-1.8,1.4-.1,1.3-.3,2.4-1.6,3 0,1.5-.7,1.6 0,2.4-.8,1.7 .1,2.5-.8-1.5 0-2-.1-2.3-1.5-2.6zM282.5,2052.2l-.7,1.5-.9,1.1-1.6,.1-.9-1.3 .1-1.5 1.2-1.1 1.8-.2zM293.2,2026.9l-.1,1.3-.8,1.2-1.2-.8-.8-1 0-1.4 1.1-.6 1.2,.2zM304.2,2030.9l-.6,.9-.7,.7-.8-.6-.3-.9 .3-.9 .7-.5 1,.3zM303.4,2059.5l-.4,.8-1-.2-.8-.5-.3-.7 .5-.7 1.1,0 .6,.6zM289.5,2062.1l-.3,.9-1.2,.8-1.2-.4-1.2-.2 .4-.9 1.3-.8 1.5,.1zM287.1,2077.8l0,1.1-.5,.6-.6-.6-.7-.7 .2-1.1 .4-.8 .7,.5zM309,2057.4l0-2.9 1.1-.6-.6-2.4 1.6-3.1-.5-.6 .5-2.7 .9-2.3 1-1-.2-1.8 1.4-2.3 .3-.9 2.1,1.3 2,.1 1.2,1.2 .9,2.2 2,1.4-1.5,2.2-.7,1.4-1.2,1.2-.7,2.5-.5,1.4 0,2.1-.8,.9-.1,2.7-.6,2.1-.3,2 .5,2.6-.3,1.5 .6,1.3-.6,3.2 1.4,.8-.5,1.9 .5,2.4-1,2 .4,1.1-1.2,2.2 0,2-.9,2.2 .7,.4 2.7,1.2 .7,1.2 .6,1.7 .2,1.4 .5,1.7-1.6,.9-.5,1.3-2,1.2-2.2-.4-2.1,.2-1.1-1.2-.3-2.4-.8-1.2 .3-1.5-.4-1.9-.9-2.6 .3-2.5 .8-1.3 .2-2.4-.1-2 .2-1.3 .3-1.6-.4-2.5-1.9-2.4 .8-1.4-.9-1.7 .1-2.2 .5-2.3-.6-2.5zM306.8,2050.3l-.6,.6-1.3,.2-1.1-.4-1.1-.5 1.1-.6 1.1-.1 1.2,.2zM310.7,2040.7l-.5,1.2-1,0-.9-.5-.2-1.4 .9-1.1 .9,0 .9,.5zM317.5,2033l-.1,.8-1.3,.7-1.4-.1-.5-.7 .2-.8 1.3-.5 1.3-.1zM322.8,2035.2l-.7,.8-1.5,.3-1.9,.1 0-1 .3-.8 1.5-.4 1.5,.2zM321.5,2053.1l-.5,1.5-1.8,0-1.1-1.1-.8-1.3 1.2-1 1.5-.5 1.3,.9zM307.7,2090.6l-.7,.7-.7,.2-.7-.3 0-1.1 .5-.8 .8-.4 .5,.8zM303.8,2063.8l-.2,1-.7,.7-.9-.4-.7-.6 .2-1 .7-.7 1,.3zM294.6,2065.6l1.8-1.2 .7-1 2.3-1.9 1,1.3 1.6,1.4 1.5,1.4 1.2,1.9-.2,1.7 .4,1.9 .7,2.1 1.8,.8 .9,1.2 .1,2.2-.4,1-.3,2.6-.1,1 .9,1.5 .6,2.4 .6,1.6-.5,2.1-.1,0-1.5,2 1.1,1.9 1.1,1.2 1.3,1-.5,1.8-1.1,2 .2,1.7-2.2,1-.8,1.7-2.5,.7-1.9,1.8-1.3,1.2-1.6,.4-1.3-2.1-1.1-1.5-.3-1.9 .4-1.6-.5-2.6 .8-.3 .7-2.3 1-1.9 1.2-.7 1.2-1.5-1-1.9-1.4-1.3-.4-2.2-1.3-1.5 .1-2.2-.3-.9-1.2-2.7 0-1-.1-2.3 1.9-2 .3-1.2-1.9-.8-1-.8-1.3-1.1 .3-2.1zM305.2,2065.4l-.5,1.4-.6,.2-.5-.4 0-1.5 .5-1.6 .7-.3 .6,.6zM315,2069.9l-.4,.6-.8,0-.6-.4-.2-.7 .4-.6 .8,.1 .6,.4zM314.1,2079l-1,.6-.9,.4-.7-.7 0-1.2 .8-.8 .9-.2 .8,.6zM315.5,2100.5l-.3,.9-1.5,.7-1.5,.2-1-.4 .4-.9 1.4-.8 1.3,.1zM307.8,2110.1l-.7,1.1-1.4-.3-1.4-.7 .4-1.2 .4-1.3 1.6,.2 .9,1.1zM301.8,2098.1l-.4,.8-1.4,.4-1.5-.3-.3-.8 .5-.8 1.3-.5 1.6,.3zM297.9,2069.9l-.3,.7-.6,.6-1,.2-.5-.7 .2-.8 .7-.7 1,.1zM309,2106.6l.7,2.1 1.2,1.9 1.5,1.5 1.3,1.8 1,1.7 .5,2 1.6-1.6 1.8-1.2 1.5-1.9 1.9-.5 1.8-1.2 .9-1.8 .6,1.1 .8,1.6-1.4,2.1-.6,1.2-2.4,1.4-1.1,.8-.9,1.5-.9,2.5-.1,1.2-.8,1.6-1.4-1.8 .7-1.6-1.4-.7-.8-1.9-1.8-1-1.5-1.2 .3-1.5-2.1-3.1 .1-1.1-.6-1.7zM307,2107.7l.2,1.3-.2,1.3-.8-1.2-.7-1 0-1.3 .3-.9 .7,.4zM327,2114.7l-.5,1-1,.3-.6-.8-.5-.9 .6-.9 1-.2 .8,.5zM328.7,2104.2l-.4,1.2-.7,.4-.7-.3-.4-1.2 .4-1.1 .6-.6 .8,.3zM331.9,2111.4l-.6,.5-.8-.1-.9-.1-.6-.7 .8-.4 .8-.1 .9,.3zM317.4,2127.8l-.9,.9-1.3,.4-1.4-.6-.3-1 .7-.9 1.3-.6 1.1,.9zM306.1,2115.8l-.3,1.4-.7,1-1.2-.2-.7-1.4 0-1.4 .8-1 1.2,.4zM335.7,2117.6l.2-1.8 1.6-1.5 .2-2.2 .8,1.2 1.6,2.7 1.1,1.6 1.3,.3 2.7,.6 1.4,.5 1,1.3 .9,1.9 .2,2.2-1,2.3 .6,1.7-1.6,.7-.1,2.2 1.8,.8 1.3,2.3 1,1 1.3,1.7 .4,2.4 1.1,1.4 1.1,.9 1.7,.2 2,1.6-.4,1.8 .5,1.9-1,2 .2,1.1-1.8,1.3-1.6,.9-.7,.6-.4,1.4-1.3,1.6-1.1,1.1-.6,2-.7,1.5 1,2-1,2.7 0,1.9-1.9,1.8 .4,3-1.3,1.5-.1,1.6-.7,2.5-1.2,1.4-1,.3-2.2,1.6-.9-.6-2.1,1.4-1-.7-2.1,0-1.9-1.1-1.8,.4-.4-1.1-1.3-1.4-1.7-1.6 .6-1.3 1.4-2.6 0-1.5 1.5-1.1 1.2-2.4 .4-1.3 1-.7 1.1-1.8 .2-1.9 2.2-2.2 .6-1 .7-2.4 .5-1.4 1.6-1.6-2.2-.5-2.3-1.4-1-.9-2,.1-2.1-1.4 1.3-2.2 .1-1.6 1.3-1.7 1.1-1.7-1-1.8 1.4-2.2-.1-1.2-.4-1.3-2.1-1.9-.2-.9-2.2,.8-.6,2-1.5,2-.8,.9-1.8,1.2-.7-.3-1.3-1.1 1.6-1.7 0-1.7 1.8-.7 1.6-.7 1.5-2.1 .8-.8 1.6-.5 1.1-1.2 1.5-2.2 1.5-.7-1-2.5 .3-2.4-.4-1.8zM357.1,2140.8l-.6,1-.6,.9-1-.6-.5-1.1 .4-1.2 .8-.3 .9,.2zM363,2141.7l-.1,1.3-.7,.4-.6-.5-.7-1 .3-1.2 .6-.6 .7,.6zM361.9,2151.6l-.7,.7-.8,.4-.7-.7-.1-.9 .3-1.1 1,.1 .8,.4zM357,2159.5l-.4,1.3-1.4,.7-1.3-.4-1.2-.8 .8-1.2 1.1-.8 1.6,0zM354.1,2171.6l.1,.7-.8,.4-.9,0-.3-.6-.1-.7 .8-.3 .8,.1zM350.3,2180l-.7,.9-1.1,.6-1.5,.4-.8-.5 .6-.9 1.1-.8 1.5-.2zM329.9,2188.1l-.5,1.2-.7,.8-.4-1.1-.3-1.2 .5-1.3 .8-.8 .5,1zM329.4,2180.5l-.3,1.1-1,.1-.9-.3-.3-1.1 .5-1 .9-.6 .9,.7zM332.1,2175.8l-.7,.9-1.1,.4-.8-.8-.6-1.1 .8-1 1.1,0 .8,.6zM335.8,2168.4l-.9,.5-1.3,.2-1.5-.5-.5-.9 .9-.5 1.3-.1 1.7,.4zM332.2,2153.2l-.4,1.2-.8,.6-1.2,0-.6-1.3 .2-1.5 1-.5 1.1,.3zM333.2,2128.2l-.4,1.1-.9,1.1-1.5-.2-.7-.8 0-1.1 1.2-.8 1.3,.1zM330,2132.2l-1.3,.6-1.1,.4-1.2-.6-.6-.9 .6-.8 1.4-.1 1.3,.5zM324.5,2138.8l-.1,1.2-.5,.5-.6-.4-.1-1.3 .2-.9 .5-.9 .5,.8zM326.1,2130.2l-1,.7-1.3,0-1.5-.6 0-1.1 .7-.8 1.4,.1 1.2,.7zM330.8,2125.3l-.4,1.2-1.2,.9-1.4-.6-.6-1 .4-1.1 1.1-.7 1.5,.2zM353.5,2131.3l1.6-1.8 .7-1 0-2.1 1.8-2 1.8-1.9 .2-.3 2.1-1.9 1.2,1.7 .1,2 .7,1.8-.6,1.4-.4,3.1 .8,1.6-.4,2.1-.4,1.2-1.3,1.9-1.1,2.4-.8-2.1-1.6-.1-.3-1.9-1.4-1.1-1.2-1.1zM353.9,2132.8l-.2,1.2-1.5,.8-1.4-.3-1-.6 .4-1.2 1.3-.9 1.4,.4zM369.6,2121.3l-.4,.7-1.2,.5-1.1-.4-.7-.5 .2-.8 1.4-.2 1.1,.2zM362.2,2143.4l-.2,.7-.8,.2-.7-.2-.3-.6 .3-.6 .6-.4 .7,.3zM372.6,2139.5l2.1-1.6 1.1-.8 1.4-2.2 .9-.9 .9,1.1 1.1,1.5 2.5,1.1 1,.4 .1-1.3 1.1-2.3 1.5-1.9-.4-2 .9-2.2 .6-1.7-.4-.9 1,1.2 2.4,1.5 .1,2.5-.2,.7 .3,2.7 .3,1.2 1,2.2-.1,1.7 .2,1.7-.5,3.4-.4,1.4 .4,1.8-.4,2.6-2-.7-1.1,.8-1.7-.1-1.2-1.9-1.1-.4-1.8-1.8-2-.6-.4-2.1-1.7-1.4-2.5-1.6-1.1-.1zM390.2,2124.9l-.2,1.4-.8,.6-.8-.8-.3-1.2 .2-1.4 .9-.3 .8,.4zM398.5,2139.4l-.2,1.1-1.3,.9-1.4-.6-.5-.9-.2-1.1 1.6-.6 1.4,.3zM322,2172.3l1-1 .4-3 1.3-1.6 1.4-1.2 2-.1 .8-1.7 1.3-.3 0,1.3-1.9,2.2-.2,.5-.6,2.2-1.5,1.5-1.6,.7-.3,1.9-1.2-1.4zM334,2158.2l-.8,1.2-1,.1-.8-.5 .3-1.6 .8-1.2 1-.3 .7,.8zM285.7,2261.3l1.2-2.2 .5-.9 1.6-1.8 .8-2 1.4-2.7 .4-1 .3-1.9 .7-2.6 .7-2-.1-1.8 .9-2.2 0-1.1 .4-1.9 .1-1.9 .7-1.8 .9-2.1 1.3-1.6 .2-1 1-1.7-.1-1.5 1.7-1.2-.2-1.6 1.4-2.8 .7-1.1-.3-1.7-.3-2.1 1.3-1.7-.7-2.8 .9-.5 2-2.4 1.3-.4 .6-1.4 1.7-.8 2.1,.8 1.9-1.7 2.5,.3-.5,1.1-1,1.4 .1,2.3-2.5,2-.9,.7 1.1,1.4-.4,2.7 2.3-.5 .5,.1 2.1,1.7 1.9-.6 .3,1.5-.4,2.2 .8,1.1-1.1,1.3-1.7,1.9-.6,2.3 1.2,2.6 .1,.4 .7,2.4-.2,2.7 .3,.7-1.1,2.3 .3,2.6-.6,1.1-.6,1.9-1.5,2 0,1.8-1.3,1.4 .5,1.6-1.5,1.5-.4,2.3-.7,1.8-.5,2.1 .5,1.7-.7,2.6-.7,.8-.9,1.2-2.3,1.4-.2,2.1-2.4-.8-1.7-.6-1.4,.1-1.5-.3-2-.5-1.3-.6-1.6,.3-2,1.8-1.2,.6-1.4-1-2.7-.3-.1-1.3-.9-2.9zM293.2,2235.2l-.7,.5-1,0-.9-.6-.1-.7 .6-.4 .9-.1 .9,.6zM304.4,2217.7l-.8,.5-1.4,0-1.2-.7-.6-1 .8-.6 1.5,.4 1.5,.5zM310.3,2202.8l-.2,1.6-1,.9-1.3-.4-.6-1.4 .2-1.3 .7-1.4 1.3,.7zM315.7,2203.7l-.6,1-1.2,.1-.8-.7-.6-1 .9-.8 1-.1 .9,.4zM313.1,2205.9l-.5,.7-1.3,.3-1.1-.3-.8-.6 .5-.7 1.3-.1 1.2,.1zM314.8,2212.4l-.4,1.3-.9,.6-1-.5-.2-1.3 .2-1.3 .9-.6 .9,.6zM321.9,2220.3l-.4,1.1-.9-.1-.9-.1 0-1.2 .3-1 .9-.4 .8,.6zM323.5,2232.2l-.4,1.5-.7,.5-.5-.8-.3-1.4 .5-1.5 .7-.5 .3,1zM325.2,2242.6l-.2,1.2-1.3,.4-1.3,0-1.1-.7 .5-1.2 1.4-.5 1.4-.2zM311.5,2264.1l-.4,.7-.7,.4-.9-.1-.4-.6 .2-.7 .8-.4 .8,.2zM283.3,2270.7l-.2,1.5-.7,.3-.8-.2-.5-1.4 .2-1.4 .7-.8 .8,.8zM316.5,2255.8l2.5-.4 1.7,.1 1.3-1.1 2.7,1 1.4,.4-.3,1.5-.6,2.6 .1,1.5-1.2,1.2-.2,2.9-.2,1-.8,2-.9,2.4-.9,.8-1.8,1.9-.9-2.7-.1-1.9-1.4-2.2 .3-1.4 0-2.1-.7-1.5-.2-1.8 .3-2.6zM317.4,2253.3l0,1-.6,.6-.9,.1-.4-1.2-.2-1.1 .7-.7 1,.2zM327.5,2231.2l1.6-1.2 1.1-.8 1.4-.1 1.3,1.6 1,.4 1.8,1.4 .9,1.8 1.8,.3-1.7,.7-.3,1.1-2.1,.2-1.4,.2-2.7-.8-1.6-2.4-.1-1.2zM324.7,2230l-.5,.8-.8,.3-1-.4 0-1 .3-.9 1,0 .9,.3zM330.2,2224.4l-.6,1-.8,0-.8-.3 .1-1.2 .6-.9 .9-.5 .7,.7zM346.7,2237.4l-.6,.3-.9,0-1-.5 .1-.6 .5-.3 .9-.3 .8,.7zM337.3,2242.9l-.5,.7-.9,.4-.7-.6-.7-.5 .4-.8 1-.2 .9,.4zM353.5,2065.6l1.5-.7 1.5-.8 1.1-1.3 2,.3 .7,2.1 1.4,.4-.4,2.5-.5,.7-1.2,2.3-2.1-.5-2-.2-1.3-1.4 .3-2.2zM367.7,2064.3l-.6,.6-1.1,.4-1.2,.1-.9-.5 .8-.7 1.1-.4 1.3,0zM362.1,2075.5l-.2,1.5-1,.2-.6-.6-.5-1.1 .3-1.4 .9-.5 .8,.6zM359.6,2079.3l2.1-.8 .4,0 2.3,.8 .8,2.2 1.1,2 .9,1.2-.2,2.9-.6,1.4-.9,1.7-.4,2.3 0-2.1-1.3-1.6-.7-1.8-1.1-2.1-.8-.5-.2-1.5-.6-2.4zM360,2073.6l-.1,.8-.7,.7-.9-.2-.6-.6 0-.9 .9-.4 .8,0zM370.8,2083.3l-.5,1-1,.5-1.1-.5-.7-.9 .9-.7 .8-.6 1.3,.2zM366.5,2096.5l-.8,.9-1.4,.1-1-.8-.4-1.1 .7-1.1 1.4-.1 .9,1zM339.8,2083.4l1.3-.8 1.4-.6 .7,2.5 .7,1.6-.8,1.5-1.9,1.2-1.3-1.6-.2-1.5zM349.3,2086.5l-.5,.6-1.1,.3-1.2-.3-.5-.7 .6-.7 1.2-.2 1.2,.3zM367.2,2099.8l2-1.1 .7-1 0,.9 .9,2.3 .5,1.6-1.2,1.9-.8,1.2-.8,1-.9-1.9-.4-1.1 .2-2.6zM377.4,2103.3l-.4,1-.7,.5-.8-.3 0-1.3 .1-1.2 .8-.1 .7,.1zM386.3,2064.9l2-1 2.1,.3 1,2-.3,2.1-1.2,1-2.2,.4-.1-1.1-1.2-1.6zM382.9,2061.6l-.7,.9-1,.8-1.4-.4-1-.9 .9-1 1.2-.6 1.4,.2zM392.5,2090.2l1.1-1.3 1.5-.6 1.5-.8-.2,.7 .9,2-1.5,.9-1,2.2-.9,.3-1.3-2.1zM402.9,2088.7l-.3,1.4-1.3,.5-1.5-.2-.9-1.4 .9-1.3 1.2-.9 1.5,.5zM290.5,2272.2l1.2-.6 2.2,.6 1.4-.7 .1,2.1-.3,.5 .9,2.2-1.7,.7-2.4,.7 .1-2.2-1.2-1.2zM301.8,2280.2l-.2,.9-.7,.4-.8,0-.6-.7 0-.9 .7-.5 .9,.1zM292,2283.8l-.4,.5-.6,.2-.8-.3 0-.7 .5-.4 .6-.4 .8,.4zM338.4,2202.4l2-.8 1.1-.4 1-.8 .9,2 .7,1.6-.2,1.2-1.4,.1-2.7,.6-.4-1.7zM337.5,2200.7l-.9,1.1-1.4,.2-1.3-.5-.7-1.1 1-.9 1.2-.6 1.3,.6zM349.5,2209.4l-.5,1.1-1.2,.6-1.4-.3-.9-1 .6-1.2 1.4-.4 1.5,.1zM335.7,2211.4l-.1,.7-.7,.4-.8-.2-.4-.6 .1-.7 .7-.4 .9,.1zM339.8,2187.4l1.9,.9 2.2,.4 2.3,1.1 .3-.4 2.2,.7 .3,2.5 1.1,1.6-1.1-.2-2.4-.5-1.7-.8-1.1-.1-1.3-1.1-1.4-1.6-.3-1.4zM337.9,2184.3l-.2,.8-.8,.2-.9,.1-.5-.7 .2-.9 .9-.1 .8-.1zM350.8,2197.3l-.5,.6-.9,.6-.9-.6-.1-.6 .1-.7 1-.2 .9,.3zM341.2,2190.4l-.8,1.1-1,1-1.4-.2-1.2-.6 .4-1.2 1.3-.8 1.6-.1zM534.9,2912.7l.2-2.4 1.2-1.1 .5-1.2 1.6-2.3 .9-2.4-.1-1.3-.2-1.9 0-3.1 .6-1.9 1.1-1.6 1.8-1.4 .6-.5 1.7,.4 1.2,1.4 1.7,.9 1.3,.8-.1,.9 1.2,2.1 .8,2.4 1.4,.8 .2,2 .9,2.4 .7,.7 .1,2.1 .6,1.9 1,2.1 1.2,0 1.7,2.1 2,1.6-.4,1.2 .6,2.8 1,1.1 .1,2.8-.1,1.5-1.3,1.5-1.3,2.5-1.5,.6-.6,2.5-2.1-.4-2.2,1.7-.4-.2-2.4,0-1.8,1.3-.4,1.8-1.3,.5-1.7-1-.6-2.6-1.6-1.1-1.4-.4-.5-2-.4-2.1-1.8-.8-1.2-2.2-.2-1.9 0-2.4-.6-2-.7-1.9 .1-2.4zM543.3,2890.6l-.6,1.3-1.5,.6-1.1-1-.6-1.1 .6-1.2 1.4-.4 1.3,.5zM551.4,2888.2l-.4,1-.7,.4-.5-.6 .2-1.2 .5-1 .7-.7 .2,1.1zM554.2,2899l-.8,.9-.9,.6-.7-.9 .1-1.3 .6-1.2 1-.2 .5,.9zM566.5,2930.2l-.9,.6-1.4,.2-1.1-.9-.2-1 .8-.7 1.4-.2 1,1zM538.7,2933.8l0,1-1,.1-.9-.2-.3-.8 .2-.9 .8-.3 .8,.4zM537.3,2927.3l-.8,1-1.2,.2-1.3-.5 .2-1.5 .8-.9 1.1-.4 1.3,.5zM564.2,2974.9l1.5-2.1 .9-1.6 1.9-1.2 .4-2.1 .8-2.1 1.1-1.7-.1-1 1.1-2.1-.3-2.1 .9-1.6 1.9-2.2-.2-1.2 2.3-1.5 1.2-.6 .7-1.5 1.3-1.1 1.2-1.7 .6-2.4 1.6-1.9 1-.7 2.2-.6 2.5,0 1.3,.2 1.4-2.8 .4-2 .6-.7 0-2.8 1.5,.1 2-1.2 1.1,1.3-.3,2.2 1.4,1.4 .6,2.7 .6,1.8 .1,1.1 .3,1.8 .1,2.5-.3,1.2-.1,2.1 .2,1.8-.2,2.4-.8,1.4-.2,2.4-.3,1.4-1.2,1.6 .2,2.5 2,.8 1.5,.4 1.2,1.1 2.3,1.3 1.2-.1 2.2,.4 1.3,.8-1.3,1.9-.8,.5-1.4,1.7-1.2,.6-2.6,.8-1.3,.2-1.4-.3-3.1,1.6-2.1,0-1.2,.1-1.2-.6-2.4,.9-2.8,.5-1.5-.2-1.6,.9-2.3-.4-2.2-.1-2,.6-2.2,.2-1.8-.4-1.1-.3-1.2,.1-1.6-.8-2.7-.2zM566.8,2956.7l-.8,1.2-.9,.9-.3-1.2 .3-1.5 .7-1.4 .8-.3 .4,.8zM576.4,2946.3l-.8,.5-1.3,.1-1.3-.2-.5-.6 .5-.5 1.4-.1 1.2,.3zM607.1,2969.1l0,.8-.7,.2-.5-.4-.2-.6 .1-.7 .6-.3 .6,.4zM581.3,2983l-.2,1.1-.6,.3-.8-.1-.4-1.1 .4-1.1 .5-.7 .8,.5zM570.2,2977.4l.1,1.6-1.4,.7-1.4-.2-.9-1.2 0-1.6 1.3-1.1 1.2,.9zM560.7,2950.3l.9-.7 .3-2.9 1.8-.9 .5-1.4 .5,1.3 2.1,1.6 .2,.6 0,1.9 .6,2.1-.4,2.8-.9,1.4 1.1,1.9-1,1.9 .6,2.1-1.4-.4-1.3-1.8-1.3-.2-.7-1.4-.5-2.2-.7-1.4 .5-2.4zM559,2949.2l-.3,.8-.9,0-.6-.5-.2-.7 .3-.8 1-.2 .6,.6zM571.1,2945.2l-.3,1.2-.9,.5-.7-.6-.4-1.2 .3-1.3 .9-.6 .7,.9zM561.8,2962.8l-.5,.9-.8,.5-.8-.3-.6-.7 .4-.8 .7-.6 .8,.4zM425.8,2863.5l.9-1.1 .5-2.4 1.5-1.5 .6-2.1 1.7-1.7 .3-.3 1.5-2.8 .7-.8 1.7-1.4 1.2,1.6 1.4,.7 .9,2.4 1.7,1.1 .3,1.3 1.6,1.2 1.3,1.6 1,1.8 1.5,.9 1.6,.4 1.7,1.5 1,.7-1,1.7 .2,3-.3,1.2-1.3,.1-2.5,1.3-2.1,.9-2.3,.1-2.1,.2-1.2,.3-2.6,.6-1-.1-2.2-2.4-1.4,0-1.3-1-.7-1.5-1.4-1.2 0-1.8zM425.5,2864.9l-.3,1-1.1,.7-1.2-.3-.6-.9 .2-1 1.1-.6 1.1,.4zM434.9,2842.1l-.9,.6-1.5,.4-1.3-.4-.6-.6 .5-.7 1.4-.3 1.2,.4zM438.4,2849.1l-.5,1.1-.9,.5-.6-.8 0-1.3 .5-1.4 .9,0 .7,.5zM457.6,2866.6l-.1,.9-.7,.3-.8,0-.5-.8 .4-.7 .5-.6 .8,.2zM448.1,2877.4l-.4,1.1-1.1,.2-1-.5 .1-1.2 .3-1.1 1.1-.2 .8,.5zM458.7,2857.6l1.1-1.5 1.5-2.2-.1-1.9 1.3-1.5 .8-1.1 .7,1.4 1.4,2.6 1.1,.9 1.5,2.1 1.4,.6 1.5,2.1 .3,1.1 1.5,.9 .3,2.2 .2,2 1,1.6 .9,2.4-1.8,1-1.2,1.8-.5,.7-.7-2-.2-2.5-1.7-2.3 .2-1.4-2.4-1.1-.4,.4-1.9-1.6-2.3,0-.5-1.9-2.4-1.4zM465.3,2843.7l-.5,.8-1.1,.6-1.3-.3-.8-.5 .6-.8 1.2-.4 1.3,0zM469.9,2852.7l-.3,.9-.5,.5-.6-.3-.3-1 .2-1.1 .6-.1 .6,.1zM473,2870.5l-.4,.5-.6,0-.4-.4 0-.5 .2-.5 .6,0 .5,.3zM441.1,2884.6l1.1-1.4 1.8-.7 1.9-.5 2.4,.2 1-1.1 1.1-1.3 2.5,.2 1.8-1 1.6-.3 .5,1.4 1.1,1.7 1.6,.8 .3,2-.1,1.6-1,1.5-1.3,1.5-1.1,1.2-2.2-.5-2.4-.4-2.1,.7-1.5-.9-2.7,.4-1-1-2.2-.6-.2-1.2zM469,2884.2l-.4,.5-.6,.1-.6-.3 .2-.7 .2-.5 .6-.1 .6,.4zM450.4,2897.5l1.2-.4 1.9-1.5 2.1,.1 1.9-.6 1.6,.9 1.9,1.5-2,.5-.9,2.6-1.8,.4-1.3-1.2-2.2-.1-.2-.7zM460.6,2891.5l-.5,1.1-1,1-1.4-.6-.8-1.2 .8-1 1-.7 1.5,.1zM465.2,2897.4l0,.9-.6,.6-.8-.1-.6-.8 .1-1 .6-.6 1-.1zM457.3,2903l-.6,.9-1.3,.1-.9-.6-1.2-.7 1-.7 1.2-.3 1.3,.4zM401.2,2950.3l.5-2.1 1.1-.1 1.2-2.8 .7-.9 1.9,1.1 1.9,1.9 .9,.5-.3,2.8 .5,1.5 1.5,.9 .2,2.1-.7,2.3 1.1,2.1 .2,1.8 1.2,2 0,.7 1.2,1.9 .9,1.9-2.2,1.7-.9,.1-1.1,1.9-1.6,1-2.1,1.6-1.4,.7-.2-1.8-2.2-1-.7-2.3-.5-1.9-.9-2.3 .3-1.7 .3-1.6-.2-1.7 0-1.8-.9-2.4 1.1-2.9-1.2-2zM403.5,2939.7l-.7,1.2-1.2-.1-1-.7 .1-1.1 .5-1.2 1.3-.2 .6,1.1zM412.7,2945.3l-.5,1.3-1-.1-.7-.5-.2-1.2 .7-1 .9-.3 .7,.6zM420.4,2956.1l-.4,.6-1,.6-1.2-.1-.6-.5 .6-.6 .8-.6 1.3,.1zM416.6,2970.3l-.6,.9-1.1-.1-.9-.6-.1-1.1 .7-.8 1.1,.1 1,.6zM400.1,2972.7l-.6,1.2-.9,.5-.8-.7-.3-1.2 .6-1.1 .8-.7 1,.6zM443.4,2949.1l1.6-.1 2.3-1.3 1.7-1.5 1.4-.6 .8-.9 2.8-1.5 .5-.8 1.8-.3 2,.3 1.4,.2 2.4,.7 1.2,1.1-.4,2.3-2.1,.2-1,2.2-1.3,.2-2.9,.2-1.4,2-1.4-.1-2,2-1.4-.4-.7,2.7-1.8,.4-2.2-.7-1.3-.4-.5-1.4 1.2-2.3zM452.2,2943.6l-.9,.3-1.1,.1-1-.8-.4-.9 .8-.5 1.3,.2 1.3,.7zM447.8,2960.3l-.4,.6-1.1,.5-1.5,.4-.3-.6 .3-.6 1.1-.6 1.5-.2zM424.6,2925.6l.9-.5 1.7-.6 1.4-2.2 1.9-.2 .9,1.5 2,2.1 .8,1.5 1,.8-.3,2-1.2,1.5-1.2,1-.8,1.3-1.2,1.8-.8,.8-1.5,1-1-1.7-.9-1.7-.5-1.3-.9-1.7 .4-2.2 .3-2.2zM442.8,2926.4l-.1,1.6-1.4,.8-1.5-.3-1.2-1 .2-1.7 1.6-.6 1.4,0zM432.5,2937.5l-.3,1.5-1,.4-.9-.6-.4-1.3 .4-1.5 .9-.4 1,.5zM427.2,2939.2l-.5,1.1-.6,.2-.5-.4 .3-1.3 .4-.9 .7-.4 .3,.6zM423.4,2934.1l-.4,.7-.6,.4-.4-.6-.2-.7 .2-.8 .6-.2 .6,.4zM431.7,2957.3l1.1-.5 2.4-1.3 1.2-.5 0,1 1.7,1.7 0,3.1 .6,1.2-1.5,.8-1.1,.9-.9,1.8-.5-2.2-.6-1.4-1.5-2-.2-1.1zM443.1,2965l-.2,1.6-.9,0-.6-.7-.3-1.2 .5-1.2 .8-.8 .7,.9zM455.1,2967.9l1.5-2 .5-1.1 1.1-2 1.6-.8 .6,.8 2.5,1.5-.2,2 1.8,.4 .6,1-.4,2.8 1,1.5 0,1.7-1.4,1.8-1.1,.3-1,1.4-.2-.7-1.9-1.8-1.2-1.2-.2-2.1-.7-1.1-1.9-1.5zM473.1,2976.5l-.5,.9-.9,.1-1.1-.2 0-1 .4-.7 .9-.3 .9,.4zM463.1,2982l-.4,1.1-.9,.3-.6-.9 .1-.9 .3-1.1 .9-.1 .8,.5zM468,2962l1.1-1.4 .8-.7 1.5-1.8 1.3-.8 2,.7 1,1.6-.2,1.7 1.9,.7 .3,1.9-.1,2.6 1.1,2.1-.1,1.6-1.7,0-1.5,1.6-1.6,0-2.2,.8-1.1-.6-1.7-2-.8-1-.3-2.4 .6-1.4 .5-1.4zM500.9,2848.2l2.1-.2 1.3-.7 2.3,.3 2.5-.6 .8,1.4 1.3,2.1 1.4,1.2-2.1,.5-.3,2.5-1.6,.7-1.9,1-.7-1.2-2.1-1.7-.7-.6 0-1.1-1.2-1.9zM496.2,2848.2l-.6,1.2-1.2,.3-.9-.9 0-1.2 .4-1.3 1.3-.1 .8,.8zM511,2845.9l.2,1.6-1.5,.7-1.5-.1-1-1.3 .5-1.4 1.1-.9 1.6-.2zM510.5,2864.3l-.8,1.2-1.5,.1-1.2-1 .2-1.3 .5-1.3 1.5,.3 1.1,.8zM497.9,2855.2l-.5,.6-.5,.1-.4-.3-.3-.7 .5-.7 .5-.1 .5,.3zM450.4,2916.2l1.4,.2 3.2,.5 1.3,.5 .4,1.6 1.2,1.6 1.9,1.5-.7-.6-1.7-.2-2.3-.4-.4-.8-2.1-2.3-.5-.5zM434,2913.9l2.3,0 .9-.5 1.5-.7 .5,2.1 0,1.5 .7,1.1-1,1.2-1.9,.3-1.8-.3 .2-1-.2-1.6zM429.8,2911.7l-.2,1.4-1,.6-1.1-.2-.8-1.1 .3-1.2 .8-1 .9,.9zM442.5,2919.7l.4,1.5-.5,.5-.8-.1-.8-1.4-.2-1.5 .5-.7 .8,.1zM604.1,2878.7l1.7,1.3 2.2-.1 .8,1.2 1.4,.5 1.2,2.3 1.6,.4 .5,1.4-1.6-.7-1.9,.7-2.1-1.5-1.1-.7-1.5-1.3-.8-1.4zM615.5,2889.5l.2,1.2-.8,.2-.8,.4-.5-1.1-.2-1.1 .6-.7 .9,.3zM601.5,2883.5l-.3,.9-1.3-.2-1-.6-.3-.8 .8-.6 1,0 1.1,.5zM525.5,2933.8l1.9,.3 2,1.5 .8,.6 .5,1.2 1.9,2.3-1.2-.9-1.4-.5-2.1,.2-1.6-2-.3-.7zM523.8,2929.4l-.4,.5-.8-.1-.8-.4-.1-.5 .4-.4 .8-.1 .7,.4zM526.8,2941l-.3,1.1-.9,.7-1.3,0-.3-1.2 .3-.9 .6-1.1 1.3,.3zM620.5,2940.9l1.7,1.5 1.4,.7 .4,1.3 0,2.1 1.2,1.4-2.1-.7-1.4-1.6-1-.9 .1-1.9zM442.2,2926.8l2.7,.5 1.9-1 2.3-.9 1.3,.2 1,1.3 .2,2.2-2.3-.1-2.1,.8-1.2,.9-2.6-.4-.3-1.8zM458.1,2931.2l-.4,1.2-1.1,.5-1.1-.4-.5-1.3 .3-1.4 1.2-.3 1.2,.3zM446.9,2936.2l2.4-.7 2.1,.1 1.1-.6 1.6,1.1 1.8-1.1 2.8,0 .7,1.4 1.6,2.1-2,.8-1.6-.7-3.2,.3-1.9,.2-1.9,.6-1.4-1.2-.9-1.7zM439.4,2934.2l-.2,.8-.6,.5-.7-.4-.3-.8 .2-.7 .6-.3 .8,0zM468.6,2939.9l-.5,1-1.1,.7-.6-1.1-.2-1.2 .5-1.2 1.2-.1 .7,.8zM446.7,2940.6l-.4,1.3-1.2,.1-1.2-.3-.4-1.2 .2-1.6 1.5-.2 1.1,.6zM947.3,2988l1.2,.5 2,.1 3.4-.5 .8-.6 2.3,.5 .2,2.5 .7,1.5-.7,1.9 .9,1.6 .9,.1 2.9,1.2 1.4,.5 1.2,.3 1.8,.9 1.2,.1 2.4,.1 1.1,1.1 0,2 1,2.3 1.7,.7 2.6,1.5 1.1-.1 0,2.1 .4,1.9 .8,1.8-.7,1.3 .6,2.6 .3,2.2-.8,2.3 .1,1.2-.7,2.9 .1,1.4-.5,1.9-.8,2.5 .1,1.7 .5,1.3 1.6,1.1 .1,1.9-.4,1.1-2.4,1.6-1.1,2-.4,1.8-2,1.1-.9,1-2.5,1.1-1,0-2.6,1.7-.7,0-2.1,1.5-.8,.9-1.6,2.9-.1,1.7-1.8,1-1.8,0-1.5-1.1 .9-1.9 .2-1.4 1.3-1.7 .9-2.5 .8-1.9-.6-1.1 1.1-2.8-.3-1.7 .5-1.9 1.2-1.2 .9-1.5 .7-1.9 1.1-1.2 1.5-1 1.7-2.1 .2-1.2 1.4-2 .5-2.2-1.8-.7-1.5-.9-1-1.6-1.4,.3-2.5,.4-2.5,.4-1.7,.1-1.5,1.7-2.2,.3-1.6,.3-2.4,.8-2.5,0-2.2,.7-.1,2.2-2,1.4-.4-2.1-.6-.3-1.1-1.9-1.5-1.6-3-.9-.7-.1-2.3-1.7 .3-1.5 1.1-1 1.8-.7 1.9,0 2.3,1.2 1.2-.1 1.2-.7 1.3-1.8 .8-.6 2-1.2 .9-1 1.8-1.1 .6-1.2-.2-1.3 .9-2.4-.3-1.3 .6-2.5 0-1.2 .1-2.5-.7-1.1-.4-2.7-1-1.2 .2-3.3-.8-.9zM948.6,2982.9l0,1.5-.8,.6-1.1-.1-.2-1.6-.2-1.3 .8-.8 .9,.5zM958.6,2990.7l-.4,.5-.4,.3-.6-.2-.3-.5 .3-.6 .5-.2 .6,.1zM973.5,2997.2l-.7,.5-1.2-.2-1-.5 0-.6 .4-.6 1.1,.2 1,.5zM983.4,3015.6l0,.7-.5,.5-.8-.2-.5-.6 .3-.7 .5-.4 .8,0zM980.8,3032.7l-.7,1.3-1.5,.5-1.5-.5-.4-1.4 .3-1.4 1.6-.7 1.1,1.1zM978.5,3045.9l-.5,.7-1.4,.2-1.2-.5-.3-.8 .4-.6 1.4-.2 1.3,.4zM971.1,3048.6l-.3,.9-.6,.4-.7-.2-.5-.8 .2-.9 .7-.4 .8,.1zM964.8,3051l-.6,1.5-1.1,1.2-1.4-.8-.8-1.3 .1-1.7 1.5-.5 1.3,.3zM957.5,3060.4l-.6,1-.7,.5-.6-.6-.1-1.2 .5-1.1 .7-.4 .5,.7zM959.7,3048.3l-1,.5-1.1,.3-1.3,0-.4-.6 .5-.5 1.1-.3 1.1,.2zM970.9,3019.5l-.3,.6-.5,.1-.7,.1 0-.8 .2-.6 .5-.3 .5,.3zM942.5,3027.2l-.3,1.6-1.3,1.1-1.2-1.1-.6-1.3 .3-1.5 1.2-1.1 1.4,.8zM928,3020.5l-.1,1.4-.9,.6-1.1-.2-.5-1.4 .2-1.2 .8-.7 1,.2zM931.2,3018.1l-.7,.7-1,0-1.1-.3-.4-1 .8-.5 1.1-.3 1,.5zM940.9,3018.4l-.4,1.4-1.2,.4-1.4-.2-.1-1.6 .3-1.5 1.2-.7 1.3,.6zM948.2,2989.6l-.2,.8-.5,.8-.8-.5-.3-.9 .2-.8 .6-.5 .7,.2zM940.9,3046l.5-1.3 1.3-2.9 .3-1.2 1.1-2.1 1.6-.3 1.5-1.3 2.5-.1 .8-1.5 1.3,2.3-.3,.6 1.2,2.4-1.1,2.1-.5,.9 .6,1.9-1.2,1.6-2.5,.9-1.5,.1-1.3,.1-.9-.1-2.7-1.7zM938.1,3049l-.5,.8-1.1,.6-1.3-.3-.4-.8 .3-.9 1.2-.6 1.4,.3zM940,3034.5l-.4,1.2-.6,1.2-.8-.9-.3-1.5 .2-1.5 .8-.6 .8,.4zM959.6,3040.3l-.6,.6-1,.4-.7-.8-.1-.8 .4-.7 1.1-.2 .9,.6zM957.1,3051.8l-.6,.6-1.1,.4-.9-.6-.8-.6 .7-.6 1.1-.2 1,.4zM990.3,3046l.6-1.7 1.6-2.5 0-2.2 1-1.1 1.3-1.1 2.5-1.2 .6-.8 2.1-.1-.1,.9 2,2.3 .3,1.1-.4,.7-1.5,1.6-1.7,1.5-.8,1.5-1.6,.7-1.3,1.1-1.4,1.5-1.3-1.9zM989.3,3048l-.6,.4-1.1-.1-1.1-.6 .1-.6 .2-.5 1.3,.2 .8,.6zM990.5,3033.3l-.3,.9-.7,.3-.7-.1-.4-1 .2-1.1 .8-.1 .7,.1zM1002.3,3029.2l-.4,.7-1.3,.1-1.5-.2-.2-.8 .5-.8 1.4-.2 1.4,.4zM1006.6,3036.4l-.1,1-1.2,.8-1.4-.1-.9-.6 0-1.1 1.5-.5 1.3-.2zM1006.5,3054.6l.1-1.5 1.1-2.3 .5-.5 1.5-2.1 1.2-.5 1.4-2.8 .8-.8 1.6-.9 1.4-1.5 1.5-1.1 1.8-2.1 1.3-1.2 .1-1.6 1.8-1.5 1.6-.5 1.8-.7 1.2-.5 1.8-1.5 1.8,.1 1.6,1.6 2.5,1.1 1.7,.4 1.1,.3 2,.8 1.4,1.3 1.9-.3-1.6,.9-1.5,.8-.4,1.3-1.9,1.3-1.2,.9-2.6,1.5-2.3,.4-1.4,.5-1.2,.3-2.4,1.9-2.8-.3-1.1,1.3-1.6,2-1.2,.7-1.9,1.8-1.8,.9-1.2,1.9-1.2,1-1.9,1.4-1.2-.9-2.3-.6zM1003.9,3058.1l-.7,.7-1.2,.3-.9-.8-.2-.9 .5-.7 1.2,0 .9,.5zM1010.7,3039.9l-.3,1.1-.7,.5-.6-.5-.5-1 .6-.9 .5-.6 .6,.4zM1023.3,3029.5l-.4,1.1-1.3,.6-1.3-.7-.1-1.2 .4-1.2 1.3-.7 1,1zM1051.2,3033.8l-.7,.3-1.2-.1-1-.7-.3-.7 .5-.4 1.3,.3 1,.6zM1036.4,3045l-.5,1.1-.9,.2-.8-.3-.3-1.2 .4-1.1 .9,.1 1,0zM1011.7,3057.6l-.7,1.2-1,.8-.8-.9-.2-1.3 .5-1.2 .9-.7 .8,.9zM1009.2,3058.6l.1,1.7-.7,.8-.9-.8-.9-1.1 .2-1.4 .5-.8 .9,.6zM1041.9,3056.8l1.9-1.9 2.1,.3 1.1-2.4 1.4-.3 .8-.8 2-1.7 1.7-1.6 1.9-1.3 1.8,1.1 .4,.8 1.6,1.6 1.6,.8 2.1-.1 2.1,.9 2.3,.3 .4,2.3 .7,1.9-.1,2.2-1.9,1-1.6,.8-.9,1-2,.5-2.1-.4-1.6,1.1-2.8-.8-2.1,.1-1.5-.5-1.8-1.4-1.5,.7-1.7-1-1.8-.8-1.1-2.1zM1037.3,3056.4l-.8,.4-1.2,.3-1.7-.2-.2-.6 .7-.5 1.3-.1 1.8,0zM1045.6,3052.5l-.2,.9-1,.6-1.1-.3-.5-.9 .6-.8 .8-.8 1,.5zM1062.7,3049.3l-.5,1.1-.9,.6-.7-.8-.6-1.2 .7-1.2 .9-.2 .8,.4zM1067.8,3066.9l-.8,.9-.9,.6-.3-1-.1-1.2 .8-1.2 .7,0 .5,.7zM1076.3,3011.6l1.4-.4 2.6-2.5 1.4-.3 2.2-1.1 2,.1 1.2-1.2-.1-1.8-.5-1.5-1-1.4-.6-1.7 2,.9 .8,.2 1.5,1 .7,.9 1.5,2.4 2.4-1.1 2.4,0 1.6,0 .5,1.1 .7,2 1,1.2-1.6,1.2-.4,1.4-2.7,.6-.7,1.1-.3,1-1.6,1.9 .2,2.6-1.5,.9-1.6,.2-1.5,1.8-2.3,.2-2.4-.7-.6-.6-1.8,.2-2.7-1.1-.1-1.1-1.8-2.8-.3-1.1zM1095.6,3001.5l-1.1,1.2-1,.8-1.4-.4-.9-1.3 .8-1.2 1.2-1 1.4,.7zM1096.5,3026.9l-.8,.8-1.4,.5-1.5,0-.4-.7 .1-.7 1.5-.7 1.4,.3zM1073.3,3023.2l-.2,1.5-1.3,.6-1.1-1-.2-1.4 .5-1.5 1.3-.4 1.2,.8zM1100,3007.3l2.3,.2 1.6-.4 2.6-.9 1,1.1 1.8,1.8 1,1.4-.2,1.9-.4,1.4-2.9-.1-1.9-1.1-1.7,.1-1.4-1.6-1.2-2.7zM1099.9,3016.7l-.7,.6-1.5-.3-1.5-.5-.1-.8 .6-.7 1.5,.2 1.2,.7zM1084.9,3025.6l1.8-.7 2.4,0 1,.1 2.4-.5 1.8-.2 1.5,1 3-.1 1.2,.4 1.8,.8 .3,2 2.2,.4-1.4,2-.5,1.3-2.8,1.4-.7,.7-1.5,.8-1.4-1.3-2.5,.5-2.2-2.1-.9-.5-1.2-1.7-2.1-1.1-.7-1.7zM1104,3023l-.7,.8-1.6-.5-1.3-.6-.1-1 .7-.6 1.5-.1 1.3,.9zM1102.2,3037.3l-.3,.7-.6,.3-.7-.2-.1-.7 .1-.7 .6-.2 .7,.2zM1093.2,3037.4l0,1.1-.7,.8-1-.4-.6-1.2 .4-1.2 .6-.8 .9,.6zM1088.2,3031.4l-.5,.5-.7,.1-.6-.5 0-.7 .4-.3 .8-.3 .4,.6zM982.8,3006.2l1.3-1.7 2.9,.2 1.2-1.7 .9,.6 1,1.5 1.3,1.1-2,1.4-2.1,.2-1.3,1.2-1.1-1.3zM909.7,3049.2l2.1-.3 .6,.2 1.6-.9 1.1,1.2 .4,2.6-.9,.4-1.6-.4-2.2,.9-1.3-1.1zM906.9,3048.4l-.2,.8-.5,.6-.6-.5-.6-.5 .1-1 .7-.3 .6,.1zM907.5,3057.2l-1,1.1-1.2,0-1.2-.6 0-1.4 1-1 1.1-.2 .9,.7zM978.5,3051.4l.9-.9 2.1,.9 1.3-1.1 .4,2.2 .2,1.7-1.3-.5-2.5,.9-1-1.1zM986.5,3044.7l-.1,.7-.9,.5-.9-.2-.4-.6 .1-.8 .9-.3 1.1-.1zM987.3,3054.1l.1,1.1-.9,.6-1-.3-.3-1.1-.2-1.3 1-.6 1,.4zM1075.3,3039.6l.4,1.4 1.4,2.4 .3,1.5 1.5,.8 1.6,2.3 2.3,.6-1.8,.8-1.4-.2-1-1-.9-1.1-1.8-1.1 .2-2-1-2.1zM1074.9,3032.7l-.4,1.6-1.3,.8-1.6,0-.8-1.3-.1-1.6 1.5-.7 1.5,.2zM1088,3050.4l-.1,1.6-.5,.9-.6-1.1-.6-1.2 .1-1.5 .6-.7 .6,.8zM1053.8,3028.8l1.8-.8 2.5,.4 1.3,1.4-.3,1.2-1.8,.9-1.8,0-1.1-.5-.7-.6zM1047.9,3026.1l-.4,.9-.8,.6-1.2-.1-.8-.6 .3-1 1.1-.7 1.2,.1zM1066.3,3025l-.4,1.2-.6,1-1.1-.6-.4-1.1-.1-1.2 .7-.8 1,.6zM737.1,2517.3l1.7-1.8 1.4-1.1 .9-2 1.1-1.6 2-.5 1.4-1.4 1.3-.4 .7-1.6-.4-1.6 .6-2.2 .5-1.5-.4-1.9 .9-1.8 .9-2.8 .2-1.3 2.5,.1 1.2,.6 2.1,1.3 1.4,1.6 0,1.9 1.6,2.4 1.5,.6 .8,2.4 .9,1 1.6,.8 0,1.3 1.2,2.6 .8,.6 0,2.4-1,1.9-.7,1.7-1.2,2.3 .5,2.2 .3,2.2-.8,1.5 .9,1.9-.6,2-.4,.9-.7,1.4-1.2,2.5-2.3,1.5-2,1.1-1.6,.4-2.6,.2-1.6,1.1-1-.4-2.6,1-1.5-1.3-.7-.6-1.7-2 .9-2.1 .1-2.5 .5-1.9-.5-1.3 .2-2.3 1.9-.5 .8-2.1-1.9-.8-1-.4-2,.2-1-1-2.2-1.7zM733.1,2515.7l-.2,.7-.8,.5-.7-.4-.7-.3 .4-.6 .6-.5 .9,0zM751.3,2490.7l-.5,1-1.7-.1-1.1-.7-.7-1.1 .9-.8 1.5-.1 1.1,.7zM772.7,2511.1l-.2,1.2-.4,.8-.7-.4-.7-1-.1-1.3 .6-.4 .7,.1zM761.5,2536.9l.2,1.4-1,.9-1.1-.7-1.1-.7 .1-1.4 .9-.9 1.4,.1zM755.7,2544.9l-.4,.7-.6,.3-.4-.6 0-.7 .3-.6 .6-.3 .4,.5zM747.1,2545l-.8,.9-1,.6-.6-1-.2-1.3 1-.8 .9-.5 .8,.6zM742.9,2529.9l-.6,.8-.8,.7-1-.1-.8-.4 .3-.8 .9-.4 1-.2zM738,2523.7l-.4,.9-1.2,.6-1.3,.3-.9-.4 .3-1 1.3-.7 1.2,0zM838.8,2431.3l1.2-1.3 .7-1.7 1-2.7 0-1.2 1.7-1.6 .4-.8 1.9-.9 .9,2.2 1.7,1.3 2.2,.8 2,1.3 .7,1.5 1.4-.1 1.8,1.2-.1,1.4-1.6,1.4-.5,2 .2,2.1-.3,2.3 .6,1.4 1,1.4-.3,1.7-.9-.3-2,.5-1.6,.8-2.3,0-2.4,.1-1.2-1-1.3-1.1-.5-2-2.7-.5-.7-2.4-.2-2.3-.4-2.4zM842.8,2445.6l-.8,.5-1,.4-1.3-.3-.4-.6 .7-.5 1.1-.3 1.3,.2zM834.4,2441.9l-.7,1.2-1.4,.6-1.8-.6 .3-1.7 .6-1.2 1.5-.4 1.5,.6zM854.4,2458.7l1-2 1.6-.7 .4-1.1 1.9-1.1 .9,1 2.2,.9 .8,2 .6,2.2 .5,1.8 .9,1.8-1.8,1-.7,.9-2.4,1.1-1.9-.4-.2-1.6-1.8-1-.1-2.1-1.3-.8zM870.6,2455l-.9,.7-1.4,0-1.3-.3-1.1-.7 1.2-.7 1.4-.2 1.4,.4zM855.8,2468.2l-.7,.3-1.5-.2-1.3-.7-.3-.7 .6-.3 1.5,.3 1.4,.6zM853.5,2473.3l1-.5 2.1-2.6 .8-.8 1.8,1.3 0,1.1 2.1,1.5 0,2.3-.7,1.6 .7,1-2.3,.6-1.2,.1-2.4-.7-.5-1.1-.4-2.2zM858.3,2464.8l-.6,1-1.1,.3-1-.4-.8-.9 .6-.9 1.2-.4 1,.4zM840.8,2490.9l.8-1.9 2.2-.7 .9-1.3 2.3,1.5 1.6-.1 1,1.5 1.8-.8 2-2.3 1-.8-.2,2.2-.4,2.2 1.3,1.2-.7,2.2 0,2.3-1.4,1.1-.5,2.5-1.3-1.6-.9-2-.7-1.3-2,0-1.4,.9-2.5,.1-.9-2.4-.9-.7zM841.5,2489.3l-1.2,.3-1.2,.2-1.5-.5 .2-.6 .2-.5 1.4,0 1.3,.4zM850.9,2484.9l-.1,1.3-.8,.8-1.2,.1-.8-1.4 .3-1.4 .8-.6 1.1-.1zM857.6,2485l-.1,1.5-1,.8-1.2-.5-1-1 .1-1.6 1-1.2 1.3,.8zM867.2,2497.8l.1-2.2 1.1-1 1.7-2.6 1-1.1 .8-.1 2.3-.1 1.8,.2-1.2,2.4-.9,1.9 .1,1.6-1.2,2.1-.2,1.1-1.2,.6-1.3,2-1,.7-1.9-.7-.2-.9 .9-2zM867.1,2497.3l-.1,1-1.4,.4-1.3,.2-1-.7 .4-1.1 1.3-.6 1.4,.1zM870.4,2488.5l0,.8-.6,.7-.8-.4-.5-.6 0-.9 .7-.7 .8,.5zM878.6,2497.5l-.3,.6-.8,.2-.7-.3-.5-.5 .4-.6 .8-.2 .7,.4zM865.6,2506.6l-1,.5-1.1,.4-1.3-.6-.2-.9 .5-.9 1.4,.2 1.4,.3zM792.9,2506.5l1.7-.9 1.3-2.2 .9-1.7 1.2,.7 2.4-1.1 1.3,.4-.6,1.7-.5,2.9-.9,1.2-1.3,.3-2.6,1.7-.9-1.2zM806.8,2498.2l-.5,1.1-1.4,.6-1.5-.1-1.1-.9 .9-1.1 1.3-.6 1.5,.1zM791.9,2514.4l2-1.3 1.9,.3 2,.6 1.2,2 .7,1.3-1.5,1.3 0,1.8-1.4,1.8-1.3-1.4-2.2,0-1.4-.6 0-1.4 .4-1.8zM788.4,2512.4l-.3,.5-.6,.3-.5-.4-.1-.6 .2-.6 .7,0 .6,.3zM808.1,2518.2l-.6,1-.8,.4-.9-.4-.2-1.2 .4-1.1 1-.6 .7,.8zM799,2524.2l-.2,1.1-1.2,.3-1.2-.4-.2-1.1 .4-.9 1.1-.5 1.2,.3zM788.8,2523.6l-.9,1.4-1,0-.8-.7 .2-1.5 .7-1.4 1.1-.1 .6,.9zM800.7,2512.4l1.9-1.3 .9-.6 2.1-1 2.2,1 1.3,1 1.4,1.9-.6,1.1-2.3,2.3-1.1,.5-2-.9-.6-.1-2.2,0-1-2.7zM818.2,2514.3l-1.1,.9-1.2,.2-1.2-.6 .1-1.4 .8-1.1 1.3-.3 .8,1zM804.6,2528.1l2,.7 2.2,.1 1.7,.1 1.3,.1 1.6-1.6 1.9-.9 2,.1-.1,1.5-.2,2.2-1.8,3 .1,1.5-1.3,1.6-1.7,1.2-.9,1.1-1.1-2-1,.1-1.8-2-.8-1.3-.6-2.6-1.3-.9zM804.6,2442l1.7-.8-.1-2.7 1.9-.6 .4-1.7 1.9-.8 2-.2-.5,2.2-2.1,1.4-.3,1.3-1.6,1.9-.6,.1-.8,1.9-1.3-.7zM804.9,2444.7l-.2,1-1.5,.6-1.4,.1-.9-.6 .3-1 1.4-.8 1.3,.3zM808.6,2431.7l-.1,1.8-1.4,.5-1.3-.3-.9-1.3 .3-1.6 1.2-.7 1.3,.4zM815.5,2445.3l-.8,.8-1.4,0-.8-.9-.9-1.1 1-.9 1.4,.3 1.1,.7zM804.7,2449.1l.1,1.2-.9,.9-1.2,0-.8-1.2 .2-1.1 .6-1.2 1.4,.2zM814,2459.6l2.2-.4 1-.5 1.1,0 1.1,1.8 .8,1.1-1.5,.8-2.3,.3-1.1,.3-1.3-2.1zM810.7,2459l-.2,.8-.7,.4-.9,0-.6-.7 .3-.9 .8-.4 1-.1zM822.8,2456.8l-.5,1-.9,.9-1.3-.2-.8-.6 .3-.9 1-.7 1.2-.2zM826.8,2461.2l-.4,.6-1,.3-1.1,.3-.4-.5 .3-.6 .9-.5 1.1,0zM750.8,2457.1l2.2,.3 1-.8 1.7-.3-.5,1.4 .5,1.9-1.8-.3-.5-.2-2.2,.5 .1-1zM761.2,2450.2l-.1,1.3-.3,1.1-.7-.6-.5-1.5 .1-1.5 .4-.6 .6,.3zM759.2,2468.8l1.5-.7 1.8,.8 1-1.1 .5,2.5 .1,1.1-2.1-.6-.2,1.1-2.2,0 .6-2.3zM758.3,2468.8l-.4,.8-1.3,.1-1-.7-.6-.9 .9-.7 1.3-.3 1.1,.9zM858.4,2411.7l1.6-1 1.1-.7 2.1-1.2 1.9,.4 1,1.9 1.1,.6-.3,2.4-1.4,.8-1.3,1.7-1.2,.5-1.7-1.9-1.4,.4-.8-2zM851.4,2408.6l-.2,.9-.7,.2-.7-.2-.5-.8 .4-.9 .7-.3 .8,.2zM865.6,2407.5l0,1.4-1,.4-.8,.1-.9-1 0-1.4 .8-.6 1,.2zM885.7,2403.9l2,0 2.2,.1 1.5,0 2.8-.8 1.3-.3-.2,.9 1.2,2.1-2.5-.2-.9,1.5-2.6,.1-1.5-.1-1.3,.6-1.3-1.2zM883.7,2404.5l-.6,1.5-1.3-.1-1.2-.4-.2-1.4 .4-1.5 1.4-.2 1,.8zM902.3,2404.1l-.4,.6-1,.5-1.1,.1-.8-.3 .5-.7 1-.4 1.1-.2zM726.4,2519.3l.9-1.2 2.2-.6 1.9-.5 1.8-.7 .1,1.2 .9,1.8-1.4,.8-1.3,.9-2.8,2.2-1.3,.9-.1-1 .1-2zM737.8,2512.3l-.9,1.3-1,0-.7-.7 .3-1.4 .5-1.6 1.1,.2 .6,.7zM727.9,2525.3l0,1.7-1.6,.4-1.5-.4-1.1-1.3 .6-1.8 1.6-.2 1.4,.3zM714.7,2485l1.6,.1 2.3-1-.1,2.1 .1,1.8-1.8,.6-1.6-.6 .4-2zM725.6,2481.2l-.5,1.2-1.2,.5-1.1-.8 .3-1.2 0-1.4 1.3-.3 .8,1zM869.1,2463l1.3-.5 2.2-.2 2.4,1 1.9-.7 0,1.9-2.5-.1-.8,.8-2.7-.5-1.2,.2zM882.6,2459.4l-.3,.9-.5,.6-.9,.1-.6-.8 0-1 .7-.5 .8,.1zM826.9,2735.2l1.6-1.4 2.2,.8 1.1-1.4 2.2,.1 1.1,.5 1.5,1.1 2.1,.3 1.6-.6 2.4,.2 1.5,.2 2.3-.8 .9,1.3 1.8,.8 2.2,1.8 .4,2.1-.8,.8-.6,2-2.3,1.4-1.4,.2-2.2,.4-1.1,0-3.1-1.4-1.5-.7-1.1,.1-2.5-.4-1.6-1.5-1.8,0-2-.2-1.9-1.8-1.3-2.5zM852.4,2732.6l-.2,1.2-.7,.5-.8-.3-.2-1.4 .3-1.2 .7-.5 .7,.4zM857.8,2739.4l-.4,.6-1,.3-.8-.6-.5-.6 .4-.7 1.1-.1 .8,.5zM847.7,2748.8l-.4,.9-.7,.5-.6-.5-.4-.9 .3-.9 .7-.3 .7,.3zM839,2747l-.6,1.1-.6,.2-.6-.3-.2-1.3 .5-1.2 .7-.5 .4,.9zM824,2739l-1,1.3-1.5,.6-1.3-.8-.6-1.4 .5-1.5 1.7-.4 1.1,1zM804.4,2754.7l1.9-1.2 1.7-1.1 1.3-.6 1.4,.2 2.5-.3 1.9-.4 1.1,.5 1.1,.9 1.2,1.2 .6,1.8-.7,1.8-1.4,.9-.8,2.2-2.4-.3-1,1.4-1.9,.1-1.6-.2-.9-.5-1.9-1.7-1.1-.7-.5-1.6zM828.3,2755.4l-.5,.8-1.5,.4-1.2-.7-.9-.7 .7-.8 1.5-.2 1.2,.4zM808.3,2764.2l-.4,.8-.7-.1-.5-.4-.4-.7 .5-.5 .8-.5 .4,.8zM830.8,2771.4l.7-2.1 .1-2.1 1.2-1.7 1-1.2 2.1-1.3 1.8-1.4 2,.2 .9,.3 2,0 2.7-.2 1.2,.7 2-1.1 .9-1 2,.1 1.6,1.8 .6,1.5 1.7,1.6 .4,1.9-1.3,1.8-.1,2.2 1.1,2 .1,2.2 1.7,1.6-.9,1.6-1.1,.6-.9,1.7-2-.7-.6-.7-2.3,.5-.3-1.7-2.3-.5-.3-1.8-.9-.3-2.2-2.1-.8-.5-2.3-.1-.8,1.2-1.8-.1-2.3-.3-1.6,1.3-1.4-1.5-.1-1zM830,2772.5l-.7,.7-1.3,.5-1-.6-.9-.7 .6-.8 1.3-.3 1.3,.3zM831.6,2763.9l0,1.5-1,.9-1.1-.7-.5-1.4 .2-1.5 1-.7 .9,.7zM855,2757.1l-.6,1.2-1.2,.2-1-.5 .2-1.4 .5-1.1 1.1-.7 1,.9zM863,2761l-.6,.8-1.4,.3-1.5-.4-.8-.8 .8-.8 1.5-.1 1.3,.3zM861.8,2772.9l-.4,.5-.6,.3-.6-.1-.3-.5 .1-.5 .6-.2 .8-.1zM858,2784.8l-.3,.8-.9,.2-.5-.6-.5-.7 .6-.8 .8-.4 .7,.6zM848.5,2782.5l-.6,1-.9,.5-.6-.8-.3-1 .6-.9 .9-.6 .7,.7zM833.4,2777.2l-.9,.6-1.2,.3-1.1-.4-.6-.7 .6-.7 1.2-.1 1.1,.2zM820.1,2764.5l.5-1.3 1.4-2.7 2-.9 2-.7 2.4,.8 1.5-.1-.6,2-1.3,1.6-.1,1.3-1.2,1.5-3.4,1-1.3,.4-.1-1.5zM853.3,2759.6l-.1-1 .7-2.1 1.2-2.3 .2-1.4 1.1,.3 3-.3 1.6,0 1.1-1 .7,2 .3,1.9-1.1,.6-1.3,1.1-2,1.8-.5,1.4-2.1-.2-1.5-.2zM853.3,2752.1l-.3,1.5-.9,.8-.8-1-.5-1.4 .6-1.4 .8-.7 .9,.5zM868.2,2754.6l0,.6-.6,.4-.6-.2-.5-.4 .2-.7 .5-.5 .7,.3zM825.9,2775.3l1.9-.7 1.3,0 2.7,.7 .6,2.2 0,1.2 1.4,1.5-1.6,1.6-2.3,.3-1.8-1.7-1.2-1.2-.5-2.4zM841.3,2783.9l-.2,.7-.9,.4-1.1,0-.4-.6 .2-.7 .9-.4 1.1,0zM823.8,2778.4l0,1-.5,.4-.7,.1-.4-.9-.1-.9 .4-.7 .7,.2zM866,2776.2l2.1-.9 .7,.1 2.1-1.1 1.9,1 1.4,.8 .6,2.1-.5,2.4 .4,1.8-.9,1.7-1-.6-2.5-.8-1.3-.6-.9-1.8-1.6-2.2zM862.1,2773.1l0,1.4-1,.2-.9-.2-.7-1.1 .6-1.1 .7-.5 1,0zM869.6,2787.3l-.5,.5-1,.1-1-.2-.2-.6 .4-.4 .9-.2 1.1,.3zM813.2,2782.1l2.6-.9 1.3-1 2.5-.8 1.5-1.2 .6,1.3 .3,2.6-1.1,1.4-1.2,.7-.8,1.3-1.8,1.5-2.1-.7-1.4,.7 0-2-.4-.8zM826.3,2776.9l-.5,1.5-1.2,.7-1.3-.5-.7-1.2 .2-1.6 1.4-.3 1.2,.2zM813.9,2788l-.6,.5-1.4,.1-1.6-.2 .1-.7 .3-.6 1.4-.1 1.6,.3zM858.2,2791.9l1.7-1.2 .9-1.2 .8-1.4 .5-2.1 1.5,1.8 1.7,.4 .7,.8-.3,2-.6,1.9-1,1.9-2.4,.6-.4,.2-2.1-.8-.1-.9zM853.7,2791.2l-.3,.6-.9,.4-.5-.8-.3-.7 .6-.5 .7-.3 .7,.5zM868.4,2788.5l-.1,.8-1.1,.3-1.1-.4-.2-.7 .1-.8 1.2-.2 1.1,.2zM856.3,2800.6l-.5,1.2-1.2,.8-1.4-.5-.6-1.3 .7-1.1 1.2-1.1 1.4,.7zM847.4,2788l2.6-.9 1.1,.3 2.2-.4 1.2,2.1 .8,1.8-1.9,.1-2.2,1.1-1.8-.2-.6-1.8zM841.4,2786.1l-.1,1.3-1.2,.7-1.1-.6-.4-1.2 .2-1.3 1.1-.9 1.2,.8zM848.6,2794.8l-.8,1.4-1.6,.1-1.2-.8-.5-1.4 .9-1.2 1.5-.3 1.3,.8zM872.9,2789l2.3-.2 1,.3 2.5-1.1 .7,1.8 .3,2.1-1.9,.6-1,.2-2,.2-1.4-1.4zM884,2781.7l.2,.9-.6,.5-.7-.4-.5-.6 0-.8 .5-.5 .7,.2zM883.2,2791.9l-.1,.9-.6,.7-.8-.3-.7-.6 .2-.9 .6-.7 .8,.2zM872,2798.3l-.3,.7-.9,.4-1-.2-.2-.7-.1-.8 1.1-.2 1,.2zM823,2814.4l1.3-1.1 .2-2 .9-1.5 1.5-1.3 1.5-1.6 .5-1.5 2.7-.5 .4-.6 1.8-1.7 .6-.4 1.2-1.5 1.4-2.2 1.7-.7 1.4,.7 2-.7 1.2,.5 2.2-.5 1.3,2.2-.8,1 1.4,1.6-2.2,1.7-1.2,.3-1.4,1.9-2.3,.5-1.5,.8-2.1-.3-1.8,.9-.5,.8-.7,1.5-1.9,1.7-2,1.5-1.6,.3-1.3,1.5-1.8-1.4zM818.9,2819l-.6,.5-1.1-.3-1.1-.4-.2-.7 .7-.3 1,.1 .9,.4zM825,2811.4l-.4,.7-.8-.1-.6-.5-.1-.7 .4-.8 .9,.2 .7,.4zM841.1,2791.8l-.3,.6-.6,.3-.6-.3-.4-.5 .3-.7 .7-.2 .7,.1zM853.1,2792.2l-.5,1.6-1.3,.5-.8-1.2-.4-1.2 .4-1.7 1.3,.1 .9,.6zM845.6,2805.6l-.1,.7-1.6,0-1-.7-.4-.6 .4-.5 1.4,0 1.2,.5zM845.7,2811.3l-.6,.8-1.2,.3-1.3-.5-.3-.9 .5-.9 1.3-.3 1.2,.6zM859.2,2802.6l1.2-2 1.6-.2 1.1-1.7 1.7,.2 1.6-.4 2.6,.2 .5,1.3 .3,1.5 1.1,2.1-.7,.8-2.4,1.9-.8,.2-2.7-.3-.8,.2-2.4,1.1-.6-2.2-1.1-.3zM880,2803l-.5,.9-1,.5-1-.6-.2-1.1 .6-.8 .9-.4 1,.5zM869.5,2809.5l-.4,.8-.9,.3-1-.4 .2-1 .3-.9 1-.3 .7,.7zM859.3,2810.6l-.7,.8-1,.1-.7-.8-.4-1 .8-.8 1,0 .5,.8zM814.2,2830l1.9-.7 .5-2.3 1.8-.2 .7-1.7 1.1-1.6 1.9-.7 1.4-.4 2.4-1.2 2.4-.2 1.9,.3 1.4-1.2 2.2,.1-.2,2.1 1.1,.9-1.8,.9-1.9-.6-2.1,1-1,.6-1.3,1.2-2,.8-1.3,.5-2.2,.5-.8,1.3-2.1,2.6-1.1,.9-1.9-.7zM810.5,2831l-1,.5-1.1,.4-1.5-.1-.1-.7 .2-.6 1.3-.4 1.3,.3zM819.7,2825.1l-.5,1.2-1.5,.5-1.1-.9-.8-1.1 .8-1.1 1.4-.5 1.3,.8zM831.2,2817.1l-.9,.4-1.1,.3-1.4-.3-.3-.7 .5-.6 1.3-.1 1.2,.3zM833.9,2822.7l-.7,.7-1.1,.4-1.4,0-.5-.7 .7-.7 1-.5 1.4,.2zM861.1,2828.1l.9-1.2 2.4-.2 .6-1.6 2.3,.2 1.8-.3 1.6,0 1.2,.1 2.5-.5 1.5-.8 1.9-.6 .2,1.2-.6,2.4 .4,1.3-2.1,.4-1.2,1.1-2.6,.4-1.5,.6-2.8,.5-1.9,.3-1.6-.4-1.6-1.4zM855,2830.3l-.5,1.4-1.4,0-.8-1-.2-1.4 1.1-.9 1.3-.5 1,1zM861.5,2824l-.2,.9-.9,.2-.8-.6-.2-.9 .6-.7 .9-.6 .7,.8zM876,2821.5l-.2,.7-.4,.7-.7-.2-.5-.7 0-.9 .6-.4 .7,.1zM882.9,2822.6l-.5,1.2-.8-.2-.5-.4 0-1.2 .6-1.3 .8,.2 .5,.5zM882.9,2827.4l-.8,.7-1.5,.3-1.6,0-.7-.6 1-.5 1.2-.5 1.4,.1zM872.8,2830.5l-.2,1.4-.7,1-.7-.9-.3-1.4 .2-1.5 .8-.8 .6,1zM863,2832.1l-.4,.9-1.3,.6-1.5,0-.8-.7 .7-.9 1.2-.6 1.6-.1zM862.1,2841.7l1.6,.1 2.7,1 1.6-.1 1,1.1-.5,1.7 .5,1.9 .9,2.2-1.1,.5-2.5,1.8-1.3,.6-1.7-.9-.9-1.9-.3-2.1 .8-1.8-.4-2.3zM872.6,2837.9l-.6,1.1-.8,.5-.5-.8-.2-1.1 .5-1.4 .8-.1 .5,.6zM874.2,2852.8l-.2,1.1-1.1,.7-.9-1-.5-1 .6-.9 1-.7 1.1,.6zM858.8,2848.6l-.4,.8-1.1-.2-1.1-.4 0-.9 .6-.7 1,.1 .8,.5zM874.8,2854.4l1-1.2 .3-2.1-.5-1.2 1.5-2.5-.3-1.7 1.4-.9 1.1-1.3 1.4-1.8 1.1,1.4 1.5,1.9 1,2 .3,1.6 1.1,2.7 1.2,.8 1.2,2 .4,2.3 .1,2.1-.1,1.2-1,1.6-2.6-1.1-.7-.1-2.5,.2-2.7-.4-1.1,.1-2.1-.7-.7-1.8 .2-.7zM870.3,2855.9l0,1-1.3,.7-1.4,0-.8-.7 .3-1.1 1.2-.5 1.5-.3zM889.4,2847.5l-.2,1.3-1.1,.5-1.2-.1-.7-1.2 .5-1.2 .9-.6 1.1,.2zM892.5,2866.1l-.4,1.1-.6,1.2-1.2-.6-.5-1.3 .1-1.3 .9-.8 1.1,.4zM874.2,2863.5l-.5,.5-1.5,.1-1.4-.5-.6-.6 .7-.5 1.5-.1 1.5,.5zM888.5,2872l2.1-1.4 .1-2.3 1.9-.6 1.8-1.5 .9-1.5 2.5-.4 2.4-1.7 1-.3 1.7-1.4 1.5-.9 1.1-.8 1.6-.8 1.8,.2 2.1,1.7-.1,2-.4,2-.5,1.9 1.1,1 2.5,2.4 1.3,.5 2.5-1.1 1.6-.8 1.8-1 1.6-.7 .9-.1 2.4-.2-.3,1.5 .6,3 .6,1.3-1.8,1.1-.4,1-1.6,.8-2,1.1-2,.2-.9,.2-2.4,1-1.6,.5-1.8,2-2.1,.8-1,1.1-2,1.6-1.3,.4-1.6,1.9-.7,1-2.2,2-.9,.6-1,1.3-1.6-.3-2.9,1.2-1.4,.1 .7-2.2 .5-1.2-.2-2.5 1.6-.8 .2-1.7 1.9-2.4 .2-.9-.9-1.2-2.1-1.2-1.9-1.5-1.7-1.7-1-1zM885.5,2871.8l-.5,1.2-.9,.9-1.6,.2-.9-1.1 .6-1.2 .9-1 1.5,.1zM890.4,2865.3l-.3,1.2-.8,1-.9-.9-.5-1.2 .4-1.3 .9-.5 1.1,.1zM908.7,2855l-.3,.5-.8,.3-.6-.5-.3-.5 .4-.5 .7-.2 .7,.3zM912.8,2856.1l-.5,.9-.8,.4-.9-.1-.5-1 .3-1 .9-.3 .9,.2zM927,2863.7l0,1.2-.4,.7-.8-.4-.5-1.2 .1-1.2 .3-1 .8,.9zM932.2,2864.3l-.1,1.3-.8,.5-.9-.2-.4-1.2-.1-1.3 .9-.3 .8,.2zM920.1,2880.2l-.1,.7-1.3,.3-1.2,.2-.7-.4 .5-.7 1.1-.4 1.4-.3zM902.9,2890.6l-.5,1.1-.6,.6-.5-.7-.1-1.2 .6-.9 .6-1 .5,.8zM889.7,2895.8l-.4,.9-.6,.4-.4-.6 0-.9 .1-1 .6,0 .5,.4zM894.5,2882.9l-.4,1-1.1,.3-1.1-.4-.6-.9 .6-1 1.1-.4 .9,.5zM791.7,2866.2l.9-1.7 1.1-.9 1.9-2.3 .8,1.6 .7,1.5 .3,1.5 1.2,2.2-.6,1.3 .2,1.5-.6,2.1-2.2-.4-1.7-.6-.8-1.8 .1-1.6zM790.3,2862.6l0,.9-.7,.4-.7-.2-.5-.8 .2-.9 .6-.3 .8,0zM802.3,2866.5l0,1.2-.8,.2-.7-.4-.3-1 .3-1 .6-.4 .7,.3zM805.4,2862.3l.8-2.7 .9-1.6 1.1-.9 .1-2.7 1.5,1 2.5,1 1.3,1.4 .2,1.1 .4,2.4 1.4-1 2.8-.2 1.7-.8 1.7-.6 2.9-1.6 1.2-.7 .2,2 .1,2.7 .7,1.2-1.4,.9-1,1-1.9,2.5-.6,.5-2.5-.3-.8-.1-2.5-.6-1.1,1.6-2.7,1.7-1.1,.6-1.1-1.4-2.5,.7-1.3-1.3-.4-1.1 .3-2.4zM808.1,2851.1l-.6,1-1.4,.2-1.3-.7-.3-1.3 1-.7 1.3-.3 1.3,.6zM811.6,2855.6l-.7,1.5-1.5,.3-1.4-.3-.7-1.6 .7-1.5 1.5-.6 1.3,.7zM830.9,2853l-.8,1-1.2,.6-1.5,0-.7-.8 .7-1 1.1-.6 1.5,0zM818.5,2872.1l-.8,.4-1.2-.2-1.1-.5-.5-.6 .6-.4 1.3,.2 1,.4zM803.8,2868.8l-.7,1-1.3,.4-1.1-.8-.4-1 .4-1.1 1.4-.3 1.2,.7zM799.6,2882.8l.6-1.7 1.9-1.7 .4-2.5 1.5,.5 1.9,0 2.1-.1 1.3,.6 1.6,1.6 .7,1.9 .7,2.4-1.5,1.4-.9,2-1.3,1.3-.3,2.1-1,1.7-1.6,.8-1.4,.9-.8,1.5-1.6,.1-2-.2-1.3,.1 .6-1.2 1.1-2.7 1.4-1.8 .8-1.1-1-1.6-.2-2.6zM816,2893.9l-.5,.8-1.3,.3-1.7,0 .2-1 .2-.8 1.2-.3 1.3,.2zM805.8,2900.1l-.3,1-.6,.5-.8-.2-.5-1.1 .4-1 .6-.5 .9,.1zM797.8,2901.3l-.4,1-.9,.3-1.1,0-.4-1 .3-1 1-.4 1.1,.1zM950.1,2737.1l.5-1.1 1.6-1.5 1.8-1.3 1.5-.4 1.9,.4 1.5-1.1 2.7,.9 1.2-.7 .7,2.1 .3,1.8-1.5,1.3-.4,1.8-2,.8 .1,2.1-1.5,2.2 .4,1.5-2.2,1-.9,1-1.8,1-1.3-1.7-1.4-.9-1.2-.4 .1-2.1 .4-2.3-.3-1.5zM955.9,2730.9l-.5,1-1.1,.5-.9-.7-1.1-.8 .7-1.1 1.2-.2 1.1,.4zM962,2750.9l-.8,1-.8,.2-.4-.7 0-1.2 .8-.9 .7-.4 .6,.6zM945.6,2748.7l-.7,.9-.7,.6-.7-.5 .2-1.4 .4-1.2 .8-.4 .6,.6zM906.1,2737.1l1.3-1.1 .6-1.2 2-.6 2.1,.8 .9-.1 1.9,1.3-1.6,1.1-1.3,1.8-1.1,.7-1.8-.8-2,.1zM919.8,2832.9l-.2-1 .6-3.2 .5-.7 1-1.9 .3-2.1-.1-1.4 2-1.4-.2-1.9 .4,2.4 .2,1.3 1.4,2.1 1.8-.2 1.1-.8-1.7,1.5-.5,1.8-.7,2.3-1,1.3-1.2,1.8-.8,1.1-1.8,.1zM924.4,2814.8l-.5,1.2-1,0-.8-.3-.3-1.2 .6-1.1 .9-.3 .9,.5zM925.2,2835.4l.1,1.2-.2,.8-.7-.4-.6-1.1-.2-1.3 .4-.3 .6-.1zM938.4,2842.7l.7-2.6 1.1-1.7 1.1-1.5 1.7-.1 2.2-.9-1.3,1.5-.1,2.9-1.5,1.4-1.9,1.2-1.1,1.8zM934.9,2845.6l.2,1.4-1.6,.6-1.4-.3-.9-.9 .5-1.2 1.2-.9 1.6,.1zM942.5,2834.5l-.4,1.2-1.5,.4-1.3-.4-.7-.9 .3-1.3 1.5-.4 1.6,.3zM937.1,2851.2l-.3,.5-.5,.2-.6-.3-.2-.6 .4-.6 .6-.2 .6,.3zM832.8,2704.9l1.2-.2 2.1-1.9 2.6-.8 1.2,.2 2.8,.7 1.6,.6 1.2,.4-.1,1.4 1.3,1.9-.2,1.6-1,.2-2.3,.5-1.6,.3-.9-.6-2.7-.8-1.3-1.6-1.6-1.3zM848.8,2701.9l-.1,1.1-.5,.5-.6-.5-.6-.7 0-1.1 .6-.4 .7,.3zM842.9,2716.4l-.6,.6-1,0-.7-.6-.2-.7 .4-.7 1-.1 .6,.7zM824,2722.5l1.7-1.7-.5-1.4 1.7-.5 1-2.3 2.3-.5 2.2-.4 1.5,.5 2,.2 2.8-.8-.2,1.7 1.1,1.3-1.4-.6-3.2,1.2-.6-.6-2.6,1-1.1,.7-1.9,2-.3,1.1-1.6,1-1.7-1.2zM822.2,2724.8l-.8,1.3-1.3,1-1.4-.7-.7-1 0-1.5 1.6-.5 1.3,.5zM823.1,2714.4l-.6,1.4-1.2,.2-.6-1-.1-1.4 .7-1.4 1.3-.4 .7,1.2zM843.9,2713.2l-.7,1-1.5,.2-.9-.9-.8-1 .9-.9 1.4-.4 1.4,.8zM843.5,2719.8l-.5,.5-1,0-1-.5-.2-.7 .7-.5 .9,0 1,.4zM824.2,2729.2l-1.2,.2-1.1,.2-1-.7-.6-.9 1-.4 1.1,.2 1.3,.5zM905.1,2727.4l1.1,0 2.5-1.7 1.3-.3 .5,1.7 .5,2.2-1.4,.7-2.5,.3-1.1-1.7zM963.8,2880.8l.7-.9 1.8-2.7 1.4-1.2 1.8,1.1 1.1,1.8-1.7,1.2 0,.7-1.2,2-2.6-1.7zM962.6,2880l-.4,.7-.8,.5-.9-.3-.4-.7 .4-.7 .7-.3 .9,.1zM970.4,2871.7l-1,1.2-1.3,.2-1.1-.7-.3-1.6 .9-1.2 1.3-.3 1.3,.7zM977.3,2879.4l-.2,1.2-.8,.2-.8-.2-.2-1.1 .1-1.1 .7-.4 .7,.5zM970.5,2888l-.8,1-.9,.8-.8-.7 .3-1.6 .6-1.3 .9-.6 .7,.8zM888.5,2807.5l1.7,.8 .8,2 .7,1.6 1.7,.5 1.7,.5 1.6,.3 1.9,1.8 1.6,.3 1.6,.4 1.1,2.3 2.2,.3 1.4,0 1.7-.1 2.4,.5 1.4,.6-1,1.9-2.3,.4-1.7-1.7-1.7-.1-2.1,.4-2.4-.6-.7-1.3-2.3,.1-1.5-1.1-2.2-1.3-.3-.4-2.3-2-1-1.2 0-1.7-2-2.3zM890.6,2811.1l-.1,1.3-.8,.3-.9,0-.2-1.4 .2-1.2 .7-.6 .8,.4zM903.1,2810.3l-.8,.7-.8,.6-.7-.7 .2-1.3 .5-1.2 .9,0 .9,.4zM908.9,2820.1l-.2,1.1-1,.6-1.1-.3-.4-1.1 .2-1 .9-.6 1.2,.2zM917.9,2820.9l.1,.8-1.4,.6-1.3,0-.9-.3 .5-.9 1.2-.7 1.4-.1zM905,2821.9l0,1-.7,.1-.7-.1-.4-.9 .3-.9 .6-.3 .7,.2zM814.8,2725.4l2.2-.9 1.1-.1 .2,2.5 .4,1.4-2.2,0-1.3,.6 .5-2.3zM813.4,2724.7l0,.9-1.5,.7-1.3,.1-1.2-.3 .5-1 1.3-.9 1.5-.1zM820.4,2721l-.3,1.3-.9,.4-.7-.8-.1-1.3 .6-1.1 .8-.1 .9,.2zM824.1,2729.4l0,1-1.5,.5-1.2-.2-1.2-.6 .7-1.1 1.3-.6 1.5,0zM813.3,2734.5l-.2,.9-1.3,.3-1.1,.1-.9-.5 .6-.9 1-.6 1.3,0zM861.1,2723.5l.4-1.4 1.6-1.8 0-2.7 .8,1.6 .2,1.5 .4,1.8-.6,2.3-.8,.6 0,2-1.6-1.2zM864,2713.4l0,.6-.9,.3-.9-.1-.2-.5 .1-.6 .8-.3 1,0zM870.3,2720.1l.1,1.3-.3,.7-.7,.1-.8-1.6 .1-1.3 .1-1 .8,.4zM839.2,2856.4l2.3-.7 .7-.3-.2,1.4 .6,1.6-1.6-.3-1.4,.6-.9-1.8zM849,2849l-.3,1.4-1.2,.5-1.3,.1-.4-1.4-.2-1.6 1.3-.3 1.2,.1zM845.7,2860.4l-.5,1-.8,.2-.5-.6 .1-1.1 .5-.9 .7-.4 .6,.6z" fill="#f59222"/><path d="M348.9,2696.6l1.5-.4 1.5,.8 .8,.9-1.4,.5-1.6-.9zM342.1,2699l2.8,1 2.6,2.3 1.4,1.7-2.6-.8-2.9-2.5zM340.8,2703.7l-.3,2.2-1.4,2.5-1,1.3 .3-2 1.4-2.7zM355.8,2710.9l-.9,2-1.8,2-1.3,1.1 .9-1.8 1.9-2.2zM349.3,2679.1l2.2,1.8 1.5,3 .6,1.9-2-1.5-1.7-3.2zM372.9,2690l1.5,.6 .8,1.6 .2,1.2-1.5-.5-.9-1.7zM379.1,2687.9l.4,1.4-.5,1.7-.7,.9-.4-1.3 .5-1.8zM398.5,2735.6l1.9,.7 1.6,1.8 .6,1.4-1.7-.7-1.7-1.9zM383.2,2724.4l2-.5 2.2,.8 1.2,.8-1.8,.5-2.4-.7zM161.1,2367.4l.8,1.9-.4,2.3-.7,1.4-.7-1.7 .4-2.5zM140.3,2385.5l1.5,1 .9,1.9 .2,1.2-1.4-.8-.9-2zM158.8,2360.8l1.3,1.9 .2,2.5-.3,1.6-1.2-1.6-.3-2.8zM141.5,2387.6l1.5,1.3 1.2,2 .5,1.4-1.3-1.2-1.3-2.2zM154.5,2393.1l1.2,1 .9,1.8 .3,1.1-1.2-.9-.9-1.9zM175.4,2376.7l-.3,1.6-1.2,1.5-1,.8 .3-1.5 1.3-1.6zM202.2,2380.6l.6,1.9-.5,2.1-.7,1.2-.6-1.6 .5-2.3zM190.8,2373.8l1,1.5 .2,2.1-.2,1.3-.9-1.3-.3-2.3zM194.8,2367.7l.8,2.9-.5,3.7-.7,2.1-.8-2.7 .5-3.9zM203.3,2384.3l-1.2,2.8-2.1,2.9-1.6,1.5 1-2.4 2.4-3.2zM198.4,2392.1l2.6,.3 2.9,1.2 1.7,1-2.3-.3-3.2-1.3zM183.4,2412.9l.5,2.8-.6,3.5-.7,2.1-.5-2.6 .6-3.8zM223.6,2366.6l1.4,1.3 1,2.2 .3,1.4-1.3-1.2-1.1-2.3zM221.4,2385.8l2.1,0 2.3,1.2 1.3,1-2,0-2.5-1.2zM214.9,2371.3l1.4-.2 1.1,.9 .4,1-1.3,.3-1.2-1zM210.1,2367.8l2.3,1.1 2.3,2.1 1.1,1.6-2.1-1-2.4-2.3zM215,2378.1l2.5,1.5 2,2.8 1,1.9-2.3-1.3-2.3-3zM215.4,2378.1l.2,1.8-.6,1.9-.7,1.2-.3-1.6 .7-2.2zM225.4,2442.2l1.2,2.1 .6,3 0,1.8-1.2-1.9-.6-3.2zM224.3,2444l-1.4,1.9-2.4,1.4-1.7,.5 1.2-1.8 2.6-1.5zM161,1881.5l1.1,1.3 .2,1.9-.3,1.3-1-1.2-.3-2.1zM142.7,1867l1.5-.7 1.8,.5 1,.6-1.4,.7-1.9-.5zM164.2,1873l-1.4,1.7-2.3,1.4-1.5,.6 1.3-1.5 2.4-1.6zM137.4,1892l-.5,2.1-1.7,1.7-1.4,.8 .3-2 1.8-1.9zM175.2,1877.5l.9,1.7 .4,2.3-.1,1.4-.8-1.5-.4-2.5zM140.5,1878.8l2,2 1.6,3.1 .6,2-1.8-1.8-1.7-3.3zM144.7,1886.6l2.2,2.1 1.8,3.1 .9,2-2-1.8-2-3.4zM126.3,1887.7l0,1.6-.9,1.7-.8,.9-.1-1.5 1-1.8zM140.7,1877.3l1.2,2.8 .1,3.6-.3,2.2-1.2-2.5-.1-3.9zM137.8,1884.7l1.4,1.1 1.1,1.9 .4,1.3-1.4-1-1.1-2zM130.2,1869.3l1.1,1 .7,1.6 .2,1.1-1.1-.9-.7-1.7zM140.6,1874.5l.7,.9 .1,1.4-.2,.8-.6-.8-.2-1.4zM157.7,1880.2l.3,1.3-.6,1.3-.6,.8-.4-1.2 .6-1.5zM161.2,1889.5l.8,1.6 .1,2.2-.1,1.3-.7-1.5-.2-2.3zM139.3,1887.7l.1,1.2-.7,1.3-.7,.6-.2-1.1 .8-1.4zM123.2,1895.3l1,1.9 .3,2.5-.1,1.6-1-1.7-.3-2.7zM138.2,1889.4l1.2,1.8 .2,2.6-.2,1.6-1.1-1.6-.3-2.8zM155.3,1867.9l1.3-.1 1.1,.8 .6,.7-1.2,.1-1.2-.8zM155.5,1886.7l-.5,1.1-1.1,1-.8,.4 .4-1.1 1.2-1zM122.5,1886.6l1.9,2 1.2,3.1 .5,2-1.8-1.8-1.3-3.3zM149.4,1879.1l-.1,1.2-.9,1.1-.8,.4 0-1.2 .9-1.1zM143.7,1881l1.5,1.3 .9,2.1 .3,1.4-1.3-1.1-1.1-2.3zM214.7,1873.7l2.1,1.3 1.9,2.4 .9,1.7-2-1.2-2-2.6zM223.4,1877.8l.4,1.5-.7,1.5-.8,.9-.4-1.4 .7-1.7zM224.8,1880.6l3-.3 3.4,.9 2,1-2.7,.5-3.7-1zM221,1873l-.5,2-1.8,1.7-1.4,.6 .4-1.9 1.9-1.7zM126.2,1904.7l.4,1.3-.7,1.3-.8,.6-.5-1.3 .8-1.3zM117.4,1908.4l1.2,.2 .9,1 .3,.8-1.1-.1-.9-1.1zM116.4,1908.6l-.8,2.3-2,2.1-1.4,1 .7-2 2.1-2.3zM121.6,1916.2l-.6,2.6-1.8,2.7-1.4,1.5 .5-2.4 1.9-2.9zM114.8,1904l2.7,.8 2.9,1.8 1.6,1.3-2.4-.6-3.2-2zM189.2,1910l1.6-.5 1.9,.4 1.1,.5-1.5,.6-2-.4zM195.4,1915.9l1.3,1.1 1,1.8 .4,1.2-1.2-1-1.1-1.9zM204.7,1905.6l.9,2.1-.4,2.5-.7,1.5-.9-1.9 .4-2.7zM208.1,1907.2l-.7,2.7-1.8,3-1.3,1.6 .6-2.5 1.9-3.2zM215.2,1908.2l-.7,1.9-1.8,1.3-1.4,.4 .5-1.8 2-1.3zM224.7,1932.1l-.4,2.1-1.4,2.2-1.1,1.2 .3-2 1.5-2.3zM216.7,1929.9l.2,2.6-.7,3-.6,1.8-.2-2.3 .6-3.3zM221.4,1931.1l-.2,2.3-1.4,2.4-1.1,1.3 .2-2.1 1.4-2.6zM225,1926l-.8,2.5-1.8,2.6-1.4,1.4 .7-2.3 2-2.8zM214.1,1924.7l-.4,1.4-1.3,.7-1,.1 .2-1.3 1.4-.8zM206.3,1923.5l1.2-.5 1.3,.3 .8,.6-1.1,.6-1.4-.4zM143,1956.1l.9,3-.5,3.7-.7,2.2-.9-2.7 .5-4zM138.6,1971.6l.2,2.5-.8,2.8-.8,1.6-.2-2.2 .9-3zM135.5,1963.4l1.1,1.1 .2,1.7-.3,1.1-1-1-.2-1.8zM139,1958.6l1.7,1.2 1.4,2 .7,1.3-1.5-1-1.6-2.1zM140.5,1958.8l1.8,2.1 1.2,3.1 .5,2-1.7-1.9-1.3-3.3zM121.2,1950.4l1.1,2.4 .3,3-.2,2-1.1-2.1-.3-3.4zM136.3,1971.9l1.8,0 2,1 1,.8-1.7,.1-2.1-1zM125.4,1964l1.9,1.7 1.4,2.7 .5,1.8-1.8-1.4-1.5-3zM178.4,1974.3l2.9-.2 3.4,.7 2,.7-2.6,.3-3.7-.8zM172.6,1989.2l-.5,1.1-1.2,.8-.9,.2 .4-1 1.3-.8zM183,1981.3l-.3,3-1.6,3.2-1.3,1.8 .1-2.7 1.7-3.5zM72.5,2023.7l-1.1,1.9-2.2,1.3-1.5,.5 .9-1.8 2.3-1.4zM83.6,2043.9l-.6,2.2-1.8,2-1.4,1 .5-2.1 1.9-2.1zM65.7,1946.6l2,.7 1.5,1.9 .6,1.4-1.9-.5-1.6-2zM63.7,2010.6l1.6,1.2 .7,2.1 0,1.4-1.5-1-.7-2.2zM91.6,1993.2l.2,1.3-.9,1-.9,.4-.2-1.3 .9-1.1zM97.2,1989.2l1.8,1 1.8,1.8 .8,1.3-1.7-.8-1.8-2zM85.7,2052.4l0,1.9-1.4,1.5-1.2,.7 0-1.7 1.5-1.7zM79.8,1955.4l-.6,2.5-1.9,2.4-1.5,1.2 .5-2.3 2-2.6zM65.3,2027.5l.8,1.5 .1,2-.2,1.3-.7-1.4-.2-2.2zM85.2,1996.6l2.7,.8 2.6,2.2 1.3,1.6-2.5-.6-2.8-2.3zM99.6,2074.6l.8,2.7 0,3.4-.4,2.1-.8-2.4 0-3.7zM84.5,1995.3l-1.1,2.3-2.3,1.9-1.5,1 .9-2.1 2.4-2.1zM64.5,2035.9l.7,2-.7,2.3-.9,1.2-.7-1.8 .7-2.5zM66.1,1976.5l-1.1,2.4-2.1,2.6-1.4,1.5 1-2.2 2.2-2.8zM85.3,2038.6l1.7,2 1.2,2.8 .4,1.9-1.5-1.8-1.3-3zM82.8,1994.1l-.4,2.5-1.8,2.2-1.5,1.1 .3-2.3 1.9-2.4zM88.2,2040.1l-.2,1.4-.9,1.5-.8,.7 .1-1.3 1.1-1.6zM60.9,1990.7l.2,1.9-1.2,1.8-1.1,.8-.2-1.7 1.2-1.9zM70.8,2010l-.1,1.3-.9,1.1-.8,.6 0-1.2 1-1.3zM76.3,1940.7l2,1 1.3,2.3 .4,1.6-1.9-.9-1.4-2.4zM95.2,2067.8l-1.4,2.5-2.4,2.6-1.6,1.5 1.3-2.3 2.5-2.8zM103.7,2047.2l-.6,2-1.5,2-1.1,1.1 .5-1.8 1.6-2.2zM62.2,1996.6l1.6,1.6 1.1,2.4 .5,1.6-1.5-1.4-1.2-2.6zM59.2,2030l1.4-.4 1.4,.7 .8,.8-1.3,.4-1.6-.8zM64.1,1974.3l-.2,2.1-1.5,1.9-1.3,.9 .1-2 1.6-2.1zM75.4,2020l.4,3-.8,3.6-.8,2.1-.5-2.7 .8-3.9zM67,1977.4l1.4,.1 1.5,1 .7,.8-1.4-.1-1.5-1zM65.3,2011.5l2,1.7 1.8,2.7 .9,1.8-1.9-1.5-2-2.9zM64.2,1936.1l-.7,2.2-1.7,2.1-1.3,1.1 .6-2 1.8-2.3zM66.3,1973.8l1.2,1.2 .1,1.7-.4,1.1-1.2-1-.1-1.8zM88.6,2073.2l-2,2.3-3.2,1.9-2.1,.9 1.8-2 3.4-2.2zM77.7,1936.9l2.4-.1 2.4,1.2 1.4,1-2.1,.2-2.7-1.2zM92.1,2048.3l-1.1,2.1-2,2.1-1.5,1 1-1.9 2.1-2.3zM83.6,2033.8l1.6,.7 1.5,1.5 .8,1.1-1.5-.6-1.6-1.6zM94.5,2014.3l.8,1.4 .2,1.9-.2,1.2-.8-1.2-.2-2.1zM76,1959.4l-.1,1.4-1,1-1,.4 0-1.3 1.1-1.2zM79.3,1990l3,.3 3.2,1.7 1.8,1.5-2.8-.2-3.5-1.9zM63.6,1951l1.9,1.9 .9,3.1 .2,2-1.8-1.7-1.1-3.3zM58.1,1997.2l1.7,2.5 1.4,3.4 .5,2.2-1.6-2.1-1.5-3.8zM73.6,2024.7l1.4,1.3 .8,2.2 .2,1.5-1.3-1.3-.9-2.3zM60.1,1997l-.5,2.3-1.6,2.2-1.2,1.2 .4-2 1.7-2.5zM90,2038.9l.4,1.8-.6,1.9-.6,1.1-.5-1.6 .6-2.1zM73.7,2025.2l.5,2.6-.6,3.2-.7,1.9-.4-2.4 .6-3.5zM62.1,2016.7l1,2.6-.1,3.4-.4,2-1-2.3 .1-3.6zM67.2,1991l1.9,1.1 1.2,2.2 .3,1.6-1.8-.9-1.3-2.4zM66.5,1990.3l.7,2.7 .3,3.4 0,2.1-.8-2.4-.3-3.7zM60.8,1935.5l.2,1.8-.6,2-.6,1.1-.3-1.6 .7-2.2zM63.8,1988.2l.6,1.3-.6,1.4-.7,.7-.6-1.2 .5-1.4zM89.2,2044.7l.3,2.7-1,3-1,1.7-.3-2.4 1.1-3.3zM69.9,1956l.9,1.9 0,2.4-.3,1.5-.9-1.6 0-2.7zM83.2,1978.6l1.3,1.7 .1,2.4-.3,1.6-1.2-1.6-.2-2.6zM86.1,2039.1l1.3,2 .6,2.8 0,1.7-1.2-1.7-.7-3zM77.4,2045.4l-.7,1.9-1.7,1.4-1.3,.6 .6-1.7 1.8-1.5zM59.4,2058.4l2.6,1.5 2.3,2.7 1.1,2-2.4-1.3-2.5-3zM63.4,2058.7l1.2,2 .2,2.7-.2,1.7-1.1-1.8-.3-2.9zM57.1,2053.1l2.2,1.8 1.5,3.1 .6,2-2-1.6-1.7-3.3zM67.4,2050.1l-.8,1.3-1.5,.8-1.1,.3 .6-1.2 1.7-1zM293.4,2049.7l-.5,2.2-1.8,2-1.4,1 .4-2.1 1.9-2.1zM291.2,2036.4l.9,1.9 .1,2.5-.2,1.5-.9-1.7-.1-2.6zM286,2055.7l1.5,1.6 .5,2.6 0,1.6-1.4-1.5-.6-2.7zM315.1,2040.2l2,1.6 1.3,2.8 .4,1.8-1.9-1.4-1.4-2.9zM316.4,2045.4l1.3,0 1,.9 .4,.9-1.2,0-1-1zM317.9,2090.1l-1.6,2.2-2.6,2-1.8,.9 1.3-2 2.9-2.2zM310,2049.6l1.6,.6 1.1,1.6 .4,1.2-1.4-.5-1.2-1.7zM298.3,2076.2l.8,.9 .2,1.5-.2,.9-.8-.9-.2-1.5zM306.5,2074.1l.8,1.1-.2,1.5-.4,.8-.7-.9 .1-1.6zM305.4,2079.8l.4,1.5-.7,1.5-.8,.8-.4-1.4 .8-1.6zM327.7,2132.8l1.2,2.7 .1,3.5-.5,2.1-1.1-2.4-.1-3.8zM338.9,2118.5l1.7,.5 1.6,1.4 .8,1-1.6-.4-1.7-1.4zM336.4,2175.7l1.6,1.2 .9,2.1 .2,1.4-1.5-1-.9-2.3zM330.4,2130.8l2.5,.4 2.5,1.6 1.3,1.3-2.2-.3-2.8-1.7zM330.8,2132.7l2.3-.2 2.7,.7 1.5,.7-2.1,.3-2.8-.8zM341.4,2167.1l1,1.5 .4,2.1-.1,1.3-1.1-1.3-.3-2.2zM345.5,2120.1l.3,1.6-1,1.6-.9,.9-.3-1.6 1-1.7zM344.1,2156.3l1.4,1.2 .9,1.9 .4,1.4-1.4-1.1-1-2.1zM349.1,2126.2l-.8,2.8-2,3-1.5,1.6 .6-2.6 2.1-3.2zM309.2,2210.6l.4,2.8-.5,3.5-.6,2-.4-2.5 .5-3.8zM311.4,2225.9l-.3,2.1-1.3,2.1-1.1,1.2 .2-1.9 1.5-2.3zM303.6,2242.8l2.3,1.3 2.2,2.3 1.2,1.5-2.1-1.1-2.4-2.5zM313,2223.6l.3,2.4-.6,2.9-.7,1.7-.3-2.2 .6-3.1zM314.8,2241.1l.4,1.6-.8,1.7-.8,.9-.5-1.5 .8-1.8zM303.8,2220.1l1.8,1.5 1.1,2.6 .3,1.8-1.7-1.4-1.2-2.8zM293.9,2260.2l2.8-.4 3.1,.8 1.9,1-2.5,.4-3.4-.9zM293.2,2252.3l-.7,1.4-1.6,1-1.1,.3 .6-1.4 1.6-1zM314.4,2225.9l-.7,1.8-1.7,1.6-1.2,.8 .7-1.7 1.7-1.7zM313,2245.3l.7,3-.7,3.6-.9,2.1-.7-2.7 .7-3.9zM536,2915.4l2,1.2 1.6,2.4 .6,1.7-1.9-1.1-1.7-2.6zM546.2,2899.3l.3,2.7-.7,3.3-.7,1.9-.3-2.5 .7-3.5zM540.1,2903.8l.3,2-.5,2.5-.6,1.5-.2-1.9 .5-2.7zM582.8,2956.3l1.2,.8 .5,1.4 .1,1.1-1.2-.6-.6-1.6zM591.9,2943.6l1.1,.5 .7,1.2 .3,.9-1-.5-.9-1.2zM600.2,2942.9l-.2,2.7-1.4,2.8-1.2,1.6 .1-2.4 1.5-3.1zM580.4,2960.3l2.1,2.2 1.4,3.3 .6,2.2-2-2-1.6-3.5zM428.4,2866.2l2.3,2 1.5,3.2 .5,2.2-2.1-1.8-1.7-3.5zM404.8,2946.8l.6,1.4-.5,1.6-.7,1-.6-1.3 .5-1.8zM975.2,3016.5l.1,2-.8,2.3-.8,1.2-.2-1.8 .9-2.4zM954.3,2991.7l2.2,.3 2,1.6 1.1,1.2-2-.2-2.2-1.6zM949.7,3017.7l-1.1,2-2,1.8-1.4,.9 .9-1.8 2.2-2zM961.4,2996.7l1,1.4 .2,2-.2,1.2-1-1.2-.2-2.1zM972.1,3034.2l1.6,.8 1.3,1.7 .6,1.2-1.5-.6-1.5-1.9zM971.1,3030.7l1.1,1.8 .4,2.6 0,1.6-1-1.7-.5-2.7zM1033,3040l2.8-.3 3.4,.8 2,.9-2.6,.4-3.7-.9zM1076.6,3014.2l1.5,1.4 1.2,2.2 .5,1.5-1.5-1.2-1.3-2.4zM755,2510.6l.2,2.4-.7,2.7-.7,1.6-.3-2.1 .8-3zM751.1,2508.6l1.3,.4 .9,1.2 .4,1-1.3-.3-1-1.3zM843,2432.1l.6,1.6 0,2.1-.2,1.3-.6-1.5-.1-2.2zM840.9,2762.6l2-.4 2.5,.4 1.4,.6-1.8,.4-2.7-.4zM905.2,2869.3l1.3,2.5 .8,3.3 .4,2-1.2-2.2-1-3.6zM897.9,2872.8l-1.5,1.7-2.4,1.5-1.5,.7 1.3-1.6 2.6-1.6z" fill="#eae6db"/><path d="M57.8,1897.0 225.6,1907.5 424.1,1910.9M225.6,1907.5 213.0,2213.0 206.8,2405.3 203.4,2479.9 200.0,2493.5 193.1,2500.4 186.3,2502.1 179.4,2491.8 167.5,2486.7 155.5,2490.1 149.7,2497.0 153.8,2514.1 152.5,2540.0 154.0,2563.0 155.0,2587.0 153.1,2595.5 154.5,2614.3 160.6,2628.0 169.2,2653.7 182.9,2665.6 187.3,2672.5 179.4,2682.7 164.1,2691.3 157.2,2706.7 152.1,2734.1 146.3,2749.5 139.4,2759.7 141.8,2775.1 140.1,2788.8 149.7,2795.6 155.5,2802.5 153.8,2816.2 145.2,2824.7 136.7,2826.4M424.1,1863.4 424.1,2010.1 556.8,2011.0 758.0,2006.5 890.7,1997.1 1024.8,1989.6 1043.7,2213.0 1060.8,2386.3M882.9,1863.4 890.7,1997.1M556.8,2011.0 558.5,2213.0 562.6,2410.5 565.4,2563.0 568.0,2969.3M206.8,2405.3 408.0,2408.7 562.6,2410.5 758.0,2406.8 990.6,2396.0 1060.8,2386.3 1111.0,2382.0M1036.8,2089.5 1111.0,2082.3M990.6,2396.0 992.3,2440.5 1002.6,2563.0 1024.2,2884.6 758.0,2900.5 749.4,2900.5 750.0,2905.0 753.0,2912.0M992.3,2440.5 1111.0,2432.0M57.8,2486.7 153.1,2595.5" fill="none" stroke="#fff" stroke-width="4.4" stroke-linejoin="round"/></g>
<path d="M836.8,2110.5 841.3,2123.4 854.9,2123.6 844.0,2131.8 848.0,2144.9 836.8,2137.1 825.6,2144.9 829.6,2131.8 818.7,2123.6 832.3,2123.4ZM337.9,2742.0 342.4,2754.9 356.0,2755.1 345.1,2763.3 349.1,2776.4 337.9,2768.6 326.7,2776.4 330.7,2763.3 319.8,2755.1 333.4,2754.9Z" fill="#58595b"/>
<path d="M655.5999999999999,2136.8Q670.8,2142.576 686.0,2136.8Q680.2239999999999,2152 686.0,2167.2Q670.8,2161.424 655.5999999999999,2167.2Q661.376,2152 655.5999999999999,2136.8ZM272.5,2666.1000000000004Q287.7,2671.876 302.9,2666.1000000000004Q297.12399999999997,2681.3 302.9,2696.5Q287.7,2690.724 272.5,2696.5Q278.276,2681.3 272.5,2666.1000000000004Z" fill="none" stroke="#231f20" stroke-width="3" stroke-linejoin="miter"/>
<text x="360.6" y="2234.2" font-size="42" stroke="#eae6db" stroke-width="0.7" fill="#58595b" textLength="123.1" lengthAdjust="spacingAndGlyphs">UTAH</text>
<text x="696.2" y="2325.2" font-size="42" stroke="#eae6db" stroke-width="0.7" fill="#58595b" textLength="243.4" lengthAdjust="spacingAndGlyphs">COLORADO</text>
<text x="297.6" y="2529.7" font-size="42" stroke="#eae6db" stroke-width="0.7" fill="#58595b" textLength="193.6" lengthAdjust="spacingAndGlyphs">ARIZONA</text>
<text x="735.4" y="2624.4" font-size="42" stroke="#eae6db" stroke-width="0.7" fill="#58595b" textLength="103.2" lengthAdjust="spacingAndGlyphs">NEW</text>
<text x="701.6" y="2681.8" font-size="42" stroke="#eae6db" stroke-width="0.7" fill="#58595b" textLength="172.7" lengthAdjust="spacingAndGlyphs">MEXICO</text>
<text x="853.3" y="2173.2" font-size="42" stroke="#eae6db" stroke-width="0.7" fill="#58595b" textLength="139.5" lengthAdjust="spacingAndGlyphs">Denver</text>
<text x="355" y="2808.5" font-size="42" stroke="#eae6db" stroke-width="0.7" fill="#58595b" textLength="155.9" lengthAdjust="spacingAndGlyphs">Phoenix</text>
<text x="694" y="2207.5" font-size="44" font-weight="bold" fill="#231f20" textLength="136" lengthAdjust="spacingAndGlyphs">South</text>
<text x="694" y="2255.5" font-size="44" font-weight="bold" fill="#231f20" textLength="276.1" lengthAdjust="spacingAndGlyphs">Canyon Fire</text>
<text x="309" y="2612.4" font-size="44" font-weight="bold" fill="#231f20" textLength="157.2" lengthAdjust="spacingAndGlyphs">Yarnell</text>
<text x="308.4" y="2663.5" font-size="44" font-weight="bold" fill="#231f20" textLength="173.2" lengthAdjust="spacingAndGlyphs">Hill Fire</text>
<text x="99.6" y="2969.8" font-size="39" stroke="#fff" stroke-width="0.6" fill="#8c8c8c" textLength="119.4" lengthAdjust="spacingAndGlyphs">150 mi</text>
<text x="99.6" y="3055.4" font-size="39" stroke="#fff" stroke-width="0.6" fill="#8c8c8c" textLength="134.6" lengthAdjust="spacingAndGlyphs">150 km</text>
<rect x="101.6" y="2984.6" width="200.6" height="7.6" fill="#8c8c8c"/><rect x="101.6" y="3004.6" width="124.9" height="6.6" fill="#8c8c8c"/>
</svg>
</body></html>
